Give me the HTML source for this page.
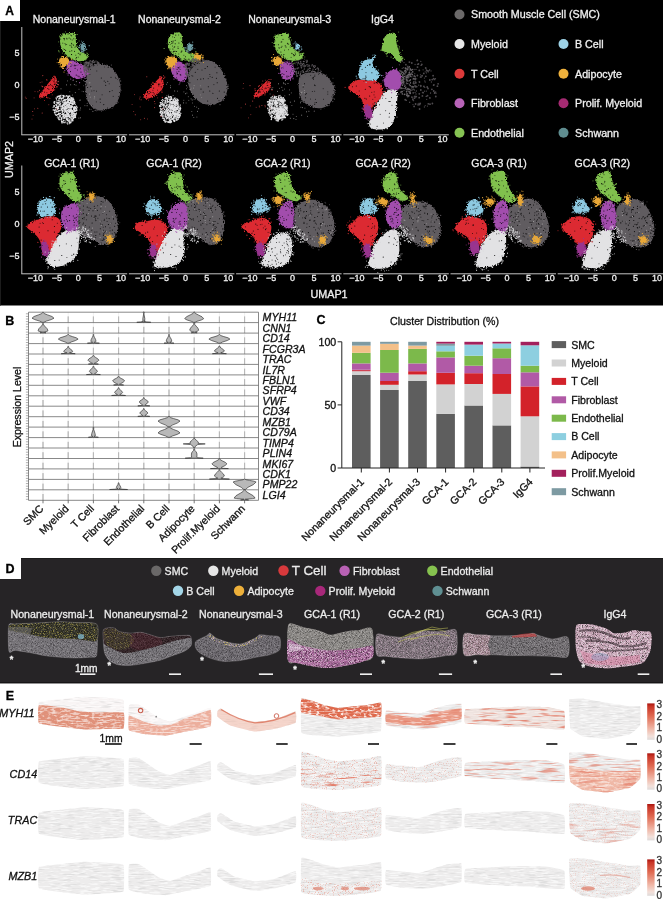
<!DOCTYPE html>
<html><head><meta charset="utf-8"><title>Figure</title>
<style>
html,body{margin:0;padding:0;background:#fff;}
body{width:663px;height:899px;overflow:hidden;}
svg{display:block;font-family:"Liberation Sans", Arial, sans-serif;filter:blur(0.3px);}
</style></head><body>
<svg width="663" height="899" viewBox="0 0 663 899">
<rect x="0" y="0" width="663" height="899" fill="#fff"/>
<defs><filter id="rough" x="-0.1" y="-0.1" width="1.2" height="1.2"><feTurbulence type="fractalNoise" baseFrequency="0.9" numOctaves="2" seed="3" result="t"/><feDisplacementMap in="SourceGraphic" in2="t" scale="3.2" xChannelSelector="R" yChannelSelector="G"/></filter></defs>
<rect x="0" y="0" width="663" height="305.5" fill="#000"/><rect x="0" y="21" width="1" height="284.5" fill="#1c1c1c"/>
<rect x="0" y="0" width="20" height="21" fill="#fff"/>
<text x="9.7" y="15" font-size="12" fill="#000" text-anchor="middle" font-weight="bold" stroke="#000" stroke-width="0.3">A</text>
<path d="M89.7,68.1C91.9,65.8 96.2,64.1 99.6,64C103.1,63.8 107.5,65.5 110.4,67.3C113.3,69.1 115.4,71.7 117.1,74.8C118.7,77.8 120,81.9 120.4,85.5C120.8,89.1 120.7,92.9 119.6,96.3C118.4,99.8 116.5,103.9 113.7,106.3C111,108.6 106.4,110.1 103,110.4C99.5,110.7 95.6,109.7 93,107.9C90.4,106.1 88.4,102.7 87.2,99.6C86,96.6 85.7,93.3 85.5,89.7C85.4,86.1 85.7,81.7 86.4,78.1C87.1,74.5 87.5,70.5 89.7,68.1Z" fill="#605b60" filter="url(#rough)"/>
<path d="M96.8 71h0M100.3 102.4h0M89.9 74.3h0M105.6 82.4h0M115.5 77.4h0M90.6 69.4h0M96.3 101.9h0M91.8 91h0M104.6 66.9h0M109.2 83.8h0M96.5 91.2h0M113.2 96.4h0M94 90.7h0M86.9 95h0M112.2 90.6h0M116 78.5h0M102.1 94.8h0" stroke="#000" stroke-width="0.75" stroke-linecap="round"/><path d="M108.2 67.3h0M104.2 81h0M87.6 87.5h0M86.8 84.1h0M107.4 108h0M107.8 81.3h0M101.3 77.9h0M103.8 104.6h0M111 77.3h0M100.1 99.1h0M90.8 86.7h0M109.8 91.6h0M105.7 85.2h0" stroke="#000" stroke-width="1.05" stroke-linecap="round"/>
<path d="M91.4 68.8h0M88.8 75.9h0M112.1 108.4h0M118.2 102.3h0M87.2 77.7h0M114.9 74.9h0M121.2 90.3h0M120.8 81.1h0M115.1 77h0M96.5 65h0M82.1 91.3h0M113.3 106.7h0M117.7 81.4h0M83.7 85.7h0M87.9 70.7h0M112.2 69.2h0M96.7 110.8h0M120.1 84.8h0" stroke="#605b60" stroke-width="0.80" stroke-linecap="round"/><path d="M111.3 68.2h0M86.7 98.7h0M87.2 103.3h0M84.9 81.4h0M104 66.2h0M120.2 80.9h0M100.1 64.6h0M117 102.9h0M97.8 110.1h0M118.3 97.7h0M90.8 104.9h0M119.1 79.1h0M119.7 78.7h0M83.5 91.6h0M87.2 81.8h0M108.7 107.5h0M95.2 110.4h0M111.4 65h0M106.9 65h0M120.1 89.5h0M93 107h0M112.8 102.8h0" stroke="#605b60" stroke-width="1.20" stroke-linecap="round"/>
<path d="M60.2 115.3h0M63 101.2h0M59.9 98.4h0M58.7 98.9h0M57.9 116.3h0M77.1 107.1h0M54.6 105.9h0M60.8 108.7h0M69.9 106.5h0M69.2 123.7h0M57.9 102.8h0M77.1 107.5h0M75.1 113.7h0M58.9 100.2h0M59.1 119.3h0M68.7 114.6h0M68.7 111.4h0M74.3 117h0M74.3 107.9h0M61.8 110.2h0M76.5 113h0M57 102.9h0M68.7 102.3h0M71.7 97.5h0M59.8 114h0M67.2 118.1h0M70.3 109.8h0M59.4 113.7h0M69.4 119.2h0M68.4 97.3h0M63.6 96.2h0M63.7 96.8h0M54.6 110.8h0M70.9 109.2h0M68.6 115.9h0M57.8 109.7h0M70 103.4h0M64.1 103.6h0M58.9 105.7h0M67.4 114.1h0M59.3 98.1h0M70.5 107.4h0M60.6 104.6h0M60.8 106.9h0M58.7 96.7h0M71.2 120.9h0M71.6 118.8h0M57.4 97.1h0M75 111.5h0M59.4 102.5h0M70.7 114.7h0M64.4 115.2h0M55.3 114.4h0M54.2 110h0M66 102.2h0M69.4 110.9h0M72 120.7h0M63.1 104.2h0M76.5 109.7h0M64 108.4h0M71.8 101.5h0M69.8 120.6h0M55.5 112.1h0M76.3 113.9h0M65.5 108.1h0M71.4 97.7h0M59.3 104.4h0M65.5 111.5h0M53.1 107.3h0M68.5 97.2h0M58 107.7h0M69.7 116.7h0M61.4 106.8h0M64.7 100.8h0M63.9 102.8h0M67.9 113.4h0M62.8 121.8h0M66.3 118h0M61.8 118.3h0M60 119.3h0M57.2 111.3h0M68.1 102.3h0M67.9 107.1h0M67.4 105.8h0M59.8 116.8h0M67.2 119.4h0M56.1 101.9h0M73.8 108.8h0M56.3 107.2h0M68.5 109.4h0M65.9 99.6h0M56.7 98.7h0M63.8 122h0M71.6 118h0M71.8 103.7h0M59.3 102.9h0M58.7 102.7h0M58.2 103.3h0M54 102.4h0M68.5 97.8h0M58.1 108.4h0M67.4 118.5h0M68.2 116.4h0M61.1 95.8h0M60.8 96h0M53.1 109.9h0M64.4 107.2h0M72.2 115h0M72.3 114.4h0M62.1 107.1h0M56.3 98.1h0M61.4 118.4h0M56.4 99.9h0M75.1 104.3h0M57.2 109.2h0M61.3 99.3h0M68.5 104.1h0M76.9 108.9h0M72.7 120.3h0M72.5 107h0M61.4 119.3h0M75.3 104.3h0M70.3 97.1h0M71.1 122.1h0M68.6 118.7h0M74.4 103.5h0M67.5 102.4h0M64.3 112.8h0M67.7 102h0M61.6 100.8h0M58.9 118.2h0M76.4 108.6h0M74.7 102.4h0M65.7 121h0M67.7 124.1h0M59.6 113.9h0M62.7 105.8h0M53.5 109.7h0M67.6 96.1h0M59.8 98.8h0M61.5 120.1h0M72.3 116.4h0M56 115.1h0M67.2 112.4h0M55 113.5h0M68.7 100.7h0M62.7 113.5h0M65 96.6h0M65.8 106.2h0M63.2 122.7h0M58.9 114.4h0M58.9 96.3h0M54.5 110.2h0M73.3 100.9h0M67.3 106.3h0M65.7 109.2h0" stroke="#e2e2e4" stroke-width="1.15" stroke-linecap="round"/><path d="M57.4 108.4h0M62.7 106.7h0M68.4 105.9h0M64 117.6h0M56.4 115.2h0M62.8 105.6h0M65.2 103.7h0M72.8 120.7h0M62.5 111.1h0M65.2 109.8h0M60.5 103.2h0M72.3 100.3h0M74.6 102.9h0M58.8 113.3h0M75.6 114h0M65.6 101h0M63.4 115.3h0M76.7 110.4h0M58.5 108.4h0M60 101.3h0M58.1 100.8h0M69.6 96.1h0M60.4 95.7h0M74.3 101.4h0M56.9 105h0M54.4 103.2h0M72.7 99.1h0M67 106.8h0M73.6 99.4h0M70.1 110.4h0M63 116.2h0M64.9 122.6h0M71.1 112.1h0M76.2 106.2h0M58.4 102.8h0M72.5 120.6h0M58.2 117.9h0M58.1 114.6h0M63.8 120.6h0M59.5 96.1h0M68.1 100.8h0M67.3 104.8h0M67.8 98.8h0M64.4 109.6h0M63.9 118.2h0M60.1 97.3h0M54.3 110.2h0M62 122.8h0M61.4 109.9h0M74.2 106.8h0M69.3 107.1h0M61.7 98.4h0M62.1 121.4h0M59.3 96.2h0M68.8 114.2h0M63.2 104.4h0M63 95.6h0M71.3 106.9h0M74.1 111.7h0M75.6 107.3h0M67.7 98.9h0M74 109.6h0M56.6 107.4h0M62.5 102h0M72.6 111.6h0M63.6 104.9h0M71.3 107.8h0M56.7 111.7h0M60.3 106h0M72.5 100.9h0M61.9 117.6h0M57.6 103h0M71.1 110h0M66.6 105.7h0M61.9 114.5h0M55.5 107.7h0M71.4 119.4h0M75.5 110.9h0M57.1 102.7h0M73.2 102.1h0M68.5 96.4h0M61.6 109.8h0M71.4 100.6h0M74.7 109.6h0M67.2 123h0M67.2 107.4h0M70 100.3h0M63.5 116.5h0M60.2 98.1h0M57.1 114.7h0M65.4 109h0M60.1 116.9h0M63.4 98h0M63.5 104.6h0M70.7 109.2h0M61.7 108.9h0M69.5 123h0M72.9 98h0M70.2 109h0M71.7 118.9h0M55.7 109.9h0M59.9 115.9h0M71.9 112.9h0M65.1 106.7h0M63 97.9h0M57.5 107.6h0M58.2 111.2h0M63.3 100.4h0M58.5 110.8h0M63.9 95.8h0M61.7 121.6h0M58.2 96.2h0M67.3 120.1h0M57.2 97h0M65.1 100.1h0M70.6 122.7h0M72.6 119.8h0M62.5 106.1h0M67.8 97.1h0M56.2 111.1h0M68.6 106.9h0M69 107.5h0M74.3 107.4h0M75.8 108h0M54.6 112.4h0M62.2 112.2h0M75.4 117.3h0M56.6 105.3h0M54 106.4h0M71.1 119h0M72.4 103.9h0M67.5 114.2h0M69.5 122h0M68.3 121h0M67.8 113.5h0M66.4 95.9h0M73.3 115.3h0M69 104.6h0M62.1 108.7h0M73.5 118.5h0M58.6 106.6h0M61.5 110.1h0M63.5 113.7h0M54 105.7h0M64.9 114.8h0M67.6 115.9h0M72.5 119.1h0M69.4 116.8h0M60.4 113.5h0M74.9 108.7h0M62.4 114.2h0M59.3 104.7h0M61.7 119h0M65.3 115.8h0M70.7 106.1h0M61.7 106h0M56 104.8h0M54.4 101.7h0M59.7 110.5h0M74.6 117.2h0M70.9 101.5h0M59.9 110.7h0M65.6 107.3h0M63.6 96.6h0M59.1 119.6h0M67.3 110.6h0M64.6 99.7h0M62.6 110.6h0M68.3 114.5h0M70.4 109.3h0M68.2 115.5h0M69.4 122.8h0M57.1 106.6h0M72 106.7h0" stroke="#e2e2e4" stroke-width="1.65" stroke-linecap="round"/>
<path d="M39.1,95.5C39.4,94.1 41.4,92 43.2,89.7C45,87.3 48.1,83.5 49.9,81.4C51.7,79.3 52.9,77.5 54,77.2C55.1,77 56.2,78.2 56.5,79.7C56.8,81.3 56.4,84.4 55.7,86.4C55,88.3 53.9,89.8 52.4,91.3C50.8,92.9 48.3,94.4 46.5,95.5C44.7,96.6 42.8,98 41.6,98C40.3,98 38.8,96.9 39.1,95.5Z" fill="#dc2c30" filter="url(#rough)"/>
<path d="M52.3 80.2h0M52.6 88.7h0M51.5 79.9h0M48.7 85.7h0M49.1 85.5h0M54.3 79h0M54.3 80.1h0M51.2 85.6h0M43.9 89h0M46.9 92.7h0M41.6 93h0" stroke="#000" stroke-width="0.75" stroke-linecap="round"/><path d="M50.6 84.3h0M55 83.1h0M45.3 87.5h0M54.3 84.4h0M53.4 87.1h0M47.8 88.5h0M50.8 91.5h0M44.5 92h0M54.1 81.1h0M48.9 89.2h0M52.6 86h0M52.5 88.6h0M54 81.8h0M55.2 84.8h0" stroke="#000" stroke-width="1.05" stroke-linecap="round"/>
<path d="M51.1 79.6h0M54.6 80h0M58.3 84.5h0M42.4 96.4h0M52.7 77.9h0M51.2 88.5h0M56.3 78.6h0M56.1 79.4h0M52.2 94.8h0M41.8 86.1h0M55.5 80h0M52 91.4h0M45.1 86.8h0M52.6 90.9h0M40.4 98.1h0M44.5 100.5h0M58.7 81.7h0M51.9 79.9h0M46.6 79.7h0M42.8 86.7h0M39.7 97.3h0M56.6 80.2h0M57.6 86.7h0M57.7 81.8h0" stroke="#dc2c30" stroke-width="0.80" stroke-linecap="round"/><path d="M42.3 95.8h0M52.7 90.4h0M51.7 80.5h0M54.1 76.2h0M56 79.3h0M46.6 97.4h0M39.7 97.1h0M52.5 79.5h0M52 80.6h0M49 91.7h0M45.2 91.5h0M47.9 97.8h0M55.1 81h0M45.3 86.9h0M54.7 89.8h0M55.1 76.5h0" stroke="#dc2c30" stroke-width="1.20" stroke-linecap="round"/>
<path d="M68.1,61.5C69.3,60.7 72.1,60.3 73.9,60.7C75.7,61 76.8,62.4 78.9,63.5C81,64.6 84.8,65.7 86.4,67.3C87.9,68.9 88.4,71.4 88,73.1C87.6,74.8 85.7,76.3 83.9,77.2C82.1,78.2 79.3,79 77.2,78.9C75.2,78.8 73.1,77.7 71.4,76.4C69.8,75.2 68.1,73.2 67.3,71.4C66.5,69.6 66.7,67.3 66.8,65.6C66.9,64 66.9,62.3 68.1,61.5Z" fill="#a24ead" filter="url(#rough)"/>
<path d="M76 65.4h0M71.9 65h0M80.4 68.7h0M77.6 70h0M74.4 61.4h0M75.5 65.7h0M77.9 64.9h0M82.3 74.5h0M70.5 63.2h0M77.8 76h0M80.4 77.9h0M79 76.3h0M74.4 77.7h0M74.4 65.1h0M83.3 76.5h0M79 77h0" stroke="#000" stroke-width="0.75" stroke-linecap="round"/><path d="M75.1 68.2h0M76.2 75.1h0M70.5 71.6h0M81 72.1h0M70.9 66.3h0M86.2 70.1h0M74.2 65.8h0M68.7 68.1h0M80.9 65.2h0" stroke="#000" stroke-width="1.05" stroke-linecap="round"/>
<path d="M67.5 67.5h0M72.3 61.8h0M64.5 65.8h0M81.7 79.2h0M74.2 77.3h0M70 70.2h0M67.5 60.5h0M87.6 74.1h0M76.5 61.7h0M68.7 67.3h0M73.5 80h0M67.1 73.7h0M87.4 74.1h0M89.8 73.6h0M67.4 62.2h0M69.7 69.5h0M89.1 68.5h0M68.8 73.4h0M67.7 64h0" stroke="#a24ead" stroke-width="0.80" stroke-linecap="round"/><path d="M80.6 64.9h0M83.1 66.7h0M64.3 66.1h0M68.1 75h0M78.8 78.2h0M66.6 69.2h0M77.7 64.5h0M68 62.1h0M63.6 63.5h0M67.1 65.4h0M78.9 64.9h0M64.8 70.5h0M88.2 73.5h0M66.9 69.1h0M84.2 77.1h0M79.6 82.7h0M70.7 79h0M81.6 64.3h0M69.5 68h0M83.3 66h0M62.9 68.1h0" stroke="#a24ead" stroke-width="1.20" stroke-linecap="round"/>
<path d="M60.7,36.6C61.4,35 62.6,34.2 64.8,33.6C67,33 72.1,32.4 73.9,32.9C75.7,33.4 75.2,34.6 75.6,36.6C76,38.6 75.7,42.5 76.4,44.9C77.1,47.2 78.2,49.2 79.7,50.7C81.3,52.2 84,53.2 85.5,54C87.1,54.8 88.7,54.8 88.9,55.7C89,56.5 87.5,58.1 86.4,59C85.3,59.9 84,60.9 82.2,61.1C80.4,61.4 77.7,61.2 75.6,60.7C73.5,60.1 71.4,58.9 69.8,57.8C68.1,56.7 66.9,55.3 65.6,54C64.4,52.7 63.2,51.7 62.3,49.9C61.4,48.1 60.4,45.4 60.2,43.2C59.9,41 59.9,38.2 60.7,36.6Z" fill="#80c04e" filter="url(#rough)"/>
<path d="M66.7 44.5h0M65.6 44.8h0M71.7 54.6h0M62.8 43.2h0M70.7 35.1h0M63.2 49h0M64.3 38.5h0M75 47.3h0M78.2 57.2h0M60.7 39.1h0M67 39.2h0M72.2 40h0M72 44.2h0M65 43.6h0M69.8 57.5h0M71.3 46.1h0M68.2 33.7h0M75.8 55.2h0M84.6 53.7h0M80.1 54.8h0" stroke="#000" stroke-width="0.75" stroke-linecap="round"/><path d="M73.5 34.1h0M74.5 51.2h0M80 54h0M69.1 37.9h0M78.3 53.3h0M76 58.8h0M71.6 35.7h0M76.4 57.5h0M73.6 45.1h0M64.3 39.7h0M68.1 33.9h0M65.7 50.5h0M71.5 54.5h0M64.7 49.5h0M71.5 43.2h0M69.8 51.3h0M70 45.2h0M63.9 38.5h0M76.1 46.1h0M70.7 39h0M71.8 50.7h0M73.8 38.7h0M71.8 47.3h0M66.8 38.3h0M86.4 55.7h0" stroke="#000" stroke-width="1.05" stroke-linecap="round"/>
<path d="M71.6 58.8h0M58.7 41.9h0M77.5 42.6h0M68.9 55h0M79.1 41h0M65.1 53.4h0M64.1 36.9h0M62.2 45.7h0M65.5 31.9h0M86.2 59.3h0M60.2 38.2h0M67.9 56.7h0M64.9 54.7h0M62.3 36.1h0M78.5 47.5h0M68.9 56.8h0M87.5 53.4h0M83.7 52h0M68.8 34h0M59.2 51.9h0M83.7 60.4h0M62.4 53.1h0M86.8 53.1h0" stroke="#80c04e" stroke-width="0.80" stroke-linecap="round"/><path d="M60.2 37.2h0M62.6 49.5h0M86 56.3h0M77.1 34.5h0M82.5 53.4h0M73.2 35.6h0M67 56.7h0M58.7 50.8h0M70.3 57.7h0M64.3 34.2h0M77.2 46h0M64 50.6h0M59.8 36.2h0M83.2 49.7h0M79.2 46.8h0M71.9 58.1h0M62.7 33.8h0" stroke="#80c04e" stroke-width="1.20" stroke-linecap="round"/>
<path d="M81.1,44.9C81.4,44.1 82.4,43.4 83,43.6C83.7,43.7 84.8,44.7 85,45.7C85.3,46.8 84.8,49 84.4,49.9C83.9,50.7 82.8,51 82.2,50.7C81.6,50.4 80.9,49.2 80.7,48.2C80.5,47.2 80.7,45.7 81.1,44.9Z" fill="#6f9ea6" filter="url(#rough)"/>
<path d="M79.7 45.4h0M80 50.9h0M82.2 48.9h0M83.3 41.6h0M82.9 46.5h0M82 50.6h0M78.6 47.7h0M81.5 41.2h0M84.2 43.6h0M82.3 52.1h0M82.3 47.6h0M84.5 48.8h0M83.1 48.1h0M80.8 46.3h0M84.9 50.1h0M82 44.2h0M83.6 45.3h0M84.5 50.1h0M82.4 42.5h0M85.1 48.6h0M83.7 50.3h0" stroke="#6f9ea6" stroke-width="0.80" stroke-linecap="round"/><path d="M81.5 48.6h0M83.7 51.9h0M86.4 49.2h0M81.6 51.8h0M79.6 47.7h0M82.4 44.6h0M81.8 51.2h0M84.3 43.9h0M84.2 43.5h0M79.5 45.5h0M81 49h0M86.7 49.3h0M82.3 42.6h0M89.2 45.7h0M83.7 46h0M83.8 50.6h0M85 50.1h0M80.4 44.2h0M85.2 45.1h0" stroke="#6f9ea6" stroke-width="1.20" stroke-linecap="round"/>
<path d="M59.8,59C60.6,58.1 62.1,56.9 63.5,56.8C64.9,56.8 67.2,57.6 68.1,58.5C69,59.4 69.4,61.1 68.9,62.3C68.5,63.5 66.7,64.5 65.6,65.6C64.6,66.7 63.5,69.1 62.8,68.9C62.1,68.8 62.1,65.9 61.5,64.8C60.8,63.7 59.3,63.3 59,62.3C58.7,61.3 59.1,59.9 59.8,59Z" fill="#e9a838" filter="url(#rough)"/>
<path d="M63.6 60.2h0M57.1 62.6h0M60 66.8h0M62.4 61.6h0M59.8 59.2h0M62.6 67.6h0M62.8 56.5h0M63.1 57.1h0M65.4 59.5h0M63.7 68.4h0M67.5 60.1h0M63.4 66.6h0M67.2 57.8h0M68.7 67.6h0M64.5 64h0M57.5 59.1h0M60.2 58.2h0M63.8 61.9h0M71.3 62.7h0" stroke="#e9a838" stroke-width="0.80" stroke-linecap="round"/><path d="M64 64.3h0M71.5 59.2h0M70.2 62.7h0M64 72h0M67.3 61.1h0M61.4 66.4h0M61.8 56.5h0M63.1 66h0M63.5 65.7h0M64.4 66.1h0M60.6 64.2h0M62.6 66.6h0M64.2 58.6h0M62.9 68.4h0M61.4 67h0M63.3 66h0M61.5 67.1h0M67.1 62.5h0M60.8 65.9h0M59.1 64h0M69 65.7h0" stroke="#e9a838" stroke-width="1.20" stroke-linecap="round"/>
<path d="M190.9,69.8C192.8,66.9 196.8,63.8 200,62.3C203.2,60.8 207.1,60.2 210,60.7C212.9,61.1 215.2,62.7 217.4,64.8C219.6,66.9 221.6,69.8 223.2,73.1C224.9,76.4 226.8,81.4 227.4,84.7C227.9,88 227.5,90.2 226.6,93C225.6,95.8 223.8,99.4 221.6,101.3C219.4,103.2 216.3,104.2 213.3,104.6C210.2,105 206.4,104.9 203.3,103.8C200.3,102.7 197.2,100.3 195,98C192.8,95.6 191.2,92.7 190,89.7C188.9,86.6 188.3,83 188.4,79.7C188.5,76.4 188.9,72.7 190.9,69.8Z" fill="#605b60" filter="url(#rough)"/>
<path d="M191.9 75.6h0M197.4 79.6h0M215.1 67.2h0M192.8 76.2h0M202 70.1h0M208.2 78.6h0M210.1 76.6h0M213.9 84.6h0M197.8 69.4h0M219 100.6h0M209.8 74.5h0" stroke="#000" stroke-width="0.75" stroke-linecap="round"/><path d="M224.2 92.1h0M219.3 91h0M189.9 82.8h0M207.4 66.6h0M205.1 68.5h0M217.2 82.7h0M207.7 101h0M216.9 72.7h0M195.3 72.3h0M209.8 91h0M216.4 78.2h0M200.8 79.1h0M203.4 78.7h0M212.2 77.2h0M201 89.1h0M217.5 98.2h0M208.3 86.7h0M212.9 93.3h0M203.2 92h0" stroke="#000" stroke-width="1.05" stroke-linecap="round"/>
<path d="M191.8 69.8h0M202.6 60h0M226.5 79.2h0M188.7 78h0M208.8 60.9h0M193.3 94.3h0M187.6 87.2h0M225.3 85.3h0M204.2 102.2h0M206.1 62.4h0M204.2 61.7h0M198.9 64.2h0M186.1 78.4h0M221 70.8h0M223.1 99.1h0M210.4 105.8h0M225.5 82.3h0M222.7 99.8h0M215.9 102.6h0M194 99.4h0" stroke="#605b60" stroke-width="0.80" stroke-linecap="round"/><path d="M226.6 95h0M214.1 104.2h0M211.5 62h0M227.3 87.9h0M210.8 104.2h0M224.6 75.3h0M189.8 73.3h0M223.1 78.6h0M228.3 88.3h0M212 102.2h0M221.2 97h0M220 104.6h0M196.9 63.2h0M223.6 100.2h0M207.6 61.5h0M189.3 81.5h0M228.2 86.2h0M223.3 98.7h0M218.8 68.1h0M186.8 77h0" stroke="#605b60" stroke-width="1.20" stroke-linecap="round"/>
<path d="M178.1 104.1h0M164.6 111.8h0M166.5 111.2h0M162.8 117.5h0M173.7 102.3h0M169.8 115.7h0M171.1 104h0M167.1 116.2h0M161.4 109.2h0M178.7 112.2h0M162.5 103.5h0M164.4 120.9h0M180.5 113.8h0M160.5 105.2h0M169.4 102.9h0M176 101.1h0M177 104.2h0M161.5 111h0M169.7 97.2h0M172.3 105.7h0M167.7 113.9h0M163 100.8h0M180.4 105.1h0M178.2 119.5h0M162 109.5h0M171.4 99.4h0M169.8 100.7h0M171.3 109.8h0M167.6 101.6h0M168.4 101.7h0M162.2 102.7h0M178.9 109.6h0M180.5 109.3h0M177.1 111.5h0M168.2 110.1h0M165.9 120h0M174.9 117.9h0M168.6 107.1h0M161.3 102.8h0M162.7 105.5h0M162.5 101.6h0M164.3 105.1h0M170.5 117h0M173.6 101.6h0M173.4 118.8h0M177 98.8h0M175.4 105.6h0M162.4 118.3h0M176 118.4h0M169.1 118.2h0M176.9 119.4h0M166.1 121.8h0M178.1 102.5h0M163.8 108.5h0M175.3 106.7h0M176.9 117.4h0M161.3 113.6h0M169.6 105.2h0M178.3 112.8h0M165.9 98.7h0M177.4 99.5h0M177.8 101.2h0M165.4 121.7h0M167.5 102.3h0M179.3 112.5h0M179.4 106.8h0M163 110.3h0M177.5 103h0M171.7 119.2h0M170.9 106.3h0M174.2 113.1h0M170.5 106h0M171.8 108.2h0M175.7 116.2h0M160.1 105h0M160.4 106.7h0M176.1 113.4h0M165.6 116.6h0M168.8 122.3h0M173.9 117.7h0M174.5 106.4h0M163 111.6h0M167.1 100h0M170.9 119.6h0M160.6 104.2h0M167.9 122h0M166.3 121.4h0M169.2 99.2h0M165.2 106.8h0M178.1 113.2h0M176.8 104.7h0M162.8 116.4h0M174.4 116.3h0M165.5 106h0M164.8 98.2h0M174.5 107.3h0M177.4 99.3h0M181 113.2h0M174.9 116.9h0M168.2 121.3h0M176 105.4h0M178.9 110.4h0M172.2 103.6h0M178.3 117.3h0M175.1 115h0M173.1 103.6h0M164.1 102.3h0M167.4 114.9h0M173.4 100h0M165.5 97.9h0M167 105.1h0M178.2 117.8h0M160.8 113h0M175.6 111.9h0M162.4 108.4h0M163.6 107h0M165.7 101.5h0M169.2 101.6h0M175.1 101.5h0M175.5 98h0M173.5 103.3h0M163.3 105.8h0M169.5 99h0M161.7 100.4h0M176.8 108.8h0M177.2 109h0M177.8 99.7h0M161.8 111.3h0M170.7 101.9h0M179.7 115.2h0M177 108.6h0M166.6 112.9h0M179.2 109.2h0M173.7 101.8h0M164.8 120.4h0M172.6 99.7h0M163.8 108.4h0M169.9 100.1h0M160.8 102.7h0M168.1 117.2h0M175.3 101.3h0M177.4 100.6h0M178.4 111.1h0M177.8 109.7h0M173.2 112.1h0M160.6 110.8h0M177.5 108.5h0M162.1 113.6h0M164 107.7h0M178.4 118.8h0M161.6 106.1h0M161.9 114.7h0M172.8 110.1h0M173 113.5h0M179.9 115.8h0M178.1 115.3h0M178.4 107.8h0M180.5 108.1h0M175.2 103h0M166.1 105.6h0M166.6 98.8h0M176.4 118.5h0M164.5 119.9h0M180 105h0M176.6 116.9h0M177.8 104.7h0M173.4 106.1h0M163 110.4h0M180.4 107.1h0M165.2 115.3h0M174.8 116.1h0M173.8 112h0M174.1 112.2h0M162.5 99.3h0M170.4 122.1h0M176.6 101h0M168.5 114.6h0M169.3 115.7h0M167 118.4h0M163.6 120.3h0M172.5 113.9h0M163.4 100.1h0" stroke="#e2e2e4" stroke-width="1.15" stroke-linecap="round"/><path d="M179.6 114.5h0M166.6 118.7h0M160.1 106.4h0M171.6 98.8h0M169 114.3h0M170.5 121h0M171.5 98.7h0M160.1 112.2h0M160.9 111.2h0M177 112.1h0M170.9 98.9h0M173.8 99.8h0M170.1 100.3h0M174.8 102.4h0M176.2 100.4h0M161.2 111.7h0M164.6 112.1h0M176.9 115.2h0M160.7 102.8h0M160.3 112.7h0M167 117.8h0M169.7 120.8h0M175.8 114.3h0M177.1 109.1h0M179.7 116.3h0M174.4 116.1h0M177.3 112h0M171.3 121.4h0M177 103h0M164.7 109.4h0M179.7 114.5h0M174.6 121.3h0M177.9 107.1h0M178.1 105.3h0M172.7 118.5h0M170.3 96.8h0M168.7 112.4h0M164.1 105.7h0M165.4 114.9h0M169.3 113.9h0M170.5 121.7h0M170.7 122.6h0M163.6 118.4h0M180.5 108.4h0M167.2 99h0M174.3 98.3h0M173.3 108.1h0M167.8 110.2h0M174.5 120.4h0M178.1 114.5h0M176.2 120h0M172.5 111.6h0M165.9 110.8h0M174.8 103.7h0M177.9 117.4h0M163 115.9h0M163.2 104.6h0M163.8 104.8h0M168 121.9h0M165.3 101.7h0M179.7 108.3h0M169.9 111.2h0M179.9 110.4h0M165.8 113.1h0M165.2 116.8h0M172 105.7h0M171.6 116.3h0M166.2 113.4h0M168.1 117.7h0M167.2 101.3h0M171 114.1h0M166.9 98.1h0M168.6 109.7h0M178.4 114.1h0M172.3 107h0M178.1 100.3h0M174.4 116.3h0M170.6 120.2h0M179.5 116h0M177.7 113.5h0M160.9 112.3h0M177.8 103.6h0M161.5 114.3h0M169.3 111.1h0M164.4 113h0M172.1 102.1h0M177.1 101.9h0M171.4 97.1h0M170.7 107.6h0M168.3 109.9h0M172.5 102.3h0M161 109h0M174.6 115.1h0M169.5 105.4h0M175.8 110h0M165.3 111.2h0M180 115.5h0M178.7 115.5h0M167.3 100.7h0M166.2 97.5h0M169.1 115.8h0M168 117.9h0M172.5 106.4h0M171.3 98.2h0M167.9 99.1h0M172.5 113.2h0M175.2 108h0M160.9 115.6h0M160.6 108.8h0M168.3 114.2h0M175.3 102.7h0M173.9 114.7h0M179.7 112.2h0M177.8 113.2h0M160.4 102.7h0M174.4 121h0M173.7 120.7h0M165.2 100.4h0M170.8 99.1h0M177 119.9h0M165.9 106.9h0M171.6 105.7h0M161.5 115.7h0M166.1 116.6h0M162.7 112.4h0M169.6 107.1h0M169.3 122.4h0M174 121.1h0M165.5 103h0M168.6 96.9h0M179.3 117.4h0M171.3 99.1h0M171.4 122h0M173.9 110.6h0M179.8 114.6h0M164.1 104h0M169.2 114.6h0M176.2 102.9h0M174.8 101.9h0M165.2 121.9h0M174.9 104.4h0M159.7 105.9h0M174.8 103.6h0M161.6 104.4h0M164.4 119h0M177.3 114.1h0M162.9 113.8h0M167.9 113.6h0" stroke="#e2e2e4" stroke-width="1.65" stroke-linecap="round"/>
<path d="M143.6,96.3C143.9,94.8 146.6,91.9 148.6,89.7C150.5,87.5 153.1,85.3 155.2,83C157.3,80.8 159.6,76.7 161,76.4C162.4,76.1 163.2,79.5 163.5,81.4C163.8,83.3 163.5,86.1 162.7,88C161.8,90 160.3,91.5 158.5,93C156.7,94.5 153.8,96.2 151.9,97.2C150,98.1 148.3,99 146.9,98.8C145.5,98.7 143.3,97.8 143.6,96.3Z" fill="#dc2c30" filter="url(#rough)"/>
<path d="M157.4 90.2h0M161.5 81h0M161.1 86.8h0M148.6 91.4h0M156.3 82.7h0M161.7 79.3h0M152.9 90.3h0M149.3 93.6h0M154.2 95.1h0M158.8 86h0M148.4 98.2h0M157.8 92.9h0" stroke="#000" stroke-width="0.75" stroke-linecap="round"/><path d="M149.8 91.3h0M148.1 93.7h0M146.6 97.3h0M153.7 88.1h0M150.8 92.5h0M154.1 93.8h0M151.3 87.2h0M153.1 92.4h0M158.9 84.7h0M161.6 87h0M159.8 84h0M146.5 95.6h0M158.4 84.1h0" stroke="#000" stroke-width="1.05" stroke-linecap="round"/>
<path d="M162.7 80.1h0M161.6 89.2h0M144.3 96.6h0M160.8 76.8h0M147.8 98.1h0M148.8 97.6h0M161.9 90.1h0M149.6 90.6h0M154.9 87.4h0M154.9 94.5h0M148.6 100.2h0M146.5 98.7h0M160.5 78.6h0M151.3 84.6h0M159.5 77h0M148.4 91.5h0M157.1 93.2h0M158.1 79.6h0M156.5 81.1h0M158 80.7h0M164.2 78.1h0M155.7 82.2h0M158.6 80.3h0M156.7 93.5h0M162.7 82h0M163.4 78.8h0M146.6 99h0" stroke="#dc2c30" stroke-width="0.80" stroke-linecap="round"/><path d="M160.1 76.9h0M145.4 95.8h0M162 92.2h0M162.3 97.4h0M162.8 86.4h0M156.7 95.2h0M152 86.7h0M164.8 77.1h0M148.4 90.4h0M152.9 82.3h0M161.1 87.8h0M153 83.1h0M157.2 86.1h0" stroke="#dc2c30" stroke-width="1.20" stroke-linecap="round"/>
<path d="M171.8,64C173,62.7 176.4,61.5 178.4,61.5C180.5,61.5 182.7,62.6 184.2,64C185.8,65.4 187.1,67.4 187.6,69.8C188,72.1 187.7,76.1 186.7,78.1C185.8,80 183.4,81.1 181.8,81.4C180.1,81.7 178.3,80.8 176.8,79.7C175.3,78.6 173.6,76.6 172.6,74.8C171.7,73 171.1,70.7 171,68.9C170.8,67.1 170.6,65.2 171.8,64Z" fill="#a24ead" filter="url(#rough)"/>
<path d="M176.9 74h0M186.2 69.5h0M180.1 69.5h0M185.9 77.4h0M171.4 67.9h0M176.8 72.1h0M186.4 74.2h0M177 79.7h0M179.9 67h0M176.5 77.8h0M173.6 75.2h0" stroke="#000" stroke-width="0.75" stroke-linecap="round"/><path d="M178.1 67.4h0M180.2 74.7h0M183.2 80.4h0M173.4 68.8h0M185.1 77.2h0M180.8 75h0M174 63.8h0M178.9 71.3h0M177 79.3h0M178.9 68.1h0M177.4 73.6h0M184 66.7h0M177.1 69.2h0M173.4 66h0" stroke="#000" stroke-width="1.05" stroke-linecap="round"/>
<path d="M185.1 65.5h0M179.9 80h0M171.9 71.4h0M170 68.8h0M172.6 63h0M179.1 84.6h0M187.6 73.5h0M180.2 79.6h0M182.1 79.7h0M184.3 80.8h0M172.9 61.5h0M180.5 81.7h0M174.9 61.6h0M169.9 64.9h0M188.5 78.1h0M179.8 58.5h0M186 78.8h0M186.5 65.4h0M173 70.6h0M187.4 72.5h0M175.1 62.2h0" stroke="#a24ead" stroke-width="0.80" stroke-linecap="round"/><path d="M174 79.1h0M173.5 69h0M187 63.2h0M172.3 60.4h0M175 77.6h0M169 66.4h0M189.4 68.1h0M186.9 72.9h0M173 68.3h0M182.9 64.1h0M178.9 64.3h0M184.9 78.8h0M182.9 81.6h0M185.5 78.4h0M174 70.1h0M187.3 63.5h0M184.5 81.2h0M184.7 74.1h0M179 62.4h0" stroke="#a24ead" stroke-width="1.20" stroke-linecap="round"/>
<path d="M168.5,38.3C169.2,36.2 170.8,35.1 172.6,34.1C174.4,33.1 177.7,32.2 179.3,32.4C180.8,32.7 181.2,34 181.8,35.8C182.3,37.6 182.2,41 182.6,43.2C183,45.4 183.4,47.5 184.2,49C185.1,50.6 186.2,51.5 187.6,52.4C188.9,53.2 191,53.6 192.5,54C194.1,54.4 195.4,54.4 196.7,54.8C197.9,55.3 199.7,55.7 200,56.5C200.3,57.3 199.5,59.1 198.3,59.8C197.2,60.5 195.2,60.5 193.4,60.7C191.6,60.8 189.5,60.9 187.6,60.7C185.6,60.4 183.7,59.8 181.8,59C179.8,58.2 177.7,56.8 175.9,55.7C174.1,54.6 172.3,53.9 171,52.4C169.7,50.8 168.6,48.9 168.1,46.5C167.7,44.2 167.7,40.3 168.5,38.3Z" fill="#80c04e" filter="url(#rough)"/>
<path d="M186.1 59.2h0M174.6 37.5h0M189.2 59.3h0M173.3 52.9h0M172.7 36.9h0M175.7 53.8h0M178.8 54h0M175.2 51.3h0M184.2 58.5h0M178.7 35h0M178 46.9h0M182 51.1h0M180.8 38h0M183.9 55.3h0M172.6 46.1h0M172.2 51.8h0M190.9 55h0M193.2 56.8h0M186.9 59.8h0M188.7 59.2h0M181.5 51.2h0M174.1 47.4h0" stroke="#000" stroke-width="0.75" stroke-linecap="round"/><path d="M185.5 56.8h0M174.7 46.8h0M178.1 48.5h0M168.4 44.2h0M181.1 52.1h0M172.9 42.7h0M172.9 49h0M170 44.4h0M175.8 35.1h0M173.1 41.1h0M173.5 51.3h0M170.9 51.8h0M176.6 51.4h0M175.2 43.7h0M173.1 34.4h0M174.3 51.3h0M171.7 41.5h0M169.9 48.9h0M191.3 56.8h0M171.8 43.2h0M169.5 42.4h0M178.9 43h0M175.2 40.3h0" stroke="#000" stroke-width="1.05" stroke-linecap="round"/>
<path d="M200.5 56.6h0M186.5 58.7h0M194.7 57.3h0M191.7 53.1h0M196 59.1h0M181.3 34.9h0M187.9 49.9h0M190.9 59.2h0M194.2 54.9h0M197.6 60.8h0M183.8 49.2h0M186.8 59.4h0M188.6 60.6h0M177.7 53.7h0M191.2 53.7h0" stroke="#80c04e" stroke-width="0.80" stroke-linecap="round"/><path d="M195.3 59.3h0M182.2 60.4h0M187.6 51.1h0M195.9 51.6h0M180.9 59.9h0M169.6 44.6h0M185.1 60.2h0M192.3 61.4h0M176.9 33.4h0M198.6 59.7h0M194.2 54h0M179 57.4h0M174.8 32.8h0M164.1 48.5h0M174.9 33.5h0M172.3 51.6h0M183.7 51h0M199.4 62.5h0M201.1 57.3h0M185.4 64.1h0M197.3 59.2h0M187.1 50h0M174.1 55.5h0M173.6 38.1h0M181.8 59.6h0" stroke="#80c04e" stroke-width="1.20" stroke-linecap="round"/>
<path d="M188.1,44.9C188.5,44.1 189.7,43.4 190.4,43.6C191,43.7 191.9,44.7 192,45.7C192.2,46.8 191.8,49 191.4,49.9C190.9,50.8 189.9,51.4 189.2,51.2C188.6,51 187.8,49.6 187.6,48.5C187.4,47.5 187.6,45.7 188.1,44.9Z" fill="#6f9ea6" filter="url(#rough)"/>
<path d="M187.9 47.9h0M191.2 49.8h0M192.1 47.1h0M191.8 46.3h0M189.4 46.7h0M194.9 48.6h0M190.6 50.5h0M188.4 47.6h0M188 52.5h0M186.5 48h0M188.1 48.7h0M188.9 44.8h0M192.8 48.4h0M192.5 47.7h0M186.7 51.6h0M192.9 45h0M186.6 50.5h0M188.8 46h0M191.2 47.3h0M187.2 49.1h0" stroke="#6f9ea6" stroke-width="0.80" stroke-linecap="round"/><path d="M184.9 49.9h0M188.3 49.2h0M192.2 48h0M185.7 47.9h0M187.1 51.4h0M192.1 47.8h0M192.7 47.4h0M190.1 48.5h0M190.3 48.2h0M192.7 42.1h0M184.8 47.6h0M188.3 45.7h0M192.1 49.2h0M187.3 46h0M192.1 44.3h0M189.1 44.4h0M189.7 43.1h0M191.2 48.8h0M189.9 46.4h0M188.9 45.8h0" stroke="#6f9ea6" stroke-width="1.20" stroke-linecap="round"/>
<path d="M166.8,58.2C167.7,57.2 170.1,56.7 171.8,56.8C173.5,57 176.1,57.8 176.8,59C177.5,60.2 176.8,62.6 175.9,64C175.1,65.4 173.1,66.9 171.8,67.3C170.5,67.7 169,67.3 168.1,66.5C167.3,65.6 166.7,63.7 166.5,62.3C166.3,60.9 165.9,59.1 166.8,58.2Z" fill="#e9a838" filter="url(#rough)"/>
<path d="M171.7 68.5h0M168.9 68.6h0M166 58.6h0M175.4 59.6h0M169.7 67.3h0M168.4 66h0M166.6 64.8h0M169.6 61.8h0M169.8 60.9h0M176.2 65.5h0M164.4 59.8h0M171.6 67.4h0M172.9 64.7h0M171.6 57.1h0M164.9 62.9h0M168 57.1h0M176.4 58.3h0M165.8 57.9h0M174.8 59.5h0M174.2 66.7h0M170.2 68.1h0" stroke="#e9a838" stroke-width="0.80" stroke-linecap="round"/><path d="M174.1 67.4h0M172.4 57.2h0M171.4 67.3h0M168.6 56.5h0M166 60.5h0M168.4 67h0M176 59.9h0M168.9 67.4h0M174.1 56.5h0M175.2 58.9h0M173.8 62.7h0M167.8 56.5h0M170.7 66.9h0M176.1 58.8h0M176 58.7h0M166.4 61.2h0M176.2 62.7h0M167.7 68.7h0M171.9 70h0" stroke="#e9a838" stroke-width="1.20" stroke-linecap="round"/>
<path d="M195,55.7C195.3,54.8 197.3,53.8 198.3,54C199.4,54.2 201.1,55.8 201.3,56.8C201.6,57.9 200.8,59.7 200,60.2C199.2,60.6 197.5,60.2 196.7,59.5C195.9,58.7 194.8,56.6 195,55.7Z" fill="#e9a838" filter="url(#rough)"/>
<path d="M195.2 57.2h0M200.4 55.5h0M199.2 56.2h0M201.2 55.3h0M196.4 60.7h0M196.9 55h0M197.1 57.9h0M198.3 59.7h0M195.3 61.3h0M196.5 60.3h0M199.6 56.9h0M202.9 56.7h0M200 55.4h0M195.8 54.6h0M196.8 53h0M200.7 59h0" stroke="#e9a838" stroke-width="0.80" stroke-linecap="round"/><path d="M199.9 62.6h0M198 56.4h0M199.9 60.7h0M200.5 55.6h0M197.9 60.2h0M195.7 53.2h0M194.7 54.5h0M203.4 62.5h0M203.1 57.4h0M197.4 57.4h0M203 58h0M197.7 55.2h0M199.1 58.4h0M196.9 59.6h0M201.3 54.3h0M198.2 53.8h0M194.4 57h0M194.4 61.7h0M202.6 57.7h0M194.4 58.1h0M195 55.6h0M192.8 53.6h0M203 55.3h0M202.3 59.1h0" stroke="#e9a838" stroke-width="1.20" stroke-linecap="round"/>
<path d="M299.5,77.2C300.9,74.5 304.1,73.8 307,73.1C309.9,72.3 313.9,72.5 317,72.8C320,73 322.9,73.3 325.3,74.8C327.6,76.2 329.5,78.9 331.1,81.4C332.6,83.9 334.5,86.6 334.7,89.7C334.9,92.7 333.5,96.9 332.2,99.6C330.9,102.4 329.2,104.5 326.9,105.9C324.6,107.4 321.5,108.3 318.6,108.3C315.7,108.2 312.3,107.2 309.5,105.8C306.7,104.4 303.8,102.7 302,100C300.3,97.3 299.5,93.5 299,89.7C298.6,85.9 298.2,80 299.5,77.2Z" fill="#605b60" filter="url(#rough)"/>
<path d="M315 102.7h0M312.3 91.5h0M323.4 99.3h0M310.7 75.3h0M312.6 105.8h0M318.4 74.2h0M315.4 99.4h0M314.7 91.3h0M313 77.9h0M323.2 88.7h0M327.8 94.2h0M305.6 94.6h0M312.3 78.2h0M310.6 99.1h0M331.9 96.8h0M327.8 91.9h0M315.2 74.6h0M332.7 95h0M315.2 85.6h0" stroke="#000" stroke-width="0.75" stroke-linecap="round"/><path d="M304.1 101.4h0M314.7 104.2h0M316.4 102.5h0M304.5 83.7h0M305.6 97.8h0M314.8 76.1h0M313.4 79.1h0M313.4 77.2h0M303.2 86.9h0M306.2 93.6h0M314.6 85.1h0" stroke="#000" stroke-width="1.05" stroke-linecap="round"/>
<path d="M299.9 96.7h0M299.8 75.7h0M333 78.3h0M299.9 84.8h0M321.2 108h0M312.1 74.8h0M326.7 102.8h0M325.8 105.8h0M301.3 83.9h0M329.3 78.6h0M334.8 87.1h0M330.8 84.6h0M333.3 85.5h0M303.9 75.1h0M318.6 69.2h0M331.7 90.9h0M333.2 98.6h0M303.1 72.7h0M320.9 109.5h0M304.1 76.7h0" stroke="#605b60" stroke-width="0.80" stroke-linecap="round"/><path d="M328 105.6h0M332.9 82.9h0M306.8 102.8h0M334.6 85.5h0M314.7 72.8h0M324.7 76h0M329 79.9h0M305.5 75.2h0M313.4 71.5h0M332.8 101.6h0M333.7 95.1h0M334.5 99.1h0M329.4 105h0M330.8 95.9h0M310.9 74.4h0M299.5 93.7h0M299.7 89.1h0M309 105.1h0M301.8 99.4h0M314.3 111.2h0" stroke="#605b60" stroke-width="1.20" stroke-linecap="round"/>
<path d="M282.9 112.1h0M275.1 111.9h0M276.4 97.7h0M275.1 108.8h0M276.3 111.5h0M272.8 100.2h0M278.4 107.7h0M270.4 105.2h0M273.7 110.5h0M277.5 115.7h0M277.7 100.6h0M270.4 100.4h0M279.2 112h0M275 97.5h0M269.4 109.4h0M284.6 107.4h0M271.6 104.3h0M279.7 100.3h0M277.7 119.7h0M281.4 102h0M279.4 109.1h0M271.7 117.7h0M272.4 96.2h0M273 108h0M275.9 99h0M286.1 108.4h0M278.4 99h0M269.2 101.4h0M272.1 96.7h0M283.4 111.8h0M270.3 113h0M277.2 107.6h0M268.1 109.8h0M271.7 104.1h0M286.7 114.3h0M276.7 98.5h0M283.3 104.1h0M279.7 99.3h0M268.3 104h0M272.4 108.8h0M274.2 98.4h0M279.4 99.4h0M286 112.8h0M272.3 112.7h0M276.9 116.7h0M271.2 116.3h0M282.4 115.7h0M282.8 106.9h0M276.7 101.1h0M280.4 117.2h0M288 114.2h0M278 117.2h0M273.5 113.5h0M273.8 117.4h0M275.1 96.7h0M285 112.1h0M274.4 100.8h0M278.2 110.9h0M272.9 112.8h0M283.3 100.3h0M278 110.9h0M283.3 110h0M281.4 110.2h0M280.8 117.8h0M278.9 116.2h0M285.6 111.1h0M282.5 103.8h0M269 105.3h0M274.5 102.4h0M280.7 117.8h0M273.6 110.3h0M267.8 105h0M279.7 99.7h0M275.2 97.7h0M281.2 117h0M284.9 117.8h0M273.6 100h0M276.9 106.9h0M271.1 103.3h0M272.4 105h0M284.2 109.1h0M283.4 109.7h0M270.5 103.9h0M269.3 100.1h0M273.1 98.7h0M269.4 103.6h0M279.9 107.1h0M276.5 96.5h0M276.7 111.5h0M272.3 101.3h0M282.8 114.9h0M285.6 117.6h0M272.2 103.6h0M276.6 98.7h0M280.6 98.8h0M280.1 112.5h0M277.5 116.8h0M272.2 112.3h0M281.2 106.9h0M287.3 110.4h0M278.6 109.4h0M277.7 117.3h0M276.5 106.1h0M278.9 119.1h0M274.5 105.8h0M282.9 115.1h0M279.6 111.7h0M285.7 105.8h0M274.1 111.9h0M278.1 96.2h0M282.8 119.5h0M279.7 119h0M274.3 113.9h0M285.5 117.6h0M277.1 120.8h0M271.8 106h0M286.8 115h0M274.7 96.1h0M279.1 109.1h0M274.5 109.2h0M272.7 98h0M284.1 117.3h0M276.9 101.6h0M271 113.9h0M274.5 116.6h0M277.4 115.6h0M272.6 111.4h0M285 104.3h0M276 117.3h0M281.9 116.7h0M276.7 110.7h0M281.8 113.9h0M274.1 97h0M272.9 101.7h0M269.5 107.1h0M287.3 111.9h0M269.3 110.5h0M284.3 107.6h0M270.6 105.3h0M276.8 109.3h0M279.3 108.2h0M284.4 117.4h0M269 112.9h0M276.1 120.6h0M284.8 101.6h0M277.9 109.4h0M272.1 116.9h0M277.2 120.4h0M286.2 107.5h0M275.9 110.4h0M278.4 100.3h0M269.9 114.9h0M274.6 103.9h0M271.5 118.7h0M283.2 117.2h0M268.4 112.6h0M285.2 113.9h0M277.2 110.2h0M283.7 117.7h0M276.7 115.7h0M278.5 117.5h0M272 113.1h0M280.3 113.2h0M270.8 109.1h0M272.2 100h0M285.7 104.4h0M281.5 108.4h0M268.1 104.2h0M275.5 101.4h0M278.9 108h0M280.6 106.3h0M272.3 104.4h0M281 104.2h0" stroke="#e2e2e4" stroke-width="1.15" stroke-linecap="round"/><path d="M273.3 108.7h0M274.6 108.6h0M287.1 108.3h0M277.9 119h0M272.5 102.1h0M282.1 101.6h0M272.5 101.8h0M271.4 109h0M270 113h0M277.8 117.6h0M275.2 97h0M281.5 101.4h0M268.2 104.3h0M269 104.5h0M277.7 108.7h0M280.8 108.8h0M274.4 97.5h0M271.7 115.4h0M278 120.5h0M282 107.3h0M283.7 104.2h0M273.6 111.6h0M273 104.3h0M284.8 116.9h0M271.2 100.1h0M281.6 109.1h0M269.9 109h0M286.9 106.1h0M273 107.4h0M280.9 112.8h0M275 118.6h0M276.6 113.4h0M278.1 120.9h0M277.9 110.5h0M283.8 100h0M284 105.9h0M278.7 100.2h0M271.1 97.9h0M277.5 117.9h0M281.3 118h0M271.7 106h0M278.4 119.8h0M279.6 106.3h0M280.7 97.2h0M278.3 99.3h0M272.8 103.1h0M280.3 106.8h0M277.9 100h0M276.8 98.5h0M284.2 104.9h0M274.7 116.5h0M276.3 101h0M279.7 115.8h0M287.4 115.2h0M270 113.4h0M278 114h0M282.9 108.8h0M267.6 101.9h0M276.8 103.8h0M271.6 117.7h0M278.7 99.3h0M286.9 113.1h0M276.8 114.2h0M271.8 111.1h0M279.9 106.9h0M286.1 114.1h0M270.9 116.5h0M270.1 112.1h0M269.5 103.1h0M284.2 112.9h0M271.3 108.1h0M277 117.3h0M283.7 105.7h0M284 115.6h0M279.1 113.7h0M273.1 111.2h0M272.2 115.5h0M279.6 112.3h0M286.5 109.7h0M278.3 99h0M271.1 103.3h0M281.2 109.4h0M270.1 103.8h0M280.3 107.2h0M283.3 97.9h0M280.7 117.8h0M279.4 111.2h0M274.7 112.2h0M287.1 107.2h0M273.7 113.7h0M278.6 113.1h0M274.9 109.7h0M285.9 111.7h0M282.1 112.4h0M286.9 109.3h0M270.1 101.9h0M281.9 120h0M283.6 110.3h0M279.2 115.6h0M274.3 112.2h0M282.4 109.7h0M279.1 95.7h0M275.8 110.1h0M267.8 108.2h0M286.9 107.6h0M269.1 105.8h0M278.8 117.2h0M278.2 113.8h0M281.6 100.9h0M272.3 101.7h0M276.2 119.1h0M284.2 105.5h0M270.8 107.2h0M275.1 111.2h0M280.2 103.9h0M275.5 114.8h0M274 101.1h0M272.7 104h0M278.7 97.4h0M278.7 113.4h0M281 97.4h0M279.2 113.8h0M275.4 110.3h0M277.1 110.8h0M287.8 114.6h0M279.6 116.6h0M278.9 117.5h0M273.6 100.4h0M278.9 98.8h0M272.1 101.4h0M269.6 106.7h0M281.8 98h0M268.8 101.7h0M275.3 99h0M285.8 108.3h0M269.2 110.9h0M275.2 110.8h0M276.8 116.5h0M285.7 108.4h0M284.2 99.2h0M274.3 97.3h0M269.7 100.1h0M271.7 112.2h0M271.3 119.5h0M285.2 114.7h0M274.9 117.1h0M280.6 107.1h0M279.9 99.5h0M277.3 102.9h0M284.2 107.8h0M275.6 118.1h0M278.6 111.7h0M278.4 113.3h0M280.9 111.8h0M285 100.6h0M271.6 107.1h0M286.3 109.1h0" stroke="#e2e2e4" stroke-width="1.65" stroke-linecap="round"/>
<path d="M253.1,95.5C253.4,94.2 256.1,91.8 258.1,89.7C260,87.6 262.8,84.4 264.7,83C266.6,81.7 268.7,80.8 269.7,81.4C270.6,81.9 270.9,84.7 270.5,86.4C270.1,88 268.7,89.8 267.2,91.3C265.7,92.9 263.2,94.5 261.4,95.5C259.6,96.5 257.8,97.2 256.4,97.2C255,97.2 252.8,96.7 253.1,95.5Z" fill="#dc2c30" filter="url(#rough)"/>
<path d="M264.9 88.7h0M263.3 91.2h0M253.5 95.3h0M258.3 91.1h0M258.4 91.6h0M261.6 89h0M269.6 87.6h0M257.8 96.5h0M266.6 88.3h0" stroke="#000" stroke-width="0.75" stroke-linecap="round"/><path d="M258.1 92.9h0M268.9 82.5h0M259.7 90.9h0M268.2 85.5h0M262.4 89.2h0M268.2 87.5h0M267.2 85.2h0M258.3 92.1h0M266.8 83.2h0M262.1 94.9h0M265.3 88h0M262.6 87h0M259.8 89.6h0M259.1 92.1h0M256.4 94.6h0M260.3 92h0" stroke="#000" stroke-width="1.05" stroke-linecap="round"/>
<path d="M258.9 95.8h0M268.6 88.3h0M270.9 87.4h0M263.6 86.1h0M269.8 89.2h0M270.7 85h0M268.6 83.5h0M259.1 96h0M261.2 87.6h0M266.2 86.7h0M255.7 90.6h0M261.9 95.2h0M262.3 88.8h0M267.3 80.7h0M270.7 82.4h0M270.5 82.8h0M255.1 90.7h0M264.1 84.5h0M258.3 97.5h0" stroke="#dc2c30" stroke-width="0.80" stroke-linecap="round"/><path d="M266.9 90.2h0M272 89.9h0M266.3 89.4h0M254.3 97.9h0M259.3 85.7h0M258.2 96.2h0M264.9 94.8h0M264.1 88h0M262 84.1h0M267.1 92.1h0M267.9 90h0M268.7 90.1h0M269.4 86.9h0M268 84.3h0M255.2 95.7h0M266.4 81.7h0M269 79.5h0M268.5 85.2h0M266 83.7h0M266.9 82h0M255 88.8h0" stroke="#dc2c30" stroke-width="1.20" stroke-linecap="round"/>
<path d="M295.7,44.9C295.9,44 297.2,43.6 297.9,43.7C298.5,43.9 299.5,44.9 299.7,45.7C299.9,46.5 299.5,48 299,48.5C298.5,49.1 297.3,49.8 296.7,49.2C296.2,48.6 295.5,45.8 295.7,44.9Z" fill="#8dc9e1" filter="url(#rough)"/>
<path d="M297 46h0M296.2 47.4h0M298.4 47.5h0M293.2 43.9h0M297 48.9h0M297.7 48.1h0M298 45.1h0M296.2 46.7h0M298.9 47.7h0M297.5 44.4h0M296.4 43.3h0M297.7 46.6h0M296 47.1h0M295.3 41.8h0M301.8 49.2h0M298.1 49h0M300.9 50.6h0M296.6 49.1h0M297.9 44.6h0M295.9 50.1h0M296.2 46.3h0M295.6 50h0M296.1 45.5h0M296.8 48.8h0" stroke="#8dc9e1" stroke-width="0.80" stroke-linecap="round"/><path d="M296.5 46.3h0M301.1 46.8h0M296.5 45h0M298.9 45.3h0M297.3 45h0M295 43h0M301.7 49h0M296 44.3h0M295.7 48.4h0M299.4 46h0M299.1 49.9h0M296.6 48.1h0M293.9 49h0M296.2 51.5h0M296.1 48.8h0M297.7 47.4h0" stroke="#8dc9e1" stroke-width="1.20" stroke-linecap="round"/>
<path d="M280.5,64C281.5,62.3 284.5,61.5 286.3,61.5C288.1,61.5 289.9,62.4 291.2,64C292.6,65.5 294.4,68.4 294.6,70.6C294.7,72.8 293.3,75.7 292.1,77.2C290.8,78.8 288.8,79.7 287.1,79.7C285.4,79.7 283.3,78.6 282.1,77.2C281,75.9 280.4,73.6 280.1,71.4C279.8,69.2 279.4,65.6 280.5,64Z" fill="#a24ead" filter="url(#rough)"/>
<path d="M292.8 69.4h0M286.9 77.1h0M291.5 66.8h0M281.5 68h0M282.2 73.6h0M289.7 64.9h0M286.6 71.5h0M291.3 71.1h0M286.1 63h0M287.5 77.8h0M280.4 71.1h0M283.9 62.9h0M290.4 64.3h0M290.6 73.1h0M293.3 71.7h0M281.2 74.2h0M280.9 65h0" stroke="#000" stroke-width="0.75" stroke-linecap="round"/><path d="M290.9 75.6h0M283.2 67.8h0M288.8 76.2h0M290.9 64.2h0M287 76.1h0M283.9 74.2h0M283.2 67.2h0M287.4 63.9h0" stroke="#000" stroke-width="1.05" stroke-linecap="round"/>
<path d="M281.8 62.4h0M286.1 62.6h0M290.6 80h0M291.5 62.8h0M287.9 77.9h0M295 68.5h0M291.6 75.6h0M293.5 65h0M292.4 75.9h0M282.2 78.1h0M280.5 62.6h0M292.2 63.1h0M280.7 65.3h0M293 78h0M284.3 75.6h0M289.7 61.8h0M290.2 65.8h0" stroke="#a24ead" stroke-width="0.80" stroke-linecap="round"/><path d="M290.5 80.1h0M293.2 66.9h0M287.6 78h0M293 78.8h0M291 63.2h0M283.6 67.3h0M284 75.9h0M278.9 73.4h0M290.4 79.7h0M286.6 78.8h0M285.3 63.3h0M285.9 79.1h0M292.2 61.5h0M281.8 66.3h0M282.4 63.7h0M287.4 59.8h0M292 72.7h0M290.5 63.5h0M287.2 62.1h0M286 64.1h0M285.4 78.8h0M290.6 78.3h0M292.5 76.6h0" stroke="#a24ead" stroke-width="1.20" stroke-linecap="round"/>
<path d="M274.7,37.4C275.3,35.6 276.7,34.8 278.8,34.1C280.9,33.4 285.3,32.6 287.1,33.3C288.9,34 288.9,36.3 289.6,38.3C290.3,40.2 290.3,43 291.2,44.9C292.2,46.8 293.9,48.5 295.4,49.9C296.9,51.2 299,52.4 300.4,53.2C301.8,54 303.5,53.9 303.7,54.8C303.8,55.8 302.7,58 301.2,59C299.7,60 296.9,60.5 294.6,60.7C292.2,60.8 289.3,60.5 287.1,59.8C284.9,59.1 282.9,57.7 281.3,56.5C279.6,55.3 278.2,54.3 277.1,52.4C276,50.4 275.1,47.4 274.7,44.9C274.2,42.4 274,39.2 274.7,37.4Z" fill="#80c04e" filter="url(#rough)"/>
<path d="M288.7 44.2h0M284.4 50.2h0M292 53.6h0M287.9 44h0M295.1 52.7h0M275.9 45h0M281.8 41.8h0M290.2 47h0M283.1 56h0M288.4 49.7h0M295.4 51.3h0M274.9 40.8h0M281.3 35.5h0M277.2 50.3h0M283.4 56.4h0M300.5 53.8h0M278.3 53.4h0M291.8 53.3h0M282 46.3h0M291.1 57.4h0" stroke="#000" stroke-width="0.75" stroke-linecap="round"/><path d="M280.9 55.3h0M293.9 55.7h0M279 47.7h0M283 39.2h0M283.9 54.4h0M287.4 43.2h0M286 47h0M285.1 57.9h0M278.7 34.8h0M281.2 42h0M295.5 53.9h0M293.4 54.4h0M281.3 54.8h0M281.9 35.3h0M299.3 53.1h0M277.2 37.5h0M274.7 41.1h0M294.7 55.2h0M279.3 48h0M285.2 45.7h0M278.4 44.7h0M289.1 39h0M299.6 55.1h0M280.9 51.9h0M281.2 47.3h0" stroke="#000" stroke-width="1.05" stroke-linecap="round"/>
<path d="M288.2 33.5h0M302.9 53.8h0M285.8 32.6h0M291.5 40h0M298.3 52h0M299.3 53h0M293.2 47.7h0M300.8 53.5h0M296.5 55.6h0M290.2 41.9h0M272.2 42.5h0M299.4 51.5h0M294.1 63.5h0M273.7 43.5h0M304.8 57h0M302.7 58.5h0M293.1 63.4h0M292.1 60.7h0M274.8 41.5h0" stroke="#80c04e" stroke-width="0.80" stroke-linecap="round"/><path d="M274.2 46.3h0M296.4 51.6h0M276.7 39.5h0M275.6 45.2h0M283.3 33.5h0M301.9 53.9h0M301 56.1h0M288.6 34.5h0M277.3 37.2h0M275.2 35h0M276.6 50h0M302 53.3h0M292.2 61.4h0M302.7 53.9h0M295.6 51.9h0M274.2 36.5h0M290.4 37.6h0M276.2 45.1h0M293.1 60.6h0M303.7 53.2h0M285.8 56.8h0" stroke="#80c04e" stroke-width="1.20" stroke-linecap="round"/>
<path d="M273.8,58.2C274.7,57.3 277.4,56.9 278.8,57.3C280.2,57.7 282,59.4 282.1,60.7C282.3,61.9 280.7,64 279.6,64.8C278.5,65.6 276.5,66 275.5,65.6C274.5,65.2 273.8,63.6 273.5,62.3C273.2,61.1 272.9,59 273.8,58.2Z" fill="#e9a838" filter="url(#rough)"/>
<path d="M275.8 57.3h0M273.8 58.7h0M276.7 58h0M278.4 62.9h0M280.8 59.6h0M274.4 63.4h0M280 58.8h0M281.5 56.7h0M281 63.5h0M275.8 61.6h0M277.9 64.4h0M279.8 63.9h0M273 64.7h0M274 60.5h0M277.7 68.4h0M272.2 57.3h0M283.5 62.2h0M282 59h0M276.9 64.7h0M282.7 64h0M279.2 57.2h0M272.9 59.4h0M272.2 60.4h0M271.5 61.6h0M278.5 65.1h0" stroke="#e9a838" stroke-width="0.80" stroke-linecap="round"/><path d="M280.5 66.2h0M274.2 61.6h0M273.5 54.5h0M277.1 56.8h0M274.2 61.5h0M278.1 57.3h0M282.7 62.6h0M271.7 60.4h0M274.8 60.8h0M281.2 58h0M274.5 57.4h0M277.9 56.5h0M271.5 57.6h0M279.7 59.1h0M280.7 60.1h0" stroke="#e9a838" stroke-width="1.20" stroke-linecap="round"/>
<path d="M369.2,122.9C369.5,120.4 371.1,116.2 372.5,112.9C373.9,109.6 375.8,106 377.5,103C379.2,99.9 380.5,96.9 382.5,94.7C384.4,92.5 386.9,90.5 389.1,89.7C391.3,88.9 394.4,88.6 395.8,89.7C397.1,90.8 397.4,92.5 397.4,96.3C397.4,100.2 396.6,108.5 395.8,112.9C394.9,117.3 394.1,120.2 392.4,122.9C390.8,125.5 388.4,127.6 385.8,128.7C383.2,129.8 379.2,129.6 376.7,129.5C374.2,129.4 372.1,129 370.9,127.8C369.6,126.7 368.9,125.4 369.2,122.9Z" fill="#e2e2e4" filter="url(#rough)"/>
<path d="M382.3 98.2h0M380.2 114.4h0M383.4 123.1h0M385.7 110.7h0M382.8 95.3h0M371.2 117.5h0M395.6 108.5h0M370.4 124.1h0M385.8 98.5h0M392 105.3h0M391.5 97.6h0" stroke="#000" stroke-width="0.75" stroke-linecap="round"/><path d="M378.5 101.4h0M379.5 104.8h0M375.7 108.1h0M389.2 116.9h0M377.1 126.2h0M390.1 101.4h0M396.7 102.3h0M389 101.4h0M389.4 113.3h0" stroke="#000" stroke-width="1.05" stroke-linecap="round"/>
<path d="M381.1 98.2h0M371.6 115.6h0M375 128.1h0M367.3 123.7h0M384.3 91.4h0M369.6 121.6h0M398.8 94.1h0M382.8 130.1h0M371 115.8h0M386.4 126.9h0M397 117.1h0M393.2 117.3h0M370.6 125.8h0M375.6 126.8h0M396.7 93h0M382.9 92.8h0M371.4 126.7h0M384.8 127.4h0M380.1 100h0" stroke="#e2e2e4" stroke-width="0.80" stroke-linecap="round"/><path d="M376.8 129.6h0M394.8 104.8h0M386.9 124.1h0M396.6 104.2h0M395.6 90.3h0M393.8 118h0M384.1 93.4h0M390.5 124.4h0M383.5 93.6h0M374.2 128.3h0M396.6 108.7h0M375.7 103.1h0M375.5 128h0M370.7 126.8h0M393.2 91.7h0M369.9 126.1h0M376.1 128.7h0M388.2 90.1h0M387.2 128.7h0M373.7 113.3h0M386 126.3h0" stroke="#e2e2e4" stroke-width="1.20" stroke-linecap="round"/>
<path d="M348.5,86.4C349,85.1 350.8,83.3 352.6,82.2C354.4,81.1 356.8,80 359.3,79.7C361.7,79.5 364.8,80.3 367.5,80.6C370.3,80.8 373.5,80.4 375.8,81.4C378.2,82.4 380.5,84.4 381.7,86.4C382.8,88.3 382.9,90.8 382.5,93C382.1,95.2 380.5,97.7 379.2,99.6C377.8,101.6 375.6,103 374.2,104.6C372.8,106.3 372,108.2 370.9,109.6C369.8,111 368.7,112.6 367.5,112.9C366.4,113.2 365.2,113.5 364.2,111.3C363.3,109 363.4,102.7 361.7,99.6C360.1,96.6 356.3,94.7 354.3,93C352.2,91.3 350.3,90.8 349.3,89.7C348.3,88.6 347.9,87.6 348.5,86.4Z" fill="#dc2c30" filter="url(#rough)"/>
<path d="M370.3 87.7h0M375 97.2h0M374 94.9h0M372.8 99.4h0M371.8 92.4h0M359.2 91h0M365.7 108.3h0M374.2 91.9h0" stroke="#000" stroke-width="0.75" stroke-linecap="round"/><path d="M370.6 87.1h0M370 107.7h0M364.9 98.3h0M373 103.9h0M369.7 96h0M374.5 102.8h0M366.3 99h0M365.4 109.4h0M365.3 89.2h0M380.8 88h0M369.2 86.6h0M363.7 81.5h0M371.3 108h0M356.3 86h0M376.2 82.7h0M352.4 86.8h0M374.2 83.1h0" stroke="#000" stroke-width="1.05" stroke-linecap="round"/>
<path d="M381.5 95h0M357 81.6h0M365.7 104.4h0M355.4 80.3h0M383.7 95.7h0M372.4 108h0M352.4 82.8h0M365.7 109.5h0M379.9 84.7h0M370.5 110.8h0M352.6 91.1h0M376 107h0M368.2 111.5h0M374.1 102.7h0M379.5 83.6h0M374.7 108.5h0M371 80h0M372.8 110h0M373 104.3h0M378.8 97.7h0M383.3 87.3h0" stroke="#dc2c30" stroke-width="0.80" stroke-linecap="round"/><path d="M350.6 85.5h0M367.6 81.5h0M363.7 109.7h0M357 83h0M364 79.9h0M350.4 86.1h0M363.5 83.2h0M380.2 98.7h0M385.5 91.3h0M350.4 91.6h0M362.2 101h0M345.1 87.3h0M381 83.8h0M353.9 82.9h0M363.7 81.6h0M365.4 111.5h0M363.4 109h0M359 97.2h0M365.5 114.6h0" stroke="#dc2c30" stroke-width="1.20" stroke-linecap="round"/>
<path d="M364.2,106.3C364.8,104.3 367.8,104.3 369.2,105.4C370.6,106.6 372.4,110.8 372.5,112.9C372.7,115 371.1,117.5 370,118.2C368.9,118.9 366.9,119.1 365.9,117.1C364.9,115.1 363.7,108.2 364.2,106.3Z" fill="#99358f" filter="url(#rough)"/>
<path d="M366.7 118.2h0M362.1 111.5h0M367.1 106.3h0M363.9 109.8h0M365.2 115h0M371.3 116h0M366 108.4h0M366.7 105.1h0M370.6 105.1h0M364.5 112.4h0M369.2 117.1h0M368.3 105.2h0M365.6 106.8h0M366.3 106.2h0M370 117.9h0M369 109.1h0M368.2 107.6h0M371.6 111.9h0M365.6 105.7h0M367.6 105.5h0M367.5 119.8h0M370.5 117.2h0M373 116.2h0M368.5 115.4h0M371 118.9h0" stroke="#99358f" stroke-width="0.80" stroke-linecap="round"/><path d="M364 105.7h0M371.5 114.9h0M371.3 115.4h0M370.2 119.6h0M372.6 113.1h0M362.2 108.2h0M365.5 107.4h0M366.6 118.7h0M363.4 108.9h0M367.4 112.2h0M372.4 117.3h0M371.5 113.6h0M370.4 108.3h0M365 116h0M365.1 118.5h0" stroke="#99358f" stroke-width="1.20" stroke-linecap="round"/>
<path d="M358.4,74.8C358.6,72.3 359.7,66.5 360.9,64C362.2,61.5 364.2,60.7 365.9,59.8C367.5,59 369.3,59.7 370.9,59C372.4,58.3 374.7,55 375,55.7C375.3,56.4 372.7,61.1 372.5,63.1C372.4,65.2 373.1,66.5 374.2,68.1C375.3,69.8 378.6,71.3 379.2,73.1C379.7,74.9 378.9,77.7 377.5,78.9C376.1,80.1 373.1,80.4 370.9,80.6C368.7,80.7 366,80 364.2,79.7C362.4,79.5 361,79.7 360.1,78.9C359.1,78.1 358.3,77.2 358.4,74.8Z" fill="#8dc9e1" filter="url(#rough)"/>
<path d="M369.9 65.4h0M366 72.6h0M366 79.4h0" stroke="#000" stroke-width="0.75" stroke-linecap="round"/><path d="M376.8 75h0M365.8 76h0M367.4 65.4h0M371.9 72.7h0M360.8 66.1h0M369.4 64.3h0M365.6 78.7h0M365.4 67.3h0M366 77.2h0M362.1 69.2h0M364 78.4h0M370.2 64.2h0" stroke="#000" stroke-width="1.05" stroke-linecap="round"/>
<path d="M363.8 79.1h0M376.7 72.6h0M372.8 55.2h0M365 60.5h0M373.6 57.6h0M374.2 54.8h0M368 80.5h0M360.9 62.6h0M367.2 59.8h0M369.2 58.8h0M361.1 63.2h0M373.5 60h0M376.1 80.2h0M360.8 78.4h0M360.3 75h0M370.4 61.8h0M375.5 57.3h0M371.1 62.8h0" stroke="#8dc9e1" stroke-width="0.80" stroke-linecap="round"/><path d="M376.1 66.6h0M366.1 82.3h0M376.4 70.3h0M378 76h0M361.8 61.3h0M376.6 75.3h0M374.4 69.3h0M375.6 55.3h0M361.8 68.2h0M371.9 60h0M356.2 76.2h0M378.3 70h0M371.5 59.4h0M366.4 79.2h0M381.3 75.6h0M356.9 78.1h0M367.5 57.9h0M359.8 76.2h0M366 62.8h0M374.3 78.6h0M373.4 68.3h0M373 57.8h0" stroke="#8dc9e1" stroke-width="1.20" stroke-linecap="round"/>
<path d="M385,77.2C385.8,75.3 387.3,72.7 389.1,71.4C390.9,70.2 393.8,69.2 395.8,69.8C397.7,70.3 399.9,72 400.7,74.8C401.6,77.5 401.6,83.9 400.7,86.4C399.9,88.9 398,89.4 395.8,89.7C393.5,90 389.4,89.1 387.5,88C385.5,86.9 384.6,84.8 384.1,83C383.7,81.3 384.1,79.2 385,77.2Z" fill="#a24ead" filter="url(#rough)"/>
<path d="M386.1 88.7h0M387.4 89.1h0M385.5 72.7h0M385.2 79.3h0M396.7 86.5h0M392.6 86.4h0M390.7 90.1h0M400.9 84.6h0M394.9 69.5h0M388.5 86h0M401.5 82.5h0M400.4 78.3h0M385 80.8h0M392.5 89.6h0M397.7 88.5h0M383 81.9h0M399.9 88.9h0M385.3 74.2h0" stroke="#a24ead" stroke-width="0.80" stroke-linecap="round"/><path d="M382.9 75.5h0M401.5 83.3h0M386.4 73.5h0M386.7 88.4h0M385.1 79.3h0M392.5 67.3h0M400.4 76.4h0M399.2 74.6h0M384.1 79.6h0M401.1 81.7h0M396.7 69.8h0M399.5 86.8h0M391.7 92.7h0M383.8 77.5h0M395.8 89.6h0M386.3 82.8h0M400 74.8h0M383 80.3h0M396.7 68.7h0M398.1 75.6h0M385.4 86.2h0M397.8 89.7h0" stroke="#a24ead" stroke-width="1.20" stroke-linecap="round"/>
<path d="M381.7,48.2C382.1,45.9 383.4,39.1 385,36.6C386.5,34 389,33.4 390.8,32.9C392.6,32.5 394.8,32.4 395.8,34.1C396.7,35.8 396.2,40.7 396.6,43.2C397,45.7 397.6,47 398.2,49C398.9,51.1 400,53.7 400.7,55.7C401.4,57.6 402.9,59.7 402.4,60.7C401.8,61.6 399.1,62.4 397.4,61.5C395.8,60.5 394.2,56.4 392.4,54.8C390.6,53.3 388.3,53 386.6,52.4C385,51.7 383.3,51.4 382.5,50.7C381.7,50 381.2,50.6 381.7,48.2Z" fill="#80c04e" filter="url(#rough)"/>
<path d="M397.1 58.8h0M384.5 50.9h0M390 30.7h0M387.3 53.1h0M386.3 54.3h0M403.1 58.1h0M400.8 61.9h0M384 48.6h0M384.7 52.1h0M404.4 59.4h0M402.4 60.4h0M386.7 53.8h0M402.4 50.4h0M393.9 41.4h0M401.9 56.5h0M401.1 58.9h0M388.3 34.6h0M387.2 34.8h0M384.2 44.3h0M399.2 56.1h0M397.9 45.5h0M384.5 40.4h0M398.7 32.1h0M398.9 52.2h0" stroke="#80c04e" stroke-width="0.80" stroke-linecap="round"/><path d="M387.1 53.3h0M396.3 57.3h0M391.1 57h0M394.2 39.6h0M382.3 50.6h0M398 57.8h0M402.1 57.7h0M381 50.2h0M387.2 52.6h0M387.4 36.1h0M399 48.9h0M387.1 56.1h0M399.3 46.9h0M397.7 40.8h0M398.6 56.2h0M393.3 58.4h0" stroke="#80c04e" stroke-width="1.20" stroke-linecap="round"/>
<path d="M93.1 61.6h0M92.1 61.4h0M98.4 64.2h0M88.1 71.2h0M85.4 66.9h0M94.6 64.4h0M86.8 65.8h0M92.3 62.8h0M92.8 66.1h0M96.2 64.1h0M88 71.6h0M85.2 74.3h0M84 62.9h0M88.9 70.2h0M87 64.6h0M85.8 66.7h0M86 64.1h0M87.3 72.4h0M95.9 61.9h0M86.4 66.9h0M86.6 74h0M84.2 71.7h0M88.3 62.9h0M88.2 62.8h0M84.2 63.1h0M98.1 63.9h0M83.7 67.5h0M88 69.3h0M85.1 68.5h0M88.3 64h0M87.1 67.7h0M89 67.6h0M97.4 62.3h0M87.7 71.3h0M85.6 69.5h0M84.6 65.5h0M94.4 64.4h0M90.7 63.8h0M88.5 71h0M89.8 68h0M99.1 64h0M92 66.4h0M84.1 66h0M87.7 65.7h0M92.2 67h0M84.7 65.4h0M86.5 73.4h0M84.5 69.3h0M93.5 60.7h0M93.2 62.6h0M93.6 62.5h0M87.8 62.9h0M87.1 75.6h0M88.4 63.6h0M94.9 61.3h0M99.3 64.2h0M84.5 64.1h0M83.9 70.7h0M90.1 62.9h0M85.9 64.1h0M96 60.8h0M94.2 62.1h0M85.7 70.3h0M89.1 62.5h0M90.2 64.3h0M87 67.6h0M86.9 70.7h0M97.1 62h0M87.1 67.8h0M93.3 66.4h0M91 65.8h0M85.8 68.3h0M92.6 63.8h0M88.2 67.3h0M98.8 63.3h0M84.5 71.9h0M89.2 64.7h0" stroke="#5e595e" stroke-width="0.90" stroke-linecap="round"/><path d="M94.6 62.2h0M91.4 65.1h0M88.1 65.6h0M85.5 62.7h0M87.2 66.1h0M87.2 71.4h0M92.2 61.1h0M91 66.5h0M98.4 63h0M92.4 61.4h0M83.7 69h0M98.7 62.3h0M94.6 66h0M93 65.9h0M88.6 63.9h0M86.8 67.2h0M86.1 63.9h0M88.9 62.7h0M85.1 73h0M85.1 64.9h0M87.9 69.2h0M91.7 63.8h0M97.3 61.9h0M91.5 67.2h0M87.6 63.2h0M97.7 63.5h0M95.5 65.8h0M91.9 61.9h0M88 65h0M84.5 65.1h0M91.8 67.1h0M85.7 62.2h0M86.5 61.9h0M89.9 61.7h0M87.8 63.1h0M86.9 70.9h0M86.7 72.1h0M84.9 69.9h0M91.4 64.6h0M84.5 71h0M90.3 67.6h0M92.5 61.3h0M90.8 64.3h0M83.7 67.1h0M88.8 65.8h0M88 69.1h0M88.1 65.2h0M88.9 66h0M90.2 60.7h0M85.3 65.2h0M90.5 65.4h0M92.5 64.8h0M87.4 69.3h0M86.9 62.1h0M92.5 62.1h0M91.6 66.9h0M85.1 68h0M95 66h0M84.7 66.2h0M94.9 64.8h0M84.8 67.2h0M90.8 63.9h0M87.3 66.1h0M88.1 62.2h0M86.6 63h0M89.3 63.7h0M87.9 63.2h0M88.1 68.5h0M86.4 68.3h0M87 71.6h0M91.2 67h0M94.7 64.5h0M86.7 68.2h0M88.2 65.9h0M86.7 62.8h0M98.2 64.3h0M85.6 74.9h0M86.3 72.1h0M85.1 62.8h0M93.3 60.4h0M83.4 65.5h0M84.5 69.9h0M99 64h0" stroke="#5e595e" stroke-width="1.30" stroke-linecap="round"/>
<path d="M72 110.9h0M66.7 107.6h0M63.9 115.8h0M68 104.2h0M73.2 112.6h0M71 109.1h0M72.3 112.5h0M64.7 112.2h0M66.6 107.9h0M71 114.2h0M69.6 110h0M74.3 115.1h0M74.3 109.6h0M70.3 118.1h0M68.4 107.7h0M66.3 106.1h0M71.1 99.5h0M73.2 104.1h0M64.5 118.1h0M66.6 112.2h0M67.1 103.9h0M74 110.4h0M73.5 113.2h0M69.8 99.1h0M72.4 106.4h0M72.4 117.9h0M64.2 102.7h0M65.7 107h0M66.5 99.4h0M74.7 108.7h0M71.4 105.7h0M68.3 113.9h0M71 97.8h0M69.1 108.9h0M72.6 118.1h0M65 106.5h0M69.5 112.6h0M62.8 107.7h0M64.4 108.6h0M66.9 104.6h0M68.6 101.8h0M72.1 116.8h0M69.5 111.6h0M69.3 105.2h0M67.8 106.3h0M63.5 108.7h0M72.3 113.8h0M70.1 103.3h0M71.7 103h0M64.9 111.7h0M67.9 120.3h0M71 103.5h0M71.5 106.3h0M70.4 99.9h0M72.9 113.7h0M73.3 107.6h0M64.8 108.8h0M72.2 110.3h0M65.2 102.1h0M67.4 108.9h0M65.6 114.6h0M71.5 106.3h0M73.2 103h0M72.4 103.9h0M71.2 113.7h0M65.7 103.9h0M70.2 116.8h0M72.2 110.9h0M69.5 110h0M70.6 117.1h0M65.5 99.3h0M70.4 101.4h0M74.6 109.8h0M70 111.6h0M73.9 111.8h0M69.7 120.3h0M64.9 118.1h0M64.3 108.6h0M71.4 107.8h0M72.7 110.6h0M72.4 104.8h0M63.6 114.5h0M70.9 111.2h0M65 104.3h0M73.7 115.1h0M73.5 109.3h0M64.9 117.1h0M73.7 117.2h0M72.1 103.8h0M71.7 110.6h0M73.9 113.7h0M67.4 101.1h0M67.7 119.8h0" stroke="#e2e2e4" stroke-width="1.12" stroke-linecap="round"/><path d="M74.3 115.4h0M74.4 113.7h0M70.5 111.2h0M73 116.5h0M66 111.6h0M66.6 111.8h0M69.7 110.8h0M69.9 121.8h0M62.4 108.4h0M66 117.3h0M70 105.5h0M65.1 115.9h0M69 102.9h0M69.3 104.4h0M65.3 109.3h0M74.8 114.8h0M71.6 106.4h0M69.2 100.1h0M75.2 116.4h0M69.9 109.9h0M65 111.6h0M65.3 115.2h0M66.7 119.4h0M68.3 100.2h0M72 102.8h0M67.7 98.8h0M71.8 103.3h0M66.6 102.8h0M70.3 103h0M73.8 108.4h0M74.5 107.4h0M69.7 107.7h0M74.3 110h0M71.8 99.8h0M72 111.1h0M67.6 102.6h0M73.8 108.5h0M69.6 117.2h0M68.2 113.8h0M68.1 120.3h0M72.8 103.6h0M65.7 116.5h0M70.4 100.5h0M65.9 108h0M64.2 109.9h0M69.8 98.8h0M73.8 117.4h0M66.6 113.1h0M71.4 116.7h0M69.3 116.8h0M67.1 116.4h0M71.5 110h0M68 101.9h0M65.7 104.3h0M65 115.8h0M64.7 109.8h0M66.6 103.3h0M64.4 105.6h0M65.6 102.3h0M62.9 107.7h0M64.7 100.7h0M65.1 110.1h0M67.7 116.8h0M70.3 102.6h0M69.5 115.7h0M64.7 108.1h0M72 115h0M67.1 105.9h0M66.3 114.8h0M69 112.3h0M71.7 106h0M67.3 101.6h0M66 110.3h0M65.8 116.1h0M67.3 106.7h0M63.3 107.7h0M72 113.8h0M67.6 110.7h0M68.3 110.8h0M68.8 111h0M63.7 104.9h0M71.6 115.2h0M67.6 113.5h0M72.3 100.8h0M75 110.3h0M65.2 104.2h0M66.4 116h0M64.5 103.7h0M64.6 117.3h0M74.7 110.6h0M65.6 110.4h0M73.6 104.1h0M69.6 111.9h0M68.6 114.6h0M69.1 105h0M64.5 106.1h0M66.2 111.3h0M66.3 118.8h0M68.4 99.7h0M75.5 115.3h0M70.2 109.7h0M64.9 109.2h0M66.5 108.6h0M64.2 102.8h0M65.6 106.3h0M71.4 98.5h0M62.9 111.2h0" stroke="#e2e2e4" stroke-width="1.58" stroke-linecap="round"/>
<path d="M61.1 94.3h0M84.9 105.6h0M89.5 109.2h0M76.6 113.1h0M69.8 91.7h0M76 85.2h0M91.1 109.4h0M65.4 117.5h0M64.9 115h0M79 89.3h0M79.8 100.3h0M69.8 109.1h0M65 97.8h0M67.6 80.9h0M58.3 81.3h0M91.2 88.1h0M91.5 105.6h0M71 105.3h0M94.2 98.8h0M61.5 107.8h0M56.8 112.7h0M94.6 96.7h0M83.6 80.6h0M89.2 82.9h0" stroke="#9a9898" stroke-width="0.73" stroke-linecap="round"/><path d="M70.7 84.8h0M75.3 92.6h0M90.3 97.2h0M57.2 117.3h0M66.4 96.2h0M55.5 98h0M61 88.8h0M80.6 117.8h0M64.1 106h0M94.7 97h0M72.5 118.3h0M67 106.9h0M78.9 118.1h0M57.3 84.2h0M66.4 84.9h0M89.9 82.8h0M76.3 81.6h0M74.3 84.6h0M72.3 95.1h0M92.9 111.4h0M73.5 104.1h0M71.5 119.1h0M61.5 110.8h0M80.2 100.1h0M60.1 120h0M89.6 94.1h0M56 80.6h0M73 80.3h0M88.1 100.7h0M87.1 105.7h0M66 109.8h0M64.1 111.9h0M80 110h0M80.5 108h0M65.7 101.1h0M59.5 100.5h0" stroke="#9a9898" stroke-width="0.98" stroke-linecap="round"/>
<path d="M56.8 87.6h0M48.8 104.7h0M32 119.1h0M25.3 97.2h0M34.1 97.9h0M33.1 115.4h0M42 82h0M40.2 82.6h0M35 91.6h0M34.4 108.8h0" stroke="#c04040" stroke-width="0.75" stroke-linecap="round"/><path d="M58.5 84.8h0M56 80.5h0M37.9 91.8h0M49.9 98.3h0M47 80h0M32.7 111.5h0M26.2 98.3h0M42.6 86.6h0M56.8 108.9h0M39.5 90.3h0M42.2 113h0M37.8 108.3h0M51.7 83.8h0M42.8 75.6h0M50 83.3h0" stroke="#c04040" stroke-width="1.05" stroke-linecap="round"/>
<path d="M186.5 75.6h0M188 73.9h0M191.7 60.3h0M196.4 59.3h0M195.4 66.1h0M187.2 70.2h0M193.5 67.5h0M186.4 71.7h0M193.7 64.9h0M197 60.9h0M191.8 68.1h0M186.4 66.8h0M198.5 60.1h0M194.4 63.5h0M189.5 74.9h0M200.2 61.3h0M194.3 61.4h0M194.4 66.1h0M191.8 66.8h0M208.4 60.5h0M202.7 62h0M191.8 62.4h0M185.9 70.7h0M208.7 60.9h0M198.7 62.7h0M187.1 73.8h0M203.2 60.5h0M197.5 59.9h0M186.5 74.6h0M185.6 70.7h0M186.8 64.3h0M189.7 69h0M190 70.5h0M195.7 60.4h0M193 60.4h0M196.8 62.6h0M189.1 74h0M193.3 66.4h0M191.7 61.9h0M204.3 61h0M190.9 68.2h0M186.8 76.2h0M194.2 59.3h0M196.8 62.8h0M192.4 62.4h0M189 65.5h0M190.1 68h0M197.8 62.1h0M204.4 60.2h0M193.1 58.7h0M195 63h0M187.2 74.1h0M191.8 61.1h0M194.2 59.8h0M194.4 62.3h0M187 75.6h0M196.4 61.9h0M197.2 61.2h0M198.3 59.6h0M189.1 65.1h0M186.5 67.2h0M188 75.3h0M195.3 65.1h0M203.5 60.1h0M196.4 62.1h0M195.7 64h0M193 58.5h0M187.7 65.1h0M196.3 63.8h0M202.1 59.7h0M193.6 67.2h0M194.3 61.5h0M189.6 71h0M195 60.3h0M189.7 70.6h0M188.7 68.6h0M188.8 68.5h0M194.2 62.6h0M186.3 74.3h0M186.7 68.1h0M187.8 70.7h0M198.2 61.6h0M192.6 59.2h0M187.1 75.2h0M189.7 64.3h0M194.1 62h0M195.9 59.6h0M185.8 66.6h0M188.6 77.1h0" stroke="#5e595e" stroke-width="0.90" stroke-linecap="round"/><path d="M190.1 71.8h0M188 68.3h0M189.6 61.6h0M188 74.8h0M193 59h0M188.9 63.5h0M198.8 61.4h0M193.4 65h0M207 60.4h0M194 65.5h0M185.5 73.7h0M190.3 61.3h0M196.6 60.6h0M193.5 62.7h0M188.8 64.9h0M191.7 59.9h0M186 64.8h0M196.4 64.7h0M196.2 60.5h0M186 74.3h0M193 59.4h0M185.9 74.4h0M186.4 69.5h0M197.4 61.8h0M190.1 68.9h0M186.2 72.5h0M195 65.9h0M186.3 68.3h0M187.4 64h0M185.3 66h0M187.6 68.4h0M189.2 69.1h0M188.6 78.2h0M200 60.7h0M195.5 58.9h0M199.2 62.1h0M186.4 67.4h0M190.9 66.6h0M193.1 65.1h0M189.2 74.2h0M195.1 63.3h0M200.3 62.2h0M187.9 75.2h0M203 60.1h0M192 65h0M189.8 72.9h0M189.3 63.3h0M193 59.5h0M203.1 59.9h0M205.8 60.8h0M189 72.6h0M195.7 64h0M194.3 60.9h0M186.1 64.8h0M185.9 64.8h0M196.7 60.1h0M189.2 75.5h0M192.3 64.2h0M185.2 67.4h0M189.5 72.7h0M205.2 61.2h0M187 64.1h0M193.6 65.7h0M194.4 66.6h0M188.7 65h0M194.3 59.6h0M188.3 68.2h0M189.9 69.9h0M202.5 59.9h0M192.5 66.1h0M193.2 63h0" stroke="#5e595e" stroke-width="1.30" stroke-linecap="round"/>
<path d="M175.8 114.4h0M175.1 104.4h0M169.9 108.8h0M167.8 110.8h0M171.1 115.8h0M171.5 111h0M173.7 116.5h0M172.6 109h0M171.9 101.3h0M176 109.7h0M168.5 106.8h0M174.3 103.8h0M172.2 107.4h0M176 113.1h0M176.1 110.8h0M174.6 110.5h0M178.2 111.7h0M167 114.2h0M169 119.3h0M173.5 108h0M177 115.3h0M176.3 108.9h0M173.9 106.8h0M171.4 102.1h0M166.9 102.3h0M177.6 107h0M175.6 105.6h0M171.6 111.5h0M167.7 113.3h0M171 103.3h0M174.1 109h0M172.8 104h0M169.9 116.1h0M175.4 101h0M173.2 118.9h0M170.3 107.1h0M169.4 118.4h0M174.3 113.6h0M174 114h0M175.6 103.6h0M169.2 115h0M174.8 103.2h0M173.7 110.8h0M170.7 104.1h0M174.6 101.5h0M173.9 117.6h0M168.9 101.4h0M174.9 107.3h0M168.2 109.7h0M173.4 117.1h0M168.1 104.2h0M172.9 100.8h0M176 106.1h0M176.7 114.4h0M174.9 112.8h0M168.5 101.6h0M174.5 110.9h0M173.3 101.7h0M168.5 113.2h0M167.7 111.8h0M173.3 112.9h0M176.7 114.7h0M175.8 111.2h0M171.5 117.8h0M172.5 105.6h0M176.4 104.9h0M166.1 112.1h0M169.8 103.8h0M177.3 104.1h0M178.6 107h0M170.8 109h0M179 112h0M178 114.3h0M173.3 113.9h0M171.3 116.7h0M178.7 108.1h0M170.1 107.3h0M176.3 104.3h0M167 104.7h0M174.1 117h0M171 117h0M175.4 115.7h0M172.5 113.1h0M170.7 117.5h0M176.9 118.7h0M170.1 118h0M173.4 102.5h0M171.4 107.6h0M172.6 115.4h0M177.8 113.1h0M173.1 118.3h0M173.6 116.7h0M173.7 109.8h0M172.5 106.1h0M173.3 100.5h0M173.4 108.5h0M166.2 110.2h0M173.3 111.5h0M175.4 113.8h0M170.8 108.5h0M173.1 114.2h0M168.5 101.8h0M177.7 117.7h0M169.9 106.5h0M173.9 105.4h0M179.3 111.1h0M173.6 116.9h0M166.7 103.8h0" stroke="#e2e2e4" stroke-width="1.12" stroke-linecap="round"/><path d="M179 110.7h0M175 102.2h0M167.1 108.4h0M176.6 103.9h0M170.2 111.7h0M177.8 116.9h0M174 118.1h0M166.8 108.1h0M171.8 105h0M175.4 109.4h0M178.3 112h0M168.9 107.7h0M173.6 101.3h0M175.3 100.9h0M177.5 109.2h0M175 113.4h0M178.1 106.5h0M169 116.8h0M175.3 101.6h0M173.2 108.2h0M173.7 113.5h0M174.4 107.6h0M168.3 106.4h0M169.8 115.2h0M167.6 114h0M175.5 99.9h0M172.9 119.5h0M174.2 114.4h0M167.4 108.3h0M172.3 109.3h0M176.7 104.7h0M174.7 109h0M171.9 118.9h0M171.7 114.7h0M170.5 107.4h0M170.5 115.5h0M170 119.5h0M174.4 109.7h0M170.4 109.1h0M170.2 102.5h0M169.8 118h0M171.8 107.5h0M174.6 104.8h0M170.8 101.7h0M169.3 106.7h0M169.8 105.4h0M177.3 107.6h0M172.2 106.1h0M169.5 104.8h0M175.3 109.9h0M176.7 109.2h0M167.8 114.8h0M166.7 109.6h0M173.1 112.3h0M170.6 114.7h0M176 113.6h0M172.3 106.8h0M171 106.7h0M170.6 113.4h0M167.2 110.5h0M171.1 110.9h0M168 115.4h0M171.2 108.6h0M171.8 105.8h0M167.7 112.8h0M167.2 111.9h0M169.6 108.2h0M177.5 115.4h0M176.8 114.7h0M167.3 115h0M166.7 105.5h0M175.2 107.2h0M173 105.2h0M171.6 107.3h0M172.1 108.9h0M171.5 108h0M178.9 110.8h0M177.5 116.9h0M172 102.2h0M168.9 116.2h0M176.8 108.5h0M170 110.7h0M176.9 114.6h0M171.5 103.2h0M173.2 101.6h0M174.8 117.2h0M173.5 111.1h0M175.8 116h0M173.5 109.4h0M170.9 111.6h0M172.7 103.2h0M176.3 107.9h0" stroke="#e2e2e4" stroke-width="1.58" stroke-linecap="round"/>
<path d="M177.4 91.2h0M191.3 92.6h0M168.6 110.9h0M200.3 85.8h0M183.8 100.3h0M188.8 100.4h0M183.9 91.9h0M169.6 109h0M190.9 90h0M193.8 117.5h0M201.7 97.6h0M171 98.1h0M170.5 85.7h0M188.3 96.7h0M191.1 88.2h0M169.2 98h0M174.9 117.5h0M166.9 95.5h0M186.1 103h0M186.9 93.1h0M192.6 103h0M188.8 84.9h0M195.1 99.3h0M194.5 106.4h0M177.8 111.7h0M170 103.6h0M176.2 105.3h0M166.4 84.3h0M196.7 107.2h0M174.8 100.1h0M200.3 94.9h0M169.8 117.4h0M167.5 82.6h0M186.6 88.8h0M196.9 117.1h0M191.8 111.5h0" stroke="#9a9898" stroke-width="0.73" stroke-linecap="round"/><path d="M170.5 87.7h0M192.2 100h0M185.4 93.7h0M162.8 118.6h0M176.6 104.5h0M171.9 110.2h0M193.4 88.1h0M174.7 91h0M168.4 95.2h0M198.7 108.7h0M171.1 118.9h0M190 89.5h0M176.8 115.6h0M179.8 83h0M176.8 98.7h0M163.4 110.8h0M186.4 85.7h0M197.4 111.4h0M169.3 107.2h0M192.6 115.2h0M191.1 98.9h0M183.5 102.9h0M194.1 85.6h0M173.1 95.5h0" stroke="#9a9898" stroke-width="0.98" stroke-linecap="round"/>
<path d="M139.5 98.9h0M144.3 97.4h0M132.1 104.5h0M143.6 97.1h0M147.4 119h0M140.7 119.7h0M146.7 98h0M151.6 84.2h0M134.6 94.6h0M133.7 111.5h0M140.2 106.9h0M155 103.7h0M157.7 97.9h0" stroke="#c04040" stroke-width="0.75" stroke-linecap="round"/><path d="M140.1 97h0M158.7 92.8h0M162.9 108.8h0M161.1 116.2h0M154.4 101.5h0M152.8 87.8h0M163.5 75.7h0M146.8 76.8h0M144.4 118.3h0M135.3 114.7h0M141.1 99.7h0M154.6 107.6h0" stroke="#c04040" stroke-width="1.05" stroke-linecap="round"/>
<path d="M304.4 68.1h0M301.2 63.8h0M295.8 63.9h0M298.4 73.5h0M308.3 69.2h0M305.4 65.6h0M297.9 63.6h0M304.7 66h0M300.9 66h0M311.4 72.2h0M309.1 66.5h0M301 59.7h0M304.7 69.1h0M319.6 74h0M299.9 78.4h0M302.3 77.9h0M311.5 74.1h0M318.2 71.1h0M304 69.3h0M319.2 73.1h0M302.4 64.9h0M305 73.4h0M299.7 74.9h0M315.1 66.2h0M309.5 70.5h0M309.7 75.9h0M318.2 70.7h0M308.3 76.6h0M304.7 59.2h0M300.7 75.3h0M298.8 60.4h0M308.9 72.9h0M307 60.2h0M300.8 73.4h0M320.1 70.3h0M297.5 65h0M304 75.1h0M301.3 77.9h0M298.5 72.9h0M297 75.9h0M309.7 70.8h0M314.3 67.6h0M301.5 68.1h0M301 71.6h0M296.8 62.4h0M305.7 71.5h0M303 66.8h0M295.1 69.6h0M311.8 73.4h0M318.3 72.6h0M299.7 63.8h0M308.1 66.7h0M315.3 66.4h0M311.3 66h0M306.6 75.9h0M295.5 69.1h0M307.7 66.1h0M300.5 75.7h0M320.2 72.4h0M308.4 69.2h0M297.2 68.4h0M295 62.3h0M309.8 67.3h0M294.6 68.8h0M297.5 76.3h0M298.2 63.4h0M316.3 68.8h0M313.6 73.2h0M306.4 62.1h0M306.7 71.1h0M298.5 62.2h0M297.8 75.6h0M306.5 64.9h0M296.8 72.7h0M306.1 60.4h0M297 62.1h0M306 72h0M307.3 69.2h0" stroke="#5e595e" stroke-width="0.90" stroke-linecap="round"/><path d="M312.9 73.7h0M303.8 72.3h0M300.5 78.5h0M307.3 61h0M318.2 69.1h0M300.9 72.1h0M302.4 64.5h0M322.1 73.8h0M297.2 68.1h0M293.6 71.2h0M314.9 71.4h0M300.9 78.1h0M300.9 61.8h0M306.5 62.2h0M304 65.5h0M315.7 74.4h0M300.6 74.5h0M298.6 72h0M310.4 68.6h0M307.4 73.4h0M303.4 61.3h0M304.1 64.1h0M303 72.1h0M315.5 72.6h0M309.9 70.5h0M308.2 74.9h0M317.8 72.6h0M315.5 69.4h0M309.4 68.6h0M308.8 65.2h0M312.7 71h0M296.3 71.5h0M300.9 65.7h0M301.3 67.5h0M312.5 64.8h0M313 69.2h0M309.3 65.3h0M317.9 72.2h0M304.2 61.6h0M298.2 73.4h0M318.5 69h0M300 64.1h0M307.2 64.6h0M308 71.3h0M313.8 71.5h0M296.5 74.2h0M302.1 64h0M298.6 67.9h0M301.7 65.8h0M317.7 68h0M305.6 66.1h0M302.8 75.5h0M305.7 73.7h0M302.3 70.7h0M321.1 71.5h0M295.6 71.9h0M303.3 78.1h0M316.3 73.1h0M303.5 71.1h0M314.9 65.7h0M307.7 70.3h0M300.5 61.6h0M302 79.1h0M307.1 61.9h0M302.6 75.9h0M304.1 66.5h0M296.1 71.8h0M312.1 65h0M300.8 63.1h0M311.7 71.4h0M313.4 66.8h0M300.4 73.7h0M297.1 68.8h0M303.4 63.3h0M296.8 76h0M313.5 66h0M298.4 62.5h0M293.7 69.7h0M306.6 71.3h0M314.6 67.3h0M296.3 73.1h0M305.9 76.4h0" stroke="#5e595e" stroke-width="1.30" stroke-linecap="round"/>
<path d="M279.4 114h0M283.5 101.7h0M283.6 110.1h0M276.6 102.1h0M281.6 109.1h0M279 100.2h0M283.4 104.9h0M276.1 112.2h0M282.4 106.5h0M282.8 100.4h0M275.4 100.4h0M283.4 104.7h0M278.6 112.5h0M284.2 111.7h0M281.1 102.6h0M275.7 110h0M285.5 107.4h0M282.8 101.5h0M280.2 105.8h0M278.8 111.7h0M279.2 109.8h0M278.9 101.6h0M275.5 110.9h0M274.7 109.7h0M275.6 114h0M283.5 110.9h0M278.6 116h0M282.4 117.4h0M283.6 106.9h0M281.4 106h0M282.5 110.7h0M280.4 112.9h0M282.3 111.4h0M284.6 104.9h0M282.6 115.9h0M280.4 111.5h0M277.7 111.1h0M280.1 105.9h0M284.4 116.9h0M283.3 113h0M276.9 115.7h0M280.4 106.9h0M283.4 112.3h0M280.4 100.4h0M277.8 99.5h0M281.4 113.8h0M283.7 103.5h0M282 108.9h0M284.2 114.5h0M281.1 102.2h0M278.6 99.1h0M285.7 110.1h0M279.9 117.2h0M282.9 111.2h0M283.1 114.7h0M278.2 111h0M280 111.2h0M278 113.8h0M278 115.5h0M280.8 117.7h0M275.3 104.2h0M278.5 116.4h0M279.7 98.7h0M283.4 116.1h0M283.4 110.6h0M282.2 105.3h0M280.5 115.6h0M279.6 114.3h0M281 107.2h0M279.9 104.4h0M277.7 116.4h0M285.4 112.6h0M281.7 101.2h0M280.7 109.4h0M277.8 116.8h0M282 115.5h0M281.2 117.4h0M281.9 109.1h0M281 112.4h0M276.3 106h0M283 114.2h0M275.1 107.4h0M276.1 100.3h0M282.2 112.9h0M283.3 101.1h0M275.8 101.3h0M276.6 105.3h0M276.7 104.9h0M284.6 106h0" stroke="#e2e2e4" stroke-width="1.12" stroke-linecap="round"/><path d="M284.7 109.5h0M285.1 111h0M282.7 99.5h0M281.1 114.2h0M277.2 114.9h0M282.8 103.3h0M277.7 103.4h0M279.3 116h0M284.5 110.7h0M280.5 109.9h0M278.6 113.8h0M280 110.4h0M280 118.1h0M277.6 112.8h0M276.1 101.8h0M277 106.2h0M275.6 105.1h0M277.5 113.1h0M277.8 112.5h0M275.9 108.4h0M280.6 118h0M279.8 108.8h0M280.2 103.7h0M276.9 102.3h0M279.7 111.7h0M275.9 103.1h0M281.5 101.5h0M279.1 118.3h0M282.5 111.7h0M274.8 109.3h0M282.7 117.2h0M282.2 100.1h0M276.2 104h0M281.2 112.7h0M278.2 115.5h0M280.4 101.3h0M280.7 99.9h0M285.7 107.6h0M280.1 114.2h0M283.8 104.7h0M281.2 111.5h0M280.6 109h0M280.1 108.7h0M281.2 110.7h0M276.8 102.6h0M277.8 105.8h0M277.1 118.1h0M282.8 118h0M282 98.7h0M276.8 111h0M275.7 100.8h0M274.3 108.5h0M279.6 117.5h0M282.5 101.1h0M275.7 101.8h0M280.9 110.3h0M276.8 106.8h0M278.3 116.1h0M280.5 107.7h0M276.2 101.9h0M285.9 108h0M285 106.5h0M281.3 99.9h0M279.2 116.9h0M282.1 101.7h0M275.5 103.9h0M279.4 104.3h0M276.6 113.4h0M283.6 102.2h0M277.6 115.7h0M276.5 116.6h0M284 104.6h0M279.3 118.2h0M281.7 104.2h0M274.7 103.1h0M279.9 112.4h0M278.8 117h0M277.3 108.5h0M278.6 118.6h0M279.5 109.3h0M283.4 109.1h0M277 103.1h0M278.8 119.1h0M283.4 101.9h0M281.3 111h0M280.9 111.1h0M284.1 110h0M279.1 102.2h0M276.7 115.9h0M278 110.3h0M278.3 109h0M282.8 102.5h0M279 117.1h0M275.3 102.1h0M281.9 114.6h0M282.2 117.7h0M274.3 109.6h0M284 110.5h0M274.3 107.4h0M276.9 115.3h0M277.3 113.8h0M281.7 109.1h0M283.3 116.7h0M279.9 109.4h0M283.7 113.8h0M282.7 114.1h0M276.5 106.4h0M278.9 115.5h0M282.2 110.7h0M275.9 101.3h0M276.5 116.8h0" stroke="#e2e2e4" stroke-width="1.58" stroke-linecap="round"/>
<path d="M302.8 101.3h0M303.1 85.5h0M270.3 82.7h0M270.1 94h0M300.9 107.3h0M269.9 114.7h0M304.9 108.2h0M291.3 92.9h0M284.8 95.9h0M299.6 97.7h0M291.9 105.5h0M283.7 104.3h0M272.8 87.6h0M273.8 117.6h0M299.9 91h0M284.4 89.1h0M272.4 109.5h0M296 119.5h0M293 114.3h0M274.7 105.4h0M278.3 105h0M271.5 101.4h0M307.6 116.4h0M289.5 89.9h0M279.5 88.4h0M296.3 116.5h0M279.2 113.1h0M281.3 115h0" stroke="#9a9898" stroke-width="0.73" stroke-linecap="round"/><path d="M285.4 84.2h0M280.5 95.4h0M304.5 92.7h0M281.8 87.3h0M301.1 101.3h0M290.3 118.3h0M306.4 111.8h0M301.7 115.2h0M285.6 80.5h0M301 93.1h0M308.9 111.3h0M283.6 82.9h0M282.8 90.3h0M272 89.5h0M279.3 107.1h0M302.4 107.6h0M293.8 118.6h0M302.1 92h0M288 83.5h0M301.6 92.6h0M289.3 94.7h0M271.9 89.1h0M281.6 96.9h0M304.3 90.6h0M272.4 101.9h0M294.5 101.1h0M278.4 83.8h0M299.9 95h0M284 83.7h0M300.5 102.8h0M277.4 91.4h0M290.3 102.2h0" stroke="#9a9898" stroke-width="0.98" stroke-linecap="round"/>
<path d="M270.1 108.2h0M243.1 88.4h0M265.3 80.3h0M259.7 107h0M248.6 117.9h0M256.2 107.4h0M259.5 93.6h0M243.4 83.5h0M250.8 114.6h0M250.3 105.9h0M241.1 107.8h0" stroke="#c04040" stroke-width="0.75" stroke-linecap="round"/><path d="M245.5 104.1h0M258.6 86.6h0M252.7 101.1h0M250 85.6h0M269.1 87h0M261.9 105.4h0M268.5 82.1h0M259.3 106h0M273.2 94.9h0M265.2 106.8h0M271 79.4h0M262.8 80.9h0M261.4 87.1h0M265 105.3h0" stroke="#c04040" stroke-width="1.05" stroke-linecap="round"/>
<path d="M412.7 98h0M416.7 78.8h0M427.4 106.1h0M406.6 83.2h0M406.2 83.8h0M401.4 81.4h0M426.5 72.9h0M420.3 76.9h0M435.8 92.2h0M413.6 100.7h0M401 78.8h0M420.8 86.5h0M400.7 91.8h0M434.4 93.4h0M424.6 91.2h0M426.7 99.3h0M414.1 69.5h0M401.8 72h0M413 104.6h0M414.4 90h0M425.2 105.6h0M417.5 60.2h0M409.6 102.4h0M412.3 86.6h0M407.4 66.7h0M400.2 62.2h0M419.6 82.4h0M415.5 97h0M430.5 93.2h0M404 90.6h0M420.9 65.3h0M407.3 96.7h0M417.4 64.4h0M406.4 100.4h0M411.7 70.3h0M414.3 96.4h0M408.5 96.6h0M407.9 66.2h0M406.4 78.1h0M426.6 96.3h0M426.2 69.1h0M415.2 81.2h0M422.4 92.3h0M414 76.2h0M409.6 71h0M422.2 75.9h0M421.3 65.4h0M415.7 86.9h0M405.8 100h0M424.4 107h0M406.3 81.8h0M430.6 92.8h0M404 62.6h0M418.2 103.3h0M415.4 76.5h0M429.2 70.5h0M426.1 96.4h0M423.1 69.8h0M429.7 69.6h0M416 69.4h0M415.2 77.9h0M420.4 74.8h0M404 84.5h0M420.6 85.8h0M435.7 92h0M415.1 92.4h0M424.8 87.4h0M400.3 71.7h0M431.4 82h0M409.7 102.2h0M404.9 79.1h0M428.3 71.9h0M418.7 85.2h0M424.8 80.9h0M403.7 72.5h0M426.4 91.1h0M425.2 82.1h0M424.4 78.1h0M415.8 83.4h0M420.8 61.4h0M436 93.4h0M399.4 64.8h0M415.1 64.5h0M431 70.9h0M417.3 75.8h0M435.5 78.7h0M425.2 71.8h0M416 94h0M416.4 91h0" stroke="#4e4a4e" stroke-width="1.27" stroke-linecap="round"/><path d="M414.1 106.4h0M431.9 89.3h0M417.3 60.4h0M421 77.1h0M419.6 109h0M416 86.7h0M417.4 75.4h0M411.5 73.1h0M409.4 62.1h0M412.9 99.7h0M420.2 103.5h0M415 86h0M419.3 70.4h0M417.5 67.1h0M415.8 82.4h0M402.2 60.9h0M406.7 80.2h0M401.8 81h0M411.9 97.1h0M419.6 104.5h0M401.2 71.4h0M399.9 70.6h0M422.1 75.6h0M434.8 92.7h0M418.1 104.8h0M416.7 86.6h0M411.8 63h0M432.4 103.5h0M410.9 90.2h0M407.1 69.4h0M408.7 96.1h0M425.7 68h0M405.9 64.7h0M433.7 91h0M420.8 90h0M428.3 103.8h0M435.8 96.5h0M413.2 92.8h0M419.2 97.7h0M426.7 70.5h0M419.4 81.8h0M415.6 104h0M419.7 103.9h0M433.7 78.6h0M410.9 74.3h0M421.8 64.4h0M438.1 83.8h0M423.9 86.4h0M432.2 79.6h0M400.9 87.8h0M420.8 85.7h0M423.8 73.4h0M429.9 97.9h0M407.8 89.5h0M430 104.2h0M427.2 87h0M414.5 98.2h0M418.4 64h0M403.3 80.1h0M405.2 99.7h0M433.9 84.8h0M428 70.9h0M407.4 68.1h0M433.7 85.2h0M433.1 75.7h0M406.7 89.4h0M405.7 72.6h0M422.4 95.9h0M428 88.5h0M425.8 76.3h0M402.9 75.9h0M419.3 93.8h0M429.8 80h0M401 92.3h0M423.1 92.7h0M437.4 86.2h0M416.3 96.6h0M434.7 92.8h0M427.5 95.7h0M415 96.3h0M434.5 79.4h0" stroke="#4e4a4e" stroke-width="1.83" stroke-linecap="round"/>
<path d="M410 91.4h0M400.4 87.9h0M410 68.8h0M405.6 76.1h0M403.7 79h0M406.9 91.1h0M405.1 85.3h0M402.6 74.5h0M407.9 83.6h0M411.5 86.7h0M412.3 86.3h0M412.3 86.7h0M403.4 67.7h0M403.3 88.2h0M411.9 88.1h0M412.5 74.2h0M409 67.6h0M410.4 93.3h0M406.7 68.7h0M410.3 83h0M410.2 68.4h0M413.5 86.5h0M412.6 74.8h0M401.6 73.1h0M411.9 76.8h0M409.3 84.8h0M409.4 92.9h0M405.2 67.9h0M408.6 89.6h0M402.2 93.1h0M404.2 94.5h0M413.1 83.1h0M400.7 80.3h0M404.6 86.4h0M407.4 93.7h0M402.3 91.3h0M405.9 77.8h0M410.2 83.3h0M410.6 82.2h0M408.3 68h0M402 81.9h0M402.4 75.8h0M414.8 73.7h0M407.8 76.9h0M412.7 89.8h0M408.1 78.1h0M407.4 80h0M402.1 82.7h0M413 87.3h0M407.7 83.6h0M410 74.7h0M406.6 95.5h0M401 73.7h0M415.2 78.5h0M402 84.6h0M405.9 72.1h0M413.7 89.1h0M406.2 71.4h0M407.8 96.7h0M402.2 68.2h0M407.7 75.3h0M408 77.1h0M413.8 87h0M409.6 84.9h0M409.8 75.3h0" stroke="#6a666a" stroke-width="1.15" stroke-linecap="round"/><path d="M408 88.6h0M404.7 71h0M402.5 72.2h0M410.7 76.3h0M409.5 74.4h0M409 91.6h0M403.4 77.9h0M415.1 79.4h0M402.6 79.8h0M403.7 78.7h0M409.3 72.6h0M403.8 82.8h0M407.8 69.7h0M410.7 74.4h0M410.4 79.7h0M407.1 77h0M400.4 74.2h0M400.5 74.4h0M402.6 77.6h0M403.7 81.5h0M401.7 80.5h0M412.3 69.5h0M405 71.2h0M407.9 81.1h0M406.5 79.7h0M408 75.3h0M401.9 88.4h0M405.6 70.3h0M410.3 93.4h0M403.6 73.8h0M402.8 82.8h0M404.3 76.5h0M410.4 69.4h0M408.4 74.6h0M402 82.2h0M404.7 94.4h0M414.4 76h0M401.9 91.5h0M410.4 85.7h0M405.1 88.6h0M414 83.7h0M407.2 77.6h0M409.7 80.7h0M413.8 78.6h0M408.9 76.9h0M406.6 77.6h0M404.8 74h0M409.6 89.4h0M410.2 92.8h0M406.6 91.8h0M406.9 94.1h0M406.8 76.1h0M409.3 74h0M405.8 87.2h0M413.8 82h0M409.3 66.7h0M413.2 79h0M412.7 71.9h0M408.7 95.6h0M405.5 68.3h0M407.1 95.4h0M409.9 80.5h0M402.4 94h0M402.4 85.3h0M411.1 70.2h0" stroke="#6a666a" stroke-width="1.65" stroke-linecap="round"/>
<path d="M94.2 195.9h0M95.7 197.8h0M93.6 194.6h0M91 201h0M92.6 198.6h0M93.6 194.2h0M93.6 193.5h0M93.1 197.5h0M91.2 202.6h0M95.6 196.8h0" stroke="#e9a838" stroke-width="0.75" stroke-linecap="round"/><path d="M89.6 194.3h0M91.2 201.4h0M93.7 200.9h0M93.2 198.8h0" stroke="#e9a838" stroke-width="1.05" stroke-linecap="round"/>
<path d="M112.7 238.1h0M113.9 237.6h0" stroke="#e9a838" stroke-width="0.75" stroke-linecap="round"/><path d="M109.6 243.6h0M114.6 241.5h0M113.6 238.6h0M108.5 233.5h0M108.2 238.6h0M112.4 241h0M111.6 241.5h0M106.4 240.3h0M106.3 240.5h0M109.6 240h0M108.4 244.1h0M111.7 235.2h0" stroke="#e9a838" stroke-width="1.05" stroke-linecap="round"/>
<path d="M76.4,204C77.4,201.5 80.3,201.1 83,199.8C85.8,198.6 89.7,196.9 93,196.5C96.3,196.1 100.1,196.2 103,197.3C105.9,198.4 108.4,200.5 110.4,203.1C112.5,205.8 114.2,209.2 115.4,213.1C116.6,217 117.9,222.5 117.9,226.4C117.9,230.2 116.8,233.6 115.4,236.3C114,239.1 111.9,241.6 109.6,243C107.2,244.3 104.1,245.2 101.3,244.6C98.5,244.1 95.8,241 93,239.6C90.2,238.3 87.2,238 84.7,236.3C82.2,234.7 79.3,233.3 78.1,229.7C76.8,226.1 77.5,219 77.2,214.8C77,210.5 75.4,206.5 76.4,204Z" fill="#605b60" filter="url(#rough)"/>
<path d="M80 209h0M106.6 214.7h0M110 227.9h0M103.2 227.2h0M89.3 227.1h0M103.5 238.3h0M107.1 221.5h0M102.9 213.1h0M93.8 236.1h0M100.8 208.8h0M111 223.2h0M86.6 214.4h0M99.3 215h0M104.3 239.3h0M103.6 235.3h0M115.5 223.3h0M97.9 218.3h0M110.1 230.8h0M82.9 224.3h0M100.6 224h0M91.8 230.3h0M81.8 214.3h0M79.9 222.5h0M103.6 233.7h0M114.7 236.5h0M95.7 237.6h0M79.8 208.2h0M106.6 239.1h0M113.6 218.7h0M109.7 211.3h0M103.5 230.3h0M117.3 225.5h0M77.7 221.3h0M96.1 198.1h0M85.4 225.5h0M96.9 232h0M97.7 205.7h0M95.4 219.1h0M106.8 218.2h0M92.2 202.4h0M83.8 232.7h0M104.6 232.7h0M96.2 216.2h0M107 242.6h0M105.5 231.2h0M95.2 218.1h0M86.3 219.8h0M104.3 219.3h0M112.2 233.8h0M89 207.9h0M84 219h0M79.4 214.4h0M90.7 208.6h0" stroke="#000" stroke-width="0.75" stroke-linecap="round"/><path d="M103 202h0M86.8 215.3h0M95.5 215.9h0M115.9 216.7h0M82.9 201.2h0M109.1 218.6h0M100.9 220.9h0M79.2 220.7h0M90.5 202.3h0M79.2 223.2h0M82.5 218.6h0M83.3 213.6h0M105.1 236.7h0M112.3 230.1h0M101 203.9h0M83.5 205.9h0M108.4 224.5h0M94.9 216.1h0M79.1 216.8h0M105.8 200.8h0M104.2 220.2h0M99.8 234h0M95.9 220.6h0M101.1 239.9h0M113.6 218.9h0M94.3 206.2h0M101.2 201.4h0M102.7 240.2h0M95.8 235.5h0M85.3 232.7h0M114.6 232.8h0M95 208.6h0M83.4 222.9h0M89 210.4h0M85.2 232.8h0M105.5 226.8h0M114.7 226.3h0M93 210.7h0M103.3 235.1h0M91.6 216h0M94.1 217.6h0M101.1 242.9h0M105.8 236.2h0M92.1 222.9h0M79.9 203.1h0M84.1 217.3h0M100.3 228.7h0M94.2 197.8h0M102.1 224.7h0M103.6 239.8h0M107.5 236.7h0M88.8 236.5h0M97.4 210.2h0M115.8 233.2h0M87.2 207.1h0M83.2 210h0M94.9 231.9h0" stroke="#000" stroke-width="1.05" stroke-linecap="round"/>
<path d="M102.2 197.8h0M100.9 244.2h0M81.1 198.6h0M117.4 227.2h0M96.2 195.6h0M115.3 228.7h0M80.5 234.3h0M113.2 226.1h0M113 235.9h0M88.1 239.2h0M80.8 220.8h0M84.8 234h0M91.7 238h0M85.5 201.5h0M112.7 236.9h0M117.3 218.9h0M119.8 222.7h0M116.1 219.8h0M108 246.6h0M85.1 239.4h0M114.7 230.2h0M79.5 213.9h0M87.4 234.6h0M111.7 204.4h0M90 239.4h0M78 217.9h0M100.3 243h0M92 239h0" stroke="#605b60" stroke-width="0.80" stroke-linecap="round"/><path d="M95.3 246.4h0M117.1 215.1h0M86.3 199.9h0M85.1 237.3h0M117.7 228.6h0M78.2 217.1h0M114.5 213.6h0M116.1 236.1h0M81.5 196.7h0M100.4 198h0M83 236.2h0M111.6 238.8h0M112.4 238h0M101.3 239.5h0M77.4 222.3h0M107.1 241.4h0M106.8 202h0M113 210.1h0M90.5 238.4h0M116.8 216.3h0M76.8 206.7h0M111 240h0M98.7 197.1h0M89.2 239.4h0M91.4 199.3h0M77.1 202.8h0M104.2 196.5h0" stroke="#605b60" stroke-width="1.20" stroke-linecap="round"/>
<path d="M49,253.7C50,251.3 50.8,247.5 52.4,244.6C53.9,241.7 56.1,238.5 58.2,236.3C60.2,234.1 62,232.5 64.8,231.3C67.6,230.2 72.3,229.4 74.8,229.7C77.2,230 79,231.1 79.7,233C80.4,234.9 79.2,238.4 78.9,241.3C78.6,244.2 79,247.4 78.1,250.4C77.1,253.5 75.3,257.2 73.1,259.6C70.9,261.9 67.7,263.3 64.8,264.5C61.9,265.8 58.3,267 55.7,267C53,267 50.6,265.8 49,264.5C47.5,263.3 46.5,261.3 46.5,259.6C46.5,257.8 48.1,256.2 49,253.7Z" fill="#e2e2e4" filter="url(#rough)"/>
<path d="M48.3 258h0M66.9 257.5h0M73.7 254.7h0M59.2 260.2h0M76.9 238.2h0M71.6 245.7h0M66.3 243.9h0" stroke="#000" stroke-width="0.75" stroke-linecap="round"/><path d="M61.8 255.5h0M73.8 254.1h0M54.8 260.4h0M59.6 245.8h0M71.9 255.2h0" stroke="#000" stroke-width="1.05" stroke-linecap="round"/>
<path d="M49.6 262.8h0M65.2 228.6h0M78.8 238.2h0M73.2 261.5h0M74.5 233.4h0M62.7 265h0M75.7 251h0M47.9 268.7h0M66.4 264.7h0M58 238.4h0M49.2 247.3h0M76.4 242.3h0M53.8 268h0M67.8 231.5h0M47.5 260h0M80.5 231.8h0M78.9 239.4h0M78.1 228.2h0M77.9 231.2h0M58.9 234.7h0" stroke="#e2e2e4" stroke-width="0.80" stroke-linecap="round"/><path d="M50.7 250.5h0M51.1 250.7h0M73.2 230.1h0M54.8 266.3h0M66 230.4h0M77.5 235.3h0M61.1 264.4h0M77 228.4h0M49.1 263.5h0M74.5 257.7h0M79.3 231.2h0M75.7 255.8h0M81.1 233.7h0M81.5 238.3h0M52 247.4h0M47.1 263.4h0M75.2 229.5h0M50.3 253.8h0M50.5 245.9h0M71.5 259.7h0M73.9 255.7h0M80.4 242h0M47.7 261h0M78.4 230.7h0M55.5 237.3h0M46.8 258.6h0M57 234h0M47.6 259.3h0M70.7 231.7h0M78 237.6h0M60.3 265h0M81.5 231.8h0M79.3 249.2h0M75.1 234h0M46.6 258.8h0" stroke="#e2e2e4" stroke-width="1.20" stroke-linecap="round"/>
<path d="M27.5,225.5C28.2,224.4 30.1,222.4 31.6,221.4C33.1,220.4 34.4,220.4 36.6,219.7C38.8,219 42.1,217.8 44.9,217.2C47.7,216.7 50.8,216.1 53.2,216.4C55.5,216.7 57.6,217.2 59,218.9C60.4,220.6 61.5,224 61.5,226.4C61.5,228.7 60,230.8 59,233C58,235.2 56.8,237.4 55.7,239.6C54.6,241.9 53.5,244.3 52.4,246.3C51.2,248.2 50.3,250.1 49,251.3C47.8,252.4 46,253.7 44.9,252.9C43.8,252.1 43.5,248.8 42.4,246.3C41.3,243.8 40,240.5 38.3,238C36.5,235.5 33.4,233 31.6,231.3C29.8,229.7 28.2,229 27.5,228C26.8,227.1 26.8,226.6 27.5,225.5Z" fill="#dc2c30" filter="url(#rough)"/>
<path d="M56.8 236.5h0M57.3 223.3h0M40.1 223.4h0M43.6 223.5h0M42.5 222.8h0M39.5 232.6h0M34.4 233h0M47.9 247.8h0" stroke="#000" stroke-width="0.75" stroke-linecap="round"/><path d="M54.4 226.5h0M47.9 247.8h0M58.1 233.2h0M54.4 232.1h0M41.1 240.1h0M32.6 222.6h0M43.7 240.9h0M52.2 219.8h0M39.1 226.9h0M48 230.7h0M33.6 220.8h0M38 219.5h0" stroke="#000" stroke-width="1.05" stroke-linecap="round"/>
<path d="M54.9 239.4h0M58.4 235.1h0M51.2 246.2h0M46.2 216.5h0M60.1 228.5h0M27.9 224h0M60 219.9h0M53.6 216.8h0M27.3 226.9h0M34.7 219.7h0M51 251.2h0M54 219.7h0M43.2 251.6h0M40.8 241.7h0M52.8 245.4h0M56.1 242h0M56.6 235.1h0M59.2 223.9h0M43.3 250.3h0M47 251.2h0" stroke="#dc2c30" stroke-width="0.80" stroke-linecap="round"/><path d="M54.2 217.2h0M30.7 227.1h0M62.7 219.5h0M48.5 250.7h0M50.3 216.6h0M45.3 214.2h0M58.5 219.8h0M56.5 239.8h0M29.2 224.3h0M52.6 240.8h0M49.8 215.9h0M41.5 248.8h0M29.8 228.4h0M31.7 232.3h0M57.1 221.1h0M44.4 251.4h0M60.5 225.8h0M45.2 217.3h0M37.9 242.3h0M53.9 217.7h0M48.9 245.3h0M55.4 239.4h0M42.5 253.8h0M55.6 240h0M54.9 218.3h0M32.5 229.5h0M33.3 232.2h0M49.5 218.3h0M51.6 246h0M31.6 232.5h0M55.4 234.4h0M26.3 226.3h0M51.3 246.3h0M52.7 242.8h0M51.9 247.2h0" stroke="#dc2c30" stroke-width="1.20" stroke-linecap="round"/>
<path d="M41.6,243C42.3,241.3 45.3,241.3 46.5,243C47.8,244.6 49.3,250.7 49,252.9C48.8,255.1 46,256.2 44.9,256.2C43.8,256.2 43,255.1 42.4,252.9C41.8,250.7 40.9,244.6 41.6,243Z" fill="#99358f" filter="url(#rough)"/>
<path d="M45.4 255.2h0M48.1 245.6h0M47.4 254.5h0M46.8 256.7h0M46.7 242h0M46 255.5h0M43.7 259.2h0M48.2 252.1h0M41 242.2h0M43.6 242.2h0M46.9 255.1h0M45.7 246h0M43.1 251.7h0M49.5 250.7h0M42.6 254.9h0M46.7 253.6h0M46.2 253.4h0M43.6 241.8h0M45.6 243.6h0M41.9 242.8h0M41.3 252.9h0M40.7 246.6h0M44.5 247.7h0M50.1 251.3h0M43.7 252.5h0M47.4 256.1h0M48.5 252.1h0M42.8 242.3h0" stroke="#99358f" stroke-width="0.80" stroke-linecap="round"/><path d="M47.1 255.1h0M45.2 241h0M44.9 244.3h0M44.1 252.3h0M45.5 255.5h0M45.4 244h0M42.3 248.6h0M41.4 247h0M39.7 247h0M44.8 248.3h0M43.7 253.5h0M45.2 255.2h0M48.9 251.8h0M45.9 245.2h0M45.9 242.6h0M41.5 257.1h0M43.5 247.3h0M45.3 244.5h0M46.4 243.6h0M44.5 254h0M43.7 240.1h0M43.4 243.5h0M48 249.1h0M43.9 240.1h0M46.8 247.4h0M48.2 249.9h0M50.2 250.8h0" stroke="#99358f" stroke-width="1.20" stroke-linecap="round"/>
<path d="M38.5,203.7C39.2,202.4 40.7,200.9 42.1,200.1C43.6,199.2 45.6,198.7 47.2,198.6C48.8,198.5 50.4,198.2 51.6,199.3C52.8,200.4 53.8,203.2 54.5,205.2C55.3,207.1 56.3,209.3 56,211C55.6,212.7 53.8,214.5 52.3,215.4C50.9,216.2 49,215.9 47.2,216.1C45.4,216.4 42.8,217.5 41.4,216.9C39.9,216.2 39.1,213.9 38.5,212.5C37.9,211 37.7,209.5 37.7,208.1C37.7,206.6 37.7,205 38.5,203.7Z" fill="#8dc9e1" filter="url(#rough)"/>
<path d="M50.7 202.9h0M45 201.5h0M52.8 207.3h0M42.9 204.2h0M44.6 211.2h0M51.5 211.6h0M43 211.3h0" stroke="#000" stroke-width="0.75" stroke-linecap="round"/><path d="M46.5 199.9h0M48 214.6h0M46.9 214.6h0M47.5 206.9h0M45.7 203.8h0M40.5 210.9h0M41.2 207h0M52.1 207.1h0" stroke="#000" stroke-width="1.05" stroke-linecap="round"/>
<path d="M54.5 203.6h0M41.8 211.3h0M38.2 213.9h0M38.9 213.8h0M54.2 208.6h0M39.4 204.9h0M39.7 217.4h0M50.9 199.4h0M54.1 210h0M55.5 204.7h0M50.7 196.6h0M37.8 212.2h0M54.8 204.6h0M52.2 202.9h0M53.3 213.7h0M48.1 199.7h0M40.9 199.3h0M54.7 210.1h0M53.1 200.1h0M52 209.8h0M43.5 200.6h0M45.1 199.9h0M41.3 218.8h0M42.8 215.6h0M37.8 203.2h0M50.9 216.4h0M47.3 217.3h0M37.1 209.4h0M55 210.3h0" stroke="#8dc9e1" stroke-width="0.80" stroke-linecap="round"/><path d="M41.5 200.9h0M41.9 203h0M52.9 201.9h0M48.3 215h0M54.3 197.7h0M38 209.2h0M37.7 213.1h0M39.3 201.3h0M50.1 217.1h0M52.9 203h0M39 202.1h0M52.8 203.8h0M42.5 215.7h0M43.5 197.4h0M36.9 215.1h0M46.2 214.1h0M54.3 215.3h0M49.5 196.5h0M59.5 213.1h0M46.2 198.2h0M39.5 213.1h0M37.5 212.4h0M53.5 203.8h0M55.2 213.4h0M38.9 211.3h0M39.9 201h0" stroke="#8dc9e1" stroke-width="1.20" stroke-linecap="round"/>
<path d="M62.3,209.8C63.5,207.8 65.8,205.8 68.1,204.8C70.5,203.8 74.6,203.1 76.4,204C78.2,204.8 78.6,207.1 78.9,209.8C79.2,212.4 78.3,216.4 78.1,219.7C77.8,223 78.3,227.8 77.2,229.7C76.1,231.6 73.4,231.3 71.4,231.3C69.5,231.3 67.1,231.1 65.6,229.7C64.1,228.3 63.1,225.3 62.3,223C61.6,220.8 61.1,218.6 61.1,216.4C61.1,214.2 61.1,211.7 62.3,209.8Z" fill="#a24ead" filter="url(#rough)"/>
<path d="M78.2 210.4h0M76.9 205.3h0M65.4 223.9h0M77.8 216.2h0M75 218.5h0M66.2 216.7h0M76.8 217.3h0M74.2 217.9h0M76.4 225.8h0M76.7 214.4h0M62.3 214.2h0M71.5 208.2h0M76 217.6h0M76.7 206.8h0M66.4 219.6h0" stroke="#000" stroke-width="0.75" stroke-linecap="round"/><path d="M77.9 221.7h0M64.2 220.8h0M74.1 224.9h0M68.1 207.5h0M74.3 222.3h0M69.7 220.6h0M74.3 230.4h0M69.3 215.5h0M77.2 226.7h0M73.3 216h0M67.5 221.1h0M73.6 220.3h0M77.1 229.1h0M66.3 229.8h0M76.2 220h0" stroke="#000" stroke-width="1.05" stroke-linecap="round"/>
<path d="M61.7 218.5h0M66.3 226.8h0M66.6 205.3h0M62.4 227.3h0M79.9 215.5h0M75.2 230.6h0M81.1 214.1h0M60.9 219.7h0M66.4 225.7h0M71.7 231.4h0M80 209.3h0M81.6 212.3h0M69.7 232.6h0M73.6 206.3h0M73.6 204.3h0M62.6 213.1h0M65.2 206.1h0M70.5 230.5h0M68.6 230.8h0M63.1 219.6h0M62.8 222.4h0M76.9 226.3h0M76.9 205.6h0M64.8 205.9h0M63.4 210.1h0M66.9 226.9h0M72.7 204.8h0" stroke="#a24ead" stroke-width="0.80" stroke-linecap="round"/><path d="M67.5 232.4h0M68.4 231.1h0M73.3 205.9h0M74.8 205.3h0M75.9 207h0M77.6 226.4h0M64.8 226.4h0M77.5 217.5h0M62 215.8h0M61.9 215.9h0M75.9 204.6h0M78.3 210.6h0M77.4 229.1h0M78.7 208h0M76.5 208.5h0M66 224.9h0M60.3 220h0M66.5 233.9h0M61.7 222.3h0M69.7 229.7h0M59.7 209.1h0M70.1 228.1h0M76.9 203.5h0M76 204.9h0M61.6 224.5h0M63.7 222.1h0M67.2 232.7h0M79.9 205.4h0" stroke="#a24ead" stroke-width="1.20" stroke-linecap="round"/>
<path d="M60.7,175.8C61.7,174.2 63.6,173.1 65.6,172.4C67.7,171.8 71.6,171.3 73.1,171.9C74.6,172.6 74.2,174.4 74.8,176.6C75.3,178.7 75.7,182.3 76.4,184.9C77.1,187.5 77.9,190.6 78.9,192.4C79.9,194.2 82.1,194.4 82.2,195.7C82.4,196.9 81,198.9 79.7,199.8C78.5,200.8 76.6,201.9 74.8,201.5C73,201.1 70.6,198.9 68.9,197.3C67.3,195.8 66.2,193.9 64.8,192.4C63.4,190.8 61.5,190 60.7,188.2C59.8,186.4 59.5,183.6 59.5,181.6C59.5,179.5 59.6,177.3 60.7,175.8Z" fill="#80c04e" filter="url(#rough)"/>
<path d="M73.5 190.9h0M68.1 189.5h0M68 173.8h0M69 172.6h0M75 178.8h0M71 196.8h0M65.1 181.3h0M70.6 179h0M62 187.4h0M77.8 198.2h0M70.7 181.8h0M73.4 173.4h0" stroke="#000" stroke-width="0.75" stroke-linecap="round"/><path d="M62.4 185.7h0M68.4 193.8h0M71.2 173.5h0M69.5 193.6h0M64.1 184.1h0M69.1 189.2h0M61.5 176.1h0M72.3 179.4h0M76.9 187.7h0M65.6 183.4h0M74.5 180h0M69.9 190.2h0M63.8 180.6h0" stroke="#000" stroke-width="1.05" stroke-linecap="round"/>
<path d="M75.2 191.1h0M73.7 199.3h0M69.2 196.5h0M60.2 174h0M61.2 185.6h0M59 176.2h0M74.9 186.8h0M73.7 179.1h0M69.8 199.1h0M58.2 188.5h0M77.7 186.5h0M79.4 200.7h0M59.3 190h0M78.9 199.3h0M60.7 185.1h0M73.7 178.1h0M71.6 175.1h0M59.5 184h0M70.9 198.6h0M71.1 198.8h0M71.8 196.4h0M76.3 182.2h0M73.7 176.3h0M62.7 189.7h0" stroke="#80c04e" stroke-width="0.80" stroke-linecap="round"/><path d="M66.1 172.9h0M81.7 194.8h0M66.8 171.5h0M63.7 178.1h0M70.5 197.4h0M79.1 186.2h0M84.5 197h0M79.5 199.9h0M78.9 201.7h0M75.6 184.9h0M76.3 182.1h0M60.1 186.2h0M79.8 200.9h0M80.4 198.9h0M79.7 189.7h0M73.3 171.2h0M82.2 200.4h0M79.8 192.3h0M77.9 198.3h0M65.4 192.8h0M76.4 179.5h0M84 194.7h0M78.2 199.6h0M65 193.7h0M76.6 181.4h0M59.9 183.4h0M70.6 172.4h0M68.7 192.3h0M83.8 195.5h0M62.7 173.3h0M71.5 172.6h0" stroke="#80c04e" stroke-width="1.20" stroke-linecap="round"/>
<path d="M90.2,194.3C90.7,193.5 92,193.2 92.6,193.7C93.1,194.3 93.9,196.7 93.7,197.8C93.5,198.9 92.1,199.9 91.4,200.1C90.7,200.3 89.8,199.9 89.7,199C89.5,198 89.8,195.2 90.2,194.3Z" fill="#e9a838" filter="url(#rough)"/>
<path d="M87.3 194.8h0M89.3 200.1h0M87.1 191.7h0M93.2 193.3h0M92.2 202h0M90.9 193.9h0M93.9 193.8h0M92.6 192.6h0M90.9 197.4h0M90.7 194.4h0M91.2 199.2h0M88.7 197.7h0M89.2 198.9h0M94.5 197.5h0M90.4 198.9h0M90.7 197.3h0M90 197.6h0M90.1 192.4h0M91.7 199.6h0M94.6 195.2h0M92.9 202.1h0M92.8 198h0M92.7 191.8h0M92.8 195.7h0M87.3 197.4h0" stroke="#e9a838" stroke-width="0.80" stroke-linecap="round"/><path d="M89.9 199.8h0M93 201.2h0M93.7 195.6h0M89.2 194.4h0M91.9 197.2h0M89.9 195.5h0M90.2 194.2h0M93.4 194.2h0M93.3 196.4h0M92.9 197.4h0M91.9 199.9h0M90.3 198.1h0M90.7 195.6h0M89.2 196.6h0M91.5 197.2h0M92.6 195.8h0M86.3 198h0M89.9 193.5h0M91.7 200.6h0M89.6 195.4h0M93.2 201h0M93.5 197.9h0M92.4 198.6h0M95.1 198.1h0M90.5 196.8h0M93.2 193.9h0M90.7 195.5h0M91.9 195.9h0M94.8 193.6h0M92.3 196.4h0" stroke="#e9a838" stroke-width="1.20" stroke-linecap="round"/>
<path d="M107.2,235.9C107.9,235.4 110.5,235.7 111.2,236.5C112,237.3 112.2,239.7 111.8,240.6C111.4,241.4 109.7,241.9 108.9,241.7C108.1,241.5 107.5,240.4 107.2,239.4C106.9,238.4 106.5,236.4 107.2,235.9Z" fill="#e9a838" filter="url(#rough)"/>
<path d="M112.2 236.1h0M107.1 242.2h0M108.5 239.9h0M110.4 235.9h0M106.4 239.4h0M108.4 237.4h0M104.9 235.7h0M110.9 239.1h0M106.1 236.5h0M108.3 238.2h0M109.6 236.2h0M107.1 243.3h0M109.1 238.4h0M109.9 243.9h0M108.7 238.9h0M105.5 240.2h0M110.5 236.9h0M110.5 242.1h0M109.3 232.9h0M109.1 235.1h0M110.9 236.7h0M111.1 235.1h0M106.6 241.7h0M107.8 234.7h0M109 238.3h0M109.3 241.6h0M108.3 238.3h0M113.2 240.2h0" stroke="#e9a838" stroke-width="0.80" stroke-linecap="round"/><path d="M110.4 240.3h0M112.2 240.5h0M110.2 236.7h0M110.2 241.7h0M111.8 240.8h0M109.4 235.4h0M109.5 242.7h0M113.2 238.4h0M112.3 238.6h0M111.3 241.1h0M107.2 241.5h0M110.8 235.3h0M112.2 242.4h0M112.3 239.2h0M108.6 243h0M107.5 240.4h0M110.7 242.7h0M108.2 237.9h0M106.8 239.5h0M111.1 242.6h0M105.7 235.1h0M110.5 241h0M110.4 238.8h0M112.1 239.3h0M106.9 236.1h0M109.2 237.1h0M109.9 241.8h0" stroke="#e9a838" stroke-width="1.20" stroke-linecap="round"/>
<path d="M78.2 213.5h0M112.3 216.9h0M87.1 203.5h0M110.7 223.4h0M102.8 231.2h0M94.1 218.2h0M114.2 236h0M89 230.4h0M88.4 213.5h0M109.1 237.8h0M82.1 202h0M105.3 206.8h0M106.6 200.9h0M80.5 211.4h0" stroke="#a8a6a7" stroke-width="0.75" stroke-linecap="round"/><path d="M106.6 231.8h0M103 212.5h0M104.5 211.3h0M100.4 244.1h0M100.1 237.5h0M95.3 209.2h0M101.1 206.4h0M100.2 221.1h0M92.4 228.1h0M101.3 225.2h0M87.5 232.2h0" stroke="#a8a6a7" stroke-width="1.05" stroke-linecap="round"/>
<path d="M82.6 228.8h0M84.9 241.6h0M79.3 234.9h0M88.2 237h0M83.6 227.6h0M83.6 229.9h0M82.8 234.4h0M84.3 231.4h0M90.7 242.9h0M77.1 228.1h0M87.3 230.6h0M81.5 232.3h0M76.8 233h0M80.6 235.4h0M89.2 242h0M76.8 231.4h0M80.5 235.4h0M84 237.5h0M89.6 237.2h0M85.4 238.4h0M76.6 231.5h0M82.4 231.7h0M87.7 236.6h0M88.5 235.6h0M85.4 241.5h0M82.8 227.8h0M84 228.5h0M91 237.5h0M89.4 237.3h0M82.2 234.4h0M86.3 241.9h0M94.1 239.2h0M84.9 235.4h0M79.5 227.3h0M80.6 233.5h0M86.1 233.4h0M89.9 235.7h0M78 232.8h0M79.9 231h0M76.7 227.2h0M84.2 236.6h0M84.1 239.9h0" stroke="#d8d8da" stroke-width="0.90" stroke-linecap="round"/><path d="M88.7 233.9h0M87.5 234.4h0M81.9 229.8h0M85.6 229.8h0M94 238.7h0M76.1 232.4h0M76.5 228.3h0M83.2 237.4h0M86.4 240.5h0M90.1 242.6h0M91.7 237.2h0M85.8 237.7h0M76.4 232.2h0M89.4 237h0M87.8 234.4h0M78.9 233h0M88.2 230.2h0M88.5 234.4h0M81.4 236.3h0M83.8 230.3h0M91.1 233.3h0M86.6 232h0M83 226.8h0M85.6 228.7h0M76.9 230.2h0M91.9 239.6h0M90.8 237.8h0M88.2 236h0" stroke="#d8d8da" stroke-width="1.30" stroke-linecap="round"/>
<path d="M75.7 232.7h0M78.5 227.9h0M61.5 234h0M61 261.6h0M54.8 269.5h0M78.5 234.8h0M77.1 234.3h0M73.4 261.1h0M76.1 242.4h0M66.8 265.2h0M64.3 260.3h0M55.3 243.8h0M57.3 242.1h0M63.5 235.6h0M79.3 243.3h0M78.9 233.1h0M47 260.9h0M45.6 261.5h0M73.5 231.6h0M48.6 253h0M51.8 246h0M80.7 233.1h0M53.3 244.1h0M71.7 254.3h0M73 228.8h0M71.2 261.1h0M71.6 230.4h0M51.6 253.9h0M55.9 264.6h0" stroke="#d8d8da" stroke-width="0.77" stroke-linecap="round"/><path d="M53.9 241.2h0M46.6 260.3h0M79.5 232.4h0M57.3 238.6h0M71.2 258.6h0M49.8 260.8h0M52.2 241.1h0M47.6 258.9h0M54.5 246.4h0M70.8 232.6h0M66.7 227.7h0M51.8 243.9h0M77.8 260.3h0M48.3 267.3h0M64.9 264h0M53.3 245h0M73.6 256.3h0M66.6 234.6h0M65.1 232.7h0M75.9 246.3h0M62.2 265.2h0M50.2 257.7h0M72.7 230.3h0M80.2 240.4h0M64.3 265.7h0M45.2 252h0M48.1 266.5h0M48.9 262.7h0M63.2 265.3h0M66 260.6h0M45.8 259.5h0" stroke="#d8d8da" stroke-width="1.12" stroke-linecap="round"/>
<path d="M202.2 196.2h0M200.6 197.1h0M199.2 195.4h0M199.6 191.7h0M200.8 193.1h0M197.5 194h0" stroke="#e9a838" stroke-width="0.75" stroke-linecap="round"/><path d="M201 200.8h0M200.2 195.9h0M196.5 200.1h0M196.8 193.3h0M198.9 197h0M199.9 196.4h0M197.2 198.8h0M200 198.4h0" stroke="#e9a838" stroke-width="1.05" stroke-linecap="round"/>
<path d="M212.5 235.3h0M216.8 240.1h0M214.3 242.6h0M218.2 238.3h0M213.1 239.5h0M220.5 236.4h0" stroke="#e9a838" stroke-width="0.75" stroke-linecap="round"/><path d="M214.9 240.9h0M214.2 237.1h0M213 235.4h0M219 240.9h0M214.1 241.6h0M216.2 244h0M214.9 238h0M217.8 239.2h0" stroke="#e9a838" stroke-width="1.05" stroke-linecap="round"/>
<path d="M185.9,203.1C187.3,200.8 190.5,200 193.4,199C196.3,198 200,197.3 203.3,197.3C206.6,197.3 210.5,197.5 213.3,199C216,200.5 218.3,203.6 219.9,206.5C221.6,209.4 222.5,212.8 223.2,216.4C223.9,220 224.3,224.4 224.1,228C223.8,231.6 223.1,235.2 221.6,238C220.1,240.7 217.4,243.8 214.9,244.6C212.4,245.4 209.4,244.3 206.6,243C203.9,241.6 201.1,238 198.3,236.3C195.6,234.7 192.1,234.7 190,233C188,231.3 186.7,229.7 185.9,226.4C185.1,223 185.1,217 185.1,213.1C185.1,209.2 184.5,205.5 185.9,203.1Z" fill="#605b60" filter="url(#rough)"/>
<path d="M214.1 200.9h0M208.5 208.7h0M186.2 204.8h0M222.9 229.6h0M193.4 220.1h0M221.7 226.1h0M216.5 227.3h0M209.5 220.3h0M213.3 225.2h0M205.9 206.2h0M188.2 206.5h0M187.9 223.7h0M220.8 232.2h0M212.4 212.2h0M208.3 200.7h0M202.4 234.2h0M197.5 216.7h0M189.2 228.9h0M216 233.9h0M219.2 238.9h0M207.4 234.4h0M203.4 212.4h0M191.5 205.9h0M205.1 201.5h0M222.8 228.6h0M210.2 218.5h0M206.9 224.7h0M192.1 227.1h0M210.6 238.9h0M208.9 198.4h0M206.1 215.8h0M223.1 228.9h0M195.1 235h0M193.4 218.8h0M211.4 208.4h0M194.5 207.5h0M192.2 219.1h0M191.3 219.7h0M203.8 228.8h0M210.1 204h0M188.4 217.6h0M207.2 201.4h0M203.8 205.4h0M201 225.3h0M200.9 224.2h0M196.1 210.5h0M205.6 237.7h0M189.6 214.6h0M212.6 206.3h0M213.2 221.5h0M209.7 242.4h0M198.8 221.4h0M213.1 225.4h0M215.7 230.4h0M205 208.5h0M191.6 202.2h0M199.3 209.5h0M198.8 209.3h0M203.2 216h0M185.5 217.2h0M215.2 207.4h0M213 205.3h0" stroke="#000" stroke-width="0.75" stroke-linecap="round"/><path d="M205.3 198.7h0M212.9 230.7h0M203.2 199.9h0M200 211.3h0M194.5 204.3h0M219.5 218.7h0M217.3 238.6h0M205.5 239.9h0M195.7 206h0M211 207h0M203.4 218.1h0M215.7 209.7h0M210 223.3h0M189.6 210.6h0M186.5 214.9h0M215 221.5h0M204.5 213.6h0M205.1 215.4h0M211.9 240.7h0M206.2 232.4h0M196.9 204h0M190.1 218.6h0M210.4 208.4h0M210.9 238.7h0M217.9 223.3h0M187.1 227.3h0M215.1 226.7h0M185.8 210.7h0M211.2 210.2h0M213.9 230h0M197.4 229.3h0M217.5 205.2h0M200.8 214.4h0M185.6 209.1h0M210.7 232.6h0M205.6 203h0M195 207.5h0M194.6 232h0M215.1 228.6h0M191.7 233h0M213.9 224.5h0M194 209.8h0M200.5 220.5h0M203.1 198h0M214.4 236.7h0M202.8 223.2h0M194.6 227.8h0M221.7 235.1h0" stroke="#000" stroke-width="1.05" stroke-linecap="round"/>
<path d="M197.9 236.6h0M184.3 225.9h0M183.7 216.7h0M193.3 194h0M191.4 201.4h0M192.3 196.5h0M216.5 204.2h0M188.3 209.2h0M185.2 202.9h0M199.6 235.3h0M203.5 238.9h0M218.7 203.3h0M186.4 222h0M216.3 204.3h0M221.6 219.2h0M202.7 241.6h0M206.7 197.2h0M188.5 228.9h0M216.7 242.4h0M198.9 235.3h0M184.5 207.4h0" stroke="#605b60" stroke-width="0.80" stroke-linecap="round"/><path d="M221.2 216.3h0M210.1 244.7h0M186.1 203.4h0M223.8 211.9h0M183.7 202.1h0M224.8 215.9h0M202 240.3h0M218.4 239.7h0M223.2 214.1h0M188.2 205.3h0M209.3 242.1h0M210.2 199.3h0M191.6 232.7h0M211.2 242.7h0M222 219.1h0M220.5 209.2h0M211.5 240.8h0M188.7 229.6h0M186.7 232.9h0M224 230.3h0M190.6 234.6h0M189.3 236.1h0M220.6 212h0M215.5 200.8h0M220.6 206.2h0M214.9 198.6h0M185.3 225.6h0M216.2 200h0M186.8 210h0M222.2 226.8h0M188.5 235.6h0M188.9 232.3h0M208.9 244.5h0M190.5 231.6h0" stroke="#605b60" stroke-width="1.20" stroke-linecap="round"/>
<path d="M154.4,262.9C154.9,260.4 156.2,255.1 157.7,251.3C159.2,247.4 161.2,243.2 163.5,239.6C165.9,236 169,231.8 171.8,229.7C174.6,227.6 178.2,226.9 180.1,227.2C182,227.5 182.9,228.7 183.4,231.3C184,234 183.3,239.4 183.4,243C183.6,246.6 184.8,249.9 184.2,252.9C183.7,256 182.2,259 180.1,261.2C178,263.4 175.1,265.1 171.8,266.2C168.5,267.3 163.1,267.8 160.2,267.8C157.3,267.8 155.3,267 154.4,266.2C153.4,265.4 153.8,265.4 154.4,262.9Z" fill="#e2e2e4" filter="url(#rough)"/>
<path d="M174.9 244.9h0M180.8 247.4h0M179.1 246.2h0M165.7 245h0" stroke="#000" stroke-width="0.75" stroke-linecap="round"/><path d="M171.9 247.2h0M176 256.4h0M179.4 239h0M157.4 266.8h0M163.4 252.8h0M170.7 254.4h0M162.7 247.9h0M155.1 263.8h0" stroke="#000" stroke-width="1.05" stroke-linecap="round"/>
<path d="M177.3 263.6h0M158.4 267.4h0M176.2 225.8h0M175.8 267.2h0M180.4 261.5h0M167.2 235h0M177.6 262.4h0M179 227.4h0M184.2 247.2h0M174.5 260.6h0M159.2 254.5h0M181.1 228.6h0M158.5 253.3h0M159.1 266.6h0M161.5 267.9h0M182.9 236.3h0M156.9 252.5h0M181.4 253.3h0M180.7 246.4h0M174.6 228.1h0M154.5 258.5h0M152.9 261.9h0M175 225h0M172.4 265.2h0M181 228.2h0M160.1 248.5h0M162.2 246h0M154.2 266.6h0" stroke="#e2e2e4" stroke-width="0.80" stroke-linecap="round"/><path d="M178.2 232.4h0M166.5 267h0M182.6 242.8h0M156 264.1h0M179.7 229.1h0M175.3 229.7h0M184.1 243.8h0M182.4 242.5h0M180.6 242.6h0M176.9 228.7h0M163.7 241.7h0M184 227.2h0M181.6 250.4h0M156.2 262.6h0M172.8 267.6h0M182.4 259.6h0M179.8 261.3h0M154.8 264.4h0M184 252.6h0M179.2 259.3h0M163.1 239.8h0M153.7 262.4h0M157.4 267.6h0M183.1 244.3h0M184.2 246.5h0M175.4 263.7h0M181.6 225.1h0" stroke="#e2e2e4" stroke-width="1.20" stroke-linecap="round"/>
<path d="M135.3,225.5C135.8,224.4 137,222.9 138.6,222.2C140.3,221.5 142.5,221.8 145.3,221.4C148,221 152.3,219.7 155.2,219.7C158.1,219.7 160.7,220.3 162.7,221.4C164.6,222.5 166.1,224.4 166.8,226.4C167.5,228.3 167.5,230.5 166.8,233C166.1,235.5 164.1,238.5 162.7,241.3C161.3,244.1 159.8,247.7 158.5,249.6C157.3,251.5 156.2,252.9 155.2,252.9C154.2,252.9 153.5,251.3 152.7,249.6C151.9,247.9 151.5,245.2 150.2,243C149,240.7 147.2,238.3 145.3,236.3C143.3,234.4 140.3,232.6 138.6,231.3C137,230.1 135.8,229.8 135.3,228.9C134.7,227.9 134.7,226.6 135.3,225.5Z" fill="#dc2c30" filter="url(#rough)"/>
<path d="M145.7 222.8h0M147.3 221.9h0M156 249.6h0M153 246.9h0M143.7 234.6h0M154.5 227.1h0M165.5 234.9h0M153.8 229h0M164.7 226.8h0M163.7 235.5h0M162.2 222.3h0M150.2 237.2h0" stroke="#000" stroke-width="0.75" stroke-linecap="round"/><path d="M145.5 233h0M142.1 225.4h0M162.1 222.1h0M149.6 238.2h0M147.7 232.1h0M152.6 241.6h0M157.2 235.7h0M145.9 222.5h0" stroke="#000" stroke-width="1.05" stroke-linecap="round"/>
<path d="M150.9 221.5h0M165.9 243.3h0M143.8 232.7h0M136.2 222.9h0M155.6 252.3h0M162.2 239.7h0M154.8 248.7h0M136 229.5h0M164.9 232.8h0M160.4 221.1h0M141.2 233.8h0M137.5 230.1h0M158.3 255.2h0M139.1 235.2h0M152 240.8h0M135.9 223.4h0M137.5 227.4h0M153.9 249.7h0M142.6 220.9h0M157.9 252.8h0M145 221.1h0M155.9 252.8h0M164.4 224.1h0M148.3 222.1h0M168.5 225.9h0M136.4 226.2h0M150.4 248.7h0M168.7 227.7h0" stroke="#dc2c30" stroke-width="0.80" stroke-linecap="round"/><path d="M159 224.1h0M142.9 230.8h0M137 229.7h0M148.5 221.8h0M148.4 234.7h0M140.2 234.9h0M152.3 248.8h0M147.2 221.8h0M133.6 228.4h0M161.3 219.7h0M152.9 250.6h0M161.3 224h0M151 221h0M158.9 218.4h0M167 233.2h0M160.6 249.9h0M145.3 220.4h0M152.2 246.5h0M164.7 226.8h0M162.8 242.7h0M149.6 239.7h0M135.8 223.6h0M158 249.6h0M154 220.9h0M154.2 220.2h0M150.3 250.2h0M166.4 226.9h0" stroke="#dc2c30" stroke-width="1.20" stroke-linecap="round"/>
<path d="M150.2,246.3C151.1,245 154.2,244.2 155.2,245.4C156.3,246.7 156.9,251.9 156.5,253.7C156.1,255.6 153.8,256.7 152.7,256.6C151.7,256.4 150.6,254.6 150.2,252.9C149.8,251.2 149.4,247.5 150.2,246.3Z" fill="#99358f" filter="url(#rough)"/>
<path d="M147.9 252.8h0M155.5 244.9h0M149.8 250.7h0M154.3 249h0M153.3 258.1h0M153.4 255.5h0M154.1 243.4h0M156 257.4h0M152.1 250.5h0M149.6 244h0M150.2 249h0M157.2 244h0M149.7 249.4h0M151.1 253h0M151 246.8h0M154.5 257.6h0M154.7 248.1h0M157.9 247.5h0M150 255.1h0M150 257.9h0M157.4 250.9h0M155.9 250.7h0M151 253.1h0M149.7 247.4h0M150.8 249.2h0M155.4 255.3h0M154.3 249.1h0M151.4 244h0M151.7 256.7h0" stroke="#99358f" stroke-width="0.80" stroke-linecap="round"/><path d="M153.6 246.2h0M156.7 244.1h0M151.3 252.2h0M151.6 252.6h0M156 259h0M151.4 254.5h0M151.9 258h0M152.6 255.6h0M147.4 249.8h0M154.2 245h0M150.5 249.2h0M149.9 255.3h0M148.4 249.5h0M153.7 247.4h0M151.6 248.8h0M150.2 254.4h0M151.3 252h0M147.9 253.5h0M153.5 253.8h0M149 255.7h0M158.2 254.6h0M156.6 256h0M157.4 248.5h0M153.7 245.6h0M156 248h0M151.5 255.3h0" stroke="#99358f" stroke-width="1.20" stroke-linecap="round"/>
<path d="M145.5,208C145.5,206.3 146.6,203.6 147.7,202.2C148.8,200.7 150.5,199.5 152.1,199.3C153.7,199 155.9,199.7 157.2,200.7C158.5,201.7 159.4,203.6 160.1,205.1C160.9,206.6 161.8,208 161.6,209.5C161.3,210.9 160.3,213 158.7,213.9C157.1,214.7 153.9,214.8 152.1,214.6C150.3,214.3 148.8,213.5 147.7,212.4C146.6,211.3 145.5,209.7 145.5,208Z" fill="#8dc9e1" filter="url(#rough)"/>
<path d="M155.6 213.2h0M155.2 204.6h0M157.4 205.6h0M153.1 202.8h0M156 205.8h0" stroke="#000" stroke-width="0.75" stroke-linecap="round"/><path d="M146.6 207h0M147 207.5h0M154.2 213.6h0M159 211.2h0M159.4 207.4h0M151.4 205.1h0M153 209.4h0M149.8 208.2h0M154.9 203.3h0M157.9 203.3h0" stroke="#000" stroke-width="1.05" stroke-linecap="round"/>
<path d="M158.4 205h0M151.2 213h0M156.3 203.1h0M153.2 214h0M155.9 200.4h0M159.5 214.1h0M157.7 201.8h0M144.7 204h0M144.1 203.4h0M148.8 214.3h0M161.7 208.5h0M146.1 213.5h0M150.4 196.3h0M159.7 214h0M145.4 209.2h0M161.2 208.8h0M148.5 215.3h0M163.3 213.4h0M150.7 198.1h0M163.2 209.4h0M147.7 207.1h0M157.7 211h0M149.8 213.1h0M150.4 215.5h0M158.8 202h0M152.1 213.6h0M161.5 207.6h0M151.8 212.5h0M158.3 203.5h0M149.2 203.8h0M154.3 214.2h0" stroke="#8dc9e1" stroke-width="0.80" stroke-linecap="round"/><path d="M151.8 216.3h0M158.8 212.2h0M149.6 200.9h0M156.9 202.7h0M150.9 214.1h0M158.1 199.5h0M160.2 206.7h0M143.3 206.5h0M147.9 202.3h0M148.5 207.2h0M151.4 218.2h0M160.2 204.2h0M150.3 203h0M159.4 217.2h0M151.5 203.1h0M146.1 205.7h0M147.6 214.3h0M148.6 211.6h0M154.1 197.1h0M154.2 201.9h0M152.3 213.2h0M156 202h0M152.1 215.3h0M147.5 211.5h0" stroke="#8dc9e1" stroke-width="1.20" stroke-linecap="round"/>
<path d="M168.5,213.1C169.3,210.6 171.2,208.3 173.5,206.5C175.7,204.7 179.7,202.4 181.8,202.3C183.8,202.2 184.9,203.3 185.9,205.6C186.9,208 187.6,212.7 187.6,216.4C187.6,220.1 187.4,225.8 185.9,228C184.4,230.2 180.8,229.7 178.4,229.7C176.1,229.7 173.5,229.4 171.8,228C170.1,226.6 169,223.9 168.5,221.4C167.9,218.9 167.7,215.6 168.5,213.1Z" fill="#a24ead" filter="url(#rough)"/>
<path d="M179.7 214.6h0M172.2 212.4h0M179.1 224.1h0M179.1 222.2h0M186.3 221.7h0M176.1 218.3h0M180.5 215.9h0M175.3 218.9h0M181.7 228.8h0M173.5 226.2h0M171.4 212.4h0M172.6 209.1h0M174 220.2h0M171.6 225.9h0M184.5 224h0M176.5 212.6h0M181.8 212.9h0" stroke="#000" stroke-width="0.75" stroke-linecap="round"/><path d="M174.3 222.2h0M173.3 218.6h0M175.2 209.5h0M184.5 221.3h0M184.3 218.5h0M180 221.3h0M183.6 226h0M169.4 222.2h0M181.6 227.3h0M180.3 224h0M173.2 221.2h0M182 228.7h0M177.5 209.3h0" stroke="#000" stroke-width="1.05" stroke-linecap="round"/>
<path d="M170.9 225.2h0M185.2 226.3h0M169.2 222.4h0M186.2 213.8h0M180.2 227.1h0M186.3 231.4h0M171.2 207.4h0M170.2 220.2h0M168.7 226.8h0M186.7 222.6h0M172.5 222.7h0M172.5 204.1h0M171.1 228.2h0M173.6 208.8h0M187.1 223.4h0M177.9 205.7h0M187 211.8h0M179.9 230.4h0M177.2 228.6h0M179 200.6h0M184.9 200.6h0M171.3 227h0M167.8 219.3h0M167.3 217.6h0M184.2 202.9h0M188 219.4h0M178.5 200h0M175.7 231.6h0M174.3 206.9h0M170.3 229.2h0M179.5 202.4h0" stroke="#a24ead" stroke-width="0.80" stroke-linecap="round"/><path d="M183 205h0M166.7 210.6h0M185.6 227.8h0M171.3 205.9h0M172 227h0M168.8 222.7h0M175.4 202.6h0M186.8 227.8h0M186.5 224.4h0M176.8 205.4h0M167.7 211.9h0M181.5 200.3h0M185.9 206.5h0M169.9 226.2h0M180.5 202.2h0M171 216.3h0M183.3 230.8h0M182.3 230.4h0M184.6 210.2h0M171.6 208.2h0M186.9 226.7h0M186 212.9h0M176.7 232.2h0M184.6 207.5h0" stroke="#a24ead" stroke-width="1.20" stroke-linecap="round"/>
<path d="M168.5,178.3C169.2,176.6 169.9,174.2 171.8,173.3C173.7,172.3 178.3,171.9 180.1,172.4C181.9,173 182,174.5 182.6,176.6C183.1,178.7 183,182.4 183.4,184.9C183.8,187.4 184,189.7 185.1,191.5C186.2,193.3 188.8,194.6 190,195.7C191.3,196.8 192.8,197.3 192.5,198.2C192.3,199 189.9,200.2 188.4,200.7C186.9,201.1 185.1,201.3 183.4,200.7C181.8,200 180.1,197.7 178.4,196.5C176.8,195.3 175,194.3 173.5,193.2C171.9,192.1 170.3,191.5 169.3,189.9C168.3,188.2 167.8,185.2 167.7,183.2C167.5,181.3 167.8,179.9 168.5,178.3Z" fill="#80c04e" filter="url(#rough)"/>
<path d="M190 196.3h0M183.7 187h0M176.5 184h0M190.3 198.5h0M174.9 187.3h0M171.5 187.7h0M174.9 190.9h0M177.8 186h0M187.9 194.8h0M175 177.3h0M181 176.3h0M175.2 174.6h0M178.7 178.3h0M177.4 188.6h0" stroke="#000" stroke-width="0.75" stroke-linecap="round"/><path d="M188.8 195.9h0M170.6 185.5h0M176.5 187h0M180.2 186.7h0M172.1 190.8h0M180.8 189h0M182.7 177.9h0M179 186.7h0M168.8 180.6h0M172.1 188.6h0M182.9 194.3h0" stroke="#000" stroke-width="1.05" stroke-linecap="round"/>
<path d="M187.2 196.7h0M175.8 194.7h0M166.9 182.9h0M172.6 192.4h0M185.4 185.2h0M171.2 191h0M169.9 177.1h0M167.7 181.2h0M181 184.4h0M167.7 174.5h0M179.4 195.4h0M180.2 196.5h0M167.4 181.5h0M169.2 180.3h0M168.5 176.6h0M175.4 173.3h0M188.4 190.3h0M182.2 198.2h0M188.7 194.4h0M192 197.2h0M185.2 201.4h0M184.2 175h0M174.8 194.5h0M175.4 193.6h0M187.3 200.6h0M183.3 198.2h0M181.3 199.5h0" stroke="#80c04e" stroke-width="0.80" stroke-linecap="round"/><path d="M169.1 186.4h0M174 171.7h0M167.1 182h0M172.2 170.4h0M170 175.5h0M171.5 178.4h0M170.4 182.9h0M184.9 191.2h0M191.9 194.9h0M165.1 183.4h0M169.6 185.8h0M187.2 186.9h0M168.7 179.6h0M188.6 202.5h0M189.3 201.6h0M181 200h0M189.3 195.7h0M190.8 200h0M180.6 195.6h0M166.2 182.1h0M178.9 197.2h0M172 193.1h0M166.8 184.4h0M190.5 196.5h0M189.1 191.6h0M185.3 201.6h0M185.8 202.8h0M174.8 173.8h0" stroke="#80c04e" stroke-width="1.20" stroke-linecap="round"/>
<path d="M198,194.2C198.4,193.5 199.2,193.1 199.8,193.6C200.3,194.2 201.6,196.7 201.5,197.7C201.4,198.7 199.9,199.4 199.2,199.5C198.5,199.6 197.6,199.2 197.4,198.3C197.2,197.4 197.6,195 198,194.2Z" fill="#e9a838" filter="url(#rough)"/>
<path d="M201.4 198h0M199.7 198.9h0M197.3 194.7h0M200.9 199.3h0M197.8 199.2h0M199.5 198.8h0M197.9 196.9h0M197.8 199.1h0M198.9 198.2h0M197.7 199.1h0M198.7 198.1h0M198.4 196.9h0M197.2 199.9h0M202.1 199.3h0M196.5 194.1h0M196.6 195.8h0M198 202h0M198.5 198.3h0M198.2 196.9h0M202 196.3h0" stroke="#e9a838" stroke-width="0.80" stroke-linecap="round"/><path d="M200 192.7h0M199.6 198.6h0M201.6 201.1h0M200 197.2h0M198 194.4h0M199.6 194h0M198.4 194.3h0M198.5 198h0M199.3 199.7h0M197.1 194.9h0M201.9 195.3h0M201.1 190.8h0M201.7 197.5h0M197.9 194.9h0M201.2 191.4h0M198.1 196.9h0M201.8 194.4h0M199.6 194.6h0M200.4 197.7h0M200.4 197.3h0M198.1 195.2h0M201.5 197.5h0M201 192.3h0M195.7 195.8h0M200.1 198.2h0M198.7 203h0M200.5 195.8h0M200.1 196.6h0M198.3 194.2h0M197.6 193h0M198.3 196.1h0M198.4 195.5h0M198 196.5h0M196.8 201.1h0M195.3 199h0" stroke="#e9a838" stroke-width="1.20" stroke-linecap="round"/>
<path d="M214.4,235.9C215,235.1 218.3,236.3 219,237.1C219.8,237.8 219.6,239.8 219,240.6C218.5,241.3 216.3,242.5 215.6,241.7C214.8,240.9 213.8,236.7 214.4,235.9Z" fill="#e9a838" filter="url(#rough)"/>
<path d="M215.9 241.2h0M219.1 237.9h0M214.9 239.9h0M215.3 243.1h0M214.7 233h0M215.7 235h0M220.2 239.1h0M217 239.7h0M216.6 234.2h0M219 234h0M217.2 240.3h0M219.6 239.1h0M214.4 239.7h0M214.9 237.4h0M213.3 235.2h0M222.3 239.2h0M219.4 237.2h0M217.5 236.4h0M219.2 240.2h0M214 238.9h0M221.3 244.3h0M217.4 235.4h0M219 240.2h0M215.7 239.3h0M216.2 240.1h0M220.5 237.9h0M219.4 240.7h0M216.1 237.9h0M214.1 237.7h0M217 239.8h0M215.2 239h0M216.7 238.8h0M216.7 235.9h0" stroke="#e9a838" stroke-width="0.80" stroke-linecap="round"/><path d="M216.8 238.1h0M219 235.9h0M218 235.6h0M213.3 241.3h0M217.2 240.1h0M219 238.5h0M219.7 239h0M211.6 238.8h0M219 240.7h0M215.8 235.3h0M212.6 234.8h0M217.4 232.2h0M216.3 235.2h0M213.9 236.2h0M217 242.5h0M212.7 238.7h0M220.2 240.2h0M215 237.5h0M219.1 240.6h0M213.2 240.5h0M217.4 235h0M221.6 240.6h0" stroke="#e9a838" stroke-width="1.20" stroke-linecap="round"/>
<path d="M210.7 231.1h0M210.4 211h0M208 236.8h0M205.2 241.2h0M205.3 222.4h0M206 238.6h0M212.7 222.3h0" stroke="#a8a6a7" stroke-width="0.75" stroke-linecap="round"/><path d="M213.2 232h0M205.7 234.7h0M204 214.1h0M213.8 241.3h0M188.5 219.2h0M212.7 216.8h0M197.5 232.9h0M204.9 209h0M207.2 202.2h0M199.8 234h0M194.3 209.2h0M205.8 216.8h0M212.4 228.9h0M200.6 211.8h0M209.6 204.9h0M205.1 220.5h0M193.1 202.1h0M192.9 200.3h0" stroke="#a8a6a7" stroke-width="1.05" stroke-linecap="round"/>
<path d="M185.2 235.3h0M185.1 227.4h0M193.9 230.7h0M195.6 232.2h0M191.7 239.6h0M198.4 241.9h0M191.6 229.3h0M191.3 240.5h0M187.7 233h0M186.5 225.7h0M194.3 241.3h0M196.2 234.4h0M186.9 226.1h0M195 234.3h0M191.2 238.8h0M185.5 233.8h0M184.4 229h0M195.9 235.5h0M193.6 229.1h0M199.5 238h0M183.7 225.1h0M190.1 230.8h0M185.3 226.8h0M191.6 231.1h0M183.4 229.6h0M194.2 238.1h0M194.6 236.2h0M192.1 239.8h0M191.8 233.5h0M190.4 240.6h0M191.4 229.9h0M200.3 237.5h0" stroke="#d8d8da" stroke-width="0.90" stroke-linecap="round"/><path d="M186.2 228.3h0M193.9 233.8h0M196.9 236.5h0M195.7 230.7h0M190.4 230.3h0M184.2 233.7h0M187.7 234.1h0M194.3 240.1h0M194 231.9h0M197.9 241.3h0M193.4 228.9h0M183.9 231.9h0M198.3 238.7h0M193.9 230.7h0M188.8 233.9h0M186.9 235h0M192.5 241.2h0M187.2 236.5h0M186.1 227.2h0M185.7 233.6h0M193.9 235.9h0M190.9 229.3h0M189.3 233.1h0M194 233.1h0M196.5 242.9h0M192.9 234.5h0M195 240.1h0M183.8 232.4h0M185.3 227.2h0M194 235.5h0M197.4 241.5h0M193.1 234.3h0M192.1 232.9h0M186.9 234.1h0M192 234.1h0M192.6 238.3h0M195.9 232.8h0M198.4 237h0" stroke="#d8d8da" stroke-width="1.30" stroke-linecap="round"/>
<path d="M167.8 267.4h0M162.3 242.3h0M176.1 262.7h0M162.8 250.3h0M155 268.3h0M152.9 267h0M184.7 227.9h0M185.4 257.1h0M163.3 264.3h0M156.9 244.1h0M183.1 228.8h0M182.4 247.6h0M168.2 237.6h0M183.7 235.2h0M189.8 237.9h0M180.5 255.6h0M172.6 229.4h0M158.4 268.2h0M176.5 269.1h0M156.8 258.9h0" stroke="#d8d8da" stroke-width="0.77" stroke-linecap="round"/><path d="M181.1 227.5h0M158 263.9h0M157.3 255h0M162.3 235.9h0M178.6 225.8h0M182 248.4h0M180.6 234.2h0M187 249h0M158.9 250h0M178.2 260.2h0M188.1 247h0M187.7 244.4h0M183.2 238h0M162 263.9h0M158.4 252.4h0M184.7 234.8h0M164.5 232.1h0M179.5 229.6h0M166 237.8h0M173.9 267.2h0M182.7 237.1h0M185.2 256.8h0M181.3 227.9h0M181.7 256.2h0M179.8 260.4h0M154.5 270.6h0M161.9 253.6h0M181.5 251.7h0M183 255.6h0M182.1 229.5h0M183.3 260.6h0M167.4 263.6h0M176.4 262.2h0M156 265.5h0M184.6 239.5h0M171.5 233h0M171.4 229.4h0M182.5 254.4h0M153.3 256.8h0M159.1 257.5h0" stroke="#d8d8da" stroke-width="1.12" stroke-linecap="round"/>
<path d="M274.4 200.4h0M277.2 205h0M278.3 197.2h0M279.8 203.6h0M274 206.8h0M271.3 199h0M284 201h0" stroke="#e9a838" stroke-width="0.75" stroke-linecap="round"/><path d="M274.2 197.4h0M276.9 194.7h0M280.4 193.7h0M273.2 198h0M280.9 207.3h0M283.4 196h0M281.2 198.3h0" stroke="#e9a838" stroke-width="1.05" stroke-linecap="round"/>
<path d="M304.1 197.5h0M308.7 195.5h0M306.9 194.4h0M304 194.6h0M306.5 200.1h0M303.5 195.8h0" stroke="#e9a838" stroke-width="0.75" stroke-linecap="round"/><path d="M304.4 193.8h0M308.9 197.9h0M308.9 193.2h0M305.2 197.4h0M307.6 198.7h0M305 195.4h0M306 195.1h0M306.9 202.3h0" stroke="#e9a838" stroke-width="1.05" stroke-linecap="round"/>
<path d="M324.8 243.6h0M324.3 245.4h0M325.7 240.3h0M324.6 235.8h0" stroke="#e9a838" stroke-width="0.75" stroke-linecap="round"/><path d="M318.7 241.5h0M319.7 246.6h0M325.2 244.2h0M320.8 241.1h0M323.7 243.6h0M322.9 239.6h0M318.9 237.3h0M325.9 242.6h0M321.1 239.1h0M319.7 246.3h0" stroke="#e9a838" stroke-width="1.05" stroke-linecap="round"/>
<path d="M295.4,208.1C296.9,204.5 300.6,202.9 303.7,201.5C306.7,200.1 310.3,199.4 313.6,199.8C317,200.2 320.8,202 323.6,204C326.4,205.9 328.4,208.3 330.2,211.4C332,214.6 333.8,219.2 334.4,223C334.9,226.9 334.5,231.3 333.6,234.7C332.6,238 330.8,240.9 328.6,243C326.4,245 323,246.6 320.3,247.1C317.5,247.7 314.7,247.5 312,246.3C309.2,245 306.2,241.9 303.7,239.6C301.2,237.4 298.6,235.8 297,233C295.5,230.2 294.8,227.2 294.6,223C294.3,218.9 293.9,211.7 295.4,208.1Z" fill="#605b60" filter="url(#rough)"/>
<path d="M301.5 234h0M298.7 227.9h0M331.5 225.3h0M311.8 214.7h0M305.6 217.1h0M323 212.3h0M321 237.2h0M302.7 217.9h0M328.6 211.1h0M318.2 212.7h0M313.1 206.7h0M295.2 213.2h0M313.6 203.5h0M303.7 212h0M325.1 205.7h0M298.3 215.7h0M308.9 215h0M319.1 212.3h0M327.6 226h0M325.4 226h0M309.3 226.5h0M310.3 238.7h0M306.8 227.4h0M315.4 229.9h0M307 223.9h0M317.5 216.5h0M310.8 210.7h0M328.7 214.8h0M321 238.3h0M322.3 208h0M323.5 204.9h0M321.9 244.9h0M315 204.9h0M299.6 213.7h0M316.5 224.1h0M306.5 203.6h0M300.1 230.7h0M318.2 228.1h0M309.4 220.4h0M322.5 214.5h0M310.1 207.8h0M304.1 211.6h0M307.2 201.6h0M324.4 235.2h0M322.7 218.2h0M320.3 224.4h0M320.4 227h0M310.1 235.4h0" stroke="#000" stroke-width="0.75" stroke-linecap="round"/><path d="M329.1 213.4h0M310.7 213h0M319.5 245.3h0M297.9 228.9h0M297.6 226h0M317.8 236h0M310.2 206.1h0M330.3 230.3h0M321.1 223.4h0M304 222.2h0M323.2 222.1h0M308.4 232.6h0M328.4 230.6h0M318.1 234.7h0M321.6 239.7h0M304.8 217.8h0M304 223.4h0M314 227.3h0M305.1 205.6h0M317.7 233.3h0M320.6 223.7h0M306 241.4h0M318.8 207h0M300.4 208.8h0M310.1 220.1h0M320 229.1h0M331.3 234.3h0M305.5 204.9h0M301.7 232.7h0M317.3 232.9h0M298.3 211.2h0M322.6 215.4h0M300.8 210.8h0M327.2 239.3h0M321.9 233h0M323.4 233.1h0M304.6 240.2h0M324.1 239.4h0M305.6 218.4h0M308.1 239.6h0M329.1 217.3h0M315.3 222.9h0M318 203.7h0M302.5 231.5h0M328.2 232.3h0M297.3 231.3h0M314.8 220.7h0M329.4 233.5h0M314.8 217.4h0M306.3 215.7h0M313.9 221h0M328.6 230.4h0M323.5 239.1h0M322.2 208.2h0M317.5 205h0M324.4 240.8h0M306.5 211.5h0M332.1 236.2h0M298.7 209.8h0M329.8 225.4h0M319.6 246.6h0M331.2 235.5h0" stroke="#000" stroke-width="1.05" stroke-linecap="round"/>
<path d="M327.4 239.9h0M330.2 211.2h0M329.7 237.5h0M308.9 245.3h0M300.5 239.1h0M316.3 246.3h0M334.6 228.5h0M315.5 200.2h0M329.5 204.7h0M297.4 225.3h0M298.4 231.3h0M308.9 199.9h0M294.4 226.7h0M329.6 242.3h0M304.9 238.7h0M333.6 228.4h0M297.9 206.7h0M325.7 203.1h0M296 220.3h0M320 247.1h0M333.1 235.5h0M319.7 247.4h0M305 242.2h0M296.8 229.3h0M296.1 221.2h0M297.6 230.5h0M331 241h0M317.5 200.5h0M299.5 234.3h0M320 246.6h0M294.9 210.8h0M325 202.4h0M306.2 201.1h0M303.3 237.3h0" stroke="#605b60" stroke-width="0.80" stroke-linecap="round"/><path d="M313.1 248h0M311.4 246.8h0M331.9 230.6h0M331 229h0M329.8 209.3h0M295.5 207.7h0M334.7 231.6h0M333.4 229.8h0M300.7 202.3h0M331.8 217.2h0M297.7 205.3h0M335.4 226.6h0M311 203.2h0M331.3 212.9h0M335.8 230.7h0M330.1 241h0M318.9 249.8h0M313.1 248.1h0M296.3 227.7h0M303 203.5h0M296.1 226.9h0" stroke="#605b60" stroke-width="1.20" stroke-linecap="round"/>
<path d="M261.4,262.9C261.7,261.1 263.6,257.6 264.7,254.6C265.8,251.5 266.5,247.7 268,244.6C269.5,241.6 271.5,238.3 273.8,236.3C276.2,234.4 279.6,233.3 282.1,233C284.6,232.7 287.1,233 288.8,234.7C290.4,236.3 291.7,239.6 292.1,243C292.5,246.3 292.1,251.3 291.2,254.6C290.4,257.9 289.2,260.8 287.1,262.9C285,264.9 281.8,266.3 278.8,267C275.8,267.7 271.5,267.3 268.8,267C266.2,266.7 264.3,266.1 263,265.4C261.8,264.7 261.1,264.7 261.4,262.9Z" fill="#e2e2e4" filter="url(#rough)"/>
<path d="M275.4 255.8h0M285.4 254.9h0M272.4 266.6h0M288.7 239.7h0M288.2 245.9h0M288.5 248.9h0M282.9 233.8h0M275.2 247.7h0M286.9 243.2h0M291.1 248.3h0M282.3 245.5h0M274.8 255.6h0M276.4 242.5h0M287.5 239.2h0M277 254.1h0M284.4 247.8h0M280.6 249.7h0M286.5 241.4h0M263.2 264.8h0M271.6 249.2h0M286.7 252.7h0M272.6 266.5h0M277.7 259.5h0M278.5 262.4h0M275.2 236.5h0M284.1 243h0M275.8 261.6h0M280.8 252.8h0M280.6 235.1h0M270.3 265.7h0M273.4 238.3h0M265.4 260.6h0M290.5 250.1h0M281.6 262.8h0M272.1 260.1h0M279.2 242.2h0M272.3 252h0M275.3 260.5h0M289.9 241.7h0M266.8 249.3h0" stroke="#000" stroke-width="0.75" stroke-linecap="round"/><path d="M270.6 241.9h0M276.4 263.9h0M289.1 235.6h0M270.5 255.2h0M263.4 265.5h0M287 262.8h0M272 248.6h0M268.1 265.9h0M268.8 251.5h0M286.8 239h0M268.8 261.6h0M280.5 263.3h0M274 266.7h0M289.4 239.1h0M288.3 252.9h0M279.3 266.6h0M276.8 238.6h0M268.2 265h0M287.3 250.4h0M268.8 246.5h0M272 264.3h0M278.6 266.9h0M263.4 264.2h0M266.2 250.5h0M287.3 244.6h0M267.3 264.5h0M280.4 251.8h0M283.5 255.8h0M288.4 251.2h0M276.7 257.9h0" stroke="#000" stroke-width="1.05" stroke-linecap="round"/>
<path d="M293.6 254.9h0M279.7 235.2h0M288.4 239.9h0M276.9 232.9h0M277.2 268.4h0M264.1 254.8h0M265.7 267.4h0M276 237.7h0M290.3 260.3h0M264.8 243.2h0M270 267.4h0M289.8 239.6h0M290.1 251.6h0M293.9 252.8h0M281.5 232.5h0M275 240.4h0M286.9 261.5h0M272.7 237.1h0M263.9 253.9h0M283.4 262.7h0M273.3 244.2h0M268.1 265.1h0M274.7 237h0M283.1 265.1h0M290.2 240.7h0M272.8 268.5h0M269.3 248.6h0" stroke="#e2e2e4" stroke-width="0.80" stroke-linecap="round"/><path d="M286.1 261.1h0M291.9 240h0M279.6 234.6h0M288.3 237.8h0M293.1 242h0M287.6 232.2h0M289.6 255h0M262.8 264.9h0M263.1 265.7h0M288.4 262.9h0M289.2 242.5h0M272.9 238.1h0M267.4 265.8h0M272.8 237.4h0M267 244.2h0M269.3 242.1h0M265.4 245.6h0M286.8 260.4h0M260.1 263.4h0M289 233.9h0M265.2 257.5h0M273.9 234.5h0M283.8 233.2h0M277.7 237.8h0M292.5 254.2h0M288.3 260.5h0M266.2 264.6h0M286.7 233.4h0" stroke="#e2e2e4" stroke-width="1.20" stroke-linecap="round"/>
<path d="M242.3,225.5C243.1,224.7 245.3,224 247.3,223C249.2,222.1 251.4,220.6 253.9,219.7C256.4,218.9 259.7,217.9 262.2,218.1C264.7,218.2 267.3,219.2 268.8,220.6C270.4,221.9 271.1,224.3 271.3,226.4C271.6,228.4 271.1,230.8 270.5,233C269.9,235.2 269,237.7 268,239.6C267,241.6 265.9,243.5 264.7,244.6C263.5,245.7 261.9,246.6 260.5,246.3C259.2,246 257.6,244.6 256.4,243C255.2,241.3 254.6,238.3 253.1,236.3C251.6,234.4 249.1,232.7 247.3,231.3C245.5,230 243.1,229 242.3,228C241.5,227.1 241.5,226.4 242.3,225.5Z" fill="#dc2c30" filter="url(#rough)"/>
<path d="M262.7 219.7h0M255.7 241.4h0M260.3 220.1h0M268.1 232.4h0M260.3 224.6h0M266.1 228.6h0M263.3 227.9h0M262.6 219.8h0M252.2 233.2h0M245.5 226.9h0M262 224.3h0M257.1 225.4h0M265 226.2h0M259.7 241.9h0" stroke="#000" stroke-width="0.75" stroke-linecap="round"/><path d="M255.8 224.1h0M254.6 234.4h0M268.7 223.2h0M253.3 231h0M258 229.3h0M265.6 229.6h0" stroke="#000" stroke-width="1.05" stroke-linecap="round"/>
<path d="M254.2 242h0M268.5 243.8h0M241.6 226.4h0M268 247.1h0M255 218.5h0M263.5 245.7h0M251.4 222h0M244.1 225.9h0M247.9 224.8h0M257 245.3h0M243 227.9h0M249.7 219.6h0M246.4 223.2h0M255 241.1h0M243.6 227.4h0M246 224.5h0M264.3 245.9h0M261.6 243.1h0M259.5 217.3h0M241.6 228.1h0M248.2 219.8h0M257.6 243.4h0M269.1 225.2h0M263.3 243.6h0M261.6 217.8h0M251.7 234.2h0M241.7 224.5h0M268.8 218.8h0" stroke="#dc2c30" stroke-width="0.80" stroke-linecap="round"/><path d="M271.2 233.9h0M269.9 234.5h0M271.2 222.1h0M264.3 247.9h0M261.3 216.7h0M263.3 216h0M269.8 218.7h0M270.3 223.6h0M265.2 221.2h0M249.6 238.6h0M251.2 236.5h0M265 247h0M244.5 231.4h0M261.4 246.5h0M268.5 236.4h0M245.8 223.7h0M249.4 222.3h0M264.1 218.7h0M261.1 245.8h0M246.9 235.2h0M253.3 218.3h0M265.5 240.8h0M265.7 242.5h0M244.8 223.4h0M246.3 229.5h0M243 225.6h0M253.2 236.9h0" stroke="#dc2c30" stroke-width="1.20" stroke-linecap="round"/>
<path d="M256.4,244.6C257.2,243 260.8,241.6 262.2,243C263.6,244.3 265,250.7 264.7,252.9C264.4,255.1 261.8,256.2 260.5,256.2C259.3,256.2 257.9,254.9 257.2,252.9C256.5,251 255.6,246.3 256.4,244.6Z" fill="#99358f" filter="url(#rough)"/>
<path d="M255.3 251.5h0M260 244.4h0M264.6 247h0M260.2 256.6h0M258.8 251.7h0M254.7 247.1h0M262.7 248h0M264.1 249.3h0M259.1 252.9h0M257.4 250.8h0M262.8 252.5h0M257 249.6h0M261 245.4h0M258.8 252.6h0M263.3 243.9h0M264.2 242.2h0M256.8 242.2h0M260.9 257.4h0M260.8 241.5h0M255.8 246.9h0M258.7 252.5h0M262.3 246.2h0M265.7 248.1h0M258.8 255.9h0M263.1 247.1h0M253.8 249.8h0M263.8 251.7h0M259.1 254.5h0M263.2 254.2h0M259.4 253.6h0" stroke="#99358f" stroke-width="0.80" stroke-linecap="round"/><path d="M257.5 253.8h0M255.5 246.6h0M259.8 244.2h0M258.3 248.6h0M263.9 249.8h0M257.8 248h0M257.9 253.4h0M264.7 250.5h0M263.1 255.8h0M256.5 249.8h0M263 243.5h0M262.8 240.2h0M264.5 245.6h0M255.6 249.4h0M261.2 257.2h0M256.9 246.9h0M262.5 255.1h0M264.1 251.2h0M259.1 242h0M258.7 258.2h0M257.9 255.4h0M258 243.7h0M262.1 251.4h0M257 250.5h0M264 254.1h0" stroke="#99358f" stroke-width="1.20" stroke-linecap="round"/>
<path d="M252.5,208C252.7,206.4 253.6,203.6 254.7,202.1C255.8,200.7 257.5,199.8 259.1,199.2C260.6,198.6 263,197.6 264.2,198.5C265.4,199.3 265.5,202.6 266.4,204.3C267.2,206 269.3,207.6 269.3,208.7C269.3,209.8 267.7,210.3 266.4,210.9C265,211.5 263,212 261.2,212.3C259.5,212.7 257.5,213.2 256.1,213.1C254.8,213 253.8,212.5 253.2,211.6C252.6,210.8 252.2,209.5 252.5,208Z" fill="#8dc9e1" filter="url(#rough)"/>
<path d="M262.6 208.6h0M267.4 207.5h0M263 199.6h0M255.2 206.2h0M254.3 205.1h0" stroke="#000" stroke-width="0.75" stroke-linecap="round"/><path d="M259.3 209.1h0M262.7 205.3h0M263 207.9h0M266 209.9h0M261.8 201.8h0M260.3 199.8h0M265.3 206.8h0M254.6 202.8h0M257.8 209.8h0M257.2 208.8h0" stroke="#000" stroke-width="1.05" stroke-linecap="round"/>
<path d="M264.7 202.7h0M256.3 201.1h0M267.6 209.2h0M252.7 205.3h0M261.5 195.4h0M264.4 200h0M258.2 215h0M259.9 212.8h0M259.7 209.4h0M266.9 208.7h0M263.8 199.6h0M253.4 200.3h0M268.2 211.6h0M254.2 201.2h0M252.5 208h0M264.2 202.8h0M269.4 208.7h0M269.9 209.2h0M253.6 202.2h0M266.6 212.3h0M256.5 199.1h0M259.8 201.9h0M270.2 206h0M262.1 213.3h0M268 206h0M267.8 209.5h0" stroke="#8dc9e1" stroke-width="0.80" stroke-linecap="round"/><path d="M256.5 208.3h0M267.6 206.4h0M262.7 211.8h0M251.6 203.1h0M258.3 211.1h0M254.8 211.5h0M260.6 201.3h0M266.3 199.7h0M256.5 200.4h0M266.6 203.4h0M255.1 209.8h0M262 212.4h0M250.5 207.3h0M260.4 214.2h0M252.3 208.3h0M251.8 211.4h0M251.7 214.3h0M257.1 199.8h0M256.8 213.9h0M253.1 212.1h0M267.5 211.8h0M253.1 212.4h0M264.7 202.6h0M254 204.6h0M269.3 210h0M267.1 209.2h0M261.1 199h0M270.7 207.6h0M269.6 204.7h0" stroke="#8dc9e1" stroke-width="1.20" stroke-linecap="round"/>
<path d="M278.8,211.4C279.5,209.2 281.3,206.6 282.9,204.8C284.6,203 287.1,200.8 288.8,200.7C290.4,200.5 292.1,201.6 292.9,204C293.7,206.3 293.7,211 293.7,214.8C293.7,218.5 294,224.2 292.9,226.4C291.8,228.6 289,228.3 287.1,228C285.2,227.8 282.7,226.4 281.3,224.7C279.9,223 279.2,220.3 278.8,218.1C278.4,215.9 278.1,213.6 278.8,211.4Z" fill="#a24ead" filter="url(#rough)"/>
<path d="M292.4 224.9h0M288.5 206.7h0M283.9 218.7h0M291.6 210.5h0M288.2 215.1h0M291.2 211h0M292 210.3h0M289.4 207.9h0M288.4 202.6h0M286.1 210.3h0M282.5 216.6h0M289.9 205.9h0M292.5 208.8h0M289.8 204.2h0M286.4 204.6h0" stroke="#000" stroke-width="0.75" stroke-linecap="round"/><path d="M279.7 215.2h0M285.6 206.4h0M291.4 207.6h0M292 208.3h0M286.6 226.5h0M291.6 213.3h0M283.2 205.6h0M290.7 203.8h0M287.4 205.7h0M286.6 219.8h0M282.6 223h0M279.6 219.5h0M292.6 207.7h0M280.4 217.7h0M284 220.4h0" stroke="#000" stroke-width="1.05" stroke-linecap="round"/>
<path d="M292.5 210.1h0M286.4 202.9h0M290.9 202.8h0M279.6 215.6h0M288.5 227.8h0M291.5 227.8h0M290.4 223.3h0M292.6 224.6h0M289.1 199.1h0M291.8 227.6h0M279 206.8h0M286.8 226.2h0M292.5 212.2h0M283.1 208.2h0M295 222h0M277.9 209.8h0M290.4 220.2h0M282.4 210.5h0M277.8 209h0M292 215.9h0M278.4 220h0M279.7 224.8h0M292.3 225.9h0M292.2 209h0M282.3 207.8h0M294.4 227.3h0M286.1 228.6h0M282.5 203.2h0M294.4 223.7h0M287.1 199.4h0M279.5 224.5h0M280 223.5h0M293.2 228.6h0M291.6 201.1h0M289.8 214.8h0" stroke="#a24ead" stroke-width="0.80" stroke-linecap="round"/><path d="M291.7 204.2h0M287.9 199.5h0M288.5 197.6h0M277.1 219.4h0M293.7 199.9h0M280.1 210.8h0M280.9 215.8h0M293.8 214.9h0M280.7 212.5h0M291.4 227.1h0M280.5 221.9h0M290 202.8h0M279.4 224.1h0M294.2 213.7h0M287.3 227.1h0M278.6 218.7h0M279.7 219h0M284.9 203.7h0M281.2 218.2h0M291.8 203.1h0" stroke="#a24ead" stroke-width="1.20" stroke-linecap="round"/>
<path d="M275.5,178.3C276.3,176.5 277.7,175.2 279.6,174.1C281.6,173.1 285.4,171.7 287.1,171.9C288.8,172.2 288.8,173.6 289.6,175.8C290.4,177.9 290.8,182.3 291.7,184.9C292.7,187.5 293.9,189.8 295.1,191.5C296.2,193.2 297.7,194.1 298.7,195.2C299.7,196.2 301.3,196.9 301.2,197.8C301.1,198.7 299.3,200.2 297.9,200.7C296.5,201.1 294.6,201 292.9,200.7C291.2,200.3 289.7,199.5 287.9,198.5C286.1,197.5 283.9,196.1 282.1,194.8C280.4,193.6 278.7,192.9 277.5,191.2C276.3,189.5 275.3,187 275,184.9C274.7,182.7 274.7,180 275.5,178.3Z" fill="#80c04e" filter="url(#rough)"/>
<path d="M284.9 179.9h0M287.6 176.2h0M286.6 174.9h0M291.5 184h0M286.5 176.5h0M285.2 192.6h0M284.6 176.1h0M286.6 192.6h0M284.9 186.2h0M275.7 184.7h0M289.9 184.2h0M280.1 179.9h0M292.3 185.9h0M296.2 198.7h0M292.3 192.2h0" stroke="#000" stroke-width="0.75" stroke-linecap="round"/><path d="M280.7 180h0M282.3 188.9h0M291 191h0M289 181.3h0M293.7 191.7h0M279.7 178.9h0M280.8 182.5h0M282.2 188.2h0M288.6 178.5h0M295.4 197.3h0" stroke="#000" stroke-width="1.05" stroke-linecap="round"/>
<path d="M287.1 198.4h0M280 179.5h0M301.6 197.3h0M275.9 178.2h0M292.4 201.5h0M274.1 186.2h0M274 190.9h0M276 174.1h0M289.2 175.9h0M277.6 190.9h0M282.4 195.2h0M289.6 198.1h0M300.8 199.4h0M281.7 194.5h0M283 194.5h0M296.1 201.8h0M289.8 200.7h0M283.6 197.2h0M299.6 196.7h0M287.9 176.4h0M299.3 191.7h0M288.4 181.7h0M281.6 193.6h0M277.5 175.3h0M295.7 191.7h0M274 177.6h0M286.8 175.7h0M280 175.1h0M297.4 200.8h0M290.4 199.7h0M282.5 174.3h0" stroke="#80c04e" stroke-width="0.80" stroke-linecap="round"/><path d="M299.6 196.9h0M283.2 194.2h0M297.8 200.1h0M301.9 195.8h0M275.3 177.2h0M283 173.4h0M295.8 199.2h0M277.7 177h0M277.7 182.1h0M289.8 194.5h0M276.7 191.3h0M275.1 185.4h0M286.3 197.1h0M285 197h0M276.1 177h0M287.5 200.7h0M276.9 185.9h0M290.7 175.4h0M289.7 199.1h0M282.6 192.5h0M278.5 192.6h0M273.6 181.1h0M279.4 192.9h0M278.7 192.6h0" stroke="#80c04e" stroke-width="1.20" stroke-linecap="round"/>
<path d="M274.7,198.8C274.8,197.6 276.5,196.7 277.6,196.5C278.6,196.3 280.3,196.8 281,197.6C281.8,198.4 282.5,200 282.2,201.1C281.9,202.2 280.3,203.6 279.3,204C278.3,204.4 277.2,204.3 276.4,203.4C275.6,202.6 274.5,199.9 274.7,198.8Z" fill="#e9a838" filter="url(#rough)"/>
<path d="M275.4 198.1h0M282.1 201.4h0M278.1 203.5h0M279.7 198.9h0M278.4 196.4h0M282.6 196.4h0M282.9 199.6h0M273.8 202.5h0M272.4 198.3h0M272.7 199.9h0M279.9 197.8h0M277.9 201.3h0M277.7 202.3h0M282.8 199.1h0M275.2 198.1h0M281.4 197.8h0M280.3 202.9h0M277.3 202.4h0M273.9 201.5h0M274.2 201h0M276 203.6h0M280.4 199.8h0M275.8 200.7h0M279.7 199.1h0M279.8 198.8h0M276 202.7h0M281.6 200.4h0M278.5 198h0" stroke="#e9a838" stroke-width="0.80" stroke-linecap="round"/><path d="M281.5 199.7h0M280.5 198.7h0M273.6 198.8h0M277.2 196h0M278.8 200.8h0M277.3 206.3h0M280.3 199.9h0M282 200.5h0M279.1 205.4h0M276.4 198.5h0M284.4 199.3h0M277.6 196.6h0M280.7 203.9h0M277.9 198.8h0M281.9 200.4h0M283.1 199h0M274.6 201.2h0M277.3 198.4h0M272.8 200.7h0M281.9 204.7h0M278.7 197.6h0M273.3 197.4h0M273.9 199.4h0M278.7 196.4h0M281.3 196.8h0M275.5 200.4h0M276 202.8h0" stroke="#e9a838" stroke-width="1.20" stroke-linecap="round"/>
<path d="M304.7,196C304.8,195 306.9,193.4 307.6,193.7C308.3,194 308.8,196.7 308.7,197.8C308.7,198.9 307.7,200.4 307,200.1C306.3,199.8 304.6,197.1 304.7,196Z" fill="#e9a838" filter="url(#rough)"/>
<path d="M309.4 195.5h0M301.6 198.7h0M306.2 196.3h0M309 196.7h0M307.2 199.2h0M308.8 195.8h0M306.9 196.9h0M307.3 198.4h0M307 195.3h0M308.9 197.2h0M304.6 197.1h0M310.5 193.9h0M308 198.6h0M306 192.7h0M304.5 196.3h0M309.4 193.8h0M309 201.8h0M305.5 197h0M306.3 198.5h0M304.9 195.5h0M308.8 196.4h0M304.4 196h0M304.7 197.1h0M309.2 196.9h0M306.4 202.2h0M307.1 198.5h0M309.4 198.6h0M309.7 201.9h0" stroke="#e9a838" stroke-width="0.80" stroke-linecap="round"/><path d="M306.9 196.6h0M309.7 195.7h0M307 194.4h0M307.7 199.5h0M307.1 199.8h0M304 194.2h0M308.4 195.7h0M307.2 199.9h0M306.7 199.9h0M307 196.8h0M308.7 197.4h0M309.9 198.6h0M309.2 200h0M307.5 196h0M308 202.1h0M305.1 193.2h0M307.9 197.7h0M308.6 196.7h0M305.2 199.3h0M306.6 200h0M310.3 192.9h0M306.9 196.7h0M308.3 197.6h0M311.5 191.3h0M308.2 192.6h0M308.5 194h0M305.8 198.5h0" stroke="#e9a838" stroke-width="1.20" stroke-linecap="round"/>
<path d="M319.9,237.4C320.4,236.5 323.5,236.7 324.5,237.4C325.5,238.2 326.3,241.1 325.7,242.1C325.1,243.1 322,244 321,243.3C320.1,242.5 319.3,238.4 319.9,237.4Z" fill="#e9a838" filter="url(#rough)"/>
<path d="M324.3 243.8h0M324.6 242.6h0M324.3 234.5h0M321.1 238.4h0M320.3 245.3h0M320.3 238.8h0M322.6 236.3h0M325.5 239h0M326.3 236.8h0M325.4 244.1h0M322.5 243.2h0M322.3 236.8h0M322.3 243.1h0M324.5 236.4h0M327.4 237.6h0M319.5 246h0M320.2 243.5h0M325.1 236.3h0M322.8 241.1h0M324.8 239.4h0M321.4 237.6h0M323.3 241.2h0M318.6 242.7h0M322.5 238.7h0M317 236.5h0M320.6 236.2h0M323.9 238.7h0M325 242.5h0M322.2 241.6h0M324.4 244.5h0" stroke="#e9a838" stroke-width="0.80" stroke-linecap="round"/><path d="M325.8 243.8h0M319.5 239h0M320.4 241.2h0M321.8 239.1h0M325.1 244.3h0M321.2 239.2h0M321.1 235.7h0M323.3 237.5h0M324.7 242.1h0M324.9 238.8h0M325.8 236.7h0M321.1 239.5h0M321.2 241.1h0M319.9 244.1h0M321.5 242.8h0M325.5 236.1h0M319.1 241.9h0M321.7 242.4h0M325.3 242.3h0M320.2 239.1h0M320.9 241.4h0M321.8 240.9h0M324.8 238.7h0M321 239.3h0M320.1 242.9h0" stroke="#e9a838" stroke-width="1.20" stroke-linecap="round"/>
<path d="M331.7 233h0M324.2 224h0M312.7 238.4h0M326.5 208.9h0M325.2 242.8h0M330.5 233.2h0M313.9 236.5h0M317.5 209.4h0" stroke="#a8a6a7" stroke-width="0.75" stroke-linecap="round"/><path d="M299.5 216h0M332.7 230.2h0M302.7 238.4h0M321.7 225.2h0M295.7 220.5h0M322.4 223.4h0M320.8 229.2h0M326.6 209.2h0M304.9 234.9h0M325.1 209.7h0M310 215.8h0M312.3 239.3h0M298.2 206.2h0M319.8 206.3h0M314.6 241.8h0M323.6 237.7h0M298 230.3h0" stroke="#a8a6a7" stroke-width="1.05" stroke-linecap="round"/>
<path d="M294.4 229.7h0M296.7 230.8h0M290.4 232.1h0M294.5 227.6h0M295.3 233.5h0M295.6 227.4h0M290 231.1h0M304.1 233.2h0M302.4 241.8h0M307.1 236.2h0M297.5 231.6h0M295.9 237.3h0M295.7 232.8h0M299 236.1h0M299.3 232.3h0M307.4 238.5h0M292.3 236.1h0M297.3 226.9h0M300 229.8h0M293.7 233.4h0M293.9 226.7h0M300.7 241.6h0M303.3 239.2h0M295.2 236.2h0M296 226.3h0M297.6 238.3h0M295 229.5h0M295 237.2h0M291 234.7h0M303.7 237.1h0M301.3 239.6h0M298.6 229.8h0M306.4 238.9h0M291.2 229.4h0M293.9 231.2h0M298.6 239.1h0M296.9 238.7h0M293.1 231.2h0M302.9 241.7h0M301.2 242.2h0M298.1 240.5h0" stroke="#d8d8da" stroke-width="0.90" stroke-linecap="round"/><path d="M304 235.3h0M304.5 240h0M299.4 234.8h0M300 235.5h0M304.7 234.3h0M307.4 239.6h0M300.9 239.4h0M294.5 235.8h0M302 238.3h0M300.3 242.2h0M303.3 237.9h0M295.3 231.3h0M302.7 233.6h0M306.1 240.2h0M300.8 232.9h0M292 228h0M293.4 230.1h0M295.2 226.8h0M293.5 227.5h0M298.5 234.5h0M298.8 231.4h0M303.2 241.8h0M299.8 230h0M297.2 232.1h0M298.3 230.3h0M297.6 233.5h0M302.8 236.4h0M293.8 227.7h0M300.8 233h0" stroke="#d8d8da" stroke-width="1.30" stroke-linecap="round"/>
<path d="M285.4 261.3h0M270.7 268.7h0M270.7 234.5h0M274.3 266.5h0M267.2 264.8h0M287.3 259.9h0M270 234.8h0M278.4 264.1h0M289.6 254.4h0M295.4 241.2h0M286.2 231.9h0M284.2 234.7h0M277.4 237h0M287.8 235.6h0M283.7 232.8h0M277.6 232.7h0M268.8 267.2h0M262.1 267.5h0M258.6 261.8h0M263.8 250.5h0M271.3 241.1h0M263.5 263.2h0M278.8 263h0M263.7 248.3h0M289.9 246.2h0M273.1 242h0M279.6 264.4h0M263.6 262.3h0M290.7 251.1h0M263.4 259.2h0" stroke="#d8d8da" stroke-width="0.77" stroke-linecap="round"/><path d="M264.6 257.8h0M271.4 265.1h0M283 232.2h0M262.7 257.9h0M291.2 237.7h0M281.1 236.6h0M279.9 232.4h0M268.3 237.9h0M291.1 244.4h0M276.2 232.5h0M289.6 233.7h0M265.3 264.4h0M261.5 267.8h0M260.6 257.6h0M293.5 245.5h0M286.9 256.5h0M261.3 262.9h0M292.8 254.6h0M278.4 230h0M291 261.4h0M286.3 262.3h0M285.2 236.7h0M261.2 261.2h0M267.6 245h0M273.7 233.7h0M282.8 262h0M281.1 233.9h0M276.2 266.9h0M272.3 267.4h0M282.8 265.7h0" stroke="#d8d8da" stroke-width="1.12" stroke-linecap="round"/>
<path d="M386.4 204.4h0M388.6 206.3h0M382.9 197.7h0M376.1 200.1h0M386.4 200.2h0M385.8 201.1h0M390.5 200.3h0M389.3 201.1h0" stroke="#e9a838" stroke-width="0.75" stroke-linecap="round"/><path d="M375.6 202.9h0M381.7 198h0M378 201h0M384.6 199.9h0M386.2 202.2h0M383 201.5h0" stroke="#e9a838" stroke-width="1.05" stroke-linecap="round"/>
<path d="M412.8 199h0M414.6 199.8h0M410.3 192.9h0M412.1 198.8h0M414.5 192.6h0M411.4 203.5h0M413.5 191.8h0M411.9 204.1h0M410.3 195.3h0M411.1 195.2h0" stroke="#e9a838" stroke-width="0.75" stroke-linecap="round"/><path d="M414.8 203.5h0M414.9 200.9h0M411.7 204.4h0M410.4 192.7h0" stroke="#e9a838" stroke-width="1.05" stroke-linecap="round"/>
<path d="M428.6 243.8h0M425.8 242.8h0M429.1 240.1h0M428.8 244.8h0M428 239.1h0M424.2 239.5h0M431 236h0M430.2 236.9h0M424.7 239.2h0M428.4 236h0" stroke="#e9a838" stroke-width="0.75" stroke-linecap="round"/><path d="M432.6 243.7h0M432.2 240.7h0M423.3 240.2h0M424.4 242.6h0" stroke="#e9a838" stroke-width="1.05" stroke-linecap="round"/>
<path d="M401.6,209.8C403.2,206.7 407.5,204.5 410.7,203.1C413.9,201.8 417.3,201.2 420.6,201.5C424,201.8 427.8,202.9 430.6,204.8C433.4,206.7 435.6,209.8 437.2,213.1C438.9,216.4 440.1,220.8 440.6,224.7C441,228.6 440.8,233 439.7,236.3C438.6,239.6 436.3,242.8 433.9,244.6C431.6,246.4 428.4,247.1 425.6,247.1C422.9,247.1 420.1,246.1 417.3,244.6C414.6,243.1 411.4,240.2 409,238C406.7,235.8 404.6,234.1 403.2,231.3C401.8,228.6 401,225 400.7,221.4C400.5,217.8 399.9,212.8 401.6,209.8Z" fill="#605b60" filter="url(#rough)"/>
<path d="M427.5 213.7h0M429.3 231.2h0M418.3 208.5h0M439.9 228.8h0M418 230.1h0M415.7 236.2h0M411.8 211.8h0M427.7 227.2h0M425.6 204.9h0M437 238.3h0M411 204.2h0M425 236h0M431.1 222.1h0M420.9 217.2h0M425.9 208.8h0M433.7 242.8h0M409.9 230.2h0M412.7 212.2h0M422.1 220.5h0M417.2 207.1h0M430.1 226.8h0M402.9 224.3h0M408.6 213.7h0M421.5 240.6h0M429.2 231.2h0M414.4 213.3h0M412.2 206.3h0M433.3 214.5h0M431.8 217.9h0M421.9 236.6h0M434.7 232.6h0M429.9 245.3h0M427.9 219.5h0M430.4 243.1h0M428.2 232.8h0M418.3 215.2h0M423.7 237.7h0M434 226.5h0M405.6 229.3h0M413.6 222.6h0M420.6 239.8h0M431.7 221.3h0M407.1 213.6h0M439 227.7h0M408.8 231.8h0M432.8 209.4h0M406.6 226.8h0M429.8 234.3h0M436.8 214.4h0M423.8 220.8h0M410.2 216.9h0M433.2 231.1h0M427.3 231.1h0M426 246.2h0" stroke="#000" stroke-width="0.75" stroke-linecap="round"/><path d="M431.8 226.3h0M425.6 229.4h0M435.6 229.5h0M426.3 206.1h0M430 237.5h0M428.7 227h0M415.6 235.7h0M437.4 239.2h0M408.4 206.2h0M428.1 226.4h0M413 219.3h0M418.2 230.7h0M406.5 230.9h0M438.6 218.2h0M426.7 226.8h0M427.5 213.9h0M417.5 202.3h0M409.6 204.4h0M420.5 243.1h0M411.5 218.1h0M408.8 228h0M424.1 206.4h0M424.7 224.4h0M425.6 234.2h0M409.8 215.6h0M407 211.9h0M425.4 236.2h0M409.7 234.8h0M408.6 231.8h0M422.6 244h0M401.7 215.8h0M436.3 219.7h0M416.1 227.3h0M416.7 206.3h0M425.5 241.7h0M423.1 205.9h0M426.8 242.5h0M420 214.3h0M425.3 206.7h0M430 242.9h0M432.2 216h0M424.8 213.1h0M420 242h0M434.7 222.1h0M416.9 210.7h0M429.7 244.7h0M420.7 210.4h0M403.5 211.2h0M412.4 224.8h0M424.1 207.7h0M416.2 207.2h0M421.5 236.8h0M409.4 218.1h0M416.8 219h0M419 211.6h0M402.2 226.6h0" stroke="#000" stroke-width="1.05" stroke-linecap="round"/>
<path d="M403.4 231.4h0M439.5 238.3h0M406.9 234h0M422.5 201.8h0M406.8 232.8h0M428.2 244.8h0M400 209.7h0M411.6 238.2h0M420.3 244.8h0M414.6 241.2h0M412.3 241.9h0M431.6 247.5h0M422.6 203.9h0M421.9 247.3h0M404.4 234.2h0M404.9 234.4h0M437.1 231.1h0M405.2 208.6h0M407 236.2h0M435.2 240.1h0M401.8 221.4h0M432.5 244.6h0M406.4 233h0M427.2 202.1h0M405.2 208.2h0M401.5 225.5h0M419.5 245.3h0M431.3 210.1h0M424.4 203.9h0M425 203.1h0" stroke="#605b60" stroke-width="0.80" stroke-linecap="round"/><path d="M400 226.5h0M427.5 244.9h0M419.6 244.7h0M437.6 240.1h0M417 202.4h0M408.2 236.9h0M424.3 245.8h0M435.9 240.3h0M431 206.5h0M431.9 244.5h0M431.1 205.4h0M413 200.4h0M435.4 242.8h0M403.3 220h0M426.7 243.8h0M422.3 245h0M417.9 246.2h0M440.7 215.4h0M423.6 201.7h0M401.9 208.2h0M403.6 233.3h0M397.9 217h0M406 207.4h0M438 220.1h0M412.2 204.8h0" stroke="#605b60" stroke-width="1.20" stroke-linecap="round"/>
<path d="M368.4,262.9C368.7,260.7 370.5,256.2 371.7,252.9C372.9,249.6 374,245.9 375.8,243C377.6,240.1 380,237.7 382.5,235.5C385,233.3 388.3,230.4 390.8,229.7C393.3,229 396,229.4 397.4,231.3C398.8,233.3 398.8,237.7 399.1,241.3C399.3,244.9 399.6,249.5 399.1,252.9C398.5,256.4 397.7,259.6 395.8,262C393.8,264.5 390.8,266.7 387.5,267.8C384.1,269 378.7,269 375.8,268.7C372.9,268.4 371.3,267.2 370,266.2C368.8,265.2 368.1,265.1 368.4,262.9Z" fill="#e2e2e4" filter="url(#rough)"/>
<path d="M395.6 239.6h0M393.7 244.3h0M373.8 258.2h0M378.6 240h0" stroke="#000" stroke-width="0.75" stroke-linecap="round"/><path d="M397.2 241.9h0M383.2 257.1h0M391.1 261.9h0M396.6 245.5h0M388.9 242.8h0M394.3 238.1h0M399.1 241.9h0M389.2 236.6h0" stroke="#000" stroke-width="1.05" stroke-linecap="round"/>
<path d="M396.3 230.9h0M392.1 230.7h0M386.9 267.8h0M372 257.9h0M366.4 261.1h0M381.2 265.9h0M398 233.4h0M375.1 243.1h0M380.2 239.3h0M373.9 244.8h0M394.7 265.1h0M396.5 252.3h0M398.4 232.9h0M384.4 271h0M391.3 231.7h0M367.5 265.7h0M378.8 241.5h0M395.4 259.4h0M392.4 264.6h0M367.6 267.5h0M373.8 247.6h0M374.5 242.6h0M371.5 258.8h0M392.7 261.3h0M380.1 267.4h0M396.8 227.6h0M398.7 256.2h0" stroke="#e2e2e4" stroke-width="0.80" stroke-linecap="round"/><path d="M397.7 260h0M380 241h0M392.5 264.3h0M372.6 249.2h0M393.4 259.7h0M383.2 236.3h0M381.3 270h0M371.1 258.7h0M378 241.3h0M398.4 242.8h0M400.8 244.3h0M395.7 260.3h0M377 241.7h0M398.6 233.7h0M387.4 266.8h0M372.3 242.9h0M365.4 267h0M379.2 267.8h0M395.9 263.3h0M369.1 264.8h0M394.4 230.6h0M400.8 238.9h0M390.7 232.8h0M400.4 242.9h0M397.1 253.3h0M375 267.6h0M398.5 232.7h0M379.3 266.9h0" stroke="#e2e2e4" stroke-width="1.20" stroke-linecap="round"/>
<path d="M348.5,225.5C349,223.9 351.6,222.9 353.4,221.4C355.2,219.9 356.9,217.4 359.3,216.4C361.6,215.4 364.8,215.3 367.5,215.6C370.3,215.9 374,216.3 375.8,218.1C377.6,219.9 378.2,223.6 378.3,226.4C378.5,229.1 377.4,232.2 376.7,234.7C376,237.2 375.2,239.4 374.2,241.3C373.2,243.2 372,244.3 370.9,246.3C369.8,248.2 368.5,252.4 367.5,252.9C366.6,253.5 365.9,251.3 365.1,249.6C364.2,247.9 364.1,245.2 362.6,243C361,240.7 358,238.3 355.9,236.3C353.9,234.4 351.4,233.1 350.1,231.3C348.9,229.5 347.9,227.2 348.5,225.5Z" fill="#dc2c30" filter="url(#rough)"/>
<path d="M370.9 236.4h0M376.4 233.5h0M371.8 242.9h0M355.3 221.2h0M374.5 228.1h0M371.7 228.4h0M372.8 227.1h0M372.4 223.6h0" stroke="#000" stroke-width="0.75" stroke-linecap="round"/><path d="M354.8 226h0M353.7 233.2h0M367.7 250.4h0M351.6 228.2h0M363.5 239.2h0M374.7 225.9h0M359.9 240.2h0M372.4 235.5h0M372.7 239.7h0M364.7 235.1h0M368.1 226.2h0M370.4 218.9h0" stroke="#000" stroke-width="1.05" stroke-linecap="round"/>
<path d="M381.4 233.7h0M374.5 241.8h0M350.2 230.8h0M369.4 245h0M353.8 235.2h0M350.7 217h0M369 250.2h0M377.6 233.6h0M347.9 222.7h0M367.9 216.7h0M377.4 228.4h0M362.3 244.7h0M375.3 221.9h0M359 219.8h0M349.6 221h0M376.4 220.7h0M359.8 242.5h0M358.4 237.2h0M361.3 241h0M379.9 228.8h0M357.1 218.2h0M375.9 230.7h0M352.9 224.1h0M367.4 214.9h0M357.5 237.7h0M377.9 227.7h0M359.8 242.8h0M351.4 232.4h0" stroke="#dc2c30" stroke-width="0.80" stroke-linecap="round"/><path d="M372.9 244.8h0M361.7 248.8h0M368.3 252.6h0M365.1 249.7h0M377.2 242h0M369.5 246.1h0M366.2 247h0M348.5 230.7h0M366.3 249.6h0M364.5 242.6h0M363.2 244.5h0M376.6 225.4h0M354.8 238.6h0M365.7 241.3h0M364.6 215.7h0M348.2 233.6h0M357.6 216.8h0M377.4 240.2h0M361.8 248.5h0M353.1 220.4h0M346.7 225h0M359.8 237.8h0M359.8 239.6h0M371.6 219.6h0M356.2 222.5h0M360.2 241.4h0M373.6 215.3h0" stroke="#dc2c30" stroke-width="1.20" stroke-linecap="round"/>
<path d="M363.4,246.3C364.2,244.9 368,243.4 369.2,244.6C370.5,245.9 371.3,251.7 370.9,253.7C370.5,255.8 367.8,257.2 366.7,257.1C365.6,256.9 364.8,254.7 364.2,252.9C363.7,251.1 362.6,247.7 363.4,246.3Z" fill="#99358f" filter="url(#rough)"/>
<path d="M368.1 256.1h0M364.8 244.4h0M372.3 250.9h0M365.9 256.7h0M370.5 256.6h0M364.6 247.6h0M363.3 246.9h0M369.1 243.6h0M364.2 249.1h0M362.2 256h0M367.7 247.1h0M369.9 247.3h0M366 254.2h0M368.4 250.7h0M366.4 249.5h0M369.3 245.5h0M367.7 257.2h0M365.3 247.2h0M371 255.6h0M362.9 252.1h0M366.9 252.9h0M371.4 251.1h0M369.5 247.6h0M365.6 257.8h0M365.4 249.9h0M368.2 257.6h0M364.3 254.1h0M361.5 245.3h0M365.6 243.4h0M371.6 250.8h0M363.5 255.3h0M361.4 249.2h0M371.3 245.9h0M368.3 246.5h0M360.7 250.7h0" stroke="#99358f" stroke-width="0.80" stroke-linecap="round"/><path d="M373.2 254.6h0M369.1 244.7h0M363.9 255.1h0M362.1 247.1h0M368.9 256.2h0M365.6 256.3h0M365.4 249.7h0M369.4 255.9h0M362.9 251.8h0M365 248.1h0M369.5 248.8h0M369.3 255.4h0M368 244.4h0M368.8 252.5h0M371.2 254h0M371.8 256.5h0M365.1 254.4h0M369.2 255h0M369.3 250.3h0M366.4 257.8h0" stroke="#99358f" stroke-width="1.20" stroke-linecap="round"/>
<path d="M359.7,209.4C359.4,207.5 360.8,203.8 361.9,202.1C362.9,200.4 364.6,199.8 366.2,199.2C367.8,198.6 370.1,197.7 371.3,198.5C372.6,199.2 372.6,202 373.5,203.6C374.5,205.2 376.8,206.5 377.2,208C377.5,209.4 376.9,211.4 375.7,212.3C374.5,213.3 371.9,213.5 369.9,213.8C367.8,214 365,214.5 363.3,213.8C361.6,213.1 359.9,211.4 359.7,209.4Z" fill="#8dc9e1" filter="url(#rough)"/>
<path d="M364.3 210.1h0M370.8 211.3h0M372.1 210.3h0M362.3 206.7h0M373.2 207.5h0M363.5 205.8h0M372.8 211.1h0" stroke="#000" stroke-width="0.75" stroke-linecap="round"/><path d="M362.1 209.1h0M373.7 210.8h0M363.6 207.4h0M369.5 200.6h0M371.3 209h0M364.6 201.7h0M371.6 206.4h0M368.4 205.7h0" stroke="#000" stroke-width="1.05" stroke-linecap="round"/>
<path d="M364.2 198.4h0M368.3 217.5h0M365.7 213.3h0M362.5 199.2h0M376.4 202.6h0M360.5 209h0M373.2 200.8h0M372.5 202.2h0M363 209.5h0M373 203.9h0M359.7 206.2h0M361.3 213h0M375.9 203.2h0M372.1 204.5h0M370 198h0M371.7 210.2h0M368.8 199.4h0M361.2 204.7h0M365.6 198.4h0M368.3 200.3h0M365.1 202.5h0M374.5 206.4h0M373.2 199.6h0M373.9 213.1h0M375.8 205h0M371.1 206.1h0M370.8 213.1h0M372 213.1h0" stroke="#8dc9e1" stroke-width="0.80" stroke-linecap="round"/><path d="M372.4 199.1h0M372 201.3h0M376.6 204.7h0M360.8 211.3h0M369.7 217.3h0M363.8 213.3h0M374.4 213.7h0M370.5 201.4h0M372.1 205.8h0M374.5 198.9h0M370.8 203.9h0M375.9 211.7h0M377.3 210.6h0M377.7 204.7h0M372.6 205h0M362.3 202.8h0M374.8 205.8h0M364.2 201.1h0M377 210.3h0M375.6 206.9h0M361.7 210.6h0M370.3 202h0M364.8 214.3h0M367.5 215.6h0M361.2 204.5h0M367.7 198.7h0M378.4 208.6h0" stroke="#8dc9e1" stroke-width="1.20" stroke-linecap="round"/>
<path d="M387.5,208.1C388.3,206 389.1,203.6 390.8,202.3C392.4,201.1 395.8,200 397.4,200.7C399.1,201.3 400,203.6 400.7,206.5C401.4,209.4 401.8,214.8 401.6,218.1C401.3,221.4 400.6,224.7 399.1,226.4C397.6,228 394.4,228.6 392.4,228C390.5,227.5 388.6,225.3 387.5,223C386.4,220.8 385.8,217.2 385.8,214.8C385.8,212.3 386.6,210.2 387.5,208.1Z" fill="#a24ead" filter="url(#rough)"/>
<path d="M392.9 219.8h0M393.1 223.2h0M390 216.7h0M391.9 218.3h0M398.5 215.2h0M401.4 216.5h0M391.1 221.9h0M398.6 209.7h0M392.3 218.8h0M391.1 216.2h0M388.5 207.6h0" stroke="#000" stroke-width="0.75" stroke-linecap="round"/><path d="M397 210.1h0M397.1 215.4h0M390.4 219h0M393.9 214.3h0M392.1 221.1h0M400.9 213.3h0M396 212.2h0M397.7 219.8h0M397.2 204.4h0M396.5 208.6h0M394.7 207.2h0M389.8 216.5h0M394 214.1h0M394.7 212.4h0M396.7 226.1h0M395.2 202.3h0M398.3 214.4h0M397.5 222.4h0M396.2 217.5h0" stroke="#000" stroke-width="1.05" stroke-linecap="round"/>
<path d="M392.2 200h0M396.5 204.3h0M390.7 225.3h0M402.7 207.4h0M399.7 199.8h0M393.9 201.3h0M389.8 206.6h0M397.7 224.4h0M389.8 208.1h0M400.3 204.7h0M398.7 223.1h0M397.6 227h0M400.3 221.1h0M394 221.3h0M401.2 205.5h0M401.4 212.2h0M385.9 211.2h0M395.7 203.6h0M397.6 226.7h0M386.9 217.2h0M400.9 215.5h0M397.9 227h0M389 205.4h0M385.2 210.7h0M402.1 217.1h0M398.6 204.6h0M387.8 209.3h0M391.1 224.2h0M388.9 201.8h0" stroke="#a24ead" stroke-width="0.80" stroke-linecap="round"/><path d="M404.3 205.4h0M386.7 206.8h0M389.1 208.6h0M396.2 203.6h0M399.5 203.8h0M397.9 226h0M397.2 202.2h0M393.1 229.8h0M399.7 218.5h0M401.7 217.7h0M386.2 216.6h0M395.8 228.3h0M388 215h0M389.3 207.5h0M396.9 204.1h0M397.6 219.1h0M399.9 205.9h0M396.9 199.6h0M388.2 223h0M393.1 204.6h0M390.8 199.6h0M397.4 201.2h0M400.9 225.5h0M392.7 227.9h0M398.2 204.2h0M396.1 227.6h0" stroke="#a24ead" stroke-width="1.20" stroke-linecap="round"/>
<path d="M382.8,183.2C383,180.6 384.2,176.8 385.8,174.9C387.4,173.1 390.6,171.8 392.4,171.9C394.2,172.1 395.6,173.6 396.6,175.8C397.6,177.9 397.4,182.3 398.2,184.9C399.1,187.5 400.3,189.8 401.6,191.5C402.8,193.2 404.6,194 405.7,195.2C406.8,196.3 408.3,197.6 408.2,198.5C408.1,199.4 406.3,200.4 404.9,200.7C403.5,200.9 401.6,200.8 399.9,200.2C398.2,199.5 396.7,198 394.9,196.8C393.1,195.7 390.9,194.2 389.1,193.2C387.4,192.2 385.5,192.4 384.5,190.7C383.4,189 382.6,185.9 382.8,183.2Z" fill="#80c04e" filter="url(#rough)"/>
<path d="M386.5 179.2h0M396.3 194.4h0M392.6 190.1h0M389.4 188.6h0M385.9 177.7h0M385 179.9h0M394.9 184.8h0M388.9 192.9h0M398.9 198.6h0M396.4 193h0M383.8 187.7h0M394.7 194.1h0M389.1 177.4h0" stroke="#000" stroke-width="0.75" stroke-linecap="round"/><path d="M397 188.4h0M387.3 189.9h0M398.6 188h0M393.5 193.8h0M394.4 184.1h0M395.1 196.3h0M398.7 193.5h0M391.2 174.8h0M387.4 177.5h0M389.9 179.6h0M394.7 188.8h0M397 181.2h0" stroke="#000" stroke-width="1.05" stroke-linecap="round"/>
<path d="M400.1 200.8h0M402.5 201.4h0M390 172.5h0M402.6 192.7h0M392.9 173.9h0M387.5 192.2h0M397.8 200.2h0M396.7 173.6h0M393.7 173.8h0M403.1 197.3h0M392.8 173.2h0M401.9 191.5h0M390 170.1h0M389.8 191.9h0M398.3 184h0M402.2 199h0M397.1 174.3h0M389.4 175h0M402.4 194.1h0M389.6 173.6h0M400.8 185.1h0M386 183.1h0M391.6 171.7h0M381.6 182.3h0M383.4 185.8h0M382.3 185.5h0M384.7 184.3h0M398.6 177.7h0M398.2 185.6h0M387.2 177.3h0M400.4 199.7h0M396.4 179.9h0M395.7 173.7h0M385.2 190.1h0M386.6 179.3h0M391.9 197.4h0" stroke="#80c04e" stroke-width="0.80" stroke-linecap="round"/><path d="M409.1 200.4h0M388 189.4h0M403.1 191.2h0M396 182h0M392.2 194.5h0M407.3 196h0M387.6 192.9h0M409.8 196.4h0M392.9 196.9h0M399.8 204.5h0M382.1 179.8h0M404.1 191.7h0M397.7 185.8h0M394.2 196.2h0M396.7 189.2h0M383.3 183.1h0M405.9 195.4h0M393.3 173.9h0M390.7 195.8h0" stroke="#80c04e" stroke-width="1.20" stroke-linecap="round"/>
<path d="M378,201.1C378.4,200.3 381.1,198.8 382.6,198.8C384.2,198.8 386.6,200.2 387.3,201.1C388,202 387.4,203.4 386.7,204C386,204.6 384.3,204.7 383.2,204.6C382.2,204.5 381.2,204 380.3,203.4C379.5,202.8 377.6,201.9 378,201.1Z" fill="#e9a838" filter="url(#rough)"/>
<path d="M379 203.9h0M380.6 201.5h0M381.9 197.9h0M378.9 198h0M378.2 202h0M379.9 197.7h0M384.9 203.2h0M381.5 202.5h0M388.1 203.6h0M386.4 201.4h0M384.7 205.6h0M378.9 199.5h0M380.1 201.6h0M385.1 200.8h0M380.9 200.8h0M379.1 201.5h0M383.7 204.7h0M380.3 200.5h0M387.5 200.5h0M385.3 205h0M383.3 198.7h0M386.1 204.2h0M381.9 202.4h0M378.2 199.2h0M382.8 199.8h0M387 201.2h0M379.6 198.7h0M376.9 200h0M385.1 203.9h0M380.9 205.2h0" stroke="#e9a838" stroke-width="0.80" stroke-linecap="round"/><path d="M386.7 204.7h0M384.8 198.8h0M383.9 207.2h0M388 206.6h0M387.1 201.1h0M387.9 202.1h0M386.6 202.9h0M385.3 205.4h0M381.4 198.5h0M378.3 196.2h0M384.7 199.5h0M382.8 198.1h0M382.9 205.5h0M382.4 201h0M376.7 202h0M382.5 205.6h0M382.5 200.9h0M379.4 202.8h0M377.9 204.1h0M377.1 202.2h0M385 203.9h0M384.1 204.5h0M385.4 206.3h0M375.5 202.5h0M382.5 200.3h0" stroke="#e9a838" stroke-width="1.20" stroke-linecap="round"/>
<path d="M411.4,196.1C411.6,194.9 413.2,194.6 413.7,195.6C414.2,196.5 414.5,200.7 414.3,202C414.1,203.2 413,204.1 412.5,203.1C412,202.2 411.2,197.4 411.4,196.1Z" fill="#e9a838" filter="url(#rough)"/>
<path d="M416 196.7h0M414.2 196.6h0M409.2 197.2h0M412.2 201.2h0M411.7 194.9h0M413.7 198.5h0M412.7 200.4h0M412.3 198.5h0M410.9 196.8h0M413 195.7h0M410 197.9h0M413.5 196.9h0M412.1 200.6h0M412 202.4h0M412.3 197.3h0M413.7 202.2h0M410.4 202.7h0M411.7 197.4h0M417.2 202.9h0M414.1 202.3h0M411.9 196.5h0M411.1 195h0M414.1 196.5h0M410.5 194.8h0M412.2 199.1h0M414.3 197.7h0M413.8 199.8h0M412.4 204.6h0" stroke="#e9a838" stroke-width="0.80" stroke-linecap="round"/><path d="M412.6 200.6h0M411.8 201.7h0M412.3 193.4h0M412.5 197.5h0M412.9 203.5h0M413.6 207h0M414.9 206.6h0M410.2 203.3h0M412.2 198.3h0M411 201.1h0M414.1 202h0M415.3 195.5h0M412.5 201.1h0M414.8 201.9h0M411.6 199.3h0M410.9 201.2h0M416 201.9h0M412.8 198.3h0M411.9 197.5h0M412.2 194.7h0M416.4 203.1h0M411.2 201.4h0M412 199.7h0M414 200.9h0M413.5 196.3h0M410.5 197.9h0M413.3 204.8h0" stroke="#e9a838" stroke-width="1.20" stroke-linecap="round"/>
<path d="M425.4,238.7C426,238 429.6,237.6 430.6,238.1C431.7,238.7 432.4,241.4 431.8,242.2C431.2,243 428.2,243.4 427.1,242.8C426.1,242.2 424.8,239.5 425.4,238.7Z" fill="#e9a838" filter="url(#rough)"/>
<path d="M430.3 243.8h0M428.7 243.5h0M427.5 242.1h0M423.8 240.3h0M427.3 243.4h0M428.7 239.5h0M428.9 242.8h0M425.1 242.4h0M425.5 238.3h0M430.4 241.9h0M426.9 240.5h0M432.4 239.9h0M432.2 240.4h0M423.4 238.5h0M431.1 244.3h0M430.9 242.6h0M430 240.8h0M430.7 239.2h0M426.3 245.2h0M432 244.9h0M424.6 237.6h0M432.7 239.2h0" stroke="#e9a838" stroke-width="0.80" stroke-linecap="round"/><path d="M424.9 238.8h0M426.5 237.9h0M431.9 238.1h0M430.6 240.7h0M428.9 239.7h0M430.2 241.9h0M426.7 239.7h0M426.5 236.7h0M427.9 240.9h0M427.9 237.8h0M424.3 240.2h0M425.8 234.1h0M425.3 240.8h0M426.5 238.4h0M425.9 238.5h0M427.5 238.8h0M434.2 241.1h0M425.9 236.6h0M427.1 241.9h0M427.3 240.9h0M424.6 238.4h0M431.7 242.4h0M423.7 236.2h0M432.4 241.8h0M426.3 245.7h0M431.5 241.3h0M434.2 240.1h0M427.9 237h0M429.9 239.8h0M425.8 238.8h0M429 242.7h0M432.1 236.7h0M429.4 241.4h0" stroke="#e9a838" stroke-width="1.20" stroke-linecap="round"/>
<path d="M439.3 223.5h0M423 235.9h0M425.3 237.7h0M431.1 214.2h0M426.7 223.8h0M412 235.5h0M431.9 221.7h0M422.1 234.3h0M421.8 242.4h0" stroke="#a8a6a7" stroke-width="0.75" stroke-linecap="round"/><path d="M412.8 203.1h0M411.8 207.2h0M412.6 229h0M407.7 213.1h0M417.5 206.9h0M418 220.3h0M417.9 221.7h0M413 217.9h0M404.9 220.3h0M418.3 204h0M420 241.6h0M414.1 240.8h0M427.9 238.8h0M418.4 217.2h0M404 220h0M414.1 203.7h0" stroke="#a8a6a7" stroke-width="1.05" stroke-linecap="round"/>
<path d="M411.1 239.7h0M399.8 231.5h0M401 234.8h0M407.4 229.6h0M400.4 225.6h0M407.9 241.2h0M406.7 234.5h0M404.3 237.8h0M410.5 234.1h0M407 234.3h0M398 232.3h0M412.9 238h0M405.6 240.7h0M406.4 228.5h0M400 235.7h0M408.2 230.8h0M407 235.3h0M401.1 226.9h0M399.9 235h0M411.4 240.5h0M402 226.4h0M405.2 230.5h0M406.1 234.2h0M406.1 236.4h0M403.2 237.2h0M400.1 228.3h0M398.7 227.9h0M406.9 235.6h0M408.3 240.8h0M413.1 235.2h0M399.7 227h0M410.4 239.8h0M398 229.5h0M407.5 233.5h0M402.7 230.8h0M410 238h0" stroke="#d8d8da" stroke-width="0.90" stroke-linecap="round"/><path d="M403.3 230.3h0M403.3 227.2h0M401.6 233.8h0M399.2 235.9h0M402.4 236.6h0M406.1 236.3h0M400.3 225.5h0M404.5 229.7h0M404.3 235.5h0M399 233.2h0M404.1 234.3h0M406.3 235.8h0M406.9 239.2h0M409.4 241.4h0M404.4 231.3h0M403.6 233.3h0M407.8 238.6h0M401.5 232.5h0M404.4 240.7h0M407 238.8h0M408.6 242h0M402.9 235.5h0M404.2 232h0M405.9 231.5h0M400 233.9h0M399.3 235.3h0M405.4 233h0M413.6 238.8h0M402.7 236.1h0M413 237.7h0M401.4 227.9h0M410.6 242.7h0M409.8 234.4h0M400.1 226.5h0" stroke="#d8d8da" stroke-width="1.30" stroke-linecap="round"/>
<path d="M399.7 234.2h0M394.7 229.6h0M398.5 235.3h0M371.5 262.6h0M379.1 240.4h0M366.5 265.4h0M397.6 255.8h0M400.8 255h0M389.5 233.5h0M398.5 246.1h0M391.6 268.1h0M392.9 232.4h0M399.3 242h0M374.7 264.7h0M373.4 243.6h0M402 253.8h0M401.4 229.3h0M397.7 233.3h0M393.7 235.4h0M370.1 257.9h0M386.5 270.3h0M390 264h0M368.3 264.9h0M375.3 265h0M397.7 258.4h0M398.6 237.9h0M396.8 234.6h0M388.8 270.4h0M374.2 268.5h0M394.4 230h0M395.1 257h0" stroke="#d8d8da" stroke-width="0.77" stroke-linecap="round"/><path d="M382.7 232.8h0M394.5 254.9h0M399.9 256.9h0M396.1 264.2h0M386.1 230h0M370.8 266.3h0M396.6 233.4h0M393.9 233.2h0M377.8 272.8h0M392.3 234h0M377.6 234.1h0M380.1 242.2h0M387.4 231.9h0M398.9 250h0M385.7 266.5h0M373.6 248.5h0M401 259.8h0M394.4 230.7h0M398.9 238.1h0M398.2 242.5h0M388 263.9h0M401.2 235h0M374.6 250.9h0M370.1 246.7h0M374.3 269.3h0M393.5 230.2h0M394.4 230.6h0M389.3 231.1h0M394.9 228.3h0" stroke="#d8d8da" stroke-width="1.12" stroke-linecap="round"/>
<path d="M485.8 200.4h0M486.4 200.7h0M492.6 202.1h0M491.4 196.2h0M486.3 196.7h0M493.2 202.2h0M487.9 197.9h0M485.2 205.1h0" stroke="#e9a838" stroke-width="0.75" stroke-linecap="round"/><path d="M495.7 206.4h0M483.2 203.6h0M493.1 202.8h0M484.3 200.7h0M493.3 202.8h0M492.3 196.9h0" stroke="#e9a838" stroke-width="1.05" stroke-linecap="round"/>
<path d="M520 193h0M518 201.9h0M522.9 195.6h0M523.7 202.2h0M519 201.6h0M521.5 191.1h0" stroke="#e9a838" stroke-width="0.75" stroke-linecap="round"/><path d="M521.2 206.5h0M518.9 200.9h0M517.8 198.1h0M520.4 202.4h0M522.9 191.3h0M518.2 202.5h0M522.1 199.3h0M518.7 203.7h0" stroke="#e9a838" stroke-width="1.05" stroke-linecap="round"/>
<path d="M531.5 237h0M530.3 235.4h0M533.7 235.3h0M538.4 241.8h0M534.8 242.7h0M533.8 234.6h0M538.7 239.8h0" stroke="#e9a838" stroke-width="0.75" stroke-linecap="round"/><path d="M540.1 234.9h0M532.7 233.7h0M535.1 244.9h0M541.8 238.9h0M539.2 240.2h0M541.6 238.3h0M541 237.9h0" stroke="#e9a838" stroke-width="1.05" stroke-linecap="round"/>
<path d="M508.6,209.8C509.9,206.7 513.1,204.9 516,203.1C518.9,201.3 522.7,199.4 526,199C529.3,198.6 533,198.9 535.9,200.7C538.8,202.4 541.3,206 543.4,209.8C545.5,213.5 547.6,218.9 548.4,223C549.2,227.2 549.2,231.3 548.4,234.7C547.6,238 545.8,240.9 543.4,243C541.1,245 537.2,246.6 534.3,247.1C531.4,247.7 528.7,247.5 526,246.3C523.2,245 520.3,241.9 517.7,239.6C515.1,237.4 511.9,236 510.2,233C508.6,230 508,225.3 507.7,221.4C507.5,217.5 507.2,212.8 508.6,209.8Z" fill="#605b60" filter="url(#rough)"/>
<path d="M517 219.3h0M524.7 205.8h0M521.2 208.2h0M519.8 204.3h0M534.8 238.3h0M509.9 226.1h0M545.6 232.2h0M531.8 245.5h0M511.7 215.5h0M530.8 241.7h0M532.9 228.4h0M534.5 219.2h0M541 227.5h0M544.7 228.3h0M520.3 209.4h0M524.4 219.8h0M520.4 214.1h0M515.2 236.4h0M532.5 228.2h0M542.3 209.6h0M541.8 226h0M534.5 215.3h0M534.6 202.2h0M534.7 233.4h0M536.6 211.7h0M532.8 222.2h0M545.9 229.1h0M512.3 221.6h0M536.9 204h0M524.7 236.9h0M514.3 222.7h0M527.9 239h0M535.6 241.7h0M512.9 226.6h0M510.3 216.1h0M521.5 215.1h0M528.3 205.8h0M519.1 206.2h0M510.9 212.7h0M513.5 217.6h0M517.6 204.2h0M534.9 212.8h0M539.4 233.2h0M540.4 238.5h0M541.4 213.6h0M526.8 234h0M520.1 210.2h0M523.3 233.3h0M542.3 237.1h0M541.5 215h0M536.7 224.1h0M533.9 229.9h0M524.1 217.3h0M523.5 216h0M512.5 229.2h0M531.2 222.4h0M531.6 207.6h0M515.2 213.1h0M518.3 216.7h0M538.5 213.8h0M536.7 228.1h0" stroke="#000" stroke-width="0.75" stroke-linecap="round"/><path d="M548.2 233.6h0M526.4 229.5h0M539 217.4h0M539 224.3h0M510.1 216.9h0M517.6 225.3h0M541.5 215.3h0M521.2 213.2h0M512.2 232.5h0M540.1 210.1h0M529.7 204.7h0M515.9 236h0M533.6 205h0M534.4 234.6h0M538 211.2h0M511.5 232h0M543.4 230.5h0M528.6 209.4h0M530.3 219.5h0M516.1 214.7h0M535.8 228h0M516.8 230.3h0M541 219.1h0M523.1 236h0M514.7 236.8h0M519.1 221.3h0M511.5 211.8h0M541.2 235.2h0M529.4 213.1h0M515.3 220.1h0M541.6 237.7h0M544.8 240.3h0M526.5 244.4h0M515.1 234.9h0M537.6 219.8h0M538.6 223.6h0M530.4 204.6h0M540 208.6h0M536.4 221.1h0M531.6 224.8h0M539.1 218.1h0M542.1 209h0M518.1 212.4h0M530 222.2h0M527.2 202.2h0M515.2 216.8h0M544 219.6h0M525.9 233.8h0M536.9 214.9h0" stroke="#000" stroke-width="1.05" stroke-linecap="round"/>
<path d="M518.5 200.7h0M549 217.5h0M546.5 237h0M541.7 241.6h0M506.9 212h0M511.1 207.9h0M523.5 247.1h0M509.1 228.8h0M543.8 241.4h0M531.7 245.9h0M524.9 197.1h0M526 246.1h0M517.7 240.8h0M547.3 232.9h0M508 215.3h0M507.6 212.6h0M510.8 209.5h0M537.2 202.4h0M538.6 201.6h0M515.1 237.1h0M507.9 224.8h0M544.8 237.4h0M543.3 244.7h0M538.2 206.6h0M544.8 240.2h0" stroke="#605b60" stroke-width="0.80" stroke-linecap="round"/><path d="M546.4 239h0M541.7 245.7h0M531.1 199.5h0M549.1 236.3h0M506.9 228.5h0M509.7 207.9h0M541.3 208.3h0M510.1 235.4h0M507.8 229.3h0M524.9 244.7h0M521 202.9h0M549.2 226.1h0M518.2 239.4h0M544.1 241.2h0M546.3 219.1h0M507.5 208.4h0M509.7 214h0M544.9 213.4h0M517.9 236.2h0M523.2 242h0M522.4 246.2h0M513.4 205.2h0M536.9 247.4h0M507.6 224.8h0M529 248.4h0M520.2 244.6h0M535.8 200.9h0M534.3 246.1h0M506.8 218.8h0M511.1 232.7h0" stroke="#605b60" stroke-width="1.20" stroke-linecap="round"/>
<path d="M476.2,262.9C476.5,260.7 477.5,256.5 478.7,252.9C479.9,249.3 481.6,244.6 483.7,241.3C485.7,238 488.5,234.9 491.1,233C493.8,231.1 497.1,229.7 499.4,229.7C501.8,229.7 504.1,230.8 505.2,233C506.3,235.2 506.2,239.4 506.1,243C505.9,246.6 505.2,251.5 504.4,254.6C503.6,257.6 503,259.3 501.1,261.2C499.2,263.1 495.8,265.2 492.8,266.2C489.8,267.2 485.5,267 482.8,267C480.2,267 478.1,266.9 477,266.2C475.9,265.5 475.9,265.1 476.2,262.9Z" fill="#e2e2e4" filter="url(#rough)"/>
<path d="M490.1 239.2h0M499.2 241h0M486.8 257.9h0M478.2 265.7h0M496.4 233.9h0M502.1 256h0" stroke="#000" stroke-width="0.75" stroke-linecap="round"/><path d="M505.2 244.3h0M494.7 255.4h0M483.8 244h0M502.3 249.6h0M499.1 233.6h0M501.7 240.6h0" stroke="#000" stroke-width="1.05" stroke-linecap="round"/>
<path d="M505.6 240.1h0M477.9 250.8h0M480 251h0M486.2 268.7h0M505.2 228.9h0M484.1 262.1h0M505.6 245.4h0M482 241.8h0M502.1 262.5h0M478.5 258.1h0M497.9 263.9h0M478.4 249.1h0M475.3 263.6h0M510.5 234.7h0M502.5 251.7h0M479 265.1h0M478.9 264.8h0M500.2 256.3h0M500.7 253.8h0M476.4 262.4h0M481.7 269.2h0M505.2 249.5h0M503.4 236.8h0M481.5 242.7h0M486.4 268h0M497.8 259.9h0M506.2 247.4h0M503.4 229.4h0M493 233.1h0M508.1 244.6h0" stroke="#e2e2e4" stroke-width="0.80" stroke-linecap="round"/><path d="M501.5 232.2h0M476.9 254.6h0M494.7 230.5h0M491.6 265.6h0M492.6 267.4h0M502.9 237.7h0M491.4 265.7h0M479.3 267.3h0M475.7 261.7h0M501.7 263.6h0M493.7 265.6h0M498.9 230.9h0M484.6 266.9h0M485.3 241.7h0M503.6 248.8h0M488.5 266.2h0M507.5 253.2h0M491.4 266.6h0M499.7 233.7h0M506.7 256.7h0M504.1 232.1h0M474.9 264.5h0M480 266.3h0M476.7 265.2h0M482 243.9h0" stroke="#e2e2e4" stroke-width="1.20" stroke-linecap="round"/>
<path d="M455.5,226.4C456.2,225 457.8,222.9 459.6,221.4C461.4,219.9 463.8,217.9 466.3,217.2C468.7,216.6 471.8,216.8 474.5,217.2C477.3,217.7 480.8,218.2 482.8,219.7C484.9,221.3 486.4,223.9 487,226.4C487.5,228.9 486.7,232.2 486.2,234.7C485.6,237.2 484.8,239.6 483.7,241.3C482.6,243 481,243.8 479.5,244.6C478,245.4 475.9,246.6 474.5,246.3C473.2,246 472.6,244.6 471.2,243C469.8,241.3 468.2,238 466.3,236.3C464.3,234.7 461.4,234.1 459.6,233C457.8,231.9 456.2,230.8 455.5,229.7C454.8,228.6 454.8,227.8 455.5,226.4Z" fill="#dc2c30" filter="url(#rough)"/>
<path d="M476.7 233.1h0M475.4 238.1h0M478.5 243.8h0M465.7 224.5h0M473.4 225h0M466.1 220.5h0M472.6 233.5h0M483.6 229.5h0M479.5 238.9h0M481.7 228.5h0M468.3 223.4h0M467.9 219.9h0" stroke="#000" stroke-width="0.75" stroke-linecap="round"/><path d="M479.4 240.4h0M474.9 245h0M482.8 223.4h0M473 225.1h0M483 238.4h0M463.4 219.5h0M466.2 223.1h0M473 225.3h0" stroke="#000" stroke-width="1.05" stroke-linecap="round"/>
<path d="M480.6 240.8h0M465.4 235.4h0M480.7 243.4h0M477.7 218.2h0M469.1 243.5h0M478.5 216.2h0M462.3 236.6h0M477.7 245.5h0M465.5 233.7h0M460.2 233.5h0M488.3 224.5h0M458 233.3h0M477 244.9h0M481.4 218.2h0M483.6 220.1h0M485.8 234.3h0M461.5 235h0M455.4 223.5h0M453.3 230.8h0M463.8 232h0M468.3 239.2h0M461.1 218.8h0M482.9 220.5h0M463.6 236.9h0M485.7 224.2h0M479.9 243.7h0M476.6 219.4h0M458.3 234.5h0M456.9 229.5h0" stroke="#dc2c30" stroke-width="0.80" stroke-linecap="round"/><path d="M473.5 244.6h0M462.2 216.9h0M465.2 237.7h0M479.5 244.1h0M461.7 232.3h0M463.2 233.5h0M462.4 218.7h0M485.7 223.7h0M467.6 236.4h0M485.5 230.5h0M465.6 214.3h0M475 245h0M487.1 235.7h0M469.3 218.1h0M485.3 220.2h0M479.8 216.4h0M468.1 216.3h0M478.2 246.1h0M477.1 246.8h0M480.4 244.9h0M458.2 232.5h0M452.9 229.8h0M463.5 223.3h0M473.5 242.8h0M470.5 242.1h0M473.3 243.5h0" stroke="#dc2c30" stroke-width="1.20" stroke-linecap="round"/>
<path d="M470.4,243C471.4,241 475.5,240.2 477,241.3C478.6,242.4 479.8,247.4 479.5,249.6C479.2,251.8 476.8,254 475.4,254.6C474,255.1 472.1,254.9 471.2,252.9C470.4,251 469.4,244.9 470.4,243Z" fill="#99358f" filter="url(#rough)"/>
<path d="M480.6 247.6h0M472.1 243.8h0M466.2 245h0M473.6 246.1h0M468.7 244.1h0M476.5 249.6h0M469.9 254h0M470.9 242.3h0M471.5 246.4h0M474.4 252.2h0M478.8 251.3h0M472.4 238.3h0M475.3 241.6h0M475.2 239.6h0M469.4 250.2h0M477.4 241.5h0M472.4 252.1h0M477 252.8h0M474 243.9h0M471.5 244.9h0M473.3 248.6h0M475.2 241.7h0M479.7 252.5h0M472.6 254.1h0M468.4 243h0" stroke="#99358f" stroke-width="0.80" stroke-linecap="round"/><path d="M470.9 246.7h0M480.6 247.2h0M478 245.4h0M481.2 249h0M477.1 241h0M477.8 243.6h0M473.1 243.3h0M470.3 253.6h0M476.3 243.3h0M472.8 251.3h0M471.5 243.4h0M472 245.5h0M476.6 252.2h0M469.9 249.3h0M471.8 247.4h0M473.5 255.4h0M470.2 238h0M476.2 256.7h0M476.8 247.5h0M471.4 255.3h0M473.1 253h0M477.8 249.9h0M477.4 252.6h0M478.7 238h0M476.1 252.7h0M468.8 249.3h0M472.4 253.2h0M472.9 251.8h0M475.2 242.8h0M476.6 245.3h0" stroke="#99358f" stroke-width="1.20" stroke-linecap="round"/>
<path d="M466.5,211C466.3,209.2 467.1,205.6 468,203.7C468.8,201.9 470.2,200.8 471.6,200.1C473.1,199.3 475.3,198.6 476.7,199.3C478.2,200.1 479.3,202.8 480.4,204.5C481.5,206.2 483.3,208 483.3,209.6C483.3,211.1 481.8,213 480.4,213.9C478.9,214.9 476.4,215.3 474.5,215.4C472.7,215.5 470.8,215.4 469.4,214.7C468.1,213.9 466.8,212.9 466.5,211Z" fill="#8dc9e1" filter="url(#rough)"/>
<path d="M473.7 200.9h0M470.4 209.7h0M475.6 211h0M473 209.3h0M468.7 212.1h0M476.8 201.9h0M472.8 214.7h0M478 206.8h0" stroke="#000" stroke-width="0.75" stroke-linecap="round"/><path d="M475 208.7h0M476.8 208.3h0M473.1 205.1h0M474.2 204.8h0M473.1 199.9h0M471 214.2h0M467.1 210.4h0" stroke="#000" stroke-width="1.05" stroke-linecap="round"/>
<path d="M470.2 202.1h0M470 202.5h0M482.3 212.4h0M470.5 217.4h0M474.9 200.3h0M473.3 199.9h0M473.2 200.5h0M468.9 208.2h0M479.3 198.8h0M474.5 217.1h0M473.3 215.2h0M478.5 214.3h0M476.7 200.5h0M480.4 215h0M480.5 201.4h0M474.7 199.5h0M477.8 206.1h0M465.2 209.2h0M469.8 213.8h0M483.1 210.5h0M479.3 213.9h0M469.3 204.7h0M478.8 204.1h0M482.2 209.9h0" stroke="#8dc9e1" stroke-width="0.80" stroke-linecap="round"/><path d="M466.5 216.6h0M482.6 211.7h0M477.5 213h0M482.8 209.4h0M484.3 208.4h0M476 217.8h0M467 202.4h0M468.2 206.9h0M467.5 214.3h0M480.6 201.8h0M469.7 214h0M467.8 214.4h0M469.5 210.4h0M482.5 214h0M466.6 209.8h0M466.2 215.5h0M469.1 201h0M468.9 201.4h0M476.9 200.3h0M477.7 214.7h0M479.6 216.4h0M464.8 210.5h0M468 208.4h0M480.5 201.9h0M470.8 201.6h0M479.1 203.7h0M470.7 204.9h0M478.9 202.7h0M478.8 197.4h0M479.5 201.8h0M480.9 207.2h0" stroke="#8dc9e1" stroke-width="1.20" stroke-linecap="round"/>
<path d="M494.5,209.8C495.1,207.3 496.1,204.7 497.8,203.1C499.4,201.6 502.8,200.1 504.4,200.7C506.1,201.2 507,203.6 507.7,206.5C508.4,209.4 508.7,214.2 508.6,218.1C508.4,221.9 508.1,227.5 506.9,229.7C505.7,231.9 503,231.9 501.1,231.3C499.2,230.8 496.5,228.6 495.3,226.4C494,224.2 493.8,220.8 493.6,218.1C493.5,215.3 493.8,212.3 494.5,209.8Z" fill="#a24ead" filter="url(#rough)"/>
<path d="M499.9 207.4h0M503 230.1h0M500.6 216.4h0M507 221.1h0M500.2 222.5h0M502.7 204.4h0M499.1 228.1h0M500.9 214.8h0M495.1 219.3h0M502.9 222.5h0M504.9 220.9h0" stroke="#000" stroke-width="0.75" stroke-linecap="round"/><path d="M501.6 223.5h0M503.9 213.2h0M497.3 215.5h0M505 220h0M494.6 220.3h0M499.2 208.8h0M503.4 205.4h0M507.5 215.7h0M501.7 228.5h0M498.2 211.7h0M502.8 205.2h0M505 227.2h0M505.5 207.3h0M506.7 219.2h0M494.8 223.5h0M501.8 207.1h0M506.5 213.9h0M494.9 215.5h0M500.6 229.9h0" stroke="#000" stroke-width="1.05" stroke-linecap="round"/>
<path d="M493 218.8h0M504.6 229.2h0M507.7 212.4h0M498.3 203.6h0M507.9 232.9h0M499.8 230.2h0M505.1 222h0M507.9 210.9h0M507.4 221.1h0M506.1 223.8h0M506.4 233.3h0M505.5 202.3h0M502.1 203.9h0M509.7 205.2h0M502.8 200.6h0M508.2 221.7h0M502 205.1h0M495.2 211.2h0M496.3 226.7h0M501 202.3h0M495.5 225.9h0M509.5 203.7h0M510.3 217.8h0M510.2 222.6h0M498.8 205.5h0M494.2 226h0M508 230.6h0M496.1 207.4h0M507.1 202.4h0M504.7 205.1h0M496.4 205h0M505 231.2h0M493.1 211.9h0M495.5 228h0M500 230.8h0M507.5 217.1h0" stroke="#a24ead" stroke-width="0.80" stroke-linecap="round"/><path d="M501.2 198.6h0M493.8 215.3h0M503.7 233.5h0M493 210.9h0M495.4 229.2h0M499.3 209h0M507.8 219.4h0M506.5 220.8h0M494.4 220.3h0M502.6 200.5h0M496.8 204h0M500.7 201.2h0M493.3 212.4h0M509 209.1h0M497.4 201.7h0M491.8 219h0M501.7 232.3h0M509 210.9h0M496.4 227.8h0" stroke="#a24ead" stroke-width="1.20" stroke-linecap="round"/>
<path d="M490.8,174.1C492,172.5 495.5,171.7 497.8,171.3C500,170.9 503,170.2 504.4,171.6C505.9,173.1 505.5,177 506.4,179.9C507.3,182.8 508.5,186.5 509.7,189C510.9,191.5 512.5,192.9 513.5,194.8C514.6,196.8 516.3,199.4 516,200.7C515.8,201.9 513.4,202.2 511.9,202.3C510.4,202.4 508.7,202.3 506.9,201.5C505.1,200.7 502.9,198.7 501.1,197.3C499.3,195.9 497.6,194.8 496.1,193.2C494.7,191.5 493.4,189.5 492.5,187.4C491.6,185.3 491.1,183 490.8,180.7C490.5,178.5 489.6,175.7 490.8,174.1Z" fill="#80c04e" filter="url(#rough)"/>
<path d="M495.3 188.4h0M503.6 185.9h0M494.9 175.6h0M507.4 201h0M503.9 197.6h0M499.7 185.3h0M513.2 200.5h0M506.3 188.2h0M502 180.7h0M496.4 181.1h0M499.1 188.9h0M512.7 197.8h0M504.6 195.9h0M497 190.9h0" stroke="#000" stroke-width="0.75" stroke-linecap="round"/><path d="M498.8 189.5h0M498.6 184.2h0M498.6 190.6h0M507.1 191.8h0M498.8 181.5h0M512.2 193h0M509.6 196.2h0M512.2 199.5h0M492.7 178.7h0M495.9 180.6h0M513.4 200.3h0" stroke="#000" stroke-width="1.05" stroke-linecap="round"/>
<path d="M492 169.8h0M514.5 195.7h0M496.5 193.7h0M492.3 182.8h0M509.9 185.2h0M498 193.2h0M504.3 175.5h0M504.3 185.2h0M501.1 171.3h0M499.1 174.8h0M511.4 202.2h0M493.5 172.5h0M492.5 176.5h0M503.2 195.6h0M496.5 190.9h0M493.2 189.8h0M506.4 178.8h0M494.5 172.8h0M516.7 199.8h0M512.1 194.3h0M493.1 188.6h0M490.7 182h0M496.6 171.5h0M507.9 175.8h0M516.9 191.7h0M494.2 174.7h0M506.6 183.3h0M504.7 176.7h0M504.2 198.7h0M494.9 191.8h0" stroke="#80c04e" stroke-width="0.80" stroke-linecap="round"/><path d="M503.6 175.1h0M498.7 194.3h0M492 176.6h0M503.2 173.7h0M499.2 195.7h0M507.4 201.3h0M491.8 180.9h0M503.6 172.5h0M508.6 199.7h0M511.8 201.1h0M491.4 186.1h0M501.1 200.5h0M493.2 191.2h0M492.5 175.1h0M489 179h0M489.4 176.1h0M501.9 198.6h0M517.7 200.4h0M516.1 198.6h0M516.4 198.1h0M496.8 190.3h0M511.6 202.1h0M491.4 173.8h0M504.5 176.8h0M506.8 177.4h0" stroke="#80c04e" stroke-width="1.20" stroke-linecap="round"/>
<path d="M486.1,200.4C486.6,199.7 488.3,198.7 489.6,198.7C490.8,198.7 493,199.5 493.6,200.4C494.2,201.3 493.7,203.2 493,203.9C492.4,204.6 490.6,204.7 489.6,204.5C488.5,204.3 487.2,203.4 486.7,202.7C486.1,202 485.6,201.1 486.1,200.4Z" fill="#e9a838" filter="url(#rough)"/>
<path d="M485.3 200h0M492.5 201.2h0M486.6 200.5h0M489.4 206.3h0M485.1 204.6h0M494.4 200.7h0M494.2 203h0M486.8 197h0M483.4 199.7h0M492.4 203.2h0M489.8 200.8h0M488.5 199.7h0M489.6 202.9h0M490.3 199.6h0M491.2 198.6h0M495 201.3h0M492.3 197.9h0M487.8 204.4h0M490.1 199.2h0" stroke="#e9a838" stroke-width="0.80" stroke-linecap="round"/><path d="M488 202.5h0M491.3 205.6h0M486.8 207.6h0M486.9 203.7h0M486.9 203.9h0M493.2 203.2h0M488.4 200.4h0M486.6 201.3h0M482.6 197.7h0M488.5 200.8h0M487.6 205.2h0M484.9 204h0M490.3 200.8h0M493.1 203.2h0M494 198.6h0M487.6 202.7h0M488.9 203.8h0M492 200.1h0M487.6 201.7h0M492.3 203.7h0M494.8 199.8h0M484.4 202.7h0M490.2 206.5h0M485.6 202.1h0M488.4 198.1h0M488.2 200.2h0M497 204.2h0M488.4 202.9h0M495 201.5h0M490.2 202.9h0M492.8 204h0M488.3 205.2h0M486 203.9h0M491.1 204.4h0M489.5 205.8h0M488.3 201.3h0" stroke="#e9a838" stroke-width="1.20" stroke-linecap="round"/>
<path d="M518.4,197.1C518.9,195.7 520.7,194.6 521.3,195.3C522,196 522.7,199.6 522.5,201.1C522.3,202.7 520.9,204.2 520.2,204.6C519.5,205 518.7,204.7 518.4,203.5C518.1,202.2 517.9,198.4 518.4,197.1Z" fill="#e9a838" filter="url(#rough)"/>
<path d="M521.6 196.9h0M520.2 203.1h0M519.2 198.5h0M523.2 202.4h0M521.6 203.3h0M519.1 205.8h0M522.3 198.1h0M519.4 200.9h0M518.8 202.6h0M521.7 201h0M518.7 202.9h0M521.7 197.5h0M522 196.1h0M519.6 199.2h0M520.7 204.6h0M521.8 200.9h0M522.1 194.8h0M520.2 196.1h0M519.8 202.2h0M520.6 195.5h0M519.3 199.6h0M523.2 194.3h0M516 205.6h0M521.4 202.3h0M521.7 199h0" stroke="#e9a838" stroke-width="0.80" stroke-linecap="round"/><path d="M519.9 196.5h0M519.2 206.8h0M522.9 200.9h0M518.9 201.8h0M520.1 204.1h0M517.2 195.9h0M522.6 198.3h0M520.2 199.4h0M519 196.6h0M518.7 197.9h0M520 203.1h0M520.6 201.5h0M523.2 197.8h0M521.2 202.1h0M518.2 202.5h0M522.7 201.7h0M520.4 202.9h0M522.6 201.9h0M513.9 197.6h0M519 199.7h0M518.6 204h0M519.4 204.2h0M518.5 203.3h0M520.5 205.3h0M519.8 194.7h0M522.6 202.5h0M520 199.5h0M521.6 202.7h0M521.9 205.4h0M521.2 204.2h0" stroke="#e9a838" stroke-width="1.20" stroke-linecap="round"/>
<path d="M533.2,236.7C533.8,235.7 537.4,235.9 538.4,236.7C539.5,237.6 540.2,240.9 539.6,242C539,243 536,244 535,243.1C533.9,242.3 532.6,237.8 533.2,236.7Z" fill="#e9a838" filter="url(#rough)"/>
<path d="M538.9 240h0M538.7 239.1h0M538.3 240.6h0M535.6 241.1h0M536.6 238.8h0M538.6 242.2h0M536.8 236.5h0M538.7 238.8h0M534.8 236.3h0M542.1 237.2h0M535.7 243.1h0M537.6 236.9h0M533.4 243.3h0M539 238.3h0M535.2 239.4h0M534.1 237.2h0M539.9 237.9h0M537.7 241h0M537 233.4h0M536.5 236.8h0M537.3 237.5h0M534.2 241.4h0M534.8 236.9h0M539.9 238.4h0M539.6 239.5h0M540.4 241.8h0M533.2 237.8h0" stroke="#e9a838" stroke-width="0.80" stroke-linecap="round"/><path d="M533.8 234.2h0M532.7 239.3h0M530.7 241h0M534.3 238.9h0M533 243.1h0M541.5 236.7h0M537.4 241.1h0M537.9 241.1h0M534.8 243.6h0M540.9 239.9h0M530.1 235.8h0M535.1 236.8h0M534 241.5h0M534.7 235.8h0M534.5 241.5h0M537.5 237.4h0M536.5 238.4h0M540.2 237.2h0M534.9 239h0M540.7 237.2h0M532.3 242.1h0M538.4 244.8h0M534.7 235.3h0M531.1 241.7h0M535.2 237.2h0M538.3 244h0M538.5 239.8h0M533.4 239.4h0" stroke="#e9a838" stroke-width="1.20" stroke-linecap="round"/>
<path d="M517.1 215.6h0M525 200.2h0M528.2 199.5h0M510.2 222.1h0M536 239.5h0M520 224.4h0M516.3 217.6h0M520.2 207h0M543.9 220.8h0M535.6 238.2h0M519.8 202.1h0M528.9 227.4h0M513.8 230.8h0M536.8 209.3h0" stroke="#a8a6a7" stroke-width="0.75" stroke-linecap="round"/><path d="M539.4 210.6h0M529 233.7h0M540.4 233.8h0M538.6 228.6h0M519.5 231.9h0M542.3 224h0M533.6 221.6h0M525.6 205.5h0M517.1 220.6h0M518.8 210.9h0M541.1 233.4h0" stroke="#a8a6a7" stroke-width="1.05" stroke-linecap="round"/>
<path d="M512.5 232.2h0M510.9 229.9h0M505.2 233.6h0M521 240.3h0M508.6 234.4h0M507 230.1h0M519.9 240.3h0M512.6 232.6h0M511.9 230.7h0M506.2 228.7h0M505.5 233.8h0M509.4 226.7h0M507.2 231.5h0M513.4 229h0M509.1 237h0M512.7 231.1h0M512.2 239.4h0M515.1 242.8h0M514.8 237.3h0M513.2 229.9h0M511.2 238.2h0M513.9 234.9h0M515.8 238.5h0M509.7 229.3h0M517 234.4h0M515.5 234.8h0M513.3 230.7h0M518.4 236.6h0M509.8 228.2h0M513.8 236h0M508.3 235.8h0M519.2 233.3h0M513.4 231.3h0M517 232.3h0M507 231.5h0" stroke="#d8d8da" stroke-width="0.90" stroke-linecap="round"/><path d="M508.2 225.9h0M511.5 237.7h0M505.8 234.5h0M511 236.9h0M509.4 235.4h0M511.1 238.2h0M514 235.8h0M505.9 231.2h0M512.8 228.5h0M509.2 234.7h0M513.3 230h0M508.8 233.3h0M512.7 241.1h0M509.8 231.8h0M504.7 233.3h0M515.6 232h0M519.9 241.4h0M517.8 242.1h0M514 232.3h0M508.9 232.6h0M509.8 230.4h0M517.3 231.8h0M517.1 233.1h0M514.1 233.7h0M511.4 227h0M511.5 235.3h0M511.6 239.5h0M516.3 238.6h0M520.9 240.9h0M518 237.5h0M516.8 236.4h0M507.3 228.3h0M519.4 236.5h0M509.9 227.3h0M518.3 241.6h0" stroke="#d8d8da" stroke-width="1.30" stroke-linecap="round"/>
<path d="M498.4 264.6h0M504.7 232h0M490.8 260.7h0M505.1 247.7h0M483.2 251.1h0M504.8 241.7h0M480.8 268.2h0M482.1 264h0M474.7 255.1h0M484.1 269.5h0M507.5 247.2h0M503.2 260.8h0M482.7 269.3h0M503.1 234.3h0M483.5 236.3h0M492.1 267.1h0M505 242.3h0M489 238.6h0M476.5 256.1h0M499.2 256.7h0M503.9 255.2h0M488 236.9h0M502.5 255.1h0M487.4 234h0M474.4 261.8h0M504.8 248.3h0M481 258.2h0M488.2 270.6h0M505.7 242.6h0M476.3 269h0M485.5 236.1h0M480.5 263.3h0M492.6 267.1h0" stroke="#d8d8da" stroke-width="0.77" stroke-linecap="round"/><path d="M503.8 229.7h0M484.6 243.8h0M503.3 231.2h0M482.6 240.8h0M493 234.9h0M503.5 231.6h0M498.9 232.3h0M501.8 261h0M476.6 270.5h0M497.4 261.7h0M504.7 234.9h0M506.1 229.4h0M480.1 260.8h0M477.3 266.9h0M482.4 269.9h0M484 249.1h0M502.8 260.9h0M482.8 240.6h0M492.8 232.2h0M497.5 234h0M497.7 261.5h0M491.9 231.4h0M486.9 267.6h0M476.7 263h0M478.2 265.5h0M496.7 231.8h0M480.7 265h0" stroke="#d8d8da" stroke-width="1.12" stroke-linecap="round"/>
<path d="M595.4 197.7h0M600.4 206.7h0M602.1 204.8h0M602.4 206.8h0M600.9 201.8h0M595.4 198h0M601.7 205.5h0" stroke="#e9a838" stroke-width="0.75" stroke-linecap="round"/><path d="M595.3 196.6h0M595.2 196.4h0M600.2 198.4h0M595.4 206.2h0M599.4 199.3h0M599.3 201.6h0M593 201.1h0" stroke="#e9a838" stroke-width="1.05" stroke-linecap="round"/>
<path d="M624.9 202.3h0M629.1 197.7h0M624.1 205.2h0M629.9 201.5h0M625 205.8h0M627.2 192.9h0M629.5 201.1h0" stroke="#e9a838" stroke-width="0.75" stroke-linecap="round"/><path d="M628.1 197.4h0M628 205.9h0M624.7 196.3h0M625 197h0M627.7 203.6h0M628.8 195.1h0M626.4 197.5h0" stroke="#e9a838" stroke-width="1.05" stroke-linecap="round"/>
<path d="M644.7 238.5h0M645 243.2h0M644.5 233.8h0M645.4 245.4h0M640.4 244.7h0M638.6 237.6h0M641.6 244.1h0" stroke="#e9a838" stroke-width="0.75" stroke-linecap="round"/><path d="M643.4 234.6h0M645.6 240.3h0M639.7 242.8h0M647.5 236.9h0M639 241.1h0M643.1 243.5h0M647.8 241.1h0" stroke="#e9a838" stroke-width="1.05" stroke-linecap="round"/>
<path d="M616.9,208.1C618.3,204.8 621.4,203 624.3,201.5C627.2,200 631.1,198.7 634.3,199C637.5,199.3 640.8,200.8 643.4,203.1C646.1,205.5 648.3,209.2 650.1,213.1C651.9,217 653.7,222.5 654.2,226.4C654.8,230.2 654.2,233.4 653.4,236.3C652.6,239.2 651.3,242 649.2,243.8C647.2,245.6 644,246.7 640.9,247.1C637.9,247.5 634,247.5 631,246.3C627.9,245 624.9,241.9 622.7,239.6C620.5,237.4 618.8,236 617.7,233C616.6,230 616.2,225.5 616,221.4C615.9,217.2 615.5,211.4 616.9,208.1Z" fill="#605b60" filter="url(#rough)"/>
<path d="M629.7 223.1h0M651.8 226h0M633.5 209.7h0M634.8 199.2h0M639.7 246.3h0M638.2 234.8h0M643.6 216.7h0M624.5 210h0M641.7 228.7h0M626 204.8h0M625.1 208.1h0M637.6 224.2h0M634.9 240.8h0M639.6 201.8h0M618.1 216.4h0M644.3 225.5h0M632 209.7h0M630.9 240.2h0M640.7 237.2h0M632.5 241h0M648.1 238.4h0M640.1 207.1h0M638.3 245.4h0M629 209h0M630 234.3h0M625.4 221.9h0M640.8 202.4h0M629.4 229.5h0M642.7 217.1h0M638.1 245.1h0M651 233.4h0M620.8 222.9h0M630.1 217.3h0M622.5 211.4h0M620.8 222.9h0M618.5 220.7h0M622.3 221.2h0M634.3 244.6h0M637.2 212.5h0M650.5 232.9h0M635.6 213h0M648.3 231.5h0M629.6 200.8h0M638.8 243.1h0M634 235.8h0M627 214.8h0M638 222.7h0M650.8 236.8h0" stroke="#000" stroke-width="0.75" stroke-linecap="round"/><path d="M634.4 231.6h0M633.7 216.5h0M639.3 227.1h0M637.5 206.3h0M629.1 236.4h0M647.7 215.9h0M626 223.7h0M624.6 238.8h0M633.1 215.7h0M625 211.9h0M635.4 246.4h0M637.3 208.6h0M649.1 214h0M646.9 236.2h0M647.1 216.7h0M631.8 202.1h0M641.9 218.7h0M631.4 211.9h0M650.1 225.2h0M616.2 219.1h0M636.5 224.8h0M633.5 207.3h0M626.3 214.6h0M627.1 212.9h0M637.7 227.9h0M639.2 218.3h0M629.4 220.4h0M635 224.3h0M639.6 241.2h0M621 233.5h0M638 240.1h0M645.7 220.7h0M623.8 213.5h0M647.2 222.9h0M645.3 232h0M640.4 239.4h0M639 233h0M638.6 239.6h0M628.3 225.1h0M637.3 227.5h0M632.5 209.4h0M633.2 240.8h0M650.9 216.5h0M626.6 228.7h0M618.1 219.4h0M652.4 220.9h0M633.8 220.5h0M646.6 222.4h0M631.6 209.9h0M631.2 217.1h0M644.1 239.1h0M645.1 217.6h0M650 214.6h0M644.7 218.6h0M644.5 204.9h0M651.3 230.2h0M628.4 229.9h0M643.3 225.9h0M633.4 226.3h0M645 245.2h0M652.9 231.1h0M648.4 214.7h0" stroke="#000" stroke-width="1.05" stroke-linecap="round"/>
<path d="M615.8 224.3h0M622.8 205.9h0M642.5 201.7h0M618.9 234.1h0M618.4 234.4h0M652.5 222.4h0M647 201.9h0M655.3 224.9h0M651.5 240.7h0M620.4 238.3h0M630.1 198.5h0M639.7 202.4h0M643.3 201h0M647.3 244h0M651.1 222.6h0M622.4 240.1h0M620.4 234.4h0M645.8 204.9h0M639.8 201.4h0M651.9 229.6h0M618.8 233.6h0M616.9 231.1h0M617.7 226.8h0" stroke="#605b60" stroke-width="0.80" stroke-linecap="round"/><path d="M648.8 209.8h0M619.3 206h0M647.7 211.6h0M626.7 245.3h0M634.4 199.5h0M632.8 201.9h0M640.9 247.3h0M617.2 221.7h0M645.6 246h0M616.5 236.2h0M618 232.2h0M628.6 200.9h0M620.6 239.3h0M622.9 241.3h0M650.7 243h0M615.3 216.7h0M643.2 206.5h0M639 249.8h0M631.1 243.4h0M624.5 238.8h0M624.5 239h0M617 206.2h0M617.9 234.3h0M650.5 243.3h0M620.1 203.7h0M629.5 199.9h0M624.1 203h0M621.2 239.7h0M634.7 245.4h0M636.4 249.5h0M619.1 229.2h0M617.8 232.9h0" stroke="#605b60" stroke-width="1.20" stroke-linecap="round"/>
<path d="M582.9,262.9C583.1,260.7 584.1,256.5 585.4,252.9C586.6,249.3 588.3,244.6 590.3,241.3C592.4,238 595.2,234.9 597.8,233C600.4,231.1 603.9,229.7 606.1,229.7C608.3,229.7 610.1,230.8 611.1,233C612,235.2 612,239.4 611.9,243C611.8,246.6 611.2,251.3 610.2,254.6C609.3,257.9 608.2,260.7 606.1,262.9C604,265.1 600.8,267 597.8,267.8C594.8,268.7 590.2,268.1 587.8,267.8C585.5,267.6 584.5,267 583.7,266.2C582.9,265.4 582.6,265.1 582.9,262.9Z" fill="#e2e2e4" filter="url(#rough)"/>
<path d="M592.7 241.5h0M599 263.8h0M611 239h0M591.9 258.2h0M597.3 247.4h0" stroke="#000" stroke-width="0.75" stroke-linecap="round"/><path d="M600.7 234h0M610.9 235.6h0M599.4 242.4h0M599.8 233.6h0M594.6 245.8h0M610.2 247.5h0M607.7 249.7h0" stroke="#000" stroke-width="1.05" stroke-linecap="round"/>
<path d="M613 235.5h0M595.5 268.8h0M581.8 256h0M598 265.6h0M614.2 246.7h0M594.4 269.7h0M584.6 257.6h0M594.7 266.9h0M585.7 268.1h0M584.7 265.6h0M599.1 231.7h0M592.5 235.9h0M600.5 233.4h0M606.9 262.5h0M590.3 266.1h0M581.9 266.3h0M582.8 259.8h0M584.1 260.9h0M594.9 270.8h0M590 244.3h0M582.2 264.2h0M582.2 258.8h0" stroke="#e2e2e4" stroke-width="0.80" stroke-linecap="round"/><path d="M589.6 239.3h0M591.1 246h0M584.8 265.6h0M589.8 238.6h0M592.5 238.1h0M596.7 270.4h0M600 230.5h0M609.5 252h0M602.7 265.9h0M587.3 252.2h0M585.6 253.2h0M597.3 235h0M603.2 227.7h0M589.1 237.9h0M597.1 232.3h0M587.1 267.9h0M587.4 269.3h0M586.7 243.1h0M600.1 232.1h0M610.6 231.1h0M606.4 260.6h0M601.2 265.4h0M610.6 232.1h0M589.2 269.6h0M610.2 256.4h0M607.4 232.3h0M608 260.5h0M584.3 261.9h0M585 257.1h0M606.2 263.9h0M591.9 247h0M612 245.6h0M591.1 241.5h0" stroke="#e2e2e4" stroke-width="1.20" stroke-linecap="round"/>
<path d="M562.1,225.5C562.8,224.2 564.5,222.8 566.3,221.4C568.1,220 570.4,218.1 572.9,217.2C575.4,216.4 578.4,216.1 581.2,216.4C584,216.7 587.4,217.2 589.5,218.9C591.6,220.6 593.1,223.7 593.7,226.4C594.2,229 593.5,232.2 592.8,234.7C592.1,237.2 590.7,239.6 589.5,241.3C588.3,243 586.9,243.8 585.4,244.6C583.8,245.4 581.9,246.6 580.4,246.3C578.9,246 577.5,244.3 576.2,243C575,241.6 574.6,239.6 572.9,238C571.3,236.3 568.1,234.4 566.3,233C564.5,231.6 562.8,230.9 562.1,229.7C561.4,228.4 561.4,226.9 562.1,225.5Z" fill="#dc2c30" filter="url(#rough)"/>
<path d="M586.1 229.7h0M574.8 219.4h0M576.9 242.6h0M585.7 229.7h0M588 219.2h0M574.8 231.1h0M592.5 231.6h0M587.6 241.2h0M592 225.2h0M587.4 221.5h0" stroke="#000" stroke-width="0.75" stroke-linecap="round"/><path d="M564.8 224.7h0M562.9 229.6h0M589.6 233.5h0M586.2 223.1h0M570.2 222.4h0M591.6 231.4h0M580.5 228.6h0M581.9 226.7h0M583.6 217.7h0M578.6 220.2h0" stroke="#000" stroke-width="1.05" stroke-linecap="round"/>
<path d="M588.7 239.5h0M574.1 238.8h0M569.5 218.1h0M564.2 224.9h0M577 246h0M582.1 245.5h0M580.5 213.5h0M562.5 230.4h0M570 233.1h0M574.7 240.2h0M583.6 244.9h0M592.6 237.8h0M573.5 217.6h0M586.5 243.2h0M586 240.8h0M579.5 244.4h0M566.3 223.1h0M562.5 225.2h0M569.9 237.5h0M591.6 231.2h0M583.3 243.8h0M567.3 220.3h0M586.1 243.3h0M588.9 240.7h0M583.8 246.8h0M590.9 225.8h0M558 230.7h0" stroke="#dc2c30" stroke-width="0.80" stroke-linecap="round"/><path d="M578.8 242.2h0M592.2 242h0M571.7 219.3h0M595.7 224.1h0M564.8 228.9h0M591.6 235.7h0M563.7 231.6h0M575.9 242.3h0M592.9 223.6h0M575.5 218.3h0M581.6 244.6h0M587.2 244.8h0M590.4 234.6h0M579.6 243.1h0M592 241.5h0M589.4 242.2h0M580.1 216.2h0M588.7 219.9h0M595 234.1h0M593.9 221.4h0M564 230.7h0M561.6 224.2h0M594.5 230.3h0M569.3 233.5h0M570.8 239.5h0M590.3 235.1h0M575.7 241.2h0M561.7 224.9h0" stroke="#dc2c30" stroke-width="1.20" stroke-linecap="round"/>
<path d="M577.1,244.6C578,243 582.2,241.9 583.7,243C585.2,244.1 586.6,249.2 586.2,251.3C585.8,253.3 582.6,255.1 581.2,255.4C579.8,255.7 578.6,254.7 577.9,252.9C577.2,251.1 576.1,246.3 577.1,244.6Z" fill="#99358f" filter="url(#rough)"/>
<path d="M580 251.2h0M585.9 253.8h0M583.1 254h0M579.3 252.5h0M577.7 252.3h0M587.8 249.5h0M578.9 249.6h0M581.5 253.3h0M583.8 244.6h0M579.2 255.9h0M579 256.1h0M577.5 246.9h0M579.2 244.8h0M585.5 249.6h0M584.9 253.6h0M583.4 256.2h0M586 250.8h0M580.7 244.5h0M582.5 254.4h0M581.5 244.6h0M585.4 249.5h0M577.7 253.3h0M577.4 249.1h0M576.1 245.2h0M585.2 247.5h0M581.7 250.5h0M577.9 256.1h0M585.8 253.6h0M577 249.2h0M584.6 247.6h0M585.6 251.3h0M577.1 251.4h0M574.7 246.8h0M582.5 255h0" stroke="#99358f" stroke-width="0.80" stroke-linecap="round"/><path d="M583.7 252h0M576.9 255.7h0M578.6 247.7h0M580.4 255.4h0M585.9 249h0M578.8 244.2h0M580.1 256.2h0M577.5 246.7h0M577.9 246.5h0M577.1 252.8h0M583.9 241.9h0M585.3 245.7h0M583.6 238.6h0M577.7 249.3h0M585 250.8h0M579.7 253.9h0M577.4 257h0M581.7 257h0M586.2 247.2h0M586.5 249.9h0M576.8 249.1h0" stroke="#99358f" stroke-width="1.20" stroke-linecap="round"/>
<path d="M573.1,209.5C573.1,208 573.7,205.2 574.6,203.6C575.4,202 576.8,200.6 578.2,200C579.7,199.4 581.9,199.1 583.3,200C584.8,200.8 585.9,203.5 587,205.1C588.1,206.7 590,208.4 589.9,209.5C589.8,210.6 588,211.2 586.3,211.6C584.6,212.1 581.6,212.3 579.7,212.4C577.7,212.5 575.7,212.9 574.6,212.4C573.5,211.9 573.1,210.9 573.1,209.5Z" fill="#8dc9e1" filter="url(#rough)"/>
<path d="M579 211.9h0M578.3 205.6h0M577.4 204.7h0M581.2 203.4h0M579.6 202.5h0M575.5 203.9h0M584.5 205.9h0" stroke="#000" stroke-width="0.75" stroke-linecap="round"/><path d="M580.5 204.9h0M579.6 204.8h0M581.2 203.4h0M582.9 208.4h0M574.6 209.2h0M582.4 211.3h0M578.1 205.8h0M578.4 203.2h0" stroke="#000" stroke-width="1.05" stroke-linecap="round"/>
<path d="M572.4 203.6h0M584.2 212.5h0M587.8 209h0M577.5 197.1h0M582.1 200.3h0M591 208.1h0M579.6 213.6h0M572.8 208.5h0M588.9 207.6h0M581.2 201.7h0M582.4 198.9h0M581.7 212.6h0M578.4 211.4h0M585.3 212.1h0M574.3 207.8h0M577.6 200.2h0M584.3 214.5h0M578 212.9h0M576.4 213.2h0M573.7 211.9h0M587.8 210.3h0M576.5 200.1h0M584.5 200.4h0M574.7 213.2h0M580.7 209.5h0" stroke="#8dc9e1" stroke-width="0.80" stroke-linecap="round"/><path d="M586.2 212.7h0M572.1 212.6h0M585.8 206.9h0M574.5 210.7h0M579.8 211.1h0M587.4 211.6h0M572.4 206.2h0M583.9 210.1h0M579.4 211.7h0M574.1 209.4h0M573.1 207.7h0M576.4 204.2h0M574.7 210.4h0M584.7 209.7h0M584.7 212.4h0M576.3 212.4h0M586.6 203.8h0M578 200.2h0M583.7 213.3h0M574.4 209.2h0M582.8 214h0M587.3 209.5h0M588.6 211.7h0M579.2 198.7h0M583 211.6h0M580.2 213.6h0M577.1 200.2h0M575.7 211.6h0M575.3 211.3h0M591.7 207.6h0" stroke="#8dc9e1" stroke-width="1.20" stroke-linecap="round"/>
<path d="M601.1,209.8C601.7,207.3 602.9,204.7 604.4,203.1C606,201.6 608.6,200.1 610.2,200.7C611.9,201.2 613.4,203.6 614.4,206.5C615.4,209.4 616,214.5 616,218.1C616,221.7 615.8,226.1 614.4,228C613,230 609.7,230 607.8,229.7C605.8,229.4 603.9,228.3 602.8,226.4C601.7,224.4 601.4,220.8 601.1,218.1C600.8,215.3 600.6,212.3 601.1,209.8Z" fill="#a24ead" filter="url(#rough)"/>
<path d="M613.1 207.5h0M604 224.2h0M609.5 205h0M611.6 205.1h0M611.6 206.9h0M602.9 225.2h0M612.1 211.5h0M604.1 217.9h0M611.6 222h0M614 212.2h0M606.9 221h0M603.4 214.7h0M610.3 208.1h0M613.3 224.7h0M607.1 228.3h0M606.3 223.5h0" stroke="#000" stroke-width="0.75" stroke-linecap="round"/><path d="M606 215.2h0M605.7 216.2h0M603.9 211h0M607.3 210h0M609.4 217.9h0M609.4 209.4h0M605.3 218h0M603.8 222.3h0M615.6 218.7h0M611.5 221.9h0M603 216.5h0M606.4 203.8h0M607.9 220.8h0M605.2 218.6h0" stroke="#000" stroke-width="1.05" stroke-linecap="round"/>
<path d="M601.7 209.6h0M615.8 219.5h0M614.1 200.6h0M602.1 215.4h0M606.2 230.7h0M607.1 229.1h0M602.8 213.8h0M609.6 198.3h0M609.9 202.7h0M603 222.7h0M615 215h0M602.3 212.7h0M608.4 201.1h0M611 201h0M600.1 209.6h0M604.7 201.5h0M609.2 229.2h0M601.5 221.1h0M613 205h0M604 227.1h0M613.9 223.7h0M604.1 204.1h0M603.5 225.9h0M604.9 227.9h0M600.2 212.7h0M600.3 207.1h0M603.2 224.1h0M606.9 203.1h0M616.6 215.6h0" stroke="#a24ead" stroke-width="0.80" stroke-linecap="round"/><path d="M601.9 213.7h0M612.3 202.2h0M614.5 212.3h0M607.7 227.5h0M613.6 206.5h0M609.1 203.1h0M604.5 222.6h0M614.5 203.8h0M609.3 230.1h0M614.8 205.1h0M611.9 228.9h0M614.1 205.3h0M602.9 209h0M615.2 225h0M613.4 217.8h0M610.8 199.7h0M615.9 226.3h0M611 227.5h0M607.1 228.2h0M601.2 219.3h0M609.4 202.2h0M600.3 215.1h0M615 212.2h0M600.1 215.8h0M602.5 204.8h0M606.1 202.9h0" stroke="#a24ead" stroke-width="1.20" stroke-linecap="round"/>
<path d="M596.5,176.6C597.5,174.8 600.6,172.8 602.8,171.9C605,171.1 608.2,170.3 609.7,171.6C611.3,172.9 611,177 611.9,179.9C612.8,182.8 614,186.5 615.2,189C616.4,191.5 618,193 619,194.8C620.1,196.6 621.6,198.7 621.4,199.8C621.1,200.9 619.1,201.3 617.7,201.5C616.3,201.7 614.5,201.8 612.7,201.1C610.9,200.5 608.7,198.7 606.9,197.3C605.1,196 603.4,194.7 601.9,193.2C600.5,191.7 599,190 598.1,188.2C597.2,186.4 596.7,184.3 596.5,182.4C596.2,180.5 595.4,178.3 596.5,176.6Z" fill="#80c04e" filter="url(#rough)"/>
<path d="M600.6 174.3h0M608.8 195.1h0M604 174.7h0M615.6 200.1h0M610.2 177.7h0M604.7 182.7h0M606.9 189.5h0M599.8 176.5h0M615.2 189.8h0M605.1 186h0M606.8 190.1h0M601.6 183.8h0M601.5 183.6h0M610.8 188.1h0M612.8 195.2h0" stroke="#000" stroke-width="0.75" stroke-linecap="round"/><path d="M602.9 184.1h0M610.5 197.1h0M604.8 181.3h0M604.1 194.5h0M602 177.3h0M605.3 191.8h0M604.6 191.6h0M601.3 190.4h0M603 173.1h0M608.3 188.6h0" stroke="#000" stroke-width="1.05" stroke-linecap="round"/>
<path d="M596.5 177.6h0M601.5 188.6h0M619.3 200.6h0M616 184.2h0M597.4 182.2h0M597.8 183.4h0M619.5 201.5h0M602.5 198.6h0M613.1 182.8h0M611 180.2h0M608.5 197.9h0M612.7 199.6h0M620 197.5h0M597.2 181.6h0M614.3 199.1h0M602.6 188h0M614.4 189.7h0M603.5 192.1h0M597.4 180.2h0M602.4 188.6h0M593 180.9h0M602.8 173.9h0M611.6 180.2h0M611.1 202.4h0M613.9 186.4h0M610 176.4h0M597.8 181.1h0" stroke="#80c04e" stroke-width="0.80" stroke-linecap="round"/><path d="M616 197.8h0M609.8 198h0M615.3 187.7h0M595.5 179.1h0M597.6 183.9h0M598.2 185.8h0M618.8 201h0M617 202.3h0M595.7 180.6h0M617.8 203.3h0M600.3 191.7h0M596.6 188.6h0M615.7 184.6h0M600.8 193.2h0M611.2 184.5h0M608.1 170.1h0M596.8 179.3h0M621.1 197.9h0M596.8 179.3h0M608.4 201.2h0M616.3 183.7h0M618.9 199.3h0M604.4 195.5h0M615.6 187.6h0M601.3 174.6h0M598 185.7h0M597.8 189.2h0M614.4 192.7h0" stroke="#80c04e" stroke-width="1.20" stroke-linecap="round"/>
<path d="M594.9,199.2C595.5,198.4 597.4,197.8 598.4,198C599.5,198.2 600.9,199.4 601.3,200.3C601.7,201.3 601.4,203 600.7,203.8C600.1,204.6 598.2,205.2 597.3,205C596.3,204.8 595.3,203.6 594.9,202.6C594.5,201.7 594.4,199.9 594.9,199.2Z" fill="#e9a838" filter="url(#rough)"/>
<path d="M596.3 200.1h0M597 198.6h0M598.2 202.2h0M595.1 201.3h0M600.2 198h0M591.4 198.9h0M593.9 201.2h0M594 198.4h0M596 203.6h0M602.4 200h0M599 197.7h0M598.1 197.4h0M593 202.8h0M598.1 202.3h0M594.2 202.1h0M599 204.7h0M595.4 200.5h0M601.1 197.8h0M594.7 204.4h0M598.7 201.5h0M600.3 206h0M596.5 198.9h0M600.6 198.7h0M593.8 198.8h0M598.8 205.2h0M600.1 201.9h0M595.9 200.8h0M595.5 200.6h0M597 200h0" stroke="#e9a838" stroke-width="0.80" stroke-linecap="round"/><path d="M596.2 196.4h0M593.1 201.5h0M594.5 202.5h0M597.8 198.3h0M597.8 200.3h0M596.4 197.6h0M593.1 200h0M595.2 197.7h0M595.3 197.5h0M600 204h0M598.3 194.8h0M593.9 198.4h0M593.5 200.1h0M599.1 201.1h0M596.2 201.4h0M600.6 201.7h0M596.7 206.5h0M597.4 204.3h0M596 205.5h0M599.2 202h0M597.2 203h0M599.3 200.5h0M596.7 205.7h0M593.8 201.6h0M595.3 206.1h0M599.4 200.2h0" stroke="#e9a838" stroke-width="1.20" stroke-linecap="round"/>
<path d="M625.7,197.7C626.2,196.5 627.5,195.4 628,196C628.6,196.6 629.4,199.8 629.2,201.2C629,202.7 627.6,204.3 626.9,204.7C626.2,205.1 625.3,204.7 625.1,203.6C624.9,202.4 625.2,199 625.7,197.7Z" fill="#e9a838" filter="url(#rough)"/>
<path d="M628 198.6h0M630.8 203.9h0M627.3 202.5h0M628.4 192.9h0M629 199.1h0M626.6 201h0M623.4 203.8h0M627.5 199h0M628.5 201.7h0M623.7 199.6h0M628.6 200.7h0M628.2 198.7h0M630 201.9h0M627.2 205.1h0M630.3 196.9h0M630.2 196.9h0M627.4 197.1h0M626.7 198.8h0M628.9 203.2h0M627.3 196.7h0M627.3 197.7h0M624.5 197.6h0M628.5 203.4h0M627.6 194.8h0M622.9 202h0M628.3 199h0M626.5 194.3h0M627 201.2h0M627.5 204.6h0M627.3 198.3h0M626.2 204.4h0M628.9 203.5h0M626.6 197h0M628.2 198h0" stroke="#e9a838" stroke-width="0.80" stroke-linecap="round"/><path d="M628.8 201.5h0M627.8 203.5h0M627.2 203.4h0M625.7 196.8h0M625.7 202.6h0M630.7 200.4h0M628.9 199.2h0M630.7 202.5h0M626.7 196.9h0M629.3 195.4h0M628.2 201.4h0M629.8 195.9h0M630.1 205.7h0M629.6 205.2h0M627.2 202.5h0M626.8 196.2h0M628.4 200.1h0M627.2 197.1h0M629.9 197.2h0M628.4 201h0M626.9 203.3h0" stroke="#e9a838" stroke-width="1.20" stroke-linecap="round"/>
<path d="M640.5,237.4C641.1,236.3 644.2,236 645.2,236.8C646.1,237.6 646.9,241 646.3,242C645.7,243.1 642.7,244 641.7,243.2C640.7,242.4 639.9,238.4 640.5,237.4Z" fill="#e9a838" filter="url(#rough)"/>
<path d="M640 238.6h0M639.9 239.3h0M638.9 238.3h0M642.8 239.4h0M643.4 244h0M644.9 240h0M642.9 241.2h0M645.9 239.5h0M643.4 244.2h0M642.9 243.4h0M645.2 237.9h0M646.8 241.8h0M648.1 239.9h0M645.3 238.9h0M646.1 242.7h0M641.1 241.3h0M641.6 241.3h0M640.4 238.4h0M646.1 245.4h0M644.9 235.9h0M646.3 235.9h0M641.7 244.4h0M640.8 242.2h0M644.7 242.3h0M646.2 242.9h0" stroke="#e9a838" stroke-width="0.80" stroke-linecap="round"/><path d="M642.4 233.6h0M640.9 244.2h0M645.5 238.1h0M647.2 241.9h0M639.9 236.9h0M642 243.2h0M647.3 238.6h0M648.7 240.3h0M638.5 236.6h0M644.1 239.3h0M645.3 239h0M642.2 242h0M640.3 241.4h0M639.4 237.7h0M644 241h0M641.6 238.6h0M647.1 240.6h0M645.4 240.8h0M641.3 240.4h0M645 240h0M642.3 239.9h0M641.3 241.7h0M640.4 237.8h0M645.1 239.2h0M642 244h0M648.2 235.8h0M643.3 238.2h0M644.1 244.7h0M644.8 241.5h0M646.9 241.1h0" stroke="#e9a838" stroke-width="1.20" stroke-linecap="round"/>
<path d="M626 221.8h0M629 236.4h0M639.3 231.5h0M652.1 225.5h0M638.9 212.3h0M645.8 225.4h0M622.1 212.6h0M630.9 239h0M632.4 246.4h0" stroke="#a8a6a7" stroke-width="0.75" stroke-linecap="round"/><path d="M642.7 244h0M632.8 242.9h0M639.4 245.7h0M642.2 203.4h0M616.4 219.1h0M625.6 233.6h0M636.7 244.3h0M650.3 219.3h0M627.8 243.5h0M622.4 215.5h0M632.6 216.5h0M646.6 230.2h0M618.9 233.2h0M635.7 240.8h0M645 244.6h0M650.5 228.3h0" stroke="#a8a6a7" stroke-width="1.05" stroke-linecap="round"/>
<path d="M622.1 231.2h0M609.9 230.1h0M617.1 228h0M621.8 238.7h0M621.4 239.8h0M623.5 236.4h0M618.7 232.8h0M614.5 234.8h0M617.2 229.5h0M614.1 238.7h0M623.5 239.6h0M621.6 230.9h0M618.1 237.4h0M613 228.6h0M623.7 241.9h0M616.4 240.5h0M613.4 234.8h0M623.3 242.1h0M621.7 241.3h0M625.6 240.1h0M618.8 237.4h0M615.1 238.8h0M625.5 242.4h0M611.7 233.3h0M616.7 233.6h0M613.6 238.2h0M613.3 232.2h0M611.6 235.8h0M619.1 230.7h0M620.2 242.6h0M611.3 226.2h0M610.6 227h0M622.7 239.2h0M626 240.9h0" stroke="#d8d8da" stroke-width="0.90" stroke-linecap="round"/><path d="M611.6 230.2h0M610.8 232.8h0M617.5 237h0M610.4 231.2h0M621.8 233h0M613 226.1h0M623.5 240.3h0M625.6 240.4h0M613.7 233.4h0M617.4 231.5h0M614.5 236.3h0M612.4 227.5h0M611.6 232.8h0M618.4 236h0M616.6 233h0M617 230.1h0M610.4 233.3h0M624.8 237.5h0M617.8 237.3h0M614.4 229.3h0M610 230.6h0M624.1 241.7h0M618.2 228.8h0M616 228.1h0M621.7 241.4h0M611.9 233.2h0M609 230.4h0M612.8 235.7h0M618.9 230.5h0M620.4 236.1h0M616.5 226.9h0M615.5 228.5h0M620 239.7h0M612.8 235h0M619.4 237.3h0M614.2 233.6h0" stroke="#d8d8da" stroke-width="1.30" stroke-linecap="round"/>
<path d="M604.5 266.7h0M587.4 251.9h0M604.8 233.7h0M601.8 267.9h0M585.1 263h0M615.8 242.3h0M608.2 236.6h0M599.5 231h0M610.7 255.8h0M586.3 250.7h0M614.2 246.5h0M582.9 259.1h0M612.8 254.5h0M604.2 230.7h0M583.8 253.7h0M602.7 228.5h0M608.3 259.3h0M583.9 267.9h0M610 256.9h0M612.1 235.8h0M611.6 239.4h0M610.3 258.9h0M600.2 231.9h0M614.4 253.8h0M584.5 262.3h0M598.8 229.8h0" stroke="#d8d8da" stroke-width="0.77" stroke-linecap="round"/><path d="M593.3 241.4h0M602 226.5h0M589.6 267.4h0M602.3 236h0M582.5 266.9h0M592.4 240.5h0M585.5 260.1h0M590.2 266.5h0M603.1 269.4h0M583.5 259.1h0M613.7 237.5h0M608.4 250.8h0M582.8 266h0M584.2 251.3h0M600.2 268.2h0M585.7 258h0M610.9 231h0M612.4 247.9h0M582 267.6h0M582.6 260.4h0M608.8 255.4h0M593.8 239.8h0M611.3 236h0M588 266.8h0M584.9 268.9h0M584 268.7h0M604.1 231.3h0M610.1 227.9h0M608.4 251.3h0M610.2 237.9h0M595.8 265.6h0M582.5 266.5h0M609.1 259.8h0M608.8 261.5h0" stroke="#d8d8da" stroke-width="1.12" stroke-linecap="round"/>
<line x1="21.8" y1="27" x2="21.8" y2="134.8" stroke="#c4c4c4" stroke-width="1"/>
<line x1="21.3" y1="134.8" x2="127.2" y2="134.8" stroke="#c4c4c4" stroke-width="1"/>
<text x="35.4" y="142.1" font-size="9" fill="#f0f0f0" text-anchor="middle" stroke="#f0f0f0" stroke-width="0.3">−10</text>
<text x="56.8" y="142.1" font-size="9" fill="#f0f0f0" text-anchor="middle" stroke="#f0f0f0" stroke-width="0.3">−5</text>
<text x="78.2" y="142.1" font-size="9" fill="#f0f0f0" text-anchor="middle" stroke="#f0f0f0" stroke-width="0.3">0</text>
<text x="99.6" y="142.1" font-size="9" fill="#f0f0f0" text-anchor="middle" stroke="#f0f0f0" stroke-width="0.3">5</text>
<text x="121" y="142.1" font-size="9" fill="#f0f0f0" text-anchor="middle" stroke="#f0f0f0" stroke-width="0.3">10</text>
<text x="74.2" y="22.8" font-size="10.5" fill="#f0f0f0" text-anchor="middle" stroke="#f0f0f0" stroke-width="0.3">Nonaneurysmal-1</text>
<line x1="128.9" y1="134.8" x2="234.4" y2="134.8" stroke="#c4c4c4" stroke-width="1"/>
<text x="142.6" y="142.1" font-size="9" fill="#f0f0f0" text-anchor="middle" stroke="#f0f0f0" stroke-width="0.3">−10</text>
<text x="164" y="142.1" font-size="9" fill="#f0f0f0" text-anchor="middle" stroke="#f0f0f0" stroke-width="0.3">−5</text>
<text x="185.4" y="142.1" font-size="9" fill="#f0f0f0" text-anchor="middle" stroke="#f0f0f0" stroke-width="0.3">0</text>
<text x="206.8" y="142.1" font-size="9" fill="#f0f0f0" text-anchor="middle" stroke="#f0f0f0" stroke-width="0.3">5</text>
<text x="228.2" y="142.1" font-size="9" fill="#f0f0f0" text-anchor="middle" stroke="#f0f0f0" stroke-width="0.3">10</text>
<text x="179.5" y="22.8" font-size="10.5" fill="#f0f0f0" text-anchor="middle" stroke="#f0f0f0" stroke-width="0.3">Nonaneurysmal-2</text>
<line x1="236.1" y1="134.8" x2="341.6" y2="134.8" stroke="#c4c4c4" stroke-width="1"/>
<text x="249.8" y="142.1" font-size="9" fill="#f0f0f0" text-anchor="middle" stroke="#f0f0f0" stroke-width="0.3">−10</text>
<text x="271.2" y="142.1" font-size="9" fill="#f0f0f0" text-anchor="middle" stroke="#f0f0f0" stroke-width="0.3">−5</text>
<text x="292.6" y="142.1" font-size="9" fill="#f0f0f0" text-anchor="middle" stroke="#f0f0f0" stroke-width="0.3">0</text>
<text x="314" y="142.1" font-size="9" fill="#f0f0f0" text-anchor="middle" stroke="#f0f0f0" stroke-width="0.3">5</text>
<text x="335.4" y="142.1" font-size="9" fill="#f0f0f0" text-anchor="middle" stroke="#f0f0f0" stroke-width="0.3">10</text>
<text x="289.7" y="22.8" font-size="10.5" fill="#f0f0f0" text-anchor="middle" stroke="#f0f0f0" stroke-width="0.3">Nonaneurysmal-3</text>
<line x1="343.3" y1="134.8" x2="448.8" y2="134.8" stroke="#c4c4c4" stroke-width="1"/>
<text x="357" y="142.1" font-size="9" fill="#f0f0f0" text-anchor="middle" stroke="#f0f0f0" stroke-width="0.3">−10</text>
<text x="378.4" y="142.1" font-size="9" fill="#f0f0f0" text-anchor="middle" stroke="#f0f0f0" stroke-width="0.3">−5</text>
<text x="399.8" y="142.1" font-size="9" fill="#f0f0f0" text-anchor="middle" stroke="#f0f0f0" stroke-width="0.3">0</text>
<text x="421.2" y="142.1" font-size="9" fill="#f0f0f0" text-anchor="middle" stroke="#f0f0f0" stroke-width="0.3">5</text>
<text x="442.6" y="142.1" font-size="9" fill="#f0f0f0" text-anchor="middle" stroke="#f0f0f0" stroke-width="0.3">10</text>
<text x="382.4" y="22.8" font-size="10.5" fill="#f0f0f0" text-anchor="middle" stroke="#f0f0f0" stroke-width="0.3">IgG4</text>
<text x="19.5" y="56.2" font-size="9" fill="#f0f0f0" text-anchor="end" stroke="#f0f0f0" stroke-width="0.3">5</text>
<text x="19.5" y="88.2" font-size="9" fill="#f0f0f0" text-anchor="end" stroke="#f0f0f0" stroke-width="0.3">0</text>
<text x="19.5" y="120.2" font-size="9" fill="#f0f0f0" text-anchor="end" stroke="#f0f0f0" stroke-width="0.3">−5</text>
<line x1="21.8" y1="165.5" x2="21.8" y2="273.8" stroke="#c4c4c4" stroke-width="1"/>
<line x1="21.3" y1="273.8" x2="127.2" y2="273.8" stroke="#c4c4c4" stroke-width="1"/>
<text x="35.4" y="281.1" font-size="9" fill="#f0f0f0" text-anchor="middle" stroke="#f0f0f0" stroke-width="0.3">−10</text>
<text x="56.8" y="281.1" font-size="9" fill="#f0f0f0" text-anchor="middle" stroke="#f0f0f0" stroke-width="0.3">−5</text>
<text x="78.2" y="281.1" font-size="9" fill="#f0f0f0" text-anchor="middle" stroke="#f0f0f0" stroke-width="0.3">0</text>
<text x="99.6" y="281.1" font-size="9" fill="#f0f0f0" text-anchor="middle" stroke="#f0f0f0" stroke-width="0.3">5</text>
<text x="121" y="281.1" font-size="9" fill="#f0f0f0" text-anchor="middle" stroke="#f0f0f0" stroke-width="0.3">10</text>
<text x="71.9" y="166.9" font-size="10.5" fill="#f0f0f0" text-anchor="middle" stroke="#f0f0f0" stroke-width="0.3">GCA-1 (R1)</text>
<line x1="128.9" y1="273.8" x2="234.4" y2="273.8" stroke="#c4c4c4" stroke-width="1"/>
<text x="142.6" y="281.1" font-size="9" fill="#f0f0f0" text-anchor="middle" stroke="#f0f0f0" stroke-width="0.3">−10</text>
<text x="164" y="281.1" font-size="9" fill="#f0f0f0" text-anchor="middle" stroke="#f0f0f0" stroke-width="0.3">−5</text>
<text x="185.4" y="281.1" font-size="9" fill="#f0f0f0" text-anchor="middle" stroke="#f0f0f0" stroke-width="0.3">0</text>
<text x="206.8" y="281.1" font-size="9" fill="#f0f0f0" text-anchor="middle" stroke="#f0f0f0" stroke-width="0.3">5</text>
<text x="228.2" y="281.1" font-size="9" fill="#f0f0f0" text-anchor="middle" stroke="#f0f0f0" stroke-width="0.3">10</text>
<text x="174" y="166.9" font-size="10.5" fill="#f0f0f0" text-anchor="middle" stroke="#f0f0f0" stroke-width="0.3">GCA-1 (R2)</text>
<line x1="236.1" y1="273.8" x2="341.6" y2="273.8" stroke="#c4c4c4" stroke-width="1"/>
<text x="249.8" y="281.1" font-size="9" fill="#f0f0f0" text-anchor="middle" stroke="#f0f0f0" stroke-width="0.3">−10</text>
<text x="271.2" y="281.1" font-size="9" fill="#f0f0f0" text-anchor="middle" stroke="#f0f0f0" stroke-width="0.3">−5</text>
<text x="292.6" y="281.1" font-size="9" fill="#f0f0f0" text-anchor="middle" stroke="#f0f0f0" stroke-width="0.3">0</text>
<text x="314" y="281.1" font-size="9" fill="#f0f0f0" text-anchor="middle" stroke="#f0f0f0" stroke-width="0.3">5</text>
<text x="335.4" y="281.1" font-size="9" fill="#f0f0f0" text-anchor="middle" stroke="#f0f0f0" stroke-width="0.3">10</text>
<text x="282.8" y="166.9" font-size="10.5" fill="#f0f0f0" text-anchor="middle" stroke="#f0f0f0" stroke-width="0.3">GCA-2 (R1)</text>
<line x1="343.3" y1="273.8" x2="448.8" y2="273.8" stroke="#c4c4c4" stroke-width="1"/>
<text x="357" y="281.1" font-size="9" fill="#f0f0f0" text-anchor="middle" stroke="#f0f0f0" stroke-width="0.3">−10</text>
<text x="378.4" y="281.1" font-size="9" fill="#f0f0f0" text-anchor="middle" stroke="#f0f0f0" stroke-width="0.3">−5</text>
<text x="399.8" y="281.1" font-size="9" fill="#f0f0f0" text-anchor="middle" stroke="#f0f0f0" stroke-width="0.3">0</text>
<text x="421.2" y="281.1" font-size="9" fill="#f0f0f0" text-anchor="middle" stroke="#f0f0f0" stroke-width="0.3">5</text>
<text x="442.6" y="281.1" font-size="9" fill="#f0f0f0" text-anchor="middle" stroke="#f0f0f0" stroke-width="0.3">10</text>
<text x="383.1" y="166.9" font-size="10.5" fill="#f0f0f0" text-anchor="middle" stroke="#f0f0f0" stroke-width="0.3">GCA-2 (R2)</text>
<line x1="450.5" y1="273.8" x2="556" y2="273.8" stroke="#c4c4c4" stroke-width="1"/>
<text x="464.2" y="281.1" font-size="9" fill="#f0f0f0" text-anchor="middle" stroke="#f0f0f0" stroke-width="0.3">−10</text>
<text x="485.6" y="281.1" font-size="9" fill="#f0f0f0" text-anchor="middle" stroke="#f0f0f0" stroke-width="0.3">−5</text>
<text x="507" y="281.1" font-size="9" fill="#f0f0f0" text-anchor="middle" stroke="#f0f0f0" stroke-width="0.3">0</text>
<text x="528.4" y="281.1" font-size="9" fill="#f0f0f0" text-anchor="middle" stroke="#f0f0f0" stroke-width="0.3">5</text>
<text x="549.8" y="281.1" font-size="9" fill="#f0f0f0" text-anchor="middle" stroke="#f0f0f0" stroke-width="0.3">10</text>
<text x="499" y="166.9" font-size="10.5" fill="#f0f0f0" text-anchor="middle" stroke="#f0f0f0" stroke-width="0.3">GCA-3 (R1)</text>
<line x1="557.7" y1="273.8" x2="663.2" y2="273.8" stroke="#c4c4c4" stroke-width="1"/>
<text x="571.4" y="281.1" font-size="9" fill="#f0f0f0" text-anchor="middle" stroke="#f0f0f0" stroke-width="0.3">−10</text>
<text x="592.8" y="281.1" font-size="9" fill="#f0f0f0" text-anchor="middle" stroke="#f0f0f0" stroke-width="0.3">−5</text>
<text x="614.2" y="281.1" font-size="9" fill="#f0f0f0" text-anchor="middle" stroke="#f0f0f0" stroke-width="0.3">0</text>
<text x="635.6" y="281.1" font-size="9" fill="#f0f0f0" text-anchor="middle" stroke="#f0f0f0" stroke-width="0.3">5</text>
<text x="657" y="281.1" font-size="9" fill="#f0f0f0" text-anchor="middle" stroke="#f0f0f0" stroke-width="0.3">10</text>
<text x="602.3" y="166.9" font-size="10.5" fill="#f0f0f0" text-anchor="middle" stroke="#f0f0f0" stroke-width="0.3">GCA-3 (R2)</text>
<text x="19.5" y="195.2" font-size="9" fill="#f0f0f0" text-anchor="end" stroke="#f0f0f0" stroke-width="0.3">5</text>
<text x="19.5" y="227.2" font-size="9" fill="#f0f0f0" text-anchor="end" stroke="#f0f0f0" stroke-width="0.3">0</text>
<text x="19.5" y="259.2" font-size="9" fill="#f0f0f0" text-anchor="end" stroke="#f0f0f0" stroke-width="0.3">−5</text>
<text x="13.3" y="159.5" font-size="10.8" fill="#f0f0f0" text-anchor="middle" transform="rotate(-90 13.3 159.5)" stroke="#f0f0f0" stroke-width="0.3">UMAP2</text>
<text x="329" y="298.3" font-size="10.8" fill="#f0f0f0" text-anchor="middle" stroke="#f0f0f0" stroke-width="0.3">UMAP1</text>
<circle cx="459.5" cy="14.5" r="5" fill="#6b6969"/>
<text x="471" y="18.4" font-size="10.7" fill="#f0f0f0" stroke="#f0f0f0" stroke-width="0.3">Smooth Muscle Cell (SMC)</text>
<circle cx="459.5" cy="44" r="5" fill="#e6e6e6"/>
<text x="471" y="47.9" font-size="10.7" fill="#f0f0f0" stroke="#f0f0f0" stroke-width="0.3">Myeloid</text>
<circle cx="563.5" cy="44" r="5" fill="#9dd2e6"/>
<text x="575" y="47.9" font-size="10.7" fill="#f0f0f0" stroke="#f0f0f0" stroke-width="0.3">B Cell</text>
<circle cx="459.5" cy="73.8" r="5" fill="#dc3a3a"/>
<text x="471" y="77.7" font-size="10.7" fill="#f0f0f0" stroke="#f0f0f0" stroke-width="0.3">T Cell</text>
<circle cx="563.5" cy="73.8" r="5" fill="#efb13c"/>
<text x="575" y="77.7" font-size="10.7" fill="#f0f0f0" stroke="#f0f0f0" stroke-width="0.3">Adipocyte</text>
<circle cx="459.5" cy="103.3" r="5" fill="#b763b7"/>
<text x="471" y="107.2" font-size="10.7" fill="#f0f0f0" stroke="#f0f0f0" stroke-width="0.3">Fibroblast</text>
<circle cx="563.5" cy="103.3" r="5" fill="#a52a72"/>
<text x="575" y="107.2" font-size="10.7" fill="#f0f0f0" stroke="#f0f0f0" stroke-width="0.3">Prolif. Myeloid</text>
<circle cx="459.5" cy="132.8" r="5" fill="#86c353"/>
<text x="471" y="136.7" font-size="10.7" fill="#f0f0f0" stroke="#f0f0f0" stroke-width="0.3">Endothelial</text>
<circle cx="563.5" cy="132.8" r="5" fill="#5f8d90"/>
<text x="575" y="136.7" font-size="10.7" fill="#f0f0f0" stroke="#f0f0f0" stroke-width="0.3">Schwann</text>
<text x="9.7" y="325" font-size="12.5" fill="#000" text-anchor="middle" font-weight="bold" stroke="#000" stroke-width="0.3">B</text>
<path d="M43,322.6V316.4M68.2,322.6V316.4M93.4,322.6V316.4M118.6,322.6V316.4M143.8,322.6V316.4M169,322.6V316.4M194.2,322.6V316.4M219.4,322.6V316.4M244.6,322.6V316.4M43,333.1V326.8M68.2,333.1V326.8M93.4,333.1V326.8M118.6,333.1V326.8M143.8,333.1V326.8M169,333.1V326.8M194.2,333.1V326.8M219.4,333.1V326.8M244.6,333.1V326.8M43,343.6V337.3M68.2,343.6V337.3M93.4,343.6V337.3M118.6,343.6V337.3M143.8,343.6V337.3M169,343.6V337.3M194.2,343.6V337.3M219.4,343.6V337.3M244.6,343.6V337.3M43,354V347.7M68.2,354V347.7M93.4,354V347.7M118.6,354V347.7M143.8,354V347.7M169,354V347.7M194.2,354V347.7M219.4,354V347.7M244.6,354V347.7M43,364.4V358.2M68.2,364.4V358.2M93.4,364.4V358.2M118.6,364.4V358.2M143.8,364.4V358.2M169,364.4V358.2M194.2,364.4V358.2M219.4,364.4V358.2M244.6,364.4V358.2M43,374.9V368.6M68.2,374.9V368.6M93.4,374.9V368.6M118.6,374.9V368.6M143.8,374.9V368.6M169,374.9V368.6M194.2,374.9V368.6M219.4,374.9V368.6M244.6,374.9V368.6M43,385.3V379.1M68.2,385.3V379.1M93.4,385.3V379.1M118.6,385.3V379.1M143.8,385.3V379.1M169,385.3V379.1M194.2,385.3V379.1M219.4,385.3V379.1M244.6,385.3V379.1M43,395.8V389.5M68.2,395.8V389.5M93.4,395.8V389.5M118.6,395.8V389.5M143.8,395.8V389.5M169,395.8V389.5M194.2,395.8V389.5M219.4,395.8V389.5M244.6,395.8V389.5M43,406.2V400M68.2,406.2V400M93.4,406.2V400M118.6,406.2V400M143.8,406.2V400M169,406.2V400M194.2,406.2V400M219.4,406.2V400M244.6,406.2V400M43,416.7V410.4M68.2,416.7V410.4M93.4,416.7V410.4M118.6,416.7V410.4M143.8,416.7V410.4M169,416.7V410.4M194.2,416.7V410.4M219.4,416.7V410.4M244.6,416.7V410.4M43,427.1V420.9M68.2,427.1V420.9M93.4,427.1V420.9M118.6,427.1V420.9M143.8,427.1V420.9M169,427.1V420.9M194.2,427.1V420.9M219.4,427.1V420.9M244.6,427.1V420.9M43,437.6V431.3M68.2,437.6V431.3M93.4,437.6V431.3M118.6,437.6V431.3M143.8,437.6V431.3M169,437.6V431.3M194.2,437.6V431.3M219.4,437.6V431.3M244.6,437.6V431.3M43,448V441.8M68.2,448V441.8M93.4,448V441.8M118.6,448V441.8M143.8,448V441.8M169,448V441.8M194.2,448V441.8M219.4,448V441.8M244.6,448V441.8M43,458.5V452.2M68.2,458.5V452.2M93.4,458.5V452.2M118.6,458.5V452.2M143.8,458.5V452.2M169,458.5V452.2M194.2,458.5V452.2M219.4,458.5V452.2M244.6,458.5V452.2M43,468.9V462.7M68.2,468.9V462.7M93.4,468.9V462.7M118.6,468.9V462.7M143.8,468.9V462.7M169,468.9V462.7M194.2,468.9V462.7M219.4,468.9V462.7M244.6,468.9V462.7M43,479.4V473.1M68.2,479.4V473.1M93.4,479.4V473.1M118.6,479.4V473.1M143.8,479.4V473.1M169,479.4V473.1M194.2,479.4V473.1M219.4,479.4V473.1M244.6,479.4V473.1M43,489.8V483.6M68.2,489.8V483.6M93.4,489.8V483.6M118.6,489.8V483.6M143.8,489.8V483.6M169,489.8V483.6M194.2,489.8V483.6M219.4,489.8V483.6M244.6,489.8V483.6M43,500.3V494M68.2,500.3V494M93.4,500.3V494M118.6,500.3V494M143.8,500.3V494M169,500.3V494M194.2,500.3V494M219.4,500.3V494M244.6,500.3V494" stroke="#5a5a5a" stroke-width="0.7" fill="none"/>
<path d="M43,312.2V500.3M68.2,312.2V500.3M93.4,312.2V500.3M118.6,312.2V500.3M143.8,312.2V500.3M169,312.2V500.3M194.2,312.2V500.3M219.4,312.2V500.3M244.6,312.2V500.3" stroke="#e2e2e2" stroke-width="0.5" fill="none"/>
<path d="M28.5,312.2H258.5M28.5,322.6H258.5M28.5,333.1H258.5M28.5,343.6H258.5M28.5,354H258.5M28.5,364.4H258.5M28.5,374.9H258.5M28.5,385.3H258.5M28.5,395.8H258.5M28.5,406.2H258.5M28.5,416.7H258.5M28.5,427.1H258.5M28.5,437.6H258.5M28.5,448H258.5M28.5,458.5H258.5M28.5,468.9H258.5M28.5,479.4H258.5M28.5,489.8H258.5M28.5,500.3H258.5" stroke="#6a6a6a" stroke-width="0.8" fill="none"/>
<path d="M28.5,312.2V500.3M258.5,312.2V500.3" stroke="#6a6a6a" stroke-width="0.8" fill="none"/>
<path d="M25.9,313.8H28.5M25.9,316.4H28.5M25.9,319H28.5M25.9,321.6H28.5M25.9,324.2H28.5M25.9,326.8H28.5M25.9,329.4H28.5M25.9,332.1H28.5M25.9,334.7H28.5M25.9,337.3H28.5M25.9,339.9H28.5M25.9,342.5H28.5M25.9,345.1H28.5M25.9,347.7H28.5M25.9,350.3H28.5M25.9,353H28.5M25.9,355.6H28.5M25.9,358.2H28.5M25.9,360.8H28.5M25.9,363.4H28.5M25.9,366H28.5M25.9,368.6H28.5M25.9,371.2H28.5M25.9,373.9H28.5M25.9,376.5H28.5M25.9,379.1H28.5M25.9,381.7H28.5M25.9,384.3H28.5M25.9,386.9H28.5M25.9,389.5H28.5M25.9,392.1H28.5M25.9,394.8H28.5M25.9,397.4H28.5M25.9,400H28.5M25.9,402.6H28.5M25.9,405.2H28.5M25.9,407.8H28.5M25.9,410.4H28.5M25.9,413H28.5M25.9,415.7H28.5M25.9,418.3H28.5M25.9,420.9H28.5M25.9,423.5H28.5M25.9,426.1H28.5M25.9,428.7H28.5M25.9,431.3H28.5M25.9,433.9H28.5M25.9,436.6H28.5M25.9,439.2H28.5M25.9,441.8H28.5M25.9,444.4H28.5M25.9,447H28.5M25.9,449.6H28.5M25.9,452.2H28.5M25.9,454.8H28.5M25.9,457.5H28.5M25.9,460.1H28.5M25.9,462.7H28.5M25.9,465.3H28.5M25.9,467.9H28.5M25.9,470.5H28.5M25.9,473.1H28.5M25.9,475.7H28.5M25.9,478.4H28.5M25.9,481H28.5M25.9,483.6H28.5M25.9,486.2H28.5M25.9,488.8H28.5M25.9,491.4H28.5M25.9,494H28.5M25.9,496.6H28.5M25.9,499.3H28.5" stroke="#777" stroke-width="0.6" fill="none"/>
<path d="M43,500.3V503.3M68.2,500.3V503.3M93.4,500.3V503.3M118.6,500.3V503.3M143.8,500.3V503.3M169,500.3V503.3M194.2,500.3V503.3M219.4,500.3V503.3M244.6,500.3V503.3" stroke="#555" stroke-width="0.8" fill="none"/>
<path d="M43.8,322.3 L46.3,321.1 L51.2,319.6 L54,318.2 L52,316.5 L47.6,314.9 L44.3,313.6 L43.5,312.7 L43.3,312.2 L42.7,312.2 L42.5,312.7 L41.7,313.6 L38.4,314.9 L34,316.5 L32,318.2 L34.8,319.6 L39.7,321.1 L42.2,322.3Z" fill="#b8b8b8" stroke="#3a3a3a" stroke-width="0.7" stroke-linejoin="round"/>
<path d="M150.8,322.3 L146.7,322 L145.1,321.5 L144.2,321.3 L145,321.3 L144.7,321 L144.8,318.6 L144.3,316 L143.9,313.8 L144.3,312.4 L144.1,311.9 L143.5,311.9 L143.3,312.4 L143.7,313.8 L143.3,316 L142.8,318.6 L142.9,321 L142.6,321.3 L143.4,321.3 L142.5,321.5 L140.9,322 L136.8,322.3Z" fill="#b8b8b8" stroke="#3a3a3a" stroke-width="0.7" stroke-linejoin="round"/>
<path d="M195,322.3 L197,321.3 L201.3,320 L203.7,318.7 L202,316.8 L198.2,314.9 L195.3,313.4 L194.7,312.4 L194.5,311.9 L193.9,311.9 L193.7,312.4 L193.1,313.4 L190.2,314.9 L186.4,316.8 L184.7,318.7 L187.1,320 L191.3,321.3 L193.4,322.3Z" fill="#b8b8b8" stroke="#3a3a3a" stroke-width="0.7" stroke-linejoin="round"/>
<path d="M46,332.8 L44.3,332.4 L43.5,332 L44.5,331.8 L46.8,331.4 L48,330.7 L47.1,328.7 L45.1,326.6 L43.6,324.9 L43.5,323.9 L43.3,323.4 L42.7,323.4 L42.5,323.9 L42.4,324.9 L40.9,326.6 L38.9,328.7 L38,330.7 L39.2,331.4 L41.5,331.8 L42.5,332 L41.7,332.4 L40,332.8Z" fill="#b8b8b8" stroke="#3a3a3a" stroke-width="0.7" stroke-linejoin="round"/>
<path d="M197.2,332.8 L195.5,332.4 L194.7,332 L195.5,331.8 L197.6,331.1 L198.7,330.2 L197.9,328.1 L196.1,326.1 L194.7,324.4 L194.7,323.4 L194.5,322.9 L193.9,322.9 L193.7,323.4 L193.7,324.4 L192.3,326.1 L190.5,328.1 L189.7,330.2 L190.8,331.1 L192.8,331.8 L193.7,332 L192.9,332.4 L191.2,332.8Z" fill="#b8b8b8" stroke="#3a3a3a" stroke-width="0.7" stroke-linejoin="round"/>
<path d="M69,343.2 L71.2,342 L75.6,340.5 L78.1,339.1 L76.3,337.8 L72.4,336.6 L69.4,335.5 L68.7,334.9 L68.5,334.4 L67.9,334.4 L67.7,334.9 L67,335.5 L64,336.6 L60.1,337.8 L58.3,339.1 L60.8,340.5 L65.2,342 L67.4,343.2Z" fill="#b8b8b8" stroke="#3a3a3a" stroke-width="0.7" stroke-linejoin="round"/>
<path d="M99.4,343.2 L95.9,342.9 L94.5,342.4 L94.2,342.2 L95.4,341.9 L96,341.2 L95.5,339.3 L94.5,337.4 L93.7,335.8 L93.9,334.9 L93.7,334.4 L93.1,334.4 L92.9,334.9 L93.1,335.8 L92.3,337.4 L91.3,339.3 L90.8,341.2 L91.5,341.9 L92.6,342.2 L92.3,342.4 L90.9,342.9 L87.4,343.2Z" fill="#b8b8b8" stroke="#3a3a3a" stroke-width="0.7" stroke-linejoin="round"/>
<path d="M174,343.2 L171.1,342.9 L169.9,342.4 L169.8,342.2 L171.1,341.9 L171.8,341.2 L171.3,339.3 L170.2,337.4 L169.3,335.8 L169.5,334.9 L169.3,334.4 L168.7,334.4 L168.5,334.9 L168.7,335.8 L167.8,337.4 L166.7,339.3 L166.2,341.2 L166.9,341.9 L168.2,342.2 L168.1,342.4 L166.9,342.9 L164,343.2Z" fill="#b8b8b8" stroke="#3a3a3a" stroke-width="0.7" stroke-linejoin="round"/>
<path d="M220.2,343.2 L222.6,342 L227.3,340.5 L229.9,339.1 L228,337.8 L223.8,336.6 L220.7,335.5 L219.9,334.9 L219.7,334.4 L219.1,334.4 L218.9,334.9 L218.1,335.5 L215,336.6 L210.8,337.8 L208.9,339.1 L211.5,340.5 L216.2,342 L218.6,343.2Z" fill="#b8b8b8" stroke="#3a3a3a" stroke-width="0.7" stroke-linejoin="round"/>
<path d="M75.2,353.7 L71.1,353.3 L69.5,352.9 L69.5,352.7 L71.6,352.3 L72.7,351.6 L71.9,350.2 L70.1,348.8 L68.7,347.6 L68.7,346.9 L68.5,346.4 L67.9,346.4 L67.7,346.9 L67.7,347.6 L66.3,348.8 L64.5,350.2 L63.7,351.6 L64.8,352.3 L66.9,352.7 L66.9,352.9 L65.3,353.3 L61.2,353.7Z" fill="#b8b8b8" stroke="#3a3a3a" stroke-width="0.7" stroke-linejoin="round"/>
<path d="M226.4,353.7 L222.3,353.3 L220.7,352.9 L220.9,352.7 L223.2,352 L224.4,351.1 L223.5,349.7 L221.5,348.3 L220,347.1 L219.9,346.4 L219.7,345.9 L219.1,345.9 L218.9,346.4 L218.8,347.1 L217.3,348.3 L215.3,349.7 L214.4,351.1 L215.7,352 L217.9,352.7 L218.1,352.9 L216.5,353.3 L212.4,353.7Z" fill="#b8b8b8" stroke="#3a3a3a" stroke-width="0.7" stroke-linejoin="round"/>
<path d="M98.4,364.1 L95.5,363.8 L94.3,363.3 L95.1,363 L97.5,361.6 L98.9,360.2 L97.9,358.9 L95.7,357.5 L94.1,356.4 L93.9,355.8 L93.7,355.3 L93.1,355.3 L92.9,355.8 L92.7,356.4 L91.1,357.5 L88.9,358.9 L87.9,360.2 L89.3,361.6 L91.8,363 L92.5,363.3 L91.3,363.8 L88.4,364.1Z" fill="#b8b8b8" stroke="#3a3a3a" stroke-width="0.7" stroke-linejoin="round"/>
<path d="M100.4,374.6 L96.3,374.2 L94.7,373.8 L94.6,373.6 L96.4,372.6 L97.4,371.5 L96.7,370.1 L95.1,368.6 L93.9,367.5 L93.9,366.8 L93.7,366.2 L93.1,366.2 L92.9,366.8 L92.9,367.5 L91.7,368.6 L90.1,370.1 L89.4,371.5 L90.4,372.6 L92.2,373.6 L92.1,373.8 L90.5,374.2 L86.4,374.6Z" fill="#b8b8b8" stroke="#3a3a3a" stroke-width="0.7" stroke-linejoin="round"/>
<path d="M123.6,385 L120.7,384.7 L119.5,384.2 L120.4,383.8 L123.1,382.3 L124.6,380.9 L123.5,379.6 L121.1,378.4 L119.3,377.3 L119.1,376.7 L118.9,376.2 L118.3,376.2 L118.1,376.7 L117.9,377.3 L116.1,378.4 L113.7,379.6 L112.6,380.9 L114.1,382.3 L116.8,383.8 L117.7,384.2 L116.5,384.7 L113.6,385Z" fill="#b8b8b8" stroke="#3a3a3a" stroke-width="0.7" stroke-linejoin="round"/>
<path d="M125.6,395.5 L121.5,395.1 L119.9,394.7 L119.8,394.5 L121.6,393.6 L122.6,392.6 L121.9,391.3 L120.3,389.9 L119.1,388.8 L119.1,388.2 L118.9,387.7 L118.3,387.7 L118.1,388.2 L118.1,388.8 L116.9,389.9 L115.3,391.3 L114.6,392.6 L115.6,393.6 L117.4,394.5 L117.3,394.7 L115.7,395.1 L111.6,395.5Z" fill="#b8b8b8" stroke="#3a3a3a" stroke-width="0.7" stroke-linejoin="round"/>
<path d="M149.8,405.9 L146.3,405.6 L144.9,405.1 L145.2,404.8 L147.2,403.4 L148.3,402 L147.5,400.8 L145.7,399.7 L144.3,398.7 L144.3,398.1 L144.1,397.6 L143.5,397.6 L143.3,398.1 L143.3,398.7 L141.9,399.7 L140.1,400.8 L139.3,402 L140.4,403.4 L142.5,404.8 L142.7,405.1 L141.3,405.6 L137.8,405.9Z" fill="#b8b8b8" stroke="#3a3a3a" stroke-width="0.7" stroke-linejoin="round"/>
<path d="M149.8,416.4 L146.3,416 L144.9,415.6 L145,415.4 L146.8,414.2 L147.8,413.1 L147.1,411.9 L145.5,410.7 L144.3,409.7 L144.3,409.1 L144.1,408.6 L143.5,408.6 L143.3,409.1 L143.3,409.7 L142.1,410.7 L140.5,411.9 L139.8,413.1 L140.8,414.2 L142.6,415.4 L142.7,415.6 L141.3,416 L137.8,416.4Z" fill="#b8b8b8" stroke="#3a3a3a" stroke-width="0.7" stroke-linejoin="round"/>
<path d="M169.8,426.8 L172.3,425.1 L177.2,423.1 L180,421.1 L178,419.8 L173.6,418.6 L170.3,417.5 L169.5,416.9 L169.3,416.4 L168.7,416.4 L168.5,416.9 L167.7,417.5 L164.4,418.6 L160,419.8 L158,421.1 L160.8,423.1 L165.7,425.1 L168.2,426.8Z" fill="#b8b8b8" stroke="#3a3a3a" stroke-width="0.7" stroke-linejoin="round"/>
<path d="M169.8,437.3 L172.3,436 L177.2,434.4 L180,432.9 L178,431.2 L173.6,429.5 L170.3,428 L169.5,427.2 L169.3,426.8 L168.7,426.8 L168.5,427.2 L167.7,428 L164.4,429.5 L160,431.2 L158,432.9 L160.8,434.4 L165.7,436 L168.2,437.3Z" fill="#b8b8b8" stroke="#3a3a3a" stroke-width="0.7" stroke-linejoin="round"/>
<path d="M98.4,437.3 L95.5,436.9 L94.3,436.5 L94,436.3 L94.9,435.9 L95.4,435.7 L95,433.4 L94.2,431 L93.6,429.1 L93.9,427.9 L93.7,427.4 L93.1,427.4 L92.9,427.9 L93.2,429.1 L92.6,431 L91.8,433.4 L91.4,435.7 L91.9,435.9 L92.8,436.3 L92.5,436.5 L91.3,436.9 L88.4,437.3Z" fill="#b8b8b8" stroke="#3a3a3a" stroke-width="0.7" stroke-linejoin="round"/>
<path d="M195,447.7 L195.4,446.2 L197.7,444.6 L205.2,443.9 L198,443.4 L198.4,442 L196.2,440.2 L194.7,438.6 L194.5,437.8 L193.9,437.8 L193.7,438.6 L192.2,440.2 L190,442 L190.4,443.4 L183.2,443.9 L190.7,444.6 L193,446.2 L193.4,447.7Z" fill="#b8b8b8" stroke="#3a3a3a" stroke-width="0.7" stroke-linejoin="round"/>
<path d="M203.2,458.2 L197.7,457.8 L196.8,457.2 L197,455.1 L196.8,453 L196,451.7 L195,450.7 L194.5,448.8 L193.9,448.8 L193.4,450.7 L192.4,451.7 L191.6,453 L191.4,455.1 L191.6,457.2 L190.7,457.8 L185.2,458.2Z" fill="#b8b8b8" stroke="#3a3a3a" stroke-width="0.7" stroke-linejoin="round"/>
<path d="M228.4,468.6 L223.2,468.3 L221,467.8 L221.7,467.2 L225,465.6 L226.9,463.9 L225.6,462.5 L222.6,461 L220.3,459.8 L219.9,459 L219.7,458.5 L219.1,458.5 L218.9,459 L218.5,459.8 L216.2,461 L213.2,462.5 L211.9,463.9 L213.8,465.6 L217.2,467.2 L217.8,467.8 L215.6,468.3 L210.4,468.6Z" fill="#b8b8b8" stroke="#3a3a3a" stroke-width="0.7" stroke-linejoin="round"/>
<path d="M229.4,479.1 L223.6,478.7 L221.2,478.3 L220.9,478.1 L223.2,477.1 L224.4,476 L223.5,474.1 L221.5,472.2 L220,470.6 L219.9,469.7 L219.7,469.2 L219.1,469.2 L218.9,469.7 L218.8,470.6 L217.3,472.2 L215.3,474.1 L214.4,476 L215.7,477.1 L217.9,478.1 L217.6,478.3 L215.2,478.7 L209.4,479.1Z" fill="#b8b8b8" stroke="#3a3a3a" stroke-width="0.7" stroke-linejoin="round"/>
<path d="M245.4,489.5 L248,487.3 L253.2,484.7 L256.1,482 L254,481.2 L249.4,480.4 L246,479.7 L245.1,479.3 L244.9,479.1 L244.3,479.1 L244.1,479.3 L243.2,479.7 L239.8,480.4 L235.2,481.2 L233.1,482 L236,484.7 L241.2,487.3 L243.8,489.5Z" fill="#b8b8b8" stroke="#3a3a3a" stroke-width="0.7" stroke-linejoin="round"/>
<path d="M127.6,489.5 L122.4,489.2 L120.2,488.7 L119.3,488.5 L120.2,488.2 L120.8,487.5 L120.4,486.2 L119.5,485 L118.9,483.9 L119.1,483.3 L118.9,482.8 L118.3,482.8 L118.1,483.3 L118.3,483.9 L117.7,485 L116.8,486.2 L116.4,487.5 L116.9,488.2 L117.9,488.5 L117,488.7 L114.8,489.2 L109.6,489.5Z" fill="#b8b8b8" stroke="#3a3a3a" stroke-width="0.7" stroke-linejoin="round"/>
<path d="M248.6,500 L246.3,499.6 L245.3,499.2 L247.8,499 L252.5,498.6 L255.1,498.1 L253.2,495.7 L249,493.3 L245.9,491.3 L245.1,490.1 L244.9,489.5 L244.3,489.5 L244.1,490.1 L243.3,491.3 L240.2,493.3 L236,495.7 L234.1,498.1 L236.7,498.6 L241.4,499 L243.9,499.2 L242.9,499.6 L240.6,500Z" fill="#b8b8b8" stroke="#3a3a3a" stroke-width="0.7" stroke-linejoin="round"/>
<text x="262.6" y="321.2" font-size="10.6" fill="#111" font-style="italic" stroke="#111" stroke-width="0.3">MYH11</text>
<text x="262.6" y="331.7" font-size="10.6" fill="#111" font-style="italic" stroke="#111" stroke-width="0.3">CNN1</text>
<text x="262.6" y="342.1" font-size="10.6" fill="#111" font-style="italic" stroke="#111" stroke-width="0.3">CD14</text>
<text x="262.6" y="352.6" font-size="10.6" fill="#111" font-style="italic" stroke="#111" stroke-width="0.3">FCGR3A</text>
<text x="262.6" y="363" font-size="10.6" fill="#111" font-style="italic" stroke="#111" stroke-width="0.3">TRAC</text>
<text x="262.6" y="373.5" font-size="10.6" fill="#111" font-style="italic" stroke="#111" stroke-width="0.3">IL7R</text>
<text x="262.6" y="383.9" font-size="10.6" fill="#111" font-style="italic" stroke="#111" stroke-width="0.3">FBLN1</text>
<text x="262.6" y="394.4" font-size="10.6" fill="#111" font-style="italic" stroke="#111" stroke-width="0.3">SFRP4</text>
<text x="262.6" y="404.8" font-size="10.6" fill="#111" font-style="italic" stroke="#111" stroke-width="0.3">VWF</text>
<text x="262.6" y="415.3" font-size="10.6" fill="#111" font-style="italic" stroke="#111" stroke-width="0.3">CD34</text>
<text x="262.6" y="425.7" font-size="10.6" fill="#111" font-style="italic" stroke="#111" stroke-width="0.3">MZB1</text>
<text x="262.6" y="436.2" font-size="10.6" fill="#111" font-style="italic" stroke="#111" stroke-width="0.3">CD79A</text>
<text x="262.6" y="446.6" font-size="10.6" fill="#111" font-style="italic" stroke="#111" stroke-width="0.3">TIMP4</text>
<text x="262.6" y="457.1" font-size="10.6" fill="#111" font-style="italic" stroke="#111" stroke-width="0.3">PLIN4</text>
<text x="262.6" y="467.5" font-size="10.6" fill="#111" font-style="italic" stroke="#111" stroke-width="0.3">MKI67</text>
<text x="262.6" y="478" font-size="10.6" fill="#111" font-style="italic" stroke="#111" stroke-width="0.3">CDK1</text>
<text x="262.6" y="488.4" font-size="10.6" fill="#111" font-style="italic" stroke="#111" stroke-width="0.3">PMP22</text>
<text x="262.6" y="498.9" font-size="10.6" fill="#111" font-style="italic" stroke="#111" stroke-width="0.3">LGI4</text>
<text x="44.2" y="509.3" font-size="10.6" fill="#111" text-anchor="end" transform="rotate(-45 44.2 509.3)" stroke="#111" stroke-width="0.3">SMC</text>
<text x="69.4" y="509.3" font-size="10.6" fill="#111" text-anchor="end" transform="rotate(-45 69.4 509.3)" stroke="#111" stroke-width="0.3">Myeloid</text>
<text x="94.6" y="509.3" font-size="10.6" fill="#111" text-anchor="end" transform="rotate(-45 94.6 509.3)" stroke="#111" stroke-width="0.3">T Cell</text>
<text x="119.8" y="509.3" font-size="10.6" fill="#111" text-anchor="end" transform="rotate(-45 119.8 509.3)" stroke="#111" stroke-width="0.3">Fibroblast</text>
<text x="145" y="509.3" font-size="10.6" fill="#111" text-anchor="end" transform="rotate(-45 145 509.3)" stroke="#111" stroke-width="0.3">Endothelial</text>
<text x="170.2" y="509.3" font-size="10.6" fill="#111" text-anchor="end" transform="rotate(-45 170.2 509.3)" stroke="#111" stroke-width="0.3">B Cell</text>
<text x="195.4" y="509.3" font-size="10.6" fill="#111" text-anchor="end" transform="rotate(-45 195.4 509.3)" stroke="#111" stroke-width="0.3">Adipocyte</text>
<text x="220.6" y="509.3" font-size="10.6" fill="#111" text-anchor="end" transform="rotate(-45 220.6 509.3)" stroke="#111" stroke-width="0.3">Prolif.Myeloid</text>
<text x="245.8" y="509.3" font-size="10.6" fill="#111" text-anchor="end" transform="rotate(-45 245.8 509.3)" stroke="#111" stroke-width="0.3">Schwann</text>
<text x="20.5" y="407" font-size="10.6" fill="#111" text-anchor="middle" transform="rotate(-90 20.5 407)" stroke="#111" stroke-width="0.3">Expression Level</text>
<text x="321" y="324" font-size="12.5" fill="#000" text-anchor="middle" font-weight="bold" stroke="#000" stroke-width="0.3">C</text>
<text x="444.5" y="325.4" font-size="10.6" fill="#111" text-anchor="middle" stroke="#111" stroke-width="0.3">Cluster Distribution (%)</text>
<rect x="352" y="375" width="18.6" height="93" fill="#5e5e5e"/>
<rect x="352" y="371.2" width="18.6" height="3.8" fill="#d2d2d2"/>
<rect x="352" y="370.2" width="18.6" height="1" fill="#d3222a"/>
<rect x="352" y="369.7" width="18.6" height="0.5" fill="#a3205c"/>
<rect x="352" y="363.4" width="18.6" height="6.3" fill="#b15aa6"/>
<rect x="352" y="352.8" width="18.6" height="10.6" fill="#7cb94b"/>
<rect x="352" y="345.6" width="18.6" height="7.2" fill="#f3c089"/>
<rect x="352" y="341.8" width="18.6" height="3.8" fill="#7d9aa2"/>
<rect x="380.1" y="390" width="18.6" height="78" fill="#5e5e5e"/>
<rect x="380.1" y="384.8" width="18.6" height="5.2" fill="#d2d2d2"/>
<rect x="380.1" y="381" width="18.6" height="3.8" fill="#d3222a"/>
<rect x="380.1" y="372.7" width="18.6" height="8.3" fill="#b15aa6"/>
<rect x="380.1" y="350" width="18.6" height="22.7" fill="#7cb94b"/>
<rect x="380.1" y="343.8" width="18.6" height="6.2" fill="#f3c089"/>
<rect x="380.1" y="341.8" width="18.6" height="2" fill="#7d9aa2"/>
<rect x="408.2" y="381" width="18.6" height="87" fill="#5e5e5e"/>
<rect x="408.2" y="374.5" width="18.6" height="6.5" fill="#d2d2d2"/>
<rect x="408.2" y="371.2" width="18.6" height="3.3" fill="#d3222a"/>
<rect x="408.2" y="363.4" width="18.6" height="7.8" fill="#b15aa6"/>
<rect x="408.2" y="348.9" width="18.6" height="14.5" fill="#7cb94b"/>
<rect x="408.2" y="345.6" width="18.6" height="3.3" fill="#f3c089"/>
<rect x="408.2" y="341.8" width="18.6" height="3.8" fill="#7d9aa2"/>
<rect x="436.3" y="413.8" width="18.6" height="54.2" fill="#5e5e5e"/>
<rect x="436.3" y="384.4" width="18.6" height="29.4" fill="#d2d2d2"/>
<rect x="436.3" y="372.8" width="18.6" height="11.6" fill="#d3222a"/>
<rect x="436.3" y="357.4" width="18.6" height="15.4" fill="#b15aa6"/>
<rect x="436.3" y="351.3" width="18.6" height="6.1" fill="#7cb94b"/>
<rect x="436.3" y="345.8" width="18.6" height="5.5" fill="#8dcfe0"/>
<rect x="436.3" y="343.6" width="18.6" height="2.2" fill="#7d9aa2"/>
<rect x="436.3" y="341.8" width="18.6" height="1.8" fill="#a3205c"/>
<rect x="464.4" y="405.5" width="18.6" height="62.5" fill="#5e5e5e"/>
<rect x="464.4" y="384" width="18.6" height="21.5" fill="#d2d2d2"/>
<rect x="464.4" y="373.2" width="18.6" height="10.8" fill="#d3222a"/>
<rect x="464.4" y="365.7" width="18.6" height="7.5" fill="#b15aa6"/>
<rect x="464.4" y="355.7" width="18.6" height="10" fill="#7cb94b"/>
<rect x="464.4" y="344.6" width="18.6" height="11.1" fill="#8dcfe0"/>
<rect x="464.4" y="341.8" width="18.6" height="2.8" fill="#a3205c"/>
<rect x="492.5" y="425.4" width="18.6" height="42.6" fill="#5e5e5e"/>
<rect x="492.5" y="393.9" width="18.6" height="31.5" fill="#d2d2d2"/>
<rect x="492.5" y="374" width="18.6" height="19.9" fill="#d3222a"/>
<rect x="492.5" y="358.2" width="18.6" height="15.8" fill="#b15aa6"/>
<rect x="492.5" y="348.3" width="18.6" height="9.9" fill="#7cb94b"/>
<rect x="492.5" y="343.5" width="18.6" height="4.8" fill="#8dcfe0"/>
<rect x="492.5" y="341.8" width="18.6" height="1.7" fill="#a3205c"/>
<rect x="520.6" y="466.5" width="18.6" height="1.5" fill="#5e5e5e"/>
<rect x="520.6" y="416.3" width="18.6" height="50.2" fill="#d2d2d2"/>
<rect x="520.6" y="386.4" width="18.6" height="29.9" fill="#d3222a"/>
<rect x="520.6" y="372.3" width="18.6" height="14.1" fill="#b15aa6"/>
<rect x="520.6" y="365.7" width="18.6" height="6.6" fill="#7cb94b"/>
<rect x="520.6" y="345.3" width="18.6" height="20.4" fill="#8dcfe0"/>
<rect x="520.6" y="341.8" width="18.6" height="3.5" fill="#a3205c"/>
<path d="M341.8,341.8V468.0H545" stroke="#222" stroke-width="1" fill="none"/>
<path d="M337.6,341.8H341.8" stroke="#222" stroke-width="1"/>
<text x="336.2" y="345.6" font-size="10.6" fill="#111" text-anchor="end" stroke="#111" stroke-width="0.3">100</text>
<path d="M337.6,404.9H341.8" stroke="#222" stroke-width="1"/>
<text x="336.2" y="408.7" font-size="10.6" fill="#111" text-anchor="end" stroke="#111" stroke-width="0.3">50</text>
<path d="M337.6,468H341.8" stroke="#222" stroke-width="1"/>
<text x="336.2" y="471.8" font-size="10.6" fill="#111" text-anchor="end" stroke="#111" stroke-width="0.3">0</text>
<path d="M361.3,468.0V472.5" stroke="#222" stroke-width="1"/>
<text x="364.8" y="482.5" font-size="10.6" fill="#111" text-anchor="end" transform="rotate(-45 364.8 482.5)" stroke="#111" stroke-width="0.3">Nonaneurysmal-1</text>
<path d="M389.4,468.0V472.5" stroke="#222" stroke-width="1"/>
<text x="392.9" y="482.5" font-size="10.6" fill="#111" text-anchor="end" transform="rotate(-45 392.9 482.5)" stroke="#111" stroke-width="0.3">Nonaneurysmal-2</text>
<path d="M417.5,468.0V472.5" stroke="#222" stroke-width="1"/>
<text x="421" y="482.5" font-size="10.6" fill="#111" text-anchor="end" transform="rotate(-45 421 482.5)" stroke="#111" stroke-width="0.3">Nonaneurysmal-3</text>
<path d="M445.6,468.0V472.5" stroke="#222" stroke-width="1"/>
<text x="449.1" y="482.5" font-size="10.6" fill="#111" text-anchor="end" transform="rotate(-45 449.1 482.5)" stroke="#111" stroke-width="0.3">GCA-1</text>
<path d="M473.7,468.0V472.5" stroke="#222" stroke-width="1"/>
<text x="477.2" y="482.5" font-size="10.6" fill="#111" text-anchor="end" transform="rotate(-45 477.2 482.5)" stroke="#111" stroke-width="0.3">GCA-2</text>
<path d="M501.8,468.0V472.5" stroke="#222" stroke-width="1"/>
<text x="505.3" y="482.5" font-size="10.6" fill="#111" text-anchor="end" transform="rotate(-45 505.3 482.5)" stroke="#111" stroke-width="0.3">GCA-3</text>
<path d="M529.9,468.0V472.5" stroke="#222" stroke-width="1"/>
<text x="533.4" y="482.5" font-size="10.6" fill="#111" text-anchor="end" transform="rotate(-45 533.4 482.5)" stroke="#111" stroke-width="0.3">IgG4</text>
<rect x="551.7" y="341.1" width="14.4" height="7" fill="#5e5e5e"/>
<text x="571.2" y="348.5" font-size="10.6" fill="#111" stroke="#111" stroke-width="0.3">SMC</text>
<rect x="551.7" y="359.5" width="14.4" height="7" fill="#d2d2d2"/>
<text x="571.2" y="366.9" font-size="10.6" fill="#111" stroke="#111" stroke-width="0.3">Myeloid</text>
<rect x="551.7" y="377.9" width="14.4" height="7" fill="#d3222a"/>
<text x="571.2" y="385.3" font-size="10.6" fill="#111" stroke="#111" stroke-width="0.3">T Cell</text>
<rect x="551.7" y="396.3" width="14.4" height="7" fill="#b15aa6"/>
<text x="571.2" y="403.7" font-size="10.6" fill="#111" stroke="#111" stroke-width="0.3">Fibroblast</text>
<rect x="551.7" y="414.7" width="14.4" height="7" fill="#7cb94b"/>
<text x="571.2" y="422.1" font-size="10.6" fill="#111" stroke="#111" stroke-width="0.3">Endothelial</text>
<rect x="551.7" y="433.1" width="14.4" height="7" fill="#8dcfe0"/>
<text x="571.2" y="440.4" font-size="10.6" fill="#111" stroke="#111" stroke-width="0.3">B Cell</text>
<rect x="551.7" y="451.4" width="14.4" height="7" fill="#f3c089"/>
<text x="571.2" y="458.8" font-size="10.6" fill="#111" stroke="#111" stroke-width="0.3">Adipocyte</text>
<rect x="551.7" y="469.8" width="14.4" height="7" fill="#a3205c"/>
<text x="571.2" y="477.2" font-size="10.6" fill="#111" stroke="#111" stroke-width="0.3">Prolif.Myeloid</text>
<rect x="551.7" y="488.2" width="14.4" height="7" fill="#7d9aa2"/>
<text x="571.2" y="495.6" font-size="10.6" fill="#111" stroke="#111" stroke-width="0.3">Schwann</text>
<defs><filter id="spW" x="0" y="0" width="1" height="1" filterUnits="objectBoundingBox" color-interpolation-filters="sRGB"><feTurbulence type="fractalNoise" baseFrequency="1.3" numOctaves="2" seed="4"/><feColorMatrix type="matrix" values="0 0 0 0 1.000  0 0 0 0 1.000  0 0 0 0 1.000  0 0 0 6 -3.1"/><feGaussianBlur stdDeviation="0.45"/><feComposite in2="SourceGraphic" operator="in"/></filter><filter id="spK" x="0" y="0" width="1" height="1" filterUnits="objectBoundingBox" color-interpolation-filters="sRGB"><feTurbulence type="fractalNoise" baseFrequency="1.2" numOctaves="2" seed="11"/><feColorMatrix type="matrix" values="0 0 0 0 0.000  0 0 0 0 0.000  0 0 0 0 0.000  0 0 0 6 -3.0"/><feGaussianBlur stdDeviation="0.45"/><feComposite in2="SourceGraphic" operator="in"/></filter><filter id="spY" x="0" y="0" width="1" height="1" filterUnits="objectBoundingBox" color-interpolation-filters="sRGB"><feTurbulence type="fractalNoise" baseFrequency="1.1" numOctaves="2" seed="5"/><feColorMatrix type="matrix" values="0 0 0 0 0.784  0 0 0 0 0.725  0 0 0 0 0.314  0 0 0 7 -3.9"/><feGaussianBlur stdDeviation="0.45"/><feComposite in2="SourceGraphic" operator="in"/></filter><filter id="spG" x="0" y="0" width="1" height="1" filterUnits="objectBoundingBox" color-interpolation-filters="sRGB"><feTurbulence type="fractalNoise" baseFrequency="1.0" numOctaves="2" seed="8"/><feColorMatrix type="matrix" values="0 0 0 0 0.588  0 0 0 0 0.745  0 0 0 0 0.353  0 0 0 7 -3.4"/><feGaussianBlur stdDeviation="0.45"/><feComposite in2="SourceGraphic" operator="in"/></filter><filter id="spR" x="0" y="0" width="1" height="1" filterUnits="objectBoundingBox" color-interpolation-filters="sRGB"><feTurbulence type="fractalNoise" baseFrequency="1.0" numOctaves="2" seed="9"/><feColorMatrix type="matrix" values="0 0 0 0 0.686  0 0 0 0 0.216  0 0 0 0 0.333  0 0 0 6 -2.8"/><feGaussianBlur stdDeviation="0.45"/><feComposite in2="SourceGraphic" operator="in"/></filter><filter id="spP" x="0" y="0" width="1" height="1" filterUnits="objectBoundingBox" color-interpolation-filters="sRGB"><feTurbulence type="fractalNoise" baseFrequency="1.2" numOctaves="2" seed="13"/><feColorMatrix type="matrix" values="0 0 0 0 0.922  0 0 0 0 0.784  0 0 0 0 0.882  0 0 0 6 -3.1"/><feGaussianBlur stdDeviation="0.45"/><feComposite in2="SourceGraphic" operator="in"/></filter><filter id="spE" x="0" y="0" width="1" height="1" filterUnits="objectBoundingBox" color-interpolation-filters="sRGB"><feTurbulence type="fractalNoise" baseFrequency="1.0" numOctaves="2" seed="21"/><feColorMatrix type="matrix" values="0 0 0 0 1.000  0 0 0 0 1.000  0 0 0 0 1.000  0 0 0 6 -2.9"/><feGaussianBlur stdDeviation="0.35"/><feComposite in2="SourceGraphic" operator="in"/></filter><filter id="spS" x="0" y="0" width="1" height="1" filterUnits="objectBoundingBox" color-interpolation-filters="sRGB"><feTurbulence type="fractalNoise" baseFrequency="0.1 0.8" numOctaves="2" seed="31"/><feColorMatrix type="matrix" values="0 0 0 0 1.000  0 0 0 0 1.000  0 0 0 0 1.000  0 0 0 6 -3.0"/><feGaussianBlur stdDeviation="0.35"/><feComposite in2="SourceGraphic" operator="in"/></filter><filter id="spRR" x="0" y="0" width="1" height="1" filterUnits="objectBoundingBox" color-interpolation-filters="sRGB"><feTurbulence type="fractalNoise" baseFrequency="0.9" numOctaves="2" seed="41"/><feColorMatrix type="matrix" values="0 0 0 0 0.894  0 0 0 0 0.471  0 0 0 0 0.392  0 0 0 7 -4.0"/><feGaussianBlur stdDeviation="0.45"/><feComposite in2="SourceGraphic" operator="in"/></filter><filter id="spRS" x="0" y="0" width="1" height="1" filterUnits="objectBoundingBox" color-interpolation-filters="sRGB"><feTurbulence type="fractalNoise" baseFrequency="0.05 0.45" numOctaves="2" seed="71"/><feColorMatrix type="matrix" values="0 0 0 0 0.886  0 0 0 0 0.431  0 0 0 0 0.345  0 0 0 5 -2.7"/><feGaussianBlur stdDeviation="0.4"/><feComposite in2="SourceGraphic" operator="in"/></filter><filter id="spB" x="0" y="0" width="1" height="1" filterUnits="objectBoundingBox" color-interpolation-filters="sRGB"><feTurbulence type="fractalNoise" baseFrequency="0.25 0.4" numOctaves="2" seed="51"/><feColorMatrix type="matrix" values="0 0 0 0 1.000  0 0 0 0 0.973  0 0 0 0 0.961  0 0 0 5 -2.6"/><feGaussianBlur stdDeviation="0.6"/><feComposite in2="SourceGraphic" operator="in"/></filter><filter id="spG2" x="0" y="0" width="1" height="1" filterUnits="objectBoundingBox" color-interpolation-filters="sRGB"><feTurbulence type="fractalNoise" baseFrequency="0.08 0.7" numOctaves="2" seed="61"/><feColorMatrix type="matrix" values="0 0 0 0 0.784  0 0 0 0 0.784  0 0 0 0 0.784  0 0 0 6 -3.3"/><feGaussianBlur stdDeviation="0.3"/><feComposite in2="SourceGraphic" operator="in"/></filter></defs>
<rect x="0" y="558" width="663" height="125.5" fill="#262426"/><rect x="0" y="682" width="663" height="1" fill="#161516"/><rect x="0" y="558" width="663" height="0.8" fill="#1a191a"/>
<rect x="0" y="558" width="21" height="21" fill="#fff"/>
<text x="10" y="573" font-size="12.5" fill="#000" text-anchor="middle" font-weight="bold" stroke="#000" stroke-width="0.3">D</text>
<circle cx="156.3" cy="570.7" r="5.2" fill="#6a6868"/>
<text x="164.6" y="574.5" font-size="10.6" fill="#ececec" stroke="#ececec" stroke-width="0.3">SMC</text>
<circle cx="213.3" cy="570.7" r="5.2" fill="#e6e6e6"/>
<text x="221.6" y="574.5" font-size="10.6" fill="#ececec" stroke="#ececec" stroke-width="0.3">Myeloid</text>
<circle cx="283.5" cy="570.5" r="5.2" fill="#d8393c"/>
<text x="291.8" y="575.3" font-size="13.4" fill="#ececec" stroke="#ececec" stroke-width="0.3">T Cell</text>
<circle cx="344.6" cy="570.7" r="5.2" fill="#b861b4"/>
<text x="352.9" y="574.5" font-size="10.6" fill="#ececec" stroke="#ececec" stroke-width="0.3">Fibroblast</text>
<circle cx="432.3" cy="570.7" r="5.2" fill="#86c24f"/>
<text x="440.6" y="574.5" font-size="10.6" fill="#ececec" stroke="#ececec" stroke-width="0.3">Endothelial</text>
<circle cx="178" cy="590.7" r="5.2" fill="#a4d6e8"/>
<text x="186.3" y="594.5" font-size="10.6" fill="#ececec" stroke="#ececec" stroke-width="0.3">B Cell</text>
<circle cx="239.1" cy="590.7" r="5.2" fill="#eeb03a"/>
<text x="247.4" y="594.5" font-size="10.6" fill="#ececec" stroke="#ececec" stroke-width="0.3">Adipocyte</text>
<circle cx="320.3" cy="590.9" r="5.2" fill="#a8287a"/>
<text x="328.6" y="594.7" font-size="10.6" fill="#ececec" stroke="#ececec" stroke-width="0.3">Prolif. Myeloid</text>
<circle cx="437.5" cy="590.9" r="5.2" fill="#5f8f92"/>
<text x="445.8" y="594.7" font-size="10.6" fill="#ececec" stroke="#ececec" stroke-width="0.3">Schwann</text>
<text x="52.4" y="618.4" font-size="10.6" fill="#ececec" text-anchor="middle" stroke="#ececec" stroke-width="0.3">Nonaneurysmal-1</text>
<text x="145.8" y="618.4" font-size="10.6" fill="#ececec" text-anchor="middle" stroke="#ececec" stroke-width="0.3">Nonaneurysmal-2</text>
<text x="240.8" y="618.4" font-size="10.6" fill="#ececec" text-anchor="middle" stroke="#ececec" stroke-width="0.3">Nonaneurysmal-3</text>
<text x="332" y="618.4" font-size="10.6" fill="#ececec" text-anchor="middle" stroke="#ececec" stroke-width="0.3">GCA-1 (R1)</text>
<text x="416.3" y="618.4" font-size="10.6" fill="#ececec" text-anchor="middle" stroke="#ececec" stroke-width="0.3">GCA-2 (R1)</text>
<text x="513.9" y="618.4" font-size="10.6" fill="#ececec" text-anchor="middle" stroke="#ececec" stroke-width="0.3">GCA-3 (R1)</text>
<text x="615" y="618.4" font-size="10.6" fill="#ececec" text-anchor="middle" stroke="#ececec" stroke-width="0.3">IgG4</text>
<path d="M8.7,625.6C9.5,622 12.2,624.3 15,624C17.8,623.7 26,623.5 30,623.3C34,623.1 41,622.7 45,622.5C49,622.3 55.9,621.8 60,621.8C64.1,621.8 70.5,622.2 75.4,622.5C80.3,622.8 93.6,621.7 96.5,624C99.4,626.3 97.5,635.8 97.5,640C97.5,644.2 97.4,653.4 96.5,655.7C95.6,658 93.3,656.9 90.5,657.2C87.7,657.5 79.4,658 75.4,658C71.4,658 64.3,657.5 60.3,657.2C56.3,656.9 49.2,656.3 45.2,655.7C41.2,655.1 34.2,653.4 30.2,652.7C26.2,652 17.8,650.6 15,650.4C12.2,650.2 9.8,654.5 9,651.2C8.2,647.9 7.9,629.2 8.7,625.6Z" fill="#767378"/><path d="M8.7,625.6C9.5,622 12.2,624.3 15,624C17.8,623.7 26,623.5 30,623.3C34,623.1 41,622.7 45,622.5C49,622.3 55.9,621.8 60,621.8C64.1,621.8 70.5,622.2 75.4,622.5C80.3,622.8 93.6,621.7 96.5,624C99.4,626.3 97.5,635.8 97.5,640C97.5,644.2 97.4,653.4 96.5,655.7C95.6,658 93.3,656.9 90.5,657.2C87.7,657.5 79.4,658 75.4,658C71.4,658 64.3,657.5 60.3,657.2C56.3,656.9 49.2,656.3 45.2,655.7C41.2,655.1 34.2,653.4 30.2,652.7C26.2,652 17.8,650.6 15,650.4C12.2,650.2 9.8,654.5 9,651.2C8.2,647.9 7.9,629.2 8.7,625.6Z" fill="#000" opacity="0.3" filter="url(#spK)"/><path d="M8.7,625.6C9.5,622 12.2,624.3 15,624C17.8,623.7 26,623.5 30,623.3C34,623.1 41,622.7 45,622.5C49,622.3 55.9,621.8 60,621.8C64.1,621.8 70.5,622.2 75.4,622.5C80.3,622.8 93.6,621.7 96.5,624C99.4,626.3 97.5,635.8 97.5,640C97.5,644.2 97.4,653.4 96.5,655.7C95.6,658 93.3,656.9 90.5,657.2C87.7,657.5 79.4,658 75.4,658C71.4,658 64.3,657.5 60.3,657.2C56.3,656.9 49.2,656.3 45.2,655.7C41.2,655.1 34.2,653.4 30.2,652.7C26.2,652 17.8,650.6 15,650.4C12.2,650.2 9.8,654.5 9,651.2C8.2,647.9 7.9,629.2 8.7,625.6Z" fill="#fff" opacity="0.18" filter="url(#spW)"/>
<path d="M8.7,625.6C9.5,624.8 12.2,624.3 15,624C17.8,623.7 26,623.5 30,623.3C34,623.1 41,622.7 45,622.5C49,622.3 55.9,621.8 60,621.8C64.1,621.8 70.5,622.2 75.4,622.5C80.3,622.8 93.6,621.6 96.5,624C99.4,626.4 99,638.5 96.8,640.6C94.6,642.7 84.9,639.8 80,639.5C75.1,639.2 64.7,638.9 60,638.6C55.3,638.3 49,638.1 45,637.6C41,637.1 34,635.3 30,634.5C26,633.7 17.8,632.1 15,631.5C12.2,630.9 9.8,630.8 9,630C8.2,629.2 7.9,626.4 8.7,625.6Z" fill="#34312a"/><path d="M8.7,625.6C9.5,624.8 12.2,624.3 15,624C17.8,623.7 26,623.5 30,623.3C34,623.1 41,622.7 45,622.5C49,622.3 55.9,621.8 60,621.8C64.1,621.8 70.5,622.2 75.4,622.5C80.3,622.8 93.6,621.6 96.5,624C99.4,626.4 99,638.5 96.8,640.6C94.6,642.7 84.9,639.8 80,639.5C75.1,639.2 64.7,638.9 60,638.6C55.3,638.3 49,638.1 45,637.6C41,637.1 34,635.3 30,634.5C26,633.7 17.8,632.1 15,631.5C12.2,630.9 9.8,630.8 9,630C8.2,629.2 7.9,626.4 8.7,625.6Z" fill="#000" opacity="0.5" filter="url(#spK)"/><path d="M8.7,625.6C9.5,624.8 12.2,624.3 15,624C17.8,623.7 26,623.5 30,623.3C34,623.1 41,622.7 45,622.5C49,622.3 55.9,621.8 60,621.8C64.1,621.8 70.5,622.2 75.4,622.5C80.3,622.8 93.6,621.6 96.5,624C99.4,626.4 99,638.5 96.8,640.6C94.6,642.7 84.9,639.8 80,639.5C75.1,639.2 64.7,638.9 60,638.6C55.3,638.3 49,638.1 45,637.6C41,637.1 34,635.3 30,634.5C26,633.7 17.8,632.1 15,631.5C12.2,630.9 9.8,630.8 9,630C8.2,629.2 7.9,626.4 8.7,625.6Z" fill="#fff" opacity="0.1" filter="url(#spW)"/><path d="M8.7,625.6C9.5,624.8 12.2,624.3 15,624C17.8,623.7 26,623.5 30,623.3C34,623.1 41,622.7 45,622.5C49,622.3 55.9,621.8 60,621.8C64.1,621.8 70.5,622.2 75.4,622.5C80.3,622.8 93.6,621.6 96.5,624C99.4,626.4 99,638.5 96.8,640.6C94.6,642.7 84.9,639.8 80,639.5C75.1,639.2 64.7,638.9 60,638.6C55.3,638.3 49,638.1 45,637.6C41,637.1 34,635.3 30,634.5C26,633.7 17.8,632.1 15,631.5C12.2,630.9 9.8,630.8 9,630C8.2,629.2 7.9,626.4 8.7,625.6Z" fill="#fff" opacity="0.55" filter="url(#spY)"/><path d="M8.7,625.6C9.5,624.8 12.2,624.3 15,624C17.8,623.7 26,623.5 30,623.3C34,623.1 41,622.7 45,622.5C49,622.3 55.9,621.8 60,621.8C64.1,621.8 70.5,622.2 75.4,622.5C80.3,622.8 93.6,621.6 96.5,624C99.4,626.4 99,638.5 96.8,640.6C94.6,642.7 84.9,639.8 80,639.5C75.1,639.2 64.7,638.9 60,638.6C55.3,638.3 49,638.1 45,637.6C41,637.1 34,635.3 30,634.5C26,633.7 17.8,632.1 15,631.5C12.2,630.9 9.8,630.8 9,630C8.2,629.2 7.9,626.4 8.7,625.6Z" fill="#fff" opacity="0.3" filter="url(#spG)"/>
<path d="M9,627 Q20,626 32,628 L30,636 Q20,634 9,632Z" fill="#7a7878" opacity="0.5"/>
<ellipse cx="81" cy="636.5" rx="3.2" ry="2.6" fill="#7ab0c4" opacity="0.8"/>
<path d="M103.8,629.3C105.2,627.6 111.5,627.5 113.6,627.8C115.7,628.1 117.4,630.9 119.6,631.6C121.8,632.3 127.4,633 130.2,633.1C133,633.2 138.1,632.1 140.7,632.3C143.3,632.5 147.2,633.9 149.8,634.6C152.4,635.3 157.3,637.4 160.3,637.6C163.3,637.8 169.2,636.4 172.4,636.1C175.6,635.8 182.1,635.4 184.5,635.4C186.9,635.4 189.6,634.8 190.5,636.1C191.4,637.4 192.1,643.2 191.3,645.2C190.5,647.2 187,649.8 184.5,651.2C182,652.6 175.6,654.5 172.4,655.7C169.2,656.9 163.9,659.2 160.3,660.2C156.7,661.2 149.2,662.6 145.2,663.3C141.2,664 133.8,665.3 130.2,665.5C126.6,665.7 120.9,665.5 118.1,664.8C115.3,664.1 110.8,661.8 109,660.2C107.2,658.6 105.3,655.3 104.5,652.7C103.7,650.1 103.4,643.7 103.3,640.6C103.2,637.5 102.4,631 103.8,629.3Z" fill="#767378"/><path d="M103.8,629.3C105.2,627.6 111.5,627.5 113.6,627.8C115.7,628.1 117.4,630.9 119.6,631.6C121.8,632.3 127.4,633 130.2,633.1C133,633.2 138.1,632.1 140.7,632.3C143.3,632.5 147.2,633.9 149.8,634.6C152.4,635.3 157.3,637.4 160.3,637.6C163.3,637.8 169.2,636.4 172.4,636.1C175.6,635.8 182.1,635.4 184.5,635.4C186.9,635.4 189.6,634.8 190.5,636.1C191.4,637.4 192.1,643.2 191.3,645.2C190.5,647.2 187,649.8 184.5,651.2C182,652.6 175.6,654.5 172.4,655.7C169.2,656.9 163.9,659.2 160.3,660.2C156.7,661.2 149.2,662.6 145.2,663.3C141.2,664 133.8,665.3 130.2,665.5C126.6,665.7 120.9,665.5 118.1,664.8C115.3,664.1 110.8,661.8 109,660.2C107.2,658.6 105.3,655.3 104.5,652.7C103.7,650.1 103.4,643.7 103.3,640.6C103.2,637.5 102.4,631 103.8,629.3Z" fill="#000" opacity="0.3" filter="url(#spK)"/><path d="M103.8,629.3C105.2,627.6 111.5,627.5 113.6,627.8C115.7,628.1 117.4,630.9 119.6,631.6C121.8,632.3 127.4,633 130.2,633.1C133,633.2 138.1,632.1 140.7,632.3C143.3,632.5 147.2,633.9 149.8,634.6C152.4,635.3 157.3,637.4 160.3,637.6C163.3,637.8 169.2,636.4 172.4,636.1C175.6,635.8 182.1,635.4 184.5,635.4C186.9,635.4 189.6,634.8 190.5,636.1C191.4,637.4 192.1,643.2 191.3,645.2C190.5,647.2 187,649.8 184.5,651.2C182,652.6 175.6,654.5 172.4,655.7C169.2,656.9 163.9,659.2 160.3,660.2C156.7,661.2 149.2,662.6 145.2,663.3C141.2,664 133.8,665.3 130.2,665.5C126.6,665.7 120.9,665.5 118.1,664.8C115.3,664.1 110.8,661.8 109,660.2C107.2,658.6 105.3,655.3 104.5,652.7C103.7,650.1 103.4,643.7 103.3,640.6C103.2,637.5 102.4,631 103.8,629.3Z" fill="#fff" opacity="0.18" filter="url(#spW)"/>
<path d="M103.8,629.3C105.2,627.6 111.5,627.5 113.6,627.8C115.7,628.1 117.4,630.9 119.6,631.6C121.8,632.3 127.4,633 130.2,633.1C133,633.2 138.1,632.1 140.7,632.3C143.3,632.5 147.2,633.9 149.8,634.6C152.4,635.3 157.3,637.4 160.3,637.6C163.3,637.8 169.2,636.4 172.4,636.1C175.6,635.8 182.1,635.4 184.5,635.4C186.9,635.4 189.7,635.8 190.5,636.1C191.3,636.4 192.5,637 190.5,637.6C188.5,638.2 179.4,639.6 175.4,640.6C171.4,641.6 165.3,643.8 160.3,645.2C155.3,646.6 142.7,650.2 137.7,651.2C132.7,652.2 126.8,653.5 122.6,652.7C118.4,651.9 108.6,646.8 106,645.2C103.4,643.6 103.6,642.7 103.3,640.6C103,638.5 102.4,631 103.8,629.3Z" fill="#2e2628"/><path d="M103.8,629.3C105.2,627.6 111.5,627.5 113.6,627.8C115.7,628.1 117.4,630.9 119.6,631.6C121.8,632.3 127.4,633 130.2,633.1C133,633.2 138.1,632.1 140.7,632.3C143.3,632.5 147.2,633.9 149.8,634.6C152.4,635.3 157.3,637.4 160.3,637.6C163.3,637.8 169.2,636.4 172.4,636.1C175.6,635.8 182.1,635.4 184.5,635.4C186.9,635.4 189.7,635.8 190.5,636.1C191.3,636.4 192.5,637 190.5,637.6C188.5,638.2 179.4,639.6 175.4,640.6C171.4,641.6 165.3,643.8 160.3,645.2C155.3,646.6 142.7,650.2 137.7,651.2C132.7,652.2 126.8,653.5 122.6,652.7C118.4,651.9 108.6,646.8 106,645.2C103.4,643.6 103.6,642.7 103.3,640.6C103,638.5 102.4,631 103.8,629.3Z" fill="#000" opacity="0.5" filter="url(#spK)"/><path d="M103.8,629.3C105.2,627.6 111.5,627.5 113.6,627.8C115.7,628.1 117.4,630.9 119.6,631.6C121.8,632.3 127.4,633 130.2,633.1C133,633.2 138.1,632.1 140.7,632.3C143.3,632.5 147.2,633.9 149.8,634.6C152.4,635.3 157.3,637.4 160.3,637.6C163.3,637.8 169.2,636.4 172.4,636.1C175.6,635.8 182.1,635.4 184.5,635.4C186.9,635.4 189.7,635.8 190.5,636.1C191.3,636.4 192.5,637 190.5,637.6C188.5,638.2 179.4,639.6 175.4,640.6C171.4,641.6 165.3,643.8 160.3,645.2C155.3,646.6 142.7,650.2 137.7,651.2C132.7,652.2 126.8,653.5 122.6,652.7C118.4,651.9 108.6,646.8 106,645.2C103.4,643.6 103.6,642.7 103.3,640.6C103,638.5 102.4,631 103.8,629.3Z" fill="#fff" opacity="0.1" filter="url(#spW)"/><path d="M103.8,629.3C105.2,627.6 111.5,627.5 113.6,627.8C115.7,628.1 117.4,630.9 119.6,631.6C121.8,632.3 127.4,633 130.2,633.1C133,633.2 138.1,632.1 140.7,632.3C143.3,632.5 147.2,633.9 149.8,634.6C152.4,635.3 157.3,637.4 160.3,637.6C163.3,637.8 169.2,636.4 172.4,636.1C175.6,635.8 182.1,635.4 184.5,635.4C186.9,635.4 189.7,635.8 190.5,636.1C191.3,636.4 192.5,637 190.5,637.6C188.5,638.2 179.4,639.6 175.4,640.6C171.4,641.6 165.3,643.8 160.3,645.2C155.3,646.6 142.7,650.2 137.7,651.2C132.7,652.2 126.8,653.5 122.6,652.7C118.4,651.9 108.6,646.8 106,645.2C103.4,643.6 103.6,642.7 103.3,640.6C103,638.5 102.4,631 103.8,629.3Z" fill="#fff" opacity="0.3" filter="url(#spR)"/>
<path d="M104,630C105.3,628.7 111.5,627.7 113.6,628C115.7,628.3 117.8,631.2 120,632C122.2,632.8 128.1,632.9 130,634C131.9,635.1 134.3,638.1 134,640C133.7,641.9 130.1,646.7 128,648C125.9,649.3 120.8,650.4 118,650C115.2,649.6 108.9,646.6 107,645C105.1,643.4 104.4,640 104,638C103.6,636 102.7,631.3 104,630Z" fill="#fff" opacity="0.9" filter="url(#spG)"/>
<path d="M104,630C105.3,628.7 111.5,627.7 113.6,628C115.7,628.3 117.8,631.2 120,632C122.2,632.8 128.1,632.9 130,634C131.9,635.1 134.3,638.1 134,640C133.7,641.9 130.1,646.7 128,648C125.9,649.3 120.8,650.4 118,650C115.2,649.6 108.9,646.6 107,645C105.1,643.4 104.4,640 104,638C103.6,636 102.7,631.3 104,630Z" fill="#fff" opacity="0.35" filter="url(#spY)"/>
<path d="M132,634C133.5,632.2 138.6,632.4 141,632.5C143.4,632.6 147.5,634.3 150,635C152.5,635.7 158.4,636.8 160,638C161.6,639.2 163.3,642.7 162,644C160.7,645.3 153.2,647.2 150,648C146.8,648.8 140.7,650.3 138,650C135.3,649.7 130.8,648.1 130,646C129.2,643.9 130.5,635.8 132,634Z" fill="#fff" opacity="0.6" filter="url(#spR)"/>
<path d="M195.8,641.5C197.2,639.8 204.7,636.8 206.6,635.7C208.5,634.6 208.6,632.9 209.9,633.2C211.2,633.5 214.1,637 216.5,638.2C218.9,639.4 225.1,641.5 228.2,642.3C231.3,643.1 237.1,644.1 239.8,644C242.5,643.9 245.9,642.4 248.1,641.5C250.3,640.6 254.9,638.2 256.4,637.3C257.9,636.4 257.9,635 259.7,634.8C261.5,634.6 266.9,635.4 269.6,635.7C272.3,636 278.3,635.4 279.6,637.3C280.9,639.2 280.9,647.5 279.6,649.8C278.3,652.1 272.7,653.8 269.6,654.8C266.5,655.8 260.4,656.4 256.4,657.2C252.4,658 244.2,660 239.8,660.6C235.4,661.2 227.2,661.7 223.2,661.4C219.2,661.1 213,659.2 209.9,658.1C206.8,657 201.9,654.4 200,653.1C198.1,651.8 196.4,649.6 195.8,648.1C195.2,646.6 194.4,643.2 195.8,641.5Z" fill="#6e6a70"/><path d="M195.8,641.5C197.2,639.8 204.7,636.8 206.6,635.7C208.5,634.6 208.6,632.9 209.9,633.2C211.2,633.5 214.1,637 216.5,638.2C218.9,639.4 225.1,641.5 228.2,642.3C231.3,643.1 237.1,644.1 239.8,644C242.5,643.9 245.9,642.4 248.1,641.5C250.3,640.6 254.9,638.2 256.4,637.3C257.9,636.4 257.9,635 259.7,634.8C261.5,634.6 266.9,635.4 269.6,635.7C272.3,636 278.3,635.4 279.6,637.3C280.9,639.2 280.9,647.5 279.6,649.8C278.3,652.1 272.7,653.8 269.6,654.8C266.5,655.8 260.4,656.4 256.4,657.2C252.4,658 244.2,660 239.8,660.6C235.4,661.2 227.2,661.7 223.2,661.4C219.2,661.1 213,659.2 209.9,658.1C206.8,657 201.9,654.4 200,653.1C198.1,651.8 196.4,649.6 195.8,648.1C195.2,646.6 194.4,643.2 195.8,641.5Z" fill="#000" opacity="0.3" filter="url(#spK)"/><path d="M195.8,641.5C197.2,639.8 204.7,636.8 206.6,635.7C208.5,634.6 208.6,632.9 209.9,633.2C211.2,633.5 214.1,637 216.5,638.2C218.9,639.4 225.1,641.5 228.2,642.3C231.3,643.1 237.1,644.1 239.8,644C242.5,643.9 245.9,642.4 248.1,641.5C250.3,640.6 254.9,638.2 256.4,637.3C257.9,636.4 257.9,635 259.7,634.8C261.5,634.6 266.9,635.4 269.6,635.7C272.3,636 278.3,635.4 279.6,637.3C280.9,639.2 280.9,647.5 279.6,649.8C278.3,652.1 272.7,653.8 269.6,654.8C266.5,655.8 260.4,656.4 256.4,657.2C252.4,658 244.2,660 239.8,660.6C235.4,661.2 227.2,661.7 223.2,661.4C219.2,661.1 213,659.2 209.9,658.1C206.8,657 201.9,654.4 200,653.1C198.1,651.8 196.4,649.6 195.8,648.1C195.2,646.6 194.4,643.2 195.8,641.5Z" fill="#fff" opacity="0.18" filter="url(#spW)"/>
<path d="M209.9,633.2C210.9,633.4 214.1,637 216.5,638.2C218.9,639.4 225.1,641.5 228.2,642.3C231.3,643.1 237.1,644.1 239.8,644C242.5,643.9 245.9,642.4 248.1,641.5C250.3,640.6 254.9,638.2 256.4,637.3C257.9,636.4 259,634.8 259.7,634.8C260.4,634.8 262.4,636.2 262,637C261.6,637.8 258.3,639.5 256.4,640.5C254.5,641.5 250.2,643.6 248,644.5C245.8,645.4 242.5,646.9 239.8,647C237.1,647.1 231.2,646.2 228,645.5C224.8,644.8 218.5,642.6 216,641.5C213.5,640.4 209.8,638.1 209,637C208.2,635.9 208.9,633 209.9,633.2Z" fill="#fff" opacity="0.8" filter="url(#spY)"/>
<path d="M209.9,633.2C210.9,633.4 214.1,637 216.5,638.2C218.9,639.4 225.1,641.5 228.2,642.3C231.3,643.1 237.1,644.1 239.8,644C242.5,643.9 245.9,642.4 248.1,641.5C250.3,640.6 254.9,638.2 256.4,637.3C257.9,636.4 259,634.8 259.7,634.8C260.4,634.8 262.4,636.2 262,637C261.6,637.8 258.3,639.5 256.4,640.5C254.5,641.5 250.2,643.6 248,644.5C245.8,645.4 242.5,646.9 239.8,647C237.1,647.1 231.2,646.2 228,645.5C224.8,644.8 218.5,642.6 216,641.5C213.5,640.4 209.8,638.1 209,637C208.2,635.9 208.9,633 209.9,633.2Z" fill="#fff" opacity="0.6" filter="url(#spP)"/>
<path d="M288,625.7C289.1,620.9 294.3,624.7 296.6,624.9C298.9,625.1 302.7,626.9 304.9,627.4C307.1,627.9 311,628.5 313.2,629C315.4,629.5 319.3,630.7 321.5,631.5C323.7,632.3 327.6,634.6 329.8,634.8C332,635 335.4,633.7 338.1,633.2C340.8,632.7 346.8,631.1 349.7,630.7C352.6,630.3 356.6,630.1 359.6,629.9C362.6,629.7 370.3,625.5 372.1,629C373.9,632.5 374.1,652.1 372.9,656.4C371.7,660.7 366.5,660.2 363,661.4C359.5,662.6 350.8,664.6 346.4,665.5C342,666.4 334.2,667.9 329.8,668C325.4,668.1 317.6,667.1 313.2,666.4C308.8,665.7 300,663.8 296.6,663C293.2,662.2 289.1,665.6 288,660.6C286.9,655.6 286.9,630.5 288,625.7Z" fill="#8c8986"/><path d="M288,625.7C289.1,620.9 294.3,624.7 296.6,624.9C298.9,625.1 302.7,626.9 304.9,627.4C307.1,627.9 311,628.5 313.2,629C315.4,629.5 319.3,630.7 321.5,631.5C323.7,632.3 327.6,634.6 329.8,634.8C332,635 335.4,633.7 338.1,633.2C340.8,632.7 346.8,631.1 349.7,630.7C352.6,630.3 356.6,630.1 359.6,629.9C362.6,629.7 370.3,625.5 372.1,629C373.9,632.5 374.1,652.1 372.9,656.4C371.7,660.7 366.5,660.2 363,661.4C359.5,662.6 350.8,664.6 346.4,665.5C342,666.4 334.2,667.9 329.8,668C325.4,668.1 317.6,667.1 313.2,666.4C308.8,665.7 300,663.8 296.6,663C293.2,662.2 289.1,665.6 288,660.6C286.9,655.6 286.9,630.5 288,625.7Z" fill="#000" opacity="0.3" filter="url(#spK)"/><path d="M288,625.7C289.1,620.9 294.3,624.7 296.6,624.9C298.9,625.1 302.7,626.9 304.9,627.4C307.1,627.9 311,628.5 313.2,629C315.4,629.5 319.3,630.7 321.5,631.5C323.7,632.3 327.6,634.6 329.8,634.8C332,635 335.4,633.7 338.1,633.2C340.8,632.7 346.8,631.1 349.7,630.7C352.6,630.3 356.6,630.1 359.6,629.9C362.6,629.7 370.3,625.5 372.1,629C373.9,632.5 374.1,652.1 372.9,656.4C371.7,660.7 366.5,660.2 363,661.4C359.5,662.6 350.8,664.6 346.4,665.5C342,666.4 334.2,667.9 329.8,668C325.4,668.1 317.6,667.1 313.2,666.4C308.8,665.7 300,663.8 296.6,663C293.2,662.2 289.1,665.6 288,660.6C286.9,655.6 286.9,630.5 288,625.7Z" fill="#fff" opacity="0.25" filter="url(#spW)"/>
<path d="M288,640C289.6,637.9 296.4,643.9 300,645C303.6,646.1 311,647.8 315,648.5C319,649.2 326,650.3 330,650.5C334,650.7 341,650.3 345,650C349,649.7 356.3,648.5 360,648C363.7,647.5 370.8,644.9 372.5,646C374.2,647.1 374.2,654.3 372.9,656.4C371.6,658.5 366.5,660.2 363,661.4C359.5,662.6 350.8,664.6 346.4,665.5C342,666.4 334.2,667.9 329.8,668C325.4,668.1 317.6,667.1 313.2,666.4C308.8,665.7 300,663.8 296.6,663C293.2,662.2 289.1,663.7 288,660.6C286.9,657.5 286.4,642.1 288,640Z" fill="#9c5e90"/><path d="M288,640C289.6,637.9 296.4,643.9 300,645C303.6,646.1 311,647.8 315,648.5C319,649.2 326,650.3 330,650.5C334,650.7 341,650.3 345,650C349,649.7 356.3,648.5 360,648C363.7,647.5 370.8,644.9 372.5,646C374.2,647.1 374.2,654.3 372.9,656.4C371.6,658.5 366.5,660.2 363,661.4C359.5,662.6 350.8,664.6 346.4,665.5C342,666.4 334.2,667.9 329.8,668C325.4,668.1 317.6,667.1 313.2,666.4C308.8,665.7 300,663.8 296.6,663C293.2,662.2 289.1,663.7 288,660.6C286.9,657.5 286.4,642.1 288,640Z" fill="#000" opacity="0.45" filter="url(#spK)"/><path d="M288,640C289.6,637.9 296.4,643.9 300,645C303.6,646.1 311,647.8 315,648.5C319,649.2 326,650.3 330,650.5C334,650.7 341,650.3 345,650C349,649.7 356.3,648.5 360,648C363.7,647.5 370.8,644.9 372.5,646C374.2,647.1 374.2,654.3 372.9,656.4C371.6,658.5 366.5,660.2 363,661.4C359.5,662.6 350.8,664.6 346.4,665.5C342,666.4 334.2,667.9 329.8,668C325.4,668.1 317.6,667.1 313.2,666.4C308.8,665.7 300,663.8 296.6,663C293.2,662.2 289.1,663.7 288,660.6C286.9,657.5 286.4,642.1 288,640Z" fill="#fff" opacity="0.35" filter="url(#spW)"/><path d="M288,640C289.6,637.9 296.4,643.9 300,645C303.6,646.1 311,647.8 315,648.5C319,649.2 326,650.3 330,650.5C334,650.7 341,650.3 345,650C349,649.7 356.3,648.5 360,648C363.7,647.5 370.8,644.9 372.5,646C374.2,647.1 374.2,654.3 372.9,656.4C371.6,658.5 366.5,660.2 363,661.4C359.5,662.6 350.8,664.6 346.4,665.5C342,666.4 334.2,667.9 329.8,668C325.4,668.1 317.6,667.1 313.2,666.4C308.8,665.7 300,663.8 296.6,663C293.2,662.2 289.1,663.7 288,660.6C286.9,657.5 286.4,642.1 288,640Z" fill="#fff" opacity="0.7" filter="url(#spP)"/>
<path d="M289,661 Q320,668 372,655" stroke="#c080b0" stroke-width="1.6" fill="none" opacity="0.6"/>
<path d="M290,647 Q310,650 330,651" stroke="#e8e0e8" stroke-width="1.4" fill="none" opacity="0.5" stroke-dasharray="2 2"/>
<path d="M289,643 L300,645 L303,650 L289,652Z" fill="#e8dce8" opacity="0.5"/>
<path d="M376.6,634.8C377.9,632.3 383.1,635.4 386.6,635.7C390.1,636 399.7,637.5 403.2,637.3C406.7,637.1 410.4,634.9 413.1,634C415.8,633.1 420,631 423.1,630.7C426.2,630.4 433.3,631.5 436.4,631.5C439.5,631.5 443.6,630.8 446.3,630.7C449,630.6 455,627.7 456.3,630.7C457.6,633.7 457.6,649.8 456.3,653.1C455,656.4 449,655.1 446.3,655.6C443.6,656.1 439.9,656.8 436.4,657.2C432.9,657.6 424.2,658.8 419.8,658.9C415.4,659 407.6,658.4 403.2,658.1C398.8,657.8 390.1,656.8 386.6,656.4C383.1,656 377.9,657.7 376.6,654.8C375.3,651.9 375.3,637.3 376.6,634.8Z" fill="#7c7078"/><path d="M376.6,634.8C377.9,632.3 383.1,635.4 386.6,635.7C390.1,636 399.7,637.5 403.2,637.3C406.7,637.1 410.4,634.9 413.1,634C415.8,633.1 420,631 423.1,630.7C426.2,630.4 433.3,631.5 436.4,631.5C439.5,631.5 443.6,630.8 446.3,630.7C449,630.6 455,627.7 456.3,630.7C457.6,633.7 457.6,649.8 456.3,653.1C455,656.4 449,655.1 446.3,655.6C443.6,656.1 439.9,656.8 436.4,657.2C432.9,657.6 424.2,658.8 419.8,658.9C415.4,659 407.6,658.4 403.2,658.1C398.8,657.8 390.1,656.8 386.6,656.4C383.1,656 377.9,657.7 376.6,654.8C375.3,651.9 375.3,637.3 376.6,634.8Z" fill="#000" opacity="0.32" filter="url(#spK)"/><path d="M376.6,634.8C377.9,632.3 383.1,635.4 386.6,635.7C390.1,636 399.7,637.5 403.2,637.3C406.7,637.1 410.4,634.9 413.1,634C415.8,633.1 420,631 423.1,630.7C426.2,630.4 433.3,631.5 436.4,631.5C439.5,631.5 443.6,630.8 446.3,630.7C449,630.6 455,627.7 456.3,630.7C457.6,633.7 457.6,649.8 456.3,653.1C455,656.4 449,655.1 446.3,655.6C443.6,656.1 439.9,656.8 436.4,657.2C432.9,657.6 424.2,658.8 419.8,658.9C415.4,659 407.6,658.4 403.2,658.1C398.8,657.8 390.1,656.8 386.6,656.4C383.1,656 377.9,657.7 376.6,654.8C375.3,651.9 375.3,637.3 376.6,634.8Z" fill="#fff" opacity="0.22" filter="url(#spW)"/><path d="M376.6,634.8C377.9,632.3 383.1,635.4 386.6,635.7C390.1,636 399.7,637.5 403.2,637.3C406.7,637.1 410.4,634.9 413.1,634C415.8,633.1 420,631 423.1,630.7C426.2,630.4 433.3,631.5 436.4,631.5C439.5,631.5 443.6,630.8 446.3,630.7C449,630.6 455,627.7 456.3,630.7C457.6,633.7 457.6,649.8 456.3,653.1C455,656.4 449,655.1 446.3,655.6C443.6,656.1 439.9,656.8 436.4,657.2C432.9,657.6 424.2,658.8 419.8,658.9C415.4,659 407.6,658.4 403.2,658.1C398.8,657.8 390.1,656.8 386.6,656.4C383.1,656 377.9,657.7 376.6,654.8C375.3,651.9 375.3,637.3 376.6,634.8Z" fill="#fff" opacity="0.35" filter="url(#spP)"/>
<path d="M400,638 Q412,631 425,630 Q438,628 446,632" stroke="#c4c45a" stroke-width="0.7" fill="none" opacity="0.75"/>
<path d="M405,636 Q418,633 432,627 Q440,630 448,628" stroke="#c4c45a" stroke-width="0.7" fill="none" opacity="0.75"/>
<path d="M410,640 Q420,636 430,635 Q440,633 450,636" stroke="#c4c45a" stroke-width="0.7" fill="none" opacity="0.75"/>
<path d="M415,634 Q425,628 435,630" stroke="#c4c45a" stroke-width="0.7" fill="none" opacity="0.75"/>
<path d="M398,642 Q408,637 418,638" stroke="#c4c45a" stroke-width="0.7" fill="none" opacity="0.75"/>
<path d="M464.1,634C465.8,631.3 472.7,634.6 476.6,634.8C480.5,635 488.8,635.6 493.2,635.7C497.6,635.8 505.4,635.8 509.8,635.7C514.2,635.6 523.3,635.1 526.4,634.8C529.5,634.5 531.2,633.1 533,633.2C534.8,633.3 536.9,634.9 539.6,635.7C542.3,636.5 549.1,638.8 552.9,639C556.7,639.2 565.8,635 567.8,637.3C569.8,639.6 569.8,653.9 567.8,656.4C565.8,658.9 558.4,656.5 552.9,656.4C547.4,656.3 532.1,655.7 526.4,655.6C520.7,655.5 514.2,655.7 509.8,655.6C505.4,655.5 497.6,654.9 493.2,654.8C488.8,654.7 480.5,654.8 476.6,654.8C472.7,654.8 465.8,657.6 464.1,654.8C462.4,652 462.4,636.7 464.1,634Z" fill="#747074"/><path d="M464.1,634C465.8,631.3 472.7,634.6 476.6,634.8C480.5,635 488.8,635.6 493.2,635.7C497.6,635.8 505.4,635.8 509.8,635.7C514.2,635.6 523.3,635.1 526.4,634.8C529.5,634.5 531.2,633.1 533,633.2C534.8,633.3 536.9,634.9 539.6,635.7C542.3,636.5 549.1,638.8 552.9,639C556.7,639.2 565.8,635 567.8,637.3C569.8,639.6 569.8,653.9 567.8,656.4C565.8,658.9 558.4,656.5 552.9,656.4C547.4,656.3 532.1,655.7 526.4,655.6C520.7,655.5 514.2,655.7 509.8,655.6C505.4,655.5 497.6,654.9 493.2,654.8C488.8,654.7 480.5,654.8 476.6,654.8C472.7,654.8 465.8,657.6 464.1,654.8C462.4,652 462.4,636.7 464.1,634Z" fill="#000" opacity="0.32" filter="url(#spK)"/><path d="M464.1,634C465.8,631.3 472.7,634.6 476.6,634.8C480.5,635 488.8,635.6 493.2,635.7C497.6,635.8 505.4,635.8 509.8,635.7C514.2,635.6 523.3,635.1 526.4,634.8C529.5,634.5 531.2,633.1 533,633.2C534.8,633.3 536.9,634.9 539.6,635.7C542.3,636.5 549.1,638.8 552.9,639C556.7,639.2 565.8,635 567.8,637.3C569.8,639.6 569.8,653.9 567.8,656.4C565.8,658.9 558.4,656.5 552.9,656.4C547.4,656.3 532.1,655.7 526.4,655.6C520.7,655.5 514.2,655.7 509.8,655.6C505.4,655.5 497.6,654.9 493.2,654.8C488.8,654.7 480.5,654.8 476.6,654.8C472.7,654.8 465.8,657.6 464.1,654.8C462.4,652 462.4,636.7 464.1,634Z" fill="#fff" opacity="0.2" filter="url(#spW)"/>
<path d="M464.1,634C465.8,631.3 473.1,634.6 476.6,634.8C480.1,635 488.5,634.1 490,635.5C491.5,636.9 488,642.4 488,645C488,647.6 491.5,653.5 490,654.8C488.5,656.1 480.1,654.8 476.6,654.8C473.1,654.8 465.8,657.6 464.1,654.8C462.4,652 462.4,636.7 464.1,634Z" fill="#9a8088"/><path d="M464.1,634C465.8,631.3 473.1,634.6 476.6,634.8C480.1,635 488.5,634.1 490,635.5C491.5,636.9 488,642.4 488,645C488,647.6 491.5,653.5 490,654.8C488.5,656.1 480.1,654.8 476.6,654.8C473.1,654.8 465.8,657.6 464.1,654.8C462.4,652 462.4,636.7 464.1,634Z" fill="#000" opacity="0.35" filter="url(#spK)"/><path d="M464.1,634C465.8,631.3 473.1,634.6 476.6,634.8C480.1,635 488.5,634.1 490,635.5C491.5,636.9 488,642.4 488,645C488,647.6 491.5,653.5 490,654.8C488.5,656.1 480.1,654.8 476.6,654.8C473.1,654.8 465.8,657.6 464.1,654.8C462.4,652 462.4,636.7 464.1,634Z" fill="#fff" opacity="0.4" filter="url(#spW)"/><path d="M464.1,634C465.8,631.3 473.1,634.6 476.6,634.8C480.1,635 488.5,634.1 490,635.5C491.5,636.9 488,642.4 488,645C488,647.6 491.5,653.5 490,654.8C488.5,656.1 480.1,654.8 476.6,654.8C473.1,654.8 465.8,657.6 464.1,654.8C462.4,652 462.4,636.7 464.1,634Z" fill="#fff" opacity="0.5" filter="url(#spP)"/>
<path d="M512,636 Q525,632.5 535,633.5 L537,636.5 Q525,637.5 512,637.5Z" fill="#c84040" opacity="0.7"/>
<path d="M576.3,625.6C577.3,623.6 580.9,624.2 583.3,624.1C585.7,624 591.1,624.3 594.2,624.9C597.3,625.5 603.9,627.6 606.6,628.7C609.3,629.8 611.9,632.9 614.4,633.4C616.9,633.9 622.7,633 625.2,632.6C627.7,632.2 630.9,630.5 633,630.3C635.1,630.1 638.5,630.9 640.8,631.1C643.1,631.3 648.6,630.8 650.1,631.8C651.6,632.8 651.7,636.2 651.7,638.8C651.7,641.4 651.1,648.2 650.1,651.3C649.1,654.4 646,660.2 643.9,662.1C641.8,664 637.5,664.6 634.6,665.2C631.7,665.8 625.8,666.4 622.1,666.8C618.4,667.2 610.7,668.4 606.6,668.4C602.5,668.4 594.6,667.6 591.1,666.8C587.6,666 582.2,664.2 580.2,662.1C578.2,660 576.9,654.4 576.3,651.3C575.7,648.2 575.5,642.2 575.5,638.8C575.5,635.4 575.3,627.6 576.3,625.6Z" fill="#c4a2b2"/><path d="M576.3,625.6C577.3,623.6 580.9,624.2 583.3,624.1C585.7,624 591.1,624.3 594.2,624.9C597.3,625.5 603.9,627.6 606.6,628.7C609.3,629.8 611.9,632.9 614.4,633.4C616.9,633.9 622.7,633 625.2,632.6C627.7,632.2 630.9,630.5 633,630.3C635.1,630.1 638.5,630.9 640.8,631.1C643.1,631.3 648.6,630.8 650.1,631.8C651.6,632.8 651.7,636.2 651.7,638.8C651.7,641.4 651.1,648.2 650.1,651.3C649.1,654.4 646,660.2 643.9,662.1C641.8,664 637.5,664.6 634.6,665.2C631.7,665.8 625.8,666.4 622.1,666.8C618.4,667.2 610.7,668.4 606.6,668.4C602.5,668.4 594.6,667.6 591.1,666.8C587.6,666 582.2,664.2 580.2,662.1C578.2,660 576.9,654.4 576.3,651.3C575.7,648.2 575.5,642.2 575.5,638.8C575.5,635.4 575.3,627.6 576.3,625.6Z" fill="#000" opacity="0.5" filter="url(#spK)"/><path d="M576.3,625.6C577.3,623.6 580.9,624.2 583.3,624.1C585.7,624 591.1,624.3 594.2,624.9C597.3,625.5 603.9,627.6 606.6,628.7C609.3,629.8 611.9,632.9 614.4,633.4C616.9,633.9 622.7,633 625.2,632.6C627.7,632.2 630.9,630.5 633,630.3C635.1,630.1 638.5,630.9 640.8,631.1C643.1,631.3 648.6,630.8 650.1,631.8C651.6,632.8 651.7,636.2 651.7,638.8C651.7,641.4 651.1,648.2 650.1,651.3C649.1,654.4 646,660.2 643.9,662.1C641.8,664 637.5,664.6 634.6,665.2C631.7,665.8 625.8,666.4 622.1,666.8C618.4,667.2 610.7,668.4 606.6,668.4C602.5,668.4 594.6,667.6 591.1,666.8C587.6,666 582.2,664.2 580.2,662.1C578.2,660 576.9,654.4 576.3,651.3C575.7,648.2 575.5,642.2 575.5,638.8C575.5,635.4 575.3,627.6 576.3,625.6Z" fill="#fff" opacity="0.55" filter="url(#spW)"/><path d="M576.3,625.6C577.3,623.6 580.9,624.2 583.3,624.1C585.7,624 591.1,624.3 594.2,624.9C597.3,625.5 603.9,627.6 606.6,628.7C609.3,629.8 611.9,632.9 614.4,633.4C616.9,633.9 622.7,633 625.2,632.6C627.7,632.2 630.9,630.5 633,630.3C635.1,630.1 638.5,630.9 640.8,631.1C643.1,631.3 648.6,630.8 650.1,631.8C651.6,632.8 651.7,636.2 651.7,638.8C651.7,641.4 651.1,648.2 650.1,651.3C649.1,654.4 646,660.2 643.9,662.1C641.8,664 637.5,664.6 634.6,665.2C631.7,665.8 625.8,666.4 622.1,666.8C618.4,667.2 610.7,668.4 606.6,668.4C602.5,668.4 594.6,667.6 591.1,666.8C587.6,666 582.2,664.2 580.2,662.1C578.2,660 576.9,654.4 576.3,651.3C575.7,648.2 575.5,642.2 575.5,638.8C575.5,635.4 575.3,627.6 576.3,625.6Z" fill="#fff" opacity="0.7" filter="url(#spP)"/>
<path d="M580,631 Q595,628 612,636 Q622,640 630,638" stroke="#2e2328" stroke-width="2.2" fill="none" opacity="0.55" stroke-linecap="round"/>
<path d="M586,641 Q605,640 620,646 Q632,648 646,643" stroke="#2e2328" stroke-width="2.0" fill="none" opacity="0.55" stroke-linecap="round"/>
<path d="M600,650 Q620,652 648,648" stroke="#2e2328" stroke-width="1.6" fill="none" opacity="0.55" stroke-linecap="round"/>
<path d="M579,637 Q590,636 600,640" stroke="#2e2328" stroke-width="1.2" fill="none" opacity="0.55" stroke-linecap="round"/>
<path d="M580,650 Q600,660 640,655 L640,662 Q610,668 585,663Z" fill="#d87898" opacity="0.45"/>
<ellipse cx="600" cy="657" rx="9" ry="4" fill="#8aa8d0" opacity="0.4"/>
<path d="M8.7,625.6C9.5,622 12.2,624.3 15,624C17.8,623.7 26,623.5 30,623.3C34,623.1 41,622.7 45,622.5C49,622.3 55.9,621.8 60,621.8C64.1,621.8 70.5,622.2 75.4,622.5C80.3,622.8 93.6,621.7 96.5,624C99.4,626.3 97.5,635.8 97.5,640C97.5,644.2 97.4,653.4 96.5,655.7C95.6,658 93.3,656.9 90.5,657.2C87.7,657.5 79.4,658 75.4,658C71.4,658 64.3,657.5 60.3,657.2C56.3,656.9 49.2,656.3 45.2,655.7C41.2,655.1 34.2,653.4 30.2,652.7C26.2,652 17.8,650.6 15,650.4C12.2,650.2 9.8,654.5 9,651.2C8.2,647.9 7.9,629.2 8.7,625.6Z" fill="none" stroke="#b8b4b8" stroke-width="0.6" opacity="0.45"/>
<path d="M103.8,629.3C105.2,627.6 111.5,627.5 113.6,627.8C115.7,628.1 117.4,630.9 119.6,631.6C121.8,632.3 127.4,633 130.2,633.1C133,633.2 138.1,632.1 140.7,632.3C143.3,632.5 147.2,633.9 149.8,634.6C152.4,635.3 157.3,637.4 160.3,637.6C163.3,637.8 169.2,636.4 172.4,636.1C175.6,635.8 182.1,635.4 184.5,635.4C186.9,635.4 189.6,634.8 190.5,636.1C191.4,637.4 192.1,643.2 191.3,645.2C190.5,647.2 187,649.8 184.5,651.2C182,652.6 175.6,654.5 172.4,655.7C169.2,656.9 163.9,659.2 160.3,660.2C156.7,661.2 149.2,662.6 145.2,663.3C141.2,664 133.8,665.3 130.2,665.5C126.6,665.7 120.9,665.5 118.1,664.8C115.3,664.1 110.8,661.8 109,660.2C107.2,658.6 105.3,655.3 104.5,652.7C103.7,650.1 103.4,643.7 103.3,640.6C103.2,637.5 102.4,631 103.8,629.3Z" fill="none" stroke="#b8b4b8" stroke-width="0.6" opacity="0.45"/>
<path d="M195.8,641.5C197.2,639.8 204.7,636.8 206.6,635.7C208.5,634.6 208.6,632.9 209.9,633.2C211.2,633.5 214.1,637 216.5,638.2C218.9,639.4 225.1,641.5 228.2,642.3C231.3,643.1 237.1,644.1 239.8,644C242.5,643.9 245.9,642.4 248.1,641.5C250.3,640.6 254.9,638.2 256.4,637.3C257.9,636.4 257.9,635 259.7,634.8C261.5,634.6 266.9,635.4 269.6,635.7C272.3,636 278.3,635.4 279.6,637.3C280.9,639.2 280.9,647.5 279.6,649.8C278.3,652.1 272.7,653.8 269.6,654.8C266.5,655.8 260.4,656.4 256.4,657.2C252.4,658 244.2,660 239.8,660.6C235.4,661.2 227.2,661.7 223.2,661.4C219.2,661.1 213,659.2 209.9,658.1C206.8,657 201.9,654.4 200,653.1C198.1,651.8 196.4,649.6 195.8,648.1C195.2,646.6 194.4,643.2 195.8,641.5Z" fill="none" stroke="#b8b4b8" stroke-width="0.6" opacity="0.45"/>
<path d="M376.6,634.8C377.9,632.3 383.1,635.4 386.6,635.7C390.1,636 399.7,637.5 403.2,637.3C406.7,637.1 410.4,634.9 413.1,634C415.8,633.1 420,631 423.1,630.7C426.2,630.4 433.3,631.5 436.4,631.5C439.5,631.5 443.6,630.8 446.3,630.7C449,630.6 455,627.7 456.3,630.7C457.6,633.7 457.6,649.8 456.3,653.1C455,656.4 449,655.1 446.3,655.6C443.6,656.1 439.9,656.8 436.4,657.2C432.9,657.6 424.2,658.8 419.8,658.9C415.4,659 407.6,658.4 403.2,658.1C398.8,657.8 390.1,656.8 386.6,656.4C383.1,656 377.9,657.7 376.6,654.8C375.3,651.9 375.3,637.3 376.6,634.8Z" fill="none" stroke="#b8b4b8" stroke-width="0.6" opacity="0.45"/>
<path d="M464.1,634C465.8,631.3 472.7,634.6 476.6,634.8C480.5,635 488.8,635.6 493.2,635.7C497.6,635.8 505.4,635.8 509.8,635.7C514.2,635.6 523.3,635.1 526.4,634.8C529.5,634.5 531.2,633.1 533,633.2C534.8,633.3 536.9,634.9 539.6,635.7C542.3,636.5 549.1,638.8 552.9,639C556.7,639.2 565.8,635 567.8,637.3C569.8,639.6 569.8,653.9 567.8,656.4C565.8,658.9 558.4,656.5 552.9,656.4C547.4,656.3 532.1,655.7 526.4,655.6C520.7,655.5 514.2,655.7 509.8,655.6C505.4,655.5 497.6,654.9 493.2,654.8C488.8,654.7 480.5,654.8 476.6,654.8C472.7,654.8 465.8,657.6 464.1,654.8C462.4,652 462.4,636.7 464.1,634Z" fill="none" stroke="#b8b4b8" stroke-width="0.6" opacity="0.45"/>
<text x="11.5" y="662.3" font-size="9" fill="#f4f4f4" text-anchor="middle" font-weight="bold" stroke="#f4f4f4" stroke-width="0.3">*</text>
<text x="109.2" y="668.4" font-size="9" fill="#f4f4f4" text-anchor="middle" font-weight="bold" stroke="#f4f4f4" stroke-width="0.3">*</text>
<text x="202" y="663.2" font-size="9" fill="#f4f4f4" text-anchor="middle" font-weight="bold" stroke="#f4f4f4" stroke-width="0.3">*</text>
<text x="295" y="671.5" font-size="9" fill="#f4f4f4" text-anchor="middle" font-weight="bold" stroke="#f4f4f4" stroke-width="0.3">*</text>
<text x="383.3" y="666.2" font-size="9" fill="#f4f4f4" text-anchor="middle" font-weight="bold" stroke="#f4f4f4" stroke-width="0.3">*</text>
<text x="475.3" y="666.2" font-size="9" fill="#f4f4f4" text-anchor="middle" font-weight="bold" stroke="#f4f4f4" stroke-width="0.3">*</text>
<text x="583.3" y="670.3" font-size="9" fill="#f4f4f4" text-anchor="middle" font-weight="bold" stroke="#f4f4f4" stroke-width="0.3">*</text>
<rect x="80" y="673.4" width="15.4" height="1.6" fill="#f0f0f0"/>
<rect x="169" y="673.4" width="12" height="1.6" fill="#f0f0f0"/>
<rect x="258.9" y="673.4" width="14.1" height="1.6" fill="#f0f0f0"/>
<rect x="360" y="673.4" width="12" height="1.6" fill="#f0f0f0"/>
<rect x="438.9" y="673.4" width="13.2" height="1.6" fill="#f0f0f0"/>
<rect x="550.4" y="673.4" width="11.6" height="1.6" fill="#f0f0f0"/>
<rect x="637.7" y="673.4" width="11.6" height="1.6" fill="#f0f0f0"/>
<text x="86.2" y="671.6" font-size="10.2" fill="#f0f0f0" text-anchor="middle" stroke="#f0f0f0" stroke-width="0.3">1mm</text>
<defs>
<linearGradient id="cbar" x1="0" y1="0" x2="0" y2="1">
 <stop offset="0" stop-color="#a8140e"/><stop offset="0.08" stop-color="#c83426"/>
 <stop offset="0.35" stop-color="#e06a52"/><stop offset="0.7" stop-color="#f0b8a8"/>
 <stop offset="0.9" stop-color="#f2e0da"/><stop offset="1" stop-color="#dedada"/>
</linearGradient></defs>
<text x="10" y="699.5" font-size="12.5" fill="#000" text-anchor="middle" font-weight="bold" stroke="#000" stroke-width="0.3">E</text>
<text x="34.5" y="716.7" font-size="10.8" fill="#111" text-anchor="end" font-style="italic" stroke="#111" stroke-width="0.3">MYH11</text>
<text x="37.2" y="778.2" font-size="10.8" fill="#111" text-anchor="end" font-style="italic" stroke="#111" stroke-width="0.3">CD14</text>
<text x="37.2" y="823.8" font-size="10.8" fill="#111" text-anchor="end" font-style="italic" stroke="#111" stroke-width="0.3">TRAC</text>
<text x="37.2" y="880.3" font-size="10.8" fill="#111" text-anchor="end" font-style="italic" stroke="#111" stroke-width="0.3">MZB1</text>
<path d="M39,702C40.2,700.8 61,699.2 63.3,698.9C65.6,698.6 82.4,696.9 84.5,696.8C86.6,696.7 103.6,697.6 105.6,697.8C107.5,698 122.6,698.6 123.5,700C124.4,701.4 124.4,724.9 123.5,726.3C122.6,727.7 107.5,728.3 105.6,728.5C103.6,728.7 86.6,729.6 84.5,729.5C82.4,729.4 65.6,727.7 63.3,727.4C61,727.1 40.2,724.5 39,723.2C37.8,721.9 37.8,703.2 39,702Z" fill="#f7f3f3"/><path d="M39,702C40.2,700.8 61,699.2 63.3,698.9C65.6,698.6 82.4,696.9 84.5,696.8C86.6,696.7 103.6,697.6 105.6,697.8C107.5,698 122.6,698.6 123.5,700C124.4,701.4 124.4,724.9 123.5,726.3C122.6,727.7 107.5,728.3 105.6,728.5C103.6,728.7 86.6,729.6 84.5,729.5C82.4,729.4 65.6,727.7 63.3,727.4C61,727.1 40.2,724.5 39,723.2C37.8,721.9 37.8,703.2 39,702Z" fill="#fff" opacity="0.6" filter="url(#spE)"/><path d="M39,702C40.2,700.8 61,699.2 63.3,698.9C65.6,698.6 82.4,696.9 84.5,696.8C86.6,696.7 103.6,697.6 105.6,697.8C107.5,698 122.6,698.6 123.5,700C124.4,701.4 124.4,724.9 123.5,726.3C122.6,727.7 107.5,728.3 105.6,728.5C103.6,728.7 86.6,729.6 84.5,729.5C82.4,729.4 65.6,727.7 63.3,727.4C61,727.1 40.2,724.5 39,723.2C37.8,721.9 37.8,703.2 39,702Z" fill="#fff" opacity="0.6" filter="url(#spS)"/>
<path d="M39,702C40.2,700.8 61,699.2 63.3,698.9C65.6,698.6 82.4,696.9 84.5,696.8C86.6,696.7 103.6,697.6 105.6,697.8C107.5,698 122.6,698.6 123.5,700C124.4,701.4 124.4,724.9 123.5,726.3C122.6,727.7 107.5,728.3 105.6,728.5C103.6,728.7 86.6,729.6 84.5,729.5C82.4,729.4 65.6,727.7 63.3,727.4C61,727.1 40.2,724.5 39,723.2C37.8,721.9 37.8,703.2 39,702Z" fill="#fff" opacity="0.35" filter="url(#spG2)"/>
<path d="M129,705.2C129.5,703.9 137.7,704.3 138.6,704.5C139.5,704.7 146,709.3 147,710C148,710.7 157.8,717.4 158.9,718C160.1,718.6 168.6,721.6 170,721.5C171.4,721.4 184.5,716.5 186,716C187.5,715.5 198.8,711.9 200,711.5C201.2,711.1 210,707.2 210.5,707.9C211,708.6 211.7,725 210.5,726.2C209.3,727.4 188.2,731.1 186,731.6C183.8,732.1 167.7,735.6 165.7,735.7C163.7,735.8 147.2,734.6 145.4,734.3C143.6,734 129.8,731.8 129,730.3C128.2,728.8 128.5,706.5 129,705.2Z" fill="#f7f3f3"/><path d="M129,705.2C129.5,703.9 137.7,704.3 138.6,704.5C139.5,704.7 146,709.3 147,710C148,710.7 157.8,717.4 158.9,718C160.1,718.6 168.6,721.6 170,721.5C171.4,721.4 184.5,716.5 186,716C187.5,715.5 198.8,711.9 200,711.5C201.2,711.1 210,707.2 210.5,707.9C211,708.6 211.7,725 210.5,726.2C209.3,727.4 188.2,731.1 186,731.6C183.8,732.1 167.7,735.6 165.7,735.7C163.7,735.8 147.2,734.6 145.4,734.3C143.6,734 129.8,731.8 129,730.3C128.2,728.8 128.5,706.5 129,705.2Z" fill="#fff" opacity="0.6" filter="url(#spE)"/><path d="M129,705.2C129.5,703.9 137.7,704.3 138.6,704.5C139.5,704.7 146,709.3 147,710C148,710.7 157.8,717.4 158.9,718C160.1,718.6 168.6,721.6 170,721.5C171.4,721.4 184.5,716.5 186,716C187.5,715.5 198.8,711.9 200,711.5C201.2,711.1 210,707.2 210.5,707.9C211,708.6 211.7,725 210.5,726.2C209.3,727.4 188.2,731.1 186,731.6C183.8,732.1 167.7,735.6 165.7,735.7C163.7,735.8 147.2,734.6 145.4,734.3C143.6,734 129.8,731.8 129,730.3C128.2,728.8 128.5,706.5 129,705.2Z" fill="#fff" opacity="0.6" filter="url(#spS)"/>
<path d="M129,705.2C129.5,703.9 137.7,704.3 138.6,704.5C139.5,704.7 146,709.3 147,710C148,710.7 157.8,717.4 158.9,718C160.1,718.6 168.6,721.6 170,721.5C171.4,721.4 184.5,716.5 186,716C187.5,715.5 198.8,711.9 200,711.5C201.2,711.1 210,707.2 210.5,707.9C211,708.6 211.7,725 210.5,726.2C209.3,727.4 188.2,731.1 186,731.6C183.8,732.1 167.7,735.6 165.7,735.7C163.7,735.8 147.2,734.6 145.4,734.3C143.6,734 129.8,731.8 129,730.3C128.2,728.8 128.5,706.5 129,705.2Z" fill="#fff" opacity="0.35" filter="url(#spG2)"/>
<path d="M217.5,711C217.7,710.6 220.2,708.2 221,708.5C221.8,708.8 232.7,716.3 234.4,717C236.1,717.7 252.8,721.7 254.8,721.8C256.8,721.9 271.8,720.3 273.8,719.8C275.8,719.3 294.4,711.5 295.5,711.6C296.6,711.8 296.4,722 295.5,722.8C294.6,723.6 279.8,727.8 277.8,728.2C275.8,728.6 257.2,731.7 254.8,731.6C252.4,731.5 232.3,726.2 230.4,725.5C228.5,724.8 218.1,717.4 217.5,716.7C216.9,716 217.3,711.4 217.5,711Z" fill="#f7f3f3"/><path d="M217.5,711C217.7,710.6 220.2,708.2 221,708.5C221.8,708.8 232.7,716.3 234.4,717C236.1,717.7 252.8,721.7 254.8,721.8C256.8,721.9 271.8,720.3 273.8,719.8C275.8,719.3 294.4,711.5 295.5,711.6C296.6,711.8 296.4,722 295.5,722.8C294.6,723.6 279.8,727.8 277.8,728.2C275.8,728.6 257.2,731.7 254.8,731.6C252.4,731.5 232.3,726.2 230.4,725.5C228.5,724.8 218.1,717.4 217.5,716.7C216.9,716 217.3,711.4 217.5,711Z" fill="#fff" opacity="0.6" filter="url(#spE)"/><path d="M217.5,711C217.7,710.6 220.2,708.2 221,708.5C221.8,708.8 232.7,716.3 234.4,717C236.1,717.7 252.8,721.7 254.8,721.8C256.8,721.9 271.8,720.3 273.8,719.8C275.8,719.3 294.4,711.5 295.5,711.6C296.6,711.8 296.4,722 295.5,722.8C294.6,723.6 279.8,727.8 277.8,728.2C275.8,728.6 257.2,731.7 254.8,731.6C252.4,731.5 232.3,726.2 230.4,725.5C228.5,724.8 218.1,717.4 217.5,716.7C216.9,716 217.3,711.4 217.5,711Z" fill="#fff" opacity="0.6" filter="url(#spS)"/>
<path d="M217.5,711C217.7,710.6 220.2,708.2 221,708.5C221.8,708.8 232.7,716.3 234.4,717C236.1,717.7 252.8,721.7 254.8,721.8C256.8,721.9 271.8,720.3 273.8,719.8C275.8,719.3 294.4,711.5 295.5,711.6C296.6,711.8 296.4,722 295.5,722.8C294.6,723.6 279.8,727.8 277.8,728.2C275.8,728.6 257.2,731.7 254.8,731.6C252.4,731.5 232.3,726.2 230.4,725.5C228.5,724.8 218.1,717.4 217.5,716.7C216.9,716 217.3,711.4 217.5,711Z" fill="#fff" opacity="0.35" filter="url(#spG2)"/>
<path d="M301.3,698.8C301.8,697.2 311.1,700.5 312.2,700.8C313.3,701.1 322.4,704.7 323.7,705.1C325,705.5 336.6,707.8 338,707.9C339.4,708 350.9,706.6 352.3,706.5C353.7,706.4 365.3,705.3 366.7,705.1C368.1,704.9 380.3,701.5 381,702.8C381.7,704.1 381.7,729.4 381,730.9C380.3,732.4 368.8,733.4 366.7,733.7C364.6,734 340.7,736.5 338,736.6C335.3,736.7 314,735.4 312.2,735.2C310.4,735 301.8,734.1 301.3,732.3C300.8,730.5 300.8,700.4 301.3,698.8Z" fill="#ecebeb"/><path d="M301.3,698.8C301.8,697.2 311.1,700.5 312.2,700.8C313.3,701.1 322.4,704.7 323.7,705.1C325,705.5 336.6,707.8 338,707.9C339.4,708 350.9,706.6 352.3,706.5C353.7,706.4 365.3,705.3 366.7,705.1C368.1,704.9 380.3,701.5 381,702.8C381.7,704.1 381.7,729.4 381,730.9C380.3,732.4 368.8,733.4 366.7,733.7C364.6,734 340.7,736.5 338,736.6C335.3,736.7 314,735.4 312.2,735.2C310.4,735 301.8,734.1 301.3,732.3C300.8,730.5 300.8,700.4 301.3,698.8Z" fill="#fff" opacity="0.6" filter="url(#spE)"/><path d="M301.3,698.8C301.8,697.2 311.1,700.5 312.2,700.8C313.3,701.1 322.4,704.7 323.7,705.1C325,705.5 336.6,707.8 338,707.9C339.4,708 350.9,706.6 352.3,706.5C353.7,706.4 365.3,705.3 366.7,705.1C368.1,704.9 380.3,701.5 381,702.8C381.7,704.1 381.7,729.4 381,730.9C380.3,732.4 368.8,733.4 366.7,733.7C364.6,734 340.7,736.5 338,736.6C335.3,736.7 314,735.4 312.2,735.2C310.4,735 301.8,734.1 301.3,732.3C300.8,730.5 300.8,700.4 301.3,698.8Z" fill="#fff" opacity="0.6" filter="url(#spS)"/>
<path d="M301.3,698.8C301.8,697.2 311.1,700.5 312.2,700.8C313.3,701.1 322.4,704.7 323.7,705.1C325,705.5 336.6,707.8 338,707.9C339.4,708 350.9,706.6 352.3,706.5C353.7,706.4 365.3,705.3 366.7,705.1C368.1,704.9 380.3,701.5 381,702.8C381.7,704.1 381.7,729.4 381,730.9C380.3,732.4 368.8,733.4 366.7,733.7C364.6,734 340.7,736.5 338,736.6C335.3,736.7 314,735.4 312.2,735.2C310.4,735 301.8,734.1 301.3,732.3C300.8,730.5 300.8,700.4 301.3,698.8Z" fill="#fff" opacity="0.35" filter="url(#spG2)"/>
<path d="M386.1,710.8C387,710.2 402.3,712.1 403.9,712.2C405.5,712.3 416.8,713.8 418.2,713.7C419.6,713.6 431.2,709.8 432.6,709.4C434,709 445.5,705.4 446.9,705.1C448.3,704.8 460.5,702.7 461.2,703.6C461.9,704.5 462.1,721.1 461.2,722.3C460.3,723.4 445.9,726.2 444,726.6C442.1,727 426,729.3 424,729.4C422,729.5 405.8,728.8 403.9,728.6C402,728.4 387,726 386.1,725.1C385.2,724.2 385.2,711.4 386.1,710.8Z" fill="#ecebeb"/><path d="M386.1,710.8C387,710.2 402.3,712.1 403.9,712.2C405.5,712.3 416.8,713.8 418.2,713.7C419.6,713.6 431.2,709.8 432.6,709.4C434,709 445.5,705.4 446.9,705.1C448.3,704.8 460.5,702.7 461.2,703.6C461.9,704.5 462.1,721.1 461.2,722.3C460.3,723.4 445.9,726.2 444,726.6C442.1,727 426,729.3 424,729.4C422,729.5 405.8,728.8 403.9,728.6C402,728.4 387,726 386.1,725.1C385.2,724.2 385.2,711.4 386.1,710.8Z" fill="#fff" opacity="0.6" filter="url(#spE)"/><path d="M386.1,710.8C387,710.2 402.3,712.1 403.9,712.2C405.5,712.3 416.8,713.8 418.2,713.7C419.6,713.6 431.2,709.8 432.6,709.4C434,709 445.5,705.4 446.9,705.1C448.3,704.8 460.5,702.7 461.2,703.6C461.9,704.5 462.1,721.1 461.2,722.3C460.3,723.4 445.9,726.2 444,726.6C442.1,727 426,729.3 424,729.4C422,729.5 405.8,728.8 403.9,728.6C402,728.4 387,726 386.1,725.1C385.2,724.2 385.2,711.4 386.1,710.8Z" fill="#fff" opacity="0.6" filter="url(#spS)"/>
<path d="M386.1,710.8C387,710.2 402.3,712.1 403.9,712.2C405.5,712.3 416.8,713.8 418.2,713.7C419.6,713.6 431.2,709.8 432.6,709.4C434,709 445.5,705.4 446.9,705.1C448.3,704.8 460.5,702.7 461.2,703.6C461.9,704.5 462.1,721.1 461.2,722.3C460.3,723.4 445.9,726.2 444,726.6C442.1,727 426,729.3 424,729.4C422,729.5 405.8,728.8 403.9,728.6C402,728.4 387,726 386.1,725.1C385.2,724.2 385.2,711.4 386.1,710.8Z" fill="#fff" opacity="0.35" filter="url(#spG2)"/>
<path d="M465.5,709.5C466.8,708.7 487.8,708.2 490.6,708C493.4,707.8 518.4,706.4 521.2,706.4C524,706.4 543.6,706.8 545.7,707C547.8,707.2 563.2,709.9 564.1,711C565,712.1 565.5,728.6 564.1,729.4C562.7,730.2 539.4,728.1 536.5,727.9C533.6,727.7 509.4,726.5 505.9,726.3C502.3,726.1 467.5,724.1 465.5,723.3C463.5,722.5 464.2,710.3 465.5,709.5Z" fill="#ecebeb"/><path d="M465.5,709.5C466.8,708.7 487.8,708.2 490.6,708C493.4,707.8 518.4,706.4 521.2,706.4C524,706.4 543.6,706.8 545.7,707C547.8,707.2 563.2,709.9 564.1,711C565,712.1 565.5,728.6 564.1,729.4C562.7,730.2 539.4,728.1 536.5,727.9C533.6,727.7 509.4,726.5 505.9,726.3C502.3,726.1 467.5,724.1 465.5,723.3C463.5,722.5 464.2,710.3 465.5,709.5Z" fill="#fff" opacity="0.6" filter="url(#spE)"/><path d="M465.5,709.5C466.8,708.7 487.8,708.2 490.6,708C493.4,707.8 518.4,706.4 521.2,706.4C524,706.4 543.6,706.8 545.7,707C547.8,707.2 563.2,709.9 564.1,711C565,712.1 565.5,728.6 564.1,729.4C562.7,730.2 539.4,728.1 536.5,727.9C533.6,727.7 509.4,726.5 505.9,726.3C502.3,726.1 467.5,724.1 465.5,723.3C463.5,722.5 464.2,710.3 465.5,709.5Z" fill="#fff" opacity="0.6" filter="url(#spS)"/>
<path d="M465.5,709.5C466.8,708.7 487.8,708.2 490.6,708C493.4,707.8 518.4,706.4 521.2,706.4C524,706.4 543.6,706.8 545.7,707C547.8,707.2 563.2,709.9 564.1,711C565,712.1 565.5,728.6 564.1,729.4C562.7,730.2 539.4,728.1 536.5,727.9C533.6,727.7 509.4,726.5 505.9,726.3C502.3,726.1 467.5,724.1 465.5,723.3C463.5,722.5 464.2,710.3 465.5,709.5Z" fill="#fff" opacity="0.35" filter="url(#spG2)"/>
<path d="M569.3,699.3C570,698.7 581.4,698.6 583.3,698.8C585.2,699 604.2,702.4 606.5,702.8C608.8,703.2 628.1,706.1 629.8,706.3C631.5,706.5 639.7,705.4 640.2,706.3C640.7,707.2 640.7,723.5 640.2,724.9C639.7,726.3 631.5,733.5 629.8,734.2C628.1,734.9 608.8,738.7 606.5,738.8C604.2,738.9 585.1,737 583.3,736.5C581.5,736 571.2,729.7 570.5,728.4C569.8,727.1 569.4,712.4 569.3,710.9C569.2,709.4 568.6,699.9 569.3,699.3Z" fill="#ecebeb"/><path d="M569.3,699.3C570,698.7 581.4,698.6 583.3,698.8C585.2,699 604.2,702.4 606.5,702.8C608.8,703.2 628.1,706.1 629.8,706.3C631.5,706.5 639.7,705.4 640.2,706.3C640.7,707.2 640.7,723.5 640.2,724.9C639.7,726.3 631.5,733.5 629.8,734.2C628.1,734.9 608.8,738.7 606.5,738.8C604.2,738.9 585.1,737 583.3,736.5C581.5,736 571.2,729.7 570.5,728.4C569.8,727.1 569.4,712.4 569.3,710.9C569.2,709.4 568.6,699.9 569.3,699.3Z" fill="#fff" opacity="0.6" filter="url(#spE)"/><path d="M569.3,699.3C570,698.7 581.4,698.6 583.3,698.8C585.2,699 604.2,702.4 606.5,702.8C608.8,703.2 628.1,706.1 629.8,706.3C631.5,706.5 639.7,705.4 640.2,706.3C640.7,707.2 640.7,723.5 640.2,724.9C639.7,726.3 631.5,733.5 629.8,734.2C628.1,734.9 608.8,738.7 606.5,738.8C604.2,738.9 585.1,737 583.3,736.5C581.5,736 571.2,729.7 570.5,728.4C569.8,727.1 569.4,712.4 569.3,710.9C569.2,709.4 568.6,699.9 569.3,699.3Z" fill="#fff" opacity="0.6" filter="url(#spS)"/>
<path d="M569.3,699.3C570,698.7 581.4,698.6 583.3,698.8C585.2,699 604.2,702.4 606.5,702.8C608.8,703.2 628.1,706.1 629.8,706.3C631.5,706.5 639.7,705.4 640.2,706.3C640.7,707.2 640.7,723.5 640.2,724.9C639.7,726.3 631.5,733.5 629.8,734.2C628.1,734.9 608.8,738.7 606.5,738.8C604.2,738.9 585.1,737 583.3,736.5C581.5,736 571.2,729.7 570.5,728.4C569.8,727.1 569.4,712.4 569.3,710.9C569.2,709.4 568.6,699.9 569.3,699.3Z" fill="#fff" opacity="0.35" filter="url(#spG2)"/>
<path d="M39,705.2C40.2,704.4 61.2,707.5 63.3,707.8C65.4,708.1 78.6,711.4 80.2,711.6C81.8,711.8 92.8,712.4 95,712.4C97.2,712.4 122.1,711.8 123.5,712.6C124.9,713.4 124.4,727.7 123.5,728.5C122.6,729.3 107.5,729 105.6,729C103.6,729 86.6,729.6 84.5,729.5C82.4,729.4 65.6,727.3 63.3,727C61,726.7 40.2,724.3 39,723.2C37.8,722.1 37.8,706 39,705.2Z" fill="#de8a72"/><path d="M39,705.2C40.2,704.4 61.2,707.5 63.3,707.8C65.4,708.1 78.6,711.4 80.2,711.6C81.8,711.8 92.8,712.4 95,712.4C97.2,712.4 122.1,711.8 123.5,712.6C124.9,713.4 124.4,727.7 123.5,728.5C122.6,729.3 107.5,729 105.6,729C103.6,729 86.6,729.6 84.5,729.5C82.4,729.4 65.6,727.3 63.3,727C61,726.7 40.2,724.3 39,723.2C37.8,722.1 37.8,706 39,705.2Z" fill="#fff" opacity="0.5" filter="url(#spE)"/><path d="M39,705.2C40.2,704.4 61.2,707.5 63.3,707.8C65.4,708.1 78.6,711.4 80.2,711.6C81.8,711.8 92.8,712.4 95,712.4C97.2,712.4 122.1,711.8 123.5,712.6C124.9,713.4 124.4,727.7 123.5,728.5C122.6,729.3 107.5,729 105.6,729C103.6,729 86.6,729.6 84.5,729.5C82.4,729.4 65.6,727.3 63.3,727C61,726.7 40.2,724.3 39,723.2C37.8,722.1 37.8,706 39,705.2Z" fill="#fff" opacity="0.5" filter="url(#spS)"/><path d="M39,705.2C40.2,704.4 61.2,707.5 63.3,707.8C65.4,708.1 78.6,711.4 80.2,711.6C81.8,711.8 92.8,712.4 95,712.4C97.2,712.4 122.1,711.8 123.5,712.6C124.9,713.4 124.4,727.7 123.5,728.5C122.6,729.3 107.5,729 105.6,729C103.6,729 86.6,729.6 84.5,729.5C82.4,729.4 65.6,727.3 63.3,727C61,726.7 40.2,724.3 39,723.2C37.8,722.1 37.8,706 39,705.2Z" fill="#fff" opacity="0.5" filter="url(#spB)"/>
<path d="M129,715.4C129.8,715 143.5,721.5 145,722C146.5,722.5 157.6,725.4 158.9,725.5C160.2,725.6 170.6,724.9 172,724.5C173.4,724.1 184.1,718.8 186,718.1C187.9,717.4 209.3,709.5 210.5,709.9C211.7,710.3 211.7,725.1 210.5,726.2C209.3,727.3 188.2,731.1 186,731.6C183.8,732.1 167.7,735.6 165.7,735.7C163.7,735.8 147.2,734.6 145.4,734.3C143.6,734 129.8,731.2 129,730.3C128.2,729.4 128.2,715.8 129,715.4Z" fill="#eba996"/><path d="M129,715.4C129.8,715 143.5,721.5 145,722C146.5,722.5 157.6,725.4 158.9,725.5C160.2,725.6 170.6,724.9 172,724.5C173.4,724.1 184.1,718.8 186,718.1C187.9,717.4 209.3,709.5 210.5,709.9C211.7,710.3 211.7,725.1 210.5,726.2C209.3,727.3 188.2,731.1 186,731.6C183.8,732.1 167.7,735.6 165.7,735.7C163.7,735.8 147.2,734.6 145.4,734.3C143.6,734 129.8,731.2 129,730.3C128.2,729.4 128.2,715.8 129,715.4Z" fill="#fff" opacity="0.55" filter="url(#spE)"/><path d="M129,715.4C129.8,715 143.5,721.5 145,722C146.5,722.5 157.6,725.4 158.9,725.5C160.2,725.6 170.6,724.9 172,724.5C173.4,724.1 184.1,718.8 186,718.1C187.9,717.4 209.3,709.5 210.5,709.9C211.7,710.3 211.7,725.1 210.5,726.2C209.3,727.3 188.2,731.1 186,731.6C183.8,732.1 167.7,735.6 165.7,735.7C163.7,735.8 147.2,734.6 145.4,734.3C143.6,734 129.8,731.2 129,730.3C128.2,729.4 128.2,715.8 129,715.4Z" fill="#fff" opacity="0.55" filter="url(#spS)"/><path d="M129,715.4C129.8,715 143.5,721.5 145,722C146.5,722.5 157.6,725.4 158.9,725.5C160.2,725.6 170.6,724.9 172,724.5C173.4,724.1 184.1,718.8 186,718.1C187.9,717.4 209.3,709.5 210.5,709.9C211.7,710.3 211.7,725.1 210.5,726.2C209.3,727.3 188.2,731.1 186,731.6C183.8,732.1 167.7,735.6 165.7,735.7C163.7,735.8 147.2,734.6 145.4,734.3C143.6,734 129.8,731.2 129,730.3C128.2,729.4 128.2,715.8 129,715.4Z" fill="#fff" opacity="0.3" filter="url(#spB)"/>
<path d="M217.5,711C217.7,710.6 220.2,708.2 221,708.5C221.8,708.8 232.7,716.3 234.4,717C236.1,717.7 252.8,721.7 254.8,721.8C256.8,721.9 271.8,720.3 273.8,719.8C275.8,719.3 294.4,711.5 295.5,711.6C296.6,711.8 296.4,722 295.5,722.8C294.6,723.6 279.8,727.8 277.8,728.2C275.8,728.6 257.2,731.7 254.8,731.6C252.4,731.5 232.3,726.2 230.4,725.5C228.5,724.8 218.1,717.4 217.5,716.7C216.9,716 217.3,711.4 217.5,711Z" fill="#f0baa8" opacity="0.55"/>
<path d="M221,709.5 Q240,721 255,722.8 Q275,722 295,712.6" stroke="#d86a50" stroke-width="1.3" fill="none" opacity="0.75"/>
<circle cx="276.5" cy="716" r="2.3" fill="none" stroke="#d07060" stroke-width="1"/>
<circle cx="140.6" cy="710.6" r="2.2" fill="none" stroke="#c86050" stroke-width="1.1"/>
<circle cx="156.2" cy="716.7" r="0.9" fill="#888"/>
<path d="M301.3,698.8C301.8,698.2 311.1,700.5 312.2,700.8C313.3,701.1 322.4,704.7 323.7,705.1C325,705.5 336.6,707.8 338,707.9C339.4,708 350.9,706.6 352.3,706.5C353.7,706.4 365.3,705.3 366.7,705.1C368.1,704.9 380.3,702.2 381,702.8C381.7,703.4 381.7,715.8 381,716.5C380.3,717.2 368.8,717.4 366.7,717.5C364.6,717.6 340.3,719.5 338,719.4C335.7,719.3 321.8,716.4 320,716C318.2,715.6 302.2,713.1 301.3,712.2C300.4,711.3 300.8,699.4 301.3,698.8Z" fill="#dc6244"/><path d="M301.3,698.8C301.8,698.2 311.1,700.5 312.2,700.8C313.3,701.1 322.4,704.7 323.7,705.1C325,705.5 336.6,707.8 338,707.9C339.4,708 350.9,706.6 352.3,706.5C353.7,706.4 365.3,705.3 366.7,705.1C368.1,704.9 380.3,702.2 381,702.8C381.7,703.4 381.7,715.8 381,716.5C380.3,717.2 368.8,717.4 366.7,717.5C364.6,717.6 340.3,719.5 338,719.4C335.7,719.3 321.8,716.4 320,716C318.2,715.6 302.2,713.1 301.3,712.2C300.4,711.3 300.8,699.4 301.3,698.8Z" fill="#fff" opacity="0.4" filter="url(#spE)"/><path d="M301.3,698.8C301.8,698.2 311.1,700.5 312.2,700.8C313.3,701.1 322.4,704.7 323.7,705.1C325,705.5 336.6,707.8 338,707.9C339.4,708 350.9,706.6 352.3,706.5C353.7,706.4 365.3,705.3 366.7,705.1C368.1,704.9 380.3,702.2 381,702.8C381.7,703.4 381.7,715.8 381,716.5C380.3,717.2 368.8,717.4 366.7,717.5C364.6,717.6 340.3,719.5 338,719.4C335.7,719.3 321.8,716.4 320,716C318.2,715.6 302.2,713.1 301.3,712.2C300.4,711.3 300.8,699.4 301.3,698.8Z" fill="#fff" opacity="0.4" filter="url(#spS)"/><path d="M301.3,698.8C301.8,698.2 311.1,700.5 312.2,700.8C313.3,701.1 322.4,704.7 323.7,705.1C325,705.5 336.6,707.8 338,707.9C339.4,708 350.9,706.6 352.3,706.5C353.7,706.4 365.3,705.3 366.7,705.1C368.1,704.9 380.3,702.2 381,702.8C381.7,703.4 381.7,715.8 381,716.5C380.3,717.2 368.8,717.4 366.7,717.5C364.6,717.6 340.3,719.5 338,719.4C335.7,719.3 321.8,716.4 320,716C318.2,715.6 302.2,713.1 301.3,712.2C300.4,711.3 300.8,699.4 301.3,698.8Z" fill="#fff" opacity="0.9" filter="url(#spB)"/>
<path d="M386.1,714C387,713.7 402.3,715.8 403.9,716C405.5,716.2 416.8,718.1 418.2,718C419.6,717.9 431.2,714.4 432.6,714C434,713.6 445.5,710.3 446.9,710C448.3,709.7 460.5,708 461.2,708.5C461.9,709 462.1,718.3 461.2,719C460.3,719.7 445.9,722.7 444,723C442.1,723.3 426,725.4 424,725.5C422,725.6 405.8,725.2 403.9,725C402,724.8 387,722.5 386.1,722C385.2,721.5 385.2,714.3 386.1,714Z" fill="#e8927c"/><path d="M386.1,714C387,713.7 402.3,715.8 403.9,716C405.5,716.2 416.8,718.1 418.2,718C419.6,717.9 431.2,714.4 432.6,714C434,713.6 445.5,710.3 446.9,710C448.3,709.7 460.5,708 461.2,708.5C461.9,709 462.1,718.3 461.2,719C460.3,719.7 445.9,722.7 444,723C442.1,723.3 426,725.4 424,725.5C422,725.6 405.8,725.2 403.9,725C402,724.8 387,722.5 386.1,722C385.2,721.5 385.2,714.3 386.1,714Z" fill="#fff" opacity="0.5" filter="url(#spE)"/><path d="M386.1,714C387,713.7 402.3,715.8 403.9,716C405.5,716.2 416.8,718.1 418.2,718C419.6,717.9 431.2,714.4 432.6,714C434,713.6 445.5,710.3 446.9,710C448.3,709.7 460.5,708 461.2,708.5C461.9,709 462.1,718.3 461.2,719C460.3,719.7 445.9,722.7 444,723C442.1,723.3 426,725.4 424,725.5C422,725.6 405.8,725.2 403.9,725C402,724.8 387,722.5 386.1,722C385.2,721.5 385.2,714.3 386.1,714Z" fill="#fff" opacity="0.5" filter="url(#spS)"/>
<path d="M386.1,710.8C387,710.2 402.3,712.1 403.9,712.2C405.5,712.3 416.8,713.8 418.2,713.7C419.6,713.6 431.2,709.8 432.6,709.4C434,709 445.5,705.4 446.9,705.1C448.3,704.8 460.5,702.7 461.2,703.6C461.9,704.5 462.1,721.1 461.2,722.3C460.3,723.4 445.9,726.2 444,726.6C442.1,727 426,729.3 424,729.4C422,729.5 405.8,728.8 403.9,728.6C402,728.4 387,726 386.1,725.1C385.2,724.2 385.2,711.4 386.1,710.8Z" fill="#fff" opacity="0.5" filter="url(#spRS)"/>
<path d="M465.5,709.5C466.8,708.7 487.8,708.2 490.6,708C493.4,707.8 518.4,706.4 521.2,706.4C524,706.4 543.6,706.8 545.7,707C547.8,707.2 563.2,709.9 564.1,711C565,712.1 565.5,728.6 564.1,729.4C562.7,730.2 539.4,728.1 536.5,727.9C533.6,727.7 509.4,726.5 505.9,726.3C502.3,726.1 467.5,724.1 465.5,723.3C463.5,722.5 464.2,710.3 465.5,709.5Z" fill="#f2c6b8" opacity="0.25"/>
<path d="M465.5,709.5C466.8,708.7 487.8,708.2 490.6,708C493.4,707.8 518.4,706.4 521.2,706.4C524,706.4 543.6,706.8 545.7,707C547.8,707.2 563.2,709.9 564.1,711C565,712.1 565.5,728.6 564.1,729.4C562.7,730.2 539.4,728.1 536.5,727.9C533.6,727.7 509.4,726.5 505.9,726.3C502.3,726.1 467.5,724.1 465.5,723.3C463.5,722.5 464.2,710.3 465.5,709.5Z" fill="#fff" opacity="0.75" filter="url(#spRS)"/>
<path d="M39,761.5C40.2,760.3 61,758.7 63.3,758.4C65.6,758.1 82.4,756.4 84.5,756.3C86.6,756.2 103.6,757.1 105.6,757.3C107.5,757.5 122.6,758.1 123.5,759.5C124.4,760.9 124.4,784.4 123.5,785.8C122.6,787.2 107.5,787.8 105.6,788C103.6,788.2 86.6,789.1 84.5,789C82.4,788.9 65.6,787.2 63.3,786.9C61,786.6 40.2,784 39,782.7C37.8,781.4 37.8,762.7 39,761.5Z" fill="#ecebeb"/><path d="M39,761.5C40.2,760.3 61,758.7 63.3,758.4C65.6,758.1 82.4,756.4 84.5,756.3C86.6,756.2 103.6,757.1 105.6,757.3C107.5,757.5 122.6,758.1 123.5,759.5C124.4,760.9 124.4,784.4 123.5,785.8C122.6,787.2 107.5,787.8 105.6,788C103.6,788.2 86.6,789.1 84.5,789C82.4,788.9 65.6,787.2 63.3,786.9C61,786.6 40.2,784 39,782.7C37.8,781.4 37.8,762.7 39,761.5Z" fill="#fff" opacity="0.6" filter="url(#spE)"/><path d="M39,761.5C40.2,760.3 61,758.7 63.3,758.4C65.6,758.1 82.4,756.4 84.5,756.3C86.6,756.2 103.6,757.1 105.6,757.3C107.5,757.5 122.6,758.1 123.5,759.5C124.4,760.9 124.4,784.4 123.5,785.8C122.6,787.2 107.5,787.8 105.6,788C103.6,788.2 86.6,789.1 84.5,789C82.4,788.9 65.6,787.2 63.3,786.9C61,786.6 40.2,784 39,782.7C37.8,781.4 37.8,762.7 39,761.5Z" fill="#fff" opacity="0.6" filter="url(#spS)"/>
<path d="M39,761.5C40.2,760.3 61,758.7 63.3,758.4C65.6,758.1 82.4,756.4 84.5,756.3C86.6,756.2 103.6,757.1 105.6,757.3C107.5,757.5 122.6,758.1 123.5,759.5C124.4,760.9 124.4,784.4 123.5,785.8C122.6,787.2 107.5,787.8 105.6,788C103.6,788.2 86.6,789.1 84.5,789C82.4,788.9 65.6,787.2 63.3,786.9C61,786.6 40.2,784 39,782.7C37.8,781.4 37.8,762.7 39,761.5Z" fill="#fff" opacity="0.35" filter="url(#spG2)"/>
<path d="M129,758.7C129.5,757.4 137.7,757.8 138.6,758C139.5,758.2 146,762.8 147,763.5C148,764.2 157.8,770.9 158.9,771.5C160.1,772.1 168.6,775.1 170,775C171.4,774.9 184.5,770 186,769.5C187.5,769 198.8,765.4 200,765C201.2,764.6 210,760.7 210.5,761.4C211,762.1 211.7,778.5 210.5,779.7C209.3,780.9 188.2,784.6 186,785.1C183.8,785.6 167.7,789.1 165.7,789.2C163.7,789.3 147.2,788.1 145.4,787.8C143.6,787.5 129.8,785.3 129,783.8C128.2,782.3 128.5,760 129,758.7Z" fill="#ecebeb"/><path d="M129,758.7C129.5,757.4 137.7,757.8 138.6,758C139.5,758.2 146,762.8 147,763.5C148,764.2 157.8,770.9 158.9,771.5C160.1,772.1 168.6,775.1 170,775C171.4,774.9 184.5,770 186,769.5C187.5,769 198.8,765.4 200,765C201.2,764.6 210,760.7 210.5,761.4C211,762.1 211.7,778.5 210.5,779.7C209.3,780.9 188.2,784.6 186,785.1C183.8,785.6 167.7,789.1 165.7,789.2C163.7,789.3 147.2,788.1 145.4,787.8C143.6,787.5 129.8,785.3 129,783.8C128.2,782.3 128.5,760 129,758.7Z" fill="#fff" opacity="0.6" filter="url(#spE)"/><path d="M129,758.7C129.5,757.4 137.7,757.8 138.6,758C139.5,758.2 146,762.8 147,763.5C148,764.2 157.8,770.9 158.9,771.5C160.1,772.1 168.6,775.1 170,775C171.4,774.9 184.5,770 186,769.5C187.5,769 198.8,765.4 200,765C201.2,764.6 210,760.7 210.5,761.4C211,762.1 211.7,778.5 210.5,779.7C209.3,780.9 188.2,784.6 186,785.1C183.8,785.6 167.7,789.1 165.7,789.2C163.7,789.3 147.2,788.1 145.4,787.8C143.6,787.5 129.8,785.3 129,783.8C128.2,782.3 128.5,760 129,758.7Z" fill="#fff" opacity="0.6" filter="url(#spS)"/>
<path d="M129,758.7C129.5,757.4 137.7,757.8 138.6,758C139.5,758.2 146,762.8 147,763.5C148,764.2 157.8,770.9 158.9,771.5C160.1,772.1 168.6,775.1 170,775C171.4,774.9 184.5,770 186,769.5C187.5,769 198.8,765.4 200,765C201.2,764.6 210,760.7 210.5,761.4C211,762.1 211.7,778.5 210.5,779.7C209.3,780.9 188.2,784.6 186,785.1C183.8,785.6 167.7,789.1 165.7,789.2C163.7,789.3 147.2,788.1 145.4,787.8C143.6,787.5 129.8,785.3 129,783.8C128.2,782.3 128.5,760 129,758.7Z" fill="#fff" opacity="0.35" filter="url(#spG2)"/>
<path d="M217.5,764.5C217.7,764.1 220.2,761.7 221,762C221.8,762.3 232.7,769.8 234.4,770.5C236.1,771.2 252.8,775.2 254.8,775.3C256.8,775.4 271.8,773.8 273.8,773.3C275.8,772.8 294.4,765 295.5,765.1C296.6,765.2 296.4,775.5 295.5,776.3C294.6,777.1 279.8,781.3 277.8,781.7C275.8,782.1 257.2,785.2 254.8,785.1C252.4,785 232.3,779.7 230.4,779C228.5,778.3 218.1,770.9 217.5,770.2C216.9,769.5 217.3,764.9 217.5,764.5Z" fill="#ecebeb"/><path d="M217.5,764.5C217.7,764.1 220.2,761.7 221,762C221.8,762.3 232.7,769.8 234.4,770.5C236.1,771.2 252.8,775.2 254.8,775.3C256.8,775.4 271.8,773.8 273.8,773.3C275.8,772.8 294.4,765 295.5,765.1C296.6,765.2 296.4,775.5 295.5,776.3C294.6,777.1 279.8,781.3 277.8,781.7C275.8,782.1 257.2,785.2 254.8,785.1C252.4,785 232.3,779.7 230.4,779C228.5,778.3 218.1,770.9 217.5,770.2C216.9,769.5 217.3,764.9 217.5,764.5Z" fill="#fff" opacity="0.6" filter="url(#spE)"/><path d="M217.5,764.5C217.7,764.1 220.2,761.7 221,762C221.8,762.3 232.7,769.8 234.4,770.5C236.1,771.2 252.8,775.2 254.8,775.3C256.8,775.4 271.8,773.8 273.8,773.3C275.8,772.8 294.4,765 295.5,765.1C296.6,765.2 296.4,775.5 295.5,776.3C294.6,777.1 279.8,781.3 277.8,781.7C275.8,782.1 257.2,785.2 254.8,785.1C252.4,785 232.3,779.7 230.4,779C228.5,778.3 218.1,770.9 217.5,770.2C216.9,769.5 217.3,764.9 217.5,764.5Z" fill="#fff" opacity="0.6" filter="url(#spS)"/>
<path d="M217.5,764.5C217.7,764.1 220.2,761.7 221,762C221.8,762.3 232.7,769.8 234.4,770.5C236.1,771.2 252.8,775.2 254.8,775.3C256.8,775.4 271.8,773.8 273.8,773.3C275.8,772.8 294.4,765 295.5,765.1C296.6,765.2 296.4,775.5 295.5,776.3C294.6,777.1 279.8,781.3 277.8,781.7C275.8,782.1 257.2,785.2 254.8,785.1C252.4,785 232.3,779.7 230.4,779C228.5,778.3 218.1,770.9 217.5,770.2C216.9,769.5 217.3,764.9 217.5,764.5Z" fill="#fff" opacity="0.35" filter="url(#spG2)"/>
<path d="M301.3,752.3C301.8,750.7 311.1,754 312.2,754.3C313.3,754.6 322.4,758.2 323.7,758.6C325,759 336.6,761.3 338,761.4C339.4,761.5 350.9,760.1 352.3,760C353.7,759.9 365.3,758.8 366.7,758.6C368.1,758.4 380.3,755 381,756.3C381.7,757.6 381.7,782.9 381,784.4C380.3,785.9 368.8,786.9 366.7,787.2C364.6,787.5 340.7,790 338,790.1C335.3,790.2 314,788.9 312.2,788.7C310.4,788.5 301.8,787.6 301.3,785.8C300.8,784 300.8,753.9 301.3,752.3Z" fill="#ecebeb"/><path d="M301.3,752.3C301.8,750.7 311.1,754 312.2,754.3C313.3,754.6 322.4,758.2 323.7,758.6C325,759 336.6,761.3 338,761.4C339.4,761.5 350.9,760.1 352.3,760C353.7,759.9 365.3,758.8 366.7,758.6C368.1,758.4 380.3,755 381,756.3C381.7,757.6 381.7,782.9 381,784.4C380.3,785.9 368.8,786.9 366.7,787.2C364.6,787.5 340.7,790 338,790.1C335.3,790.2 314,788.9 312.2,788.7C310.4,788.5 301.8,787.6 301.3,785.8C300.8,784 300.8,753.9 301.3,752.3Z" fill="#fff" opacity="0.6" filter="url(#spE)"/><path d="M301.3,752.3C301.8,750.7 311.1,754 312.2,754.3C313.3,754.6 322.4,758.2 323.7,758.6C325,759 336.6,761.3 338,761.4C339.4,761.5 350.9,760.1 352.3,760C353.7,759.9 365.3,758.8 366.7,758.6C368.1,758.4 380.3,755 381,756.3C381.7,757.6 381.7,782.9 381,784.4C380.3,785.9 368.8,786.9 366.7,787.2C364.6,787.5 340.7,790 338,790.1C335.3,790.2 314,788.9 312.2,788.7C310.4,788.5 301.8,787.6 301.3,785.8C300.8,784 300.8,753.9 301.3,752.3Z" fill="#fff" opacity="0.6" filter="url(#spS)"/>
<path d="M301.3,752.3C301.8,750.7 311.1,754 312.2,754.3C313.3,754.6 322.4,758.2 323.7,758.6C325,759 336.6,761.3 338,761.4C339.4,761.5 350.9,760.1 352.3,760C353.7,759.9 365.3,758.8 366.7,758.6C368.1,758.4 380.3,755 381,756.3C381.7,757.6 381.7,782.9 381,784.4C380.3,785.9 368.8,786.9 366.7,787.2C364.6,787.5 340.7,790 338,790.1C335.3,790.2 314,788.9 312.2,788.7C310.4,788.5 301.8,787.6 301.3,785.8C300.8,784 300.8,753.9 301.3,752.3Z" fill="#fff" opacity="0.35" filter="url(#spG2)"/>
<path d="M386.1,764.3C387,763.7 402.3,765.6 403.9,765.7C405.5,765.8 416.8,767.3 418.2,767.2C419.6,767.1 431.2,763.3 432.6,762.9C434,762.5 445.5,758.9 446.9,758.6C448.3,758.3 460.5,756.2 461.2,757.1C461.9,758 462.1,774.6 461.2,775.8C460.3,776.9 445.9,779.7 444,780.1C442.1,780.5 426,782.8 424,782.9C422,783 405.8,782.3 403.9,782.1C402,781.9 387,779.5 386.1,778.6C385.2,777.7 385.2,764.9 386.1,764.3Z" fill="#ecebeb"/><path d="M386.1,764.3C387,763.7 402.3,765.6 403.9,765.7C405.5,765.8 416.8,767.3 418.2,767.2C419.6,767.1 431.2,763.3 432.6,762.9C434,762.5 445.5,758.9 446.9,758.6C448.3,758.3 460.5,756.2 461.2,757.1C461.9,758 462.1,774.6 461.2,775.8C460.3,776.9 445.9,779.7 444,780.1C442.1,780.5 426,782.8 424,782.9C422,783 405.8,782.3 403.9,782.1C402,781.9 387,779.5 386.1,778.6C385.2,777.7 385.2,764.9 386.1,764.3Z" fill="#fff" opacity="0.6" filter="url(#spE)"/><path d="M386.1,764.3C387,763.7 402.3,765.6 403.9,765.7C405.5,765.8 416.8,767.3 418.2,767.2C419.6,767.1 431.2,763.3 432.6,762.9C434,762.5 445.5,758.9 446.9,758.6C448.3,758.3 460.5,756.2 461.2,757.1C461.9,758 462.1,774.6 461.2,775.8C460.3,776.9 445.9,779.7 444,780.1C442.1,780.5 426,782.8 424,782.9C422,783 405.8,782.3 403.9,782.1C402,781.9 387,779.5 386.1,778.6C385.2,777.7 385.2,764.9 386.1,764.3Z" fill="#fff" opacity="0.6" filter="url(#spS)"/>
<path d="M386.1,764.3C387,763.7 402.3,765.6 403.9,765.7C405.5,765.8 416.8,767.3 418.2,767.2C419.6,767.1 431.2,763.3 432.6,762.9C434,762.5 445.5,758.9 446.9,758.6C448.3,758.3 460.5,756.2 461.2,757.1C461.9,758 462.1,774.6 461.2,775.8C460.3,776.9 445.9,779.7 444,780.1C442.1,780.5 426,782.8 424,782.9C422,783 405.8,782.3 403.9,782.1C402,781.9 387,779.5 386.1,778.6C385.2,777.7 385.2,764.9 386.1,764.3Z" fill="#fff" opacity="0.35" filter="url(#spG2)"/>
<path d="M465.5,763C466.8,762.2 487.8,761.7 490.6,761.5C493.4,761.3 518.4,759.9 521.2,759.9C524,759.9 543.6,760.3 545.7,760.5C547.8,760.7 563.2,763.4 564.1,764.5C565,765.6 565.5,782.1 564.1,782.9C562.7,783.7 539.4,781.6 536.5,781.4C533.6,781.2 509.4,780 505.9,779.8C502.3,779.6 467.5,777.6 465.5,776.8C463.5,776 464.2,763.8 465.5,763Z" fill="#ecebeb"/><path d="M465.5,763C466.8,762.2 487.8,761.7 490.6,761.5C493.4,761.3 518.4,759.9 521.2,759.9C524,759.9 543.6,760.3 545.7,760.5C547.8,760.7 563.2,763.4 564.1,764.5C565,765.6 565.5,782.1 564.1,782.9C562.7,783.7 539.4,781.6 536.5,781.4C533.6,781.2 509.4,780 505.9,779.8C502.3,779.6 467.5,777.6 465.5,776.8C463.5,776 464.2,763.8 465.5,763Z" fill="#fff" opacity="0.6" filter="url(#spE)"/><path d="M465.5,763C466.8,762.2 487.8,761.7 490.6,761.5C493.4,761.3 518.4,759.9 521.2,759.9C524,759.9 543.6,760.3 545.7,760.5C547.8,760.7 563.2,763.4 564.1,764.5C565,765.6 565.5,782.1 564.1,782.9C562.7,783.7 539.4,781.6 536.5,781.4C533.6,781.2 509.4,780 505.9,779.8C502.3,779.6 467.5,777.6 465.5,776.8C463.5,776 464.2,763.8 465.5,763Z" fill="#fff" opacity="0.6" filter="url(#spS)"/>
<path d="M465.5,763C466.8,762.2 487.8,761.7 490.6,761.5C493.4,761.3 518.4,759.9 521.2,759.9C524,759.9 543.6,760.3 545.7,760.5C547.8,760.7 563.2,763.4 564.1,764.5C565,765.6 565.5,782.1 564.1,782.9C562.7,783.7 539.4,781.6 536.5,781.4C533.6,781.2 509.4,780 505.9,779.8C502.3,779.6 467.5,777.6 465.5,776.8C463.5,776 464.2,763.8 465.5,763Z" fill="#fff" opacity="0.35" filter="url(#spG2)"/>
<path d="M569.3,752.8C570,752.2 581.4,752.1 583.3,752.3C585.2,752.5 604.2,755.9 606.5,756.3C608.8,756.7 628.1,759.6 629.8,759.8C631.5,760 639.7,758.9 640.2,759.8C640.7,760.7 640.7,777 640.2,778.4C639.7,779.8 631.5,787 629.8,787.7C628.1,788.4 608.8,792.2 606.5,792.3C604.2,792.4 585.1,790.5 583.3,790C581.5,789.5 571.2,783.2 570.5,781.9C569.8,780.6 569.4,765.9 569.3,764.4C569.2,762.9 568.6,753.4 569.3,752.8Z" fill="#ecebeb"/><path d="M569.3,752.8C570,752.2 581.4,752.1 583.3,752.3C585.2,752.5 604.2,755.9 606.5,756.3C608.8,756.7 628.1,759.6 629.8,759.8C631.5,760 639.7,758.9 640.2,759.8C640.7,760.7 640.7,777 640.2,778.4C639.7,779.8 631.5,787 629.8,787.7C628.1,788.4 608.8,792.2 606.5,792.3C604.2,792.4 585.1,790.5 583.3,790C581.5,789.5 571.2,783.2 570.5,781.9C569.8,780.6 569.4,765.9 569.3,764.4C569.2,762.9 568.6,753.4 569.3,752.8Z" fill="#fff" opacity="0.6" filter="url(#spE)"/><path d="M569.3,752.8C570,752.2 581.4,752.1 583.3,752.3C585.2,752.5 604.2,755.9 606.5,756.3C608.8,756.7 628.1,759.6 629.8,759.8C631.5,760 639.7,758.9 640.2,759.8C640.7,760.7 640.7,777 640.2,778.4C639.7,779.8 631.5,787 629.8,787.7C628.1,788.4 608.8,792.2 606.5,792.3C604.2,792.4 585.1,790.5 583.3,790C581.5,789.5 571.2,783.2 570.5,781.9C569.8,780.6 569.4,765.9 569.3,764.4C569.2,762.9 568.6,753.4 569.3,752.8Z" fill="#fff" opacity="0.6" filter="url(#spS)"/>
<path d="M569.3,752.8C570,752.2 581.4,752.1 583.3,752.3C585.2,752.5 604.2,755.9 606.5,756.3C608.8,756.7 628.1,759.6 629.8,759.8C631.5,760 639.7,758.9 640.2,759.8C640.7,760.7 640.7,777 640.2,778.4C639.7,779.8 631.5,787 629.8,787.7C628.1,788.4 608.8,792.2 606.5,792.3C604.2,792.4 585.1,790.5 583.3,790C581.5,789.5 571.2,783.2 570.5,781.9C569.8,780.6 569.4,765.9 569.3,764.4C569.2,762.9 568.6,753.4 569.3,752.8Z" fill="#fff" opacity="0.35" filter="url(#spG2)"/>
<path d="M301.3,767.5C302.2,767 318.2,771.2 320,771.5C321.8,771.8 335.7,774 338,774C340.3,774 364.6,771.7 366.7,771.5C368.8,771.3 380.3,769.1 381,769.5C381.7,769.9 381.7,779.7 381,780.4C380.3,781.1 368.8,782.9 366.7,783.2C364.6,783.5 340.7,786 338,786.1C335.3,786.2 314,784.9 312.2,784.7C310.4,784.5 301.8,782.7 301.3,781.8C300.8,780.9 300.4,768 301.3,767.5Z" fill="#fff" opacity="0.85" filter="url(#spRS)"/>
<path d="M301.3,752.3C301.8,750.7 311.1,754 312.2,754.3C313.3,754.6 322.4,758.2 323.7,758.6C325,759 336.6,761.3 338,761.4C339.4,761.5 350.9,760.1 352.3,760C353.7,759.9 365.3,758.8 366.7,758.6C368.1,758.4 380.3,755 381,756.3C381.7,757.6 381.7,782.9 381,784.4C380.3,785.9 368.8,786.9 366.7,787.2C364.6,787.5 340.7,790 338,790.1C335.3,790.2 314,788.9 312.2,788.7C310.4,788.5 301.8,787.6 301.3,785.8C300.8,784 300.8,753.9 301.3,752.3Z" fill="#fff" opacity="0.4" filter="url(#spRR)"/>
<path d="M465.5,763C466.8,762.2 487.8,761.7 490.6,761.5C493.4,761.3 518.4,759.9 521.2,759.9C524,759.9 543.6,760.3 545.7,760.5C547.8,760.7 563.2,763.4 564.1,764.5C565,765.6 565.5,782.1 564.1,782.9C562.7,783.7 539.4,781.6 536.5,781.4C533.6,781.2 509.4,780 505.9,779.8C502.3,779.6 467.5,777.6 465.5,776.8C463.5,776 464.2,763.8 465.5,763Z" fill="#fff" opacity="0.6" filter="url(#spRS)"/>
<path d="M386.1,764.3C387,763.7 402.3,765.6 403.9,765.7C405.5,765.8 416.8,767.3 418.2,767.2C419.6,767.1 431.2,763.3 432.6,762.9C434,762.5 445.5,758.9 446.9,758.6C448.3,758.3 460.5,756.2 461.2,757.1C461.9,758 462.1,774.6 461.2,775.8C460.3,776.9 445.9,779.7 444,780.1C442.1,780.5 426,782.8 424,782.9C422,783 405.8,782.3 403.9,782.1C402,781.9 387,779.5 386.1,778.6C385.2,777.7 385.2,764.9 386.1,764.3Z" fill="#fff" opacity="0.3" filter="url(#spRR)"/>
<path d="M569.3,765.5C570,764.8 583.1,768.2 585,768.5C586.9,768.8 604.5,771.4 606.5,771.5C608.5,771.6 623.3,771.7 625,771.5C626.7,771.3 639.4,767.2 640.2,767.5C641,767.8 640.7,777.4 640.2,778.4C639.7,779.4 631.5,787 629.8,787.7C628.1,788.4 608.8,792.2 606.5,792.3C604.2,792.4 585.1,790.5 583.3,790C581.5,789.5 571.2,783.1 570.5,781.9C569.8,780.7 568.6,766.2 569.3,765.5Z" fill="#eeb4a2"/><path d="M569.3,765.5C570,764.8 583.1,768.2 585,768.5C586.9,768.8 604.5,771.4 606.5,771.5C608.5,771.6 623.3,771.7 625,771.5C626.7,771.3 639.4,767.2 640.2,767.5C641,767.8 640.7,777.4 640.2,778.4C639.7,779.4 631.5,787 629.8,787.7C628.1,788.4 608.8,792.2 606.5,792.3C604.2,792.4 585.1,790.5 583.3,790C581.5,789.5 571.2,783.1 570.5,781.9C569.8,780.7 568.6,766.2 569.3,765.5Z" fill="#fff" opacity="0.45" filter="url(#spE)"/><path d="M569.3,765.5C570,764.8 583.1,768.2 585,768.5C586.9,768.8 604.5,771.4 606.5,771.5C608.5,771.6 623.3,771.7 625,771.5C626.7,771.3 639.4,767.2 640.2,767.5C641,767.8 640.7,777.4 640.2,778.4C639.7,779.4 631.5,787 629.8,787.7C628.1,788.4 608.8,792.2 606.5,792.3C604.2,792.4 585.1,790.5 583.3,790C581.5,789.5 571.2,783.1 570.5,781.9C569.8,780.7 568.6,766.2 569.3,765.5Z" fill="#fff" opacity="0.45" filter="url(#spS)"/><path d="M569.3,765.5C570,764.8 583.1,768.2 585,768.5C586.9,768.8 604.5,771.4 606.5,771.5C608.5,771.6 623.3,771.7 625,771.5C626.7,771.3 639.4,767.2 640.2,767.5C641,767.8 640.7,777.4 640.2,778.4C639.7,779.4 631.5,787 629.8,787.7C628.1,788.4 608.8,792.2 606.5,792.3C604.2,792.4 585.1,790.5 583.3,790C581.5,789.5 571.2,783.1 570.5,781.9C569.8,780.7 568.6,766.2 569.3,765.5Z" fill="#fff" opacity="0.45" filter="url(#spB)"/>
<path d="M569.3,752.8C570,752.2 581.4,752.1 583.3,752.3C585.2,752.5 604.2,755.9 606.5,756.3C608.8,756.7 628.1,759.6 629.8,759.8C631.5,760 639.7,758.9 640.2,759.8C640.7,760.7 640.7,777 640.2,778.4C639.7,779.8 631.5,787 629.8,787.7C628.1,788.4 608.8,792.2 606.5,792.3C604.2,792.4 585.1,790.5 583.3,790C581.5,789.5 571.2,783.2 570.5,781.9C569.8,780.6 569.4,765.9 569.3,764.4C569.2,762.9 568.6,753.4 569.3,752.8Z" fill="#fff" opacity="0.55" filter="url(#spRS)"/>
<path d="M39,812.5C40.2,811.3 61,809.7 63.3,809.4C65.6,809.1 82.4,807.4 84.5,807.3C86.6,807.2 103.6,808.1 105.6,808.3C107.5,808.5 122.6,809.1 123.5,810.5C124.4,811.9 124.4,835.4 123.5,836.8C122.6,838.2 107.5,838.8 105.6,839C103.6,839.2 86.6,840.1 84.5,840C82.4,839.9 65.6,838.2 63.3,837.9C61,837.6 40.2,835 39,833.7C37.8,832.4 37.8,813.7 39,812.5Z" fill="#ecebeb"/><path d="M39,812.5C40.2,811.3 61,809.7 63.3,809.4C65.6,809.1 82.4,807.4 84.5,807.3C86.6,807.2 103.6,808.1 105.6,808.3C107.5,808.5 122.6,809.1 123.5,810.5C124.4,811.9 124.4,835.4 123.5,836.8C122.6,838.2 107.5,838.8 105.6,839C103.6,839.2 86.6,840.1 84.5,840C82.4,839.9 65.6,838.2 63.3,837.9C61,837.6 40.2,835 39,833.7C37.8,832.4 37.8,813.7 39,812.5Z" fill="#fff" opacity="0.6" filter="url(#spE)"/><path d="M39,812.5C40.2,811.3 61,809.7 63.3,809.4C65.6,809.1 82.4,807.4 84.5,807.3C86.6,807.2 103.6,808.1 105.6,808.3C107.5,808.5 122.6,809.1 123.5,810.5C124.4,811.9 124.4,835.4 123.5,836.8C122.6,838.2 107.5,838.8 105.6,839C103.6,839.2 86.6,840.1 84.5,840C82.4,839.9 65.6,838.2 63.3,837.9C61,837.6 40.2,835 39,833.7C37.8,832.4 37.8,813.7 39,812.5Z" fill="#fff" opacity="0.6" filter="url(#spS)"/>
<path d="M39,812.5C40.2,811.3 61,809.7 63.3,809.4C65.6,809.1 82.4,807.4 84.5,807.3C86.6,807.2 103.6,808.1 105.6,808.3C107.5,808.5 122.6,809.1 123.5,810.5C124.4,811.9 124.4,835.4 123.5,836.8C122.6,838.2 107.5,838.8 105.6,839C103.6,839.2 86.6,840.1 84.5,840C82.4,839.9 65.6,838.2 63.3,837.9C61,837.6 40.2,835 39,833.7C37.8,832.4 37.8,813.7 39,812.5Z" fill="#fff" opacity="0.35" filter="url(#spG2)"/>
<path d="M129,809.7C129.5,808.4 137.7,808.8 138.6,809C139.5,809.2 146,813.8 147,814.5C148,815.2 157.8,821.9 158.9,822.5C160.1,823.1 168.6,826.1 170,826C171.4,825.9 184.5,821 186,820.5C187.5,820 198.8,816.4 200,816C201.2,815.6 210,811.7 210.5,812.4C211,813.1 211.7,829.5 210.5,830.7C209.3,831.9 188.2,835.6 186,836.1C183.8,836.6 167.7,840.1 165.7,840.2C163.7,840.3 147.2,839.1 145.4,838.8C143.6,838.5 129.8,836.3 129,834.8C128.2,833.3 128.5,811 129,809.7Z" fill="#ecebeb"/><path d="M129,809.7C129.5,808.4 137.7,808.8 138.6,809C139.5,809.2 146,813.8 147,814.5C148,815.2 157.8,821.9 158.9,822.5C160.1,823.1 168.6,826.1 170,826C171.4,825.9 184.5,821 186,820.5C187.5,820 198.8,816.4 200,816C201.2,815.6 210,811.7 210.5,812.4C211,813.1 211.7,829.5 210.5,830.7C209.3,831.9 188.2,835.6 186,836.1C183.8,836.6 167.7,840.1 165.7,840.2C163.7,840.3 147.2,839.1 145.4,838.8C143.6,838.5 129.8,836.3 129,834.8C128.2,833.3 128.5,811 129,809.7Z" fill="#fff" opacity="0.6" filter="url(#spE)"/><path d="M129,809.7C129.5,808.4 137.7,808.8 138.6,809C139.5,809.2 146,813.8 147,814.5C148,815.2 157.8,821.9 158.9,822.5C160.1,823.1 168.6,826.1 170,826C171.4,825.9 184.5,821 186,820.5C187.5,820 198.8,816.4 200,816C201.2,815.6 210,811.7 210.5,812.4C211,813.1 211.7,829.5 210.5,830.7C209.3,831.9 188.2,835.6 186,836.1C183.8,836.6 167.7,840.1 165.7,840.2C163.7,840.3 147.2,839.1 145.4,838.8C143.6,838.5 129.8,836.3 129,834.8C128.2,833.3 128.5,811 129,809.7Z" fill="#fff" opacity="0.6" filter="url(#spS)"/>
<path d="M129,809.7C129.5,808.4 137.7,808.8 138.6,809C139.5,809.2 146,813.8 147,814.5C148,815.2 157.8,821.9 158.9,822.5C160.1,823.1 168.6,826.1 170,826C171.4,825.9 184.5,821 186,820.5C187.5,820 198.8,816.4 200,816C201.2,815.6 210,811.7 210.5,812.4C211,813.1 211.7,829.5 210.5,830.7C209.3,831.9 188.2,835.6 186,836.1C183.8,836.6 167.7,840.1 165.7,840.2C163.7,840.3 147.2,839.1 145.4,838.8C143.6,838.5 129.8,836.3 129,834.8C128.2,833.3 128.5,811 129,809.7Z" fill="#fff" opacity="0.35" filter="url(#spG2)"/>
<path d="M217.5,815.5C217.7,815.1 220.2,812.7 221,813C221.8,813.3 232.7,820.8 234.4,821.5C236.1,822.2 252.8,826.2 254.8,826.3C256.8,826.4 271.8,824.8 273.8,824.3C275.8,823.8 294.4,816 295.5,816.1C296.6,816.2 296.4,826.5 295.5,827.3C294.6,828.1 279.8,832.3 277.8,832.7C275.8,833.1 257.2,836.2 254.8,836.1C252.4,836 232.3,830.7 230.4,830C228.5,829.3 218.1,821.9 217.5,821.2C216.9,820.5 217.3,815.9 217.5,815.5Z" fill="#ecebeb"/><path d="M217.5,815.5C217.7,815.1 220.2,812.7 221,813C221.8,813.3 232.7,820.8 234.4,821.5C236.1,822.2 252.8,826.2 254.8,826.3C256.8,826.4 271.8,824.8 273.8,824.3C275.8,823.8 294.4,816 295.5,816.1C296.6,816.2 296.4,826.5 295.5,827.3C294.6,828.1 279.8,832.3 277.8,832.7C275.8,833.1 257.2,836.2 254.8,836.1C252.4,836 232.3,830.7 230.4,830C228.5,829.3 218.1,821.9 217.5,821.2C216.9,820.5 217.3,815.9 217.5,815.5Z" fill="#fff" opacity="0.6" filter="url(#spE)"/><path d="M217.5,815.5C217.7,815.1 220.2,812.7 221,813C221.8,813.3 232.7,820.8 234.4,821.5C236.1,822.2 252.8,826.2 254.8,826.3C256.8,826.4 271.8,824.8 273.8,824.3C275.8,823.8 294.4,816 295.5,816.1C296.6,816.2 296.4,826.5 295.5,827.3C294.6,828.1 279.8,832.3 277.8,832.7C275.8,833.1 257.2,836.2 254.8,836.1C252.4,836 232.3,830.7 230.4,830C228.5,829.3 218.1,821.9 217.5,821.2C216.9,820.5 217.3,815.9 217.5,815.5Z" fill="#fff" opacity="0.6" filter="url(#spS)"/>
<path d="M217.5,815.5C217.7,815.1 220.2,812.7 221,813C221.8,813.3 232.7,820.8 234.4,821.5C236.1,822.2 252.8,826.2 254.8,826.3C256.8,826.4 271.8,824.8 273.8,824.3C275.8,823.8 294.4,816 295.5,816.1C296.6,816.2 296.4,826.5 295.5,827.3C294.6,828.1 279.8,832.3 277.8,832.7C275.8,833.1 257.2,836.2 254.8,836.1C252.4,836 232.3,830.7 230.4,830C228.5,829.3 218.1,821.9 217.5,821.2C216.9,820.5 217.3,815.9 217.5,815.5Z" fill="#fff" opacity="0.35" filter="url(#spG2)"/>
<path d="M301.3,803.3C301.8,801.7 311.1,805 312.2,805.3C313.3,805.6 322.4,809.2 323.7,809.6C325,810 336.6,812.3 338,812.4C339.4,812.5 350.9,811.1 352.3,811C353.7,810.9 365.3,809.8 366.7,809.6C368.1,809.4 380.3,806 381,807.3C381.7,808.6 381.7,833.9 381,835.4C380.3,836.9 368.8,837.9 366.7,838.2C364.6,838.5 340.7,841 338,841.1C335.3,841.2 314,839.9 312.2,839.7C310.4,839.5 301.8,838.6 301.3,836.8C300.8,835 300.8,804.9 301.3,803.3Z" fill="#ecebeb"/><path d="M301.3,803.3C301.8,801.7 311.1,805 312.2,805.3C313.3,805.6 322.4,809.2 323.7,809.6C325,810 336.6,812.3 338,812.4C339.4,812.5 350.9,811.1 352.3,811C353.7,810.9 365.3,809.8 366.7,809.6C368.1,809.4 380.3,806 381,807.3C381.7,808.6 381.7,833.9 381,835.4C380.3,836.9 368.8,837.9 366.7,838.2C364.6,838.5 340.7,841 338,841.1C335.3,841.2 314,839.9 312.2,839.7C310.4,839.5 301.8,838.6 301.3,836.8C300.8,835 300.8,804.9 301.3,803.3Z" fill="#fff" opacity="0.6" filter="url(#spE)"/><path d="M301.3,803.3C301.8,801.7 311.1,805 312.2,805.3C313.3,805.6 322.4,809.2 323.7,809.6C325,810 336.6,812.3 338,812.4C339.4,812.5 350.9,811.1 352.3,811C353.7,810.9 365.3,809.8 366.7,809.6C368.1,809.4 380.3,806 381,807.3C381.7,808.6 381.7,833.9 381,835.4C380.3,836.9 368.8,837.9 366.7,838.2C364.6,838.5 340.7,841 338,841.1C335.3,841.2 314,839.9 312.2,839.7C310.4,839.5 301.8,838.6 301.3,836.8C300.8,835 300.8,804.9 301.3,803.3Z" fill="#fff" opacity="0.6" filter="url(#spS)"/>
<path d="M301.3,803.3C301.8,801.7 311.1,805 312.2,805.3C313.3,805.6 322.4,809.2 323.7,809.6C325,810 336.6,812.3 338,812.4C339.4,812.5 350.9,811.1 352.3,811C353.7,810.9 365.3,809.8 366.7,809.6C368.1,809.4 380.3,806 381,807.3C381.7,808.6 381.7,833.9 381,835.4C380.3,836.9 368.8,837.9 366.7,838.2C364.6,838.5 340.7,841 338,841.1C335.3,841.2 314,839.9 312.2,839.7C310.4,839.5 301.8,838.6 301.3,836.8C300.8,835 300.8,804.9 301.3,803.3Z" fill="#fff" opacity="0.35" filter="url(#spG2)"/>
<path d="M386.1,815.3C387,814.7 402.3,816.6 403.9,816.7C405.5,816.8 416.8,818.3 418.2,818.2C419.6,818.1 431.2,814.3 432.6,813.9C434,813.5 445.5,809.9 446.9,809.6C448.3,809.3 460.5,807.2 461.2,808.1C461.9,809 462.1,825.6 461.2,826.8C460.3,827.9 445.9,830.7 444,831.1C442.1,831.5 426,833.8 424,833.9C422,834 405.8,833.3 403.9,833.1C402,832.9 387,830.5 386.1,829.6C385.2,828.7 385.2,815.9 386.1,815.3Z" fill="#ecebeb"/><path d="M386.1,815.3C387,814.7 402.3,816.6 403.9,816.7C405.5,816.8 416.8,818.3 418.2,818.2C419.6,818.1 431.2,814.3 432.6,813.9C434,813.5 445.5,809.9 446.9,809.6C448.3,809.3 460.5,807.2 461.2,808.1C461.9,809 462.1,825.6 461.2,826.8C460.3,827.9 445.9,830.7 444,831.1C442.1,831.5 426,833.8 424,833.9C422,834 405.8,833.3 403.9,833.1C402,832.9 387,830.5 386.1,829.6C385.2,828.7 385.2,815.9 386.1,815.3Z" fill="#fff" opacity="0.6" filter="url(#spE)"/><path d="M386.1,815.3C387,814.7 402.3,816.6 403.9,816.7C405.5,816.8 416.8,818.3 418.2,818.2C419.6,818.1 431.2,814.3 432.6,813.9C434,813.5 445.5,809.9 446.9,809.6C448.3,809.3 460.5,807.2 461.2,808.1C461.9,809 462.1,825.6 461.2,826.8C460.3,827.9 445.9,830.7 444,831.1C442.1,831.5 426,833.8 424,833.9C422,834 405.8,833.3 403.9,833.1C402,832.9 387,830.5 386.1,829.6C385.2,828.7 385.2,815.9 386.1,815.3Z" fill="#fff" opacity="0.6" filter="url(#spS)"/>
<path d="M386.1,815.3C387,814.7 402.3,816.6 403.9,816.7C405.5,816.8 416.8,818.3 418.2,818.2C419.6,818.1 431.2,814.3 432.6,813.9C434,813.5 445.5,809.9 446.9,809.6C448.3,809.3 460.5,807.2 461.2,808.1C461.9,809 462.1,825.6 461.2,826.8C460.3,827.9 445.9,830.7 444,831.1C442.1,831.5 426,833.8 424,833.9C422,834 405.8,833.3 403.9,833.1C402,832.9 387,830.5 386.1,829.6C385.2,828.7 385.2,815.9 386.1,815.3Z" fill="#fff" opacity="0.35" filter="url(#spG2)"/>
<path d="M465.5,814C466.8,813.2 487.8,812.7 490.6,812.5C493.4,812.3 518.4,810.9 521.2,810.9C524,810.9 543.6,811.3 545.7,811.5C547.8,811.7 563.2,814.4 564.1,815.5C565,816.6 565.5,833.1 564.1,833.9C562.7,834.7 539.4,832.6 536.5,832.4C533.6,832.2 509.4,831 505.9,830.8C502.3,830.6 467.5,828.6 465.5,827.8C463.5,827 464.2,814.8 465.5,814Z" fill="#ecebeb"/><path d="M465.5,814C466.8,813.2 487.8,812.7 490.6,812.5C493.4,812.3 518.4,810.9 521.2,810.9C524,810.9 543.6,811.3 545.7,811.5C547.8,811.7 563.2,814.4 564.1,815.5C565,816.6 565.5,833.1 564.1,833.9C562.7,834.7 539.4,832.6 536.5,832.4C533.6,832.2 509.4,831 505.9,830.8C502.3,830.6 467.5,828.6 465.5,827.8C463.5,827 464.2,814.8 465.5,814Z" fill="#fff" opacity="0.6" filter="url(#spE)"/><path d="M465.5,814C466.8,813.2 487.8,812.7 490.6,812.5C493.4,812.3 518.4,810.9 521.2,810.9C524,810.9 543.6,811.3 545.7,811.5C547.8,811.7 563.2,814.4 564.1,815.5C565,816.6 565.5,833.1 564.1,833.9C562.7,834.7 539.4,832.6 536.5,832.4C533.6,832.2 509.4,831 505.9,830.8C502.3,830.6 467.5,828.6 465.5,827.8C463.5,827 464.2,814.8 465.5,814Z" fill="#fff" opacity="0.6" filter="url(#spS)"/>
<path d="M465.5,814C466.8,813.2 487.8,812.7 490.6,812.5C493.4,812.3 518.4,810.9 521.2,810.9C524,810.9 543.6,811.3 545.7,811.5C547.8,811.7 563.2,814.4 564.1,815.5C565,816.6 565.5,833.1 564.1,833.9C562.7,834.7 539.4,832.6 536.5,832.4C533.6,832.2 509.4,831 505.9,830.8C502.3,830.6 467.5,828.6 465.5,827.8C463.5,827 464.2,814.8 465.5,814Z" fill="#fff" opacity="0.35" filter="url(#spG2)"/>
<path d="M569.3,803.8C570,803.2 581.4,803.1 583.3,803.3C585.2,803.5 604.2,806.9 606.5,807.3C608.8,807.7 628.1,810.6 629.8,810.8C631.5,811 639.7,809.9 640.2,810.8C640.7,811.7 640.7,828 640.2,829.4C639.7,830.8 631.5,838 629.8,838.7C628.1,839.4 608.8,843.2 606.5,843.3C604.2,843.4 585.1,841.5 583.3,841C581.5,840.5 571.2,834.2 570.5,832.9C569.8,831.6 569.4,816.9 569.3,815.4C569.2,813.9 568.6,804.4 569.3,803.8Z" fill="#ecebeb"/><path d="M569.3,803.8C570,803.2 581.4,803.1 583.3,803.3C585.2,803.5 604.2,806.9 606.5,807.3C608.8,807.7 628.1,810.6 629.8,810.8C631.5,811 639.7,809.9 640.2,810.8C640.7,811.7 640.7,828 640.2,829.4C639.7,830.8 631.5,838 629.8,838.7C628.1,839.4 608.8,843.2 606.5,843.3C604.2,843.4 585.1,841.5 583.3,841C581.5,840.5 571.2,834.2 570.5,832.9C569.8,831.6 569.4,816.9 569.3,815.4C569.2,813.9 568.6,804.4 569.3,803.8Z" fill="#fff" opacity="0.6" filter="url(#spE)"/><path d="M569.3,803.8C570,803.2 581.4,803.1 583.3,803.3C585.2,803.5 604.2,806.9 606.5,807.3C608.8,807.7 628.1,810.6 629.8,810.8C631.5,811 639.7,809.9 640.2,810.8C640.7,811.7 640.7,828 640.2,829.4C639.7,830.8 631.5,838 629.8,838.7C628.1,839.4 608.8,843.2 606.5,843.3C604.2,843.4 585.1,841.5 583.3,841C581.5,840.5 571.2,834.2 570.5,832.9C569.8,831.6 569.4,816.9 569.3,815.4C569.2,813.9 568.6,804.4 569.3,803.8Z" fill="#fff" opacity="0.6" filter="url(#spS)"/>
<path d="M569.3,803.8C570,803.2 581.4,803.1 583.3,803.3C585.2,803.5 604.2,806.9 606.5,807.3C608.8,807.7 628.1,810.6 629.8,810.8C631.5,811 639.7,809.9 640.2,810.8C640.7,811.7 640.7,828 640.2,829.4C639.7,830.8 631.5,838 629.8,838.7C628.1,839.4 608.8,843.2 606.5,843.3C604.2,843.4 585.1,841.5 583.3,841C581.5,840.5 571.2,834.2 570.5,832.9C569.8,831.6 569.4,816.9 569.3,815.4C569.2,813.9 568.6,804.4 569.3,803.8Z" fill="#fff" opacity="0.35" filter="url(#spG2)"/>
<path d="M301.3,803.3C301.8,801.7 311.1,805 312.2,805.3C313.3,805.6 322.4,809.2 323.7,809.6C325,810 336.6,812.3 338,812.4C339.4,812.5 350.9,811.1 352.3,811C353.7,810.9 365.3,809.8 366.7,809.6C368.1,809.4 380.3,806 381,807.3C381.7,808.6 381.7,833.9 381,835.4C380.3,836.9 368.8,837.9 366.7,838.2C364.6,838.5 340.7,841 338,841.1C335.3,841.2 314,839.9 312.2,839.7C310.4,839.5 301.8,838.6 301.3,836.8C300.8,835 300.8,804.9 301.3,803.3Z" fill="#fff" opacity="0.3" filter="url(#spRR)"/>
<path d="M569.3,816.5C570,815.8 583.1,819.2 585,819.5C586.9,819.8 604.5,822.4 606.5,822.5C608.5,822.6 623.3,822.7 625,822.5C626.7,822.3 639.4,818.2 640.2,818.5C641,818.8 640.7,828.4 640.2,829.4C639.7,830.4 631.5,838 629.8,838.7C628.1,839.4 608.8,843.2 606.5,843.3C604.2,843.4 585.1,841.5 583.3,841C581.5,840.5 571.2,834.1 570.5,832.9C569.8,831.7 568.6,817.2 569.3,816.5Z" fill="#fff" opacity="0.4" filter="url(#spRS)"/>
<path d="M569.3,803.8C570,803.2 581.4,803.1 583.3,803.3C585.2,803.5 604.2,806.9 606.5,807.3C608.8,807.7 628.1,810.6 629.8,810.8C631.5,811 639.7,809.9 640.2,810.8C640.7,811.7 640.7,828 640.2,829.4C639.7,830.8 631.5,838 629.8,838.7C628.1,839.4 608.8,843.2 606.5,843.3C604.2,843.4 585.1,841.5 583.3,841C581.5,840.5 571.2,834.2 570.5,832.9C569.8,831.6 569.4,816.9 569.3,815.4C569.2,813.9 568.6,804.4 569.3,803.8Z" fill="#fff" opacity="0.2" filter="url(#spRR)"/>
<path d="M39,867C40.2,865.8 61,864.2 63.3,863.9C65.6,863.6 82.4,861.9 84.5,861.8C86.6,861.7 103.6,862.6 105.6,862.8C107.5,863 122.6,863.6 123.5,865C124.4,866.4 124.4,889.9 123.5,891.3C122.6,892.7 107.5,893.3 105.6,893.5C103.6,893.7 86.6,894.6 84.5,894.5C82.4,894.4 65.6,892.7 63.3,892.4C61,892.1 40.2,889.5 39,888.2C37.8,886.9 37.8,868.2 39,867Z" fill="#ecebeb"/><path d="M39,867C40.2,865.8 61,864.2 63.3,863.9C65.6,863.6 82.4,861.9 84.5,861.8C86.6,861.7 103.6,862.6 105.6,862.8C107.5,863 122.6,863.6 123.5,865C124.4,866.4 124.4,889.9 123.5,891.3C122.6,892.7 107.5,893.3 105.6,893.5C103.6,893.7 86.6,894.6 84.5,894.5C82.4,894.4 65.6,892.7 63.3,892.4C61,892.1 40.2,889.5 39,888.2C37.8,886.9 37.8,868.2 39,867Z" fill="#fff" opacity="0.6" filter="url(#spE)"/><path d="M39,867C40.2,865.8 61,864.2 63.3,863.9C65.6,863.6 82.4,861.9 84.5,861.8C86.6,861.7 103.6,862.6 105.6,862.8C107.5,863 122.6,863.6 123.5,865C124.4,866.4 124.4,889.9 123.5,891.3C122.6,892.7 107.5,893.3 105.6,893.5C103.6,893.7 86.6,894.6 84.5,894.5C82.4,894.4 65.6,892.7 63.3,892.4C61,892.1 40.2,889.5 39,888.2C37.8,886.9 37.8,868.2 39,867Z" fill="#fff" opacity="0.6" filter="url(#spS)"/>
<path d="M39,867C40.2,865.8 61,864.2 63.3,863.9C65.6,863.6 82.4,861.9 84.5,861.8C86.6,861.7 103.6,862.6 105.6,862.8C107.5,863 122.6,863.6 123.5,865C124.4,866.4 124.4,889.9 123.5,891.3C122.6,892.7 107.5,893.3 105.6,893.5C103.6,893.7 86.6,894.6 84.5,894.5C82.4,894.4 65.6,892.7 63.3,892.4C61,892.1 40.2,889.5 39,888.2C37.8,886.9 37.8,868.2 39,867Z" fill="#fff" opacity="0.35" filter="url(#spG2)"/>
<path d="M129,864.7C129.5,863.4 137.7,863.8 138.6,864C139.5,864.2 146,868.8 147,869.5C148,870.2 157.8,876.9 158.9,877.5C160.1,878.1 168.6,881.1 170,881C171.4,880.9 184.5,876 186,875.5C187.5,875 198.8,871.4 200,871C201.2,870.6 210,866.7 210.5,867.4C211,868.1 211.7,884.5 210.5,885.7C209.3,886.9 188.2,890.6 186,891.1C183.8,891.6 167.7,895.1 165.7,895.2C163.7,895.3 147.2,894.1 145.4,893.8C143.6,893.5 129.8,891.3 129,889.8C128.2,888.3 128.5,866 129,864.7Z" fill="#ecebeb"/><path d="M129,864.7C129.5,863.4 137.7,863.8 138.6,864C139.5,864.2 146,868.8 147,869.5C148,870.2 157.8,876.9 158.9,877.5C160.1,878.1 168.6,881.1 170,881C171.4,880.9 184.5,876 186,875.5C187.5,875 198.8,871.4 200,871C201.2,870.6 210,866.7 210.5,867.4C211,868.1 211.7,884.5 210.5,885.7C209.3,886.9 188.2,890.6 186,891.1C183.8,891.6 167.7,895.1 165.7,895.2C163.7,895.3 147.2,894.1 145.4,893.8C143.6,893.5 129.8,891.3 129,889.8C128.2,888.3 128.5,866 129,864.7Z" fill="#fff" opacity="0.6" filter="url(#spE)"/><path d="M129,864.7C129.5,863.4 137.7,863.8 138.6,864C139.5,864.2 146,868.8 147,869.5C148,870.2 157.8,876.9 158.9,877.5C160.1,878.1 168.6,881.1 170,881C171.4,880.9 184.5,876 186,875.5C187.5,875 198.8,871.4 200,871C201.2,870.6 210,866.7 210.5,867.4C211,868.1 211.7,884.5 210.5,885.7C209.3,886.9 188.2,890.6 186,891.1C183.8,891.6 167.7,895.1 165.7,895.2C163.7,895.3 147.2,894.1 145.4,893.8C143.6,893.5 129.8,891.3 129,889.8C128.2,888.3 128.5,866 129,864.7Z" fill="#fff" opacity="0.6" filter="url(#spS)"/>
<path d="M129,864.7C129.5,863.4 137.7,863.8 138.6,864C139.5,864.2 146,868.8 147,869.5C148,870.2 157.8,876.9 158.9,877.5C160.1,878.1 168.6,881.1 170,881C171.4,880.9 184.5,876 186,875.5C187.5,875 198.8,871.4 200,871C201.2,870.6 210,866.7 210.5,867.4C211,868.1 211.7,884.5 210.5,885.7C209.3,886.9 188.2,890.6 186,891.1C183.8,891.6 167.7,895.1 165.7,895.2C163.7,895.3 147.2,894.1 145.4,893.8C143.6,893.5 129.8,891.3 129,889.8C128.2,888.3 128.5,866 129,864.7Z" fill="#fff" opacity="0.35" filter="url(#spG2)"/>
<path d="M217.5,870.5C217.7,870.1 220.2,867.7 221,868C221.8,868.3 232.7,875.8 234.4,876.5C236.1,877.2 252.8,881.2 254.8,881.3C256.8,881.4 271.8,879.8 273.8,879.3C275.8,878.8 294.4,871 295.5,871.1C296.6,871.2 296.4,881.5 295.5,882.3C294.6,883.1 279.8,887.3 277.8,887.7C275.8,888.1 257.2,891.2 254.8,891.1C252.4,891 232.3,885.7 230.4,885C228.5,884.3 218.1,876.9 217.5,876.2C216.9,875.5 217.3,870.9 217.5,870.5Z" fill="#ecebeb"/><path d="M217.5,870.5C217.7,870.1 220.2,867.7 221,868C221.8,868.3 232.7,875.8 234.4,876.5C236.1,877.2 252.8,881.2 254.8,881.3C256.8,881.4 271.8,879.8 273.8,879.3C275.8,878.8 294.4,871 295.5,871.1C296.6,871.2 296.4,881.5 295.5,882.3C294.6,883.1 279.8,887.3 277.8,887.7C275.8,888.1 257.2,891.2 254.8,891.1C252.4,891 232.3,885.7 230.4,885C228.5,884.3 218.1,876.9 217.5,876.2C216.9,875.5 217.3,870.9 217.5,870.5Z" fill="#fff" opacity="0.6" filter="url(#spE)"/><path d="M217.5,870.5C217.7,870.1 220.2,867.7 221,868C221.8,868.3 232.7,875.8 234.4,876.5C236.1,877.2 252.8,881.2 254.8,881.3C256.8,881.4 271.8,879.8 273.8,879.3C275.8,878.8 294.4,871 295.5,871.1C296.6,871.2 296.4,881.5 295.5,882.3C294.6,883.1 279.8,887.3 277.8,887.7C275.8,888.1 257.2,891.2 254.8,891.1C252.4,891 232.3,885.7 230.4,885C228.5,884.3 218.1,876.9 217.5,876.2C216.9,875.5 217.3,870.9 217.5,870.5Z" fill="#fff" opacity="0.6" filter="url(#spS)"/>
<path d="M217.5,870.5C217.7,870.1 220.2,867.7 221,868C221.8,868.3 232.7,875.8 234.4,876.5C236.1,877.2 252.8,881.2 254.8,881.3C256.8,881.4 271.8,879.8 273.8,879.3C275.8,878.8 294.4,871 295.5,871.1C296.6,871.2 296.4,881.5 295.5,882.3C294.6,883.1 279.8,887.3 277.8,887.7C275.8,888.1 257.2,891.2 254.8,891.1C252.4,891 232.3,885.7 230.4,885C228.5,884.3 218.1,876.9 217.5,876.2C216.9,875.5 217.3,870.9 217.5,870.5Z" fill="#fff" opacity="0.35" filter="url(#spG2)"/>
<path d="M301.3,858.3C301.8,856.7 311.1,860 312.2,860.3C313.3,860.6 322.4,864.2 323.7,864.6C325,865 336.6,867.3 338,867.4C339.4,867.5 350.9,866.1 352.3,866C353.7,865.9 365.3,864.8 366.7,864.6C368.1,864.4 380.3,861 381,862.3C381.7,863.6 381.7,888.9 381,890.4C380.3,891.9 368.8,892.9 366.7,893.2C364.6,893.5 340.7,896 338,896.1C335.3,896.2 314,894.9 312.2,894.7C310.4,894.5 301.8,893.6 301.3,891.8C300.8,890 300.8,859.9 301.3,858.3Z" fill="#ecebeb"/><path d="M301.3,858.3C301.8,856.7 311.1,860 312.2,860.3C313.3,860.6 322.4,864.2 323.7,864.6C325,865 336.6,867.3 338,867.4C339.4,867.5 350.9,866.1 352.3,866C353.7,865.9 365.3,864.8 366.7,864.6C368.1,864.4 380.3,861 381,862.3C381.7,863.6 381.7,888.9 381,890.4C380.3,891.9 368.8,892.9 366.7,893.2C364.6,893.5 340.7,896 338,896.1C335.3,896.2 314,894.9 312.2,894.7C310.4,894.5 301.8,893.6 301.3,891.8C300.8,890 300.8,859.9 301.3,858.3Z" fill="#fff" opacity="0.6" filter="url(#spE)"/><path d="M301.3,858.3C301.8,856.7 311.1,860 312.2,860.3C313.3,860.6 322.4,864.2 323.7,864.6C325,865 336.6,867.3 338,867.4C339.4,867.5 350.9,866.1 352.3,866C353.7,865.9 365.3,864.8 366.7,864.6C368.1,864.4 380.3,861 381,862.3C381.7,863.6 381.7,888.9 381,890.4C380.3,891.9 368.8,892.9 366.7,893.2C364.6,893.5 340.7,896 338,896.1C335.3,896.2 314,894.9 312.2,894.7C310.4,894.5 301.8,893.6 301.3,891.8C300.8,890 300.8,859.9 301.3,858.3Z" fill="#fff" opacity="0.6" filter="url(#spS)"/>
<path d="M301.3,858.3C301.8,856.7 311.1,860 312.2,860.3C313.3,860.6 322.4,864.2 323.7,864.6C325,865 336.6,867.3 338,867.4C339.4,867.5 350.9,866.1 352.3,866C353.7,865.9 365.3,864.8 366.7,864.6C368.1,864.4 380.3,861 381,862.3C381.7,863.6 381.7,888.9 381,890.4C380.3,891.9 368.8,892.9 366.7,893.2C364.6,893.5 340.7,896 338,896.1C335.3,896.2 314,894.9 312.2,894.7C310.4,894.5 301.8,893.6 301.3,891.8C300.8,890 300.8,859.9 301.3,858.3Z" fill="#fff" opacity="0.35" filter="url(#spG2)"/>
<path d="M386.1,870.3C387,869.7 402.3,871.6 403.9,871.7C405.5,871.8 416.8,873.3 418.2,873.2C419.6,873.1 431.2,869.3 432.6,868.9C434,868.5 445.5,864.9 446.9,864.6C448.3,864.3 460.5,862.2 461.2,863.1C461.9,864 462.1,880.6 461.2,881.8C460.3,882.9 445.9,885.7 444,886.1C442.1,886.5 426,888.8 424,888.9C422,889 405.8,888.3 403.9,888.1C402,887.9 387,885.5 386.1,884.6C385.2,883.7 385.2,870.9 386.1,870.3Z" fill="#ecebeb"/><path d="M386.1,870.3C387,869.7 402.3,871.6 403.9,871.7C405.5,871.8 416.8,873.3 418.2,873.2C419.6,873.1 431.2,869.3 432.6,868.9C434,868.5 445.5,864.9 446.9,864.6C448.3,864.3 460.5,862.2 461.2,863.1C461.9,864 462.1,880.6 461.2,881.8C460.3,882.9 445.9,885.7 444,886.1C442.1,886.5 426,888.8 424,888.9C422,889 405.8,888.3 403.9,888.1C402,887.9 387,885.5 386.1,884.6C385.2,883.7 385.2,870.9 386.1,870.3Z" fill="#fff" opacity="0.6" filter="url(#spE)"/><path d="M386.1,870.3C387,869.7 402.3,871.6 403.9,871.7C405.5,871.8 416.8,873.3 418.2,873.2C419.6,873.1 431.2,869.3 432.6,868.9C434,868.5 445.5,864.9 446.9,864.6C448.3,864.3 460.5,862.2 461.2,863.1C461.9,864 462.1,880.6 461.2,881.8C460.3,882.9 445.9,885.7 444,886.1C442.1,886.5 426,888.8 424,888.9C422,889 405.8,888.3 403.9,888.1C402,887.9 387,885.5 386.1,884.6C385.2,883.7 385.2,870.9 386.1,870.3Z" fill="#fff" opacity="0.6" filter="url(#spS)"/>
<path d="M386.1,870.3C387,869.7 402.3,871.6 403.9,871.7C405.5,871.8 416.8,873.3 418.2,873.2C419.6,873.1 431.2,869.3 432.6,868.9C434,868.5 445.5,864.9 446.9,864.6C448.3,864.3 460.5,862.2 461.2,863.1C461.9,864 462.1,880.6 461.2,881.8C460.3,882.9 445.9,885.7 444,886.1C442.1,886.5 426,888.8 424,888.9C422,889 405.8,888.3 403.9,888.1C402,887.9 387,885.5 386.1,884.6C385.2,883.7 385.2,870.9 386.1,870.3Z" fill="#fff" opacity="0.35" filter="url(#spG2)"/>
<path d="M465.5,869C466.8,868.2 487.8,867.7 490.6,867.5C493.4,867.3 518.4,865.9 521.2,865.9C524,865.9 543.6,866.3 545.7,866.5C547.8,866.7 563.2,869.4 564.1,870.5C565,871.6 565.5,888.1 564.1,888.9C562.7,889.7 539.4,887.6 536.5,887.4C533.6,887.2 509.4,886 505.9,885.8C502.3,885.6 467.5,883.6 465.5,882.8C463.5,882 464.2,869.8 465.5,869Z" fill="#ecebeb"/><path d="M465.5,869C466.8,868.2 487.8,867.7 490.6,867.5C493.4,867.3 518.4,865.9 521.2,865.9C524,865.9 543.6,866.3 545.7,866.5C547.8,866.7 563.2,869.4 564.1,870.5C565,871.6 565.5,888.1 564.1,888.9C562.7,889.7 539.4,887.6 536.5,887.4C533.6,887.2 509.4,886 505.9,885.8C502.3,885.6 467.5,883.6 465.5,882.8C463.5,882 464.2,869.8 465.5,869Z" fill="#fff" opacity="0.6" filter="url(#spE)"/><path d="M465.5,869C466.8,868.2 487.8,867.7 490.6,867.5C493.4,867.3 518.4,865.9 521.2,865.9C524,865.9 543.6,866.3 545.7,866.5C547.8,866.7 563.2,869.4 564.1,870.5C565,871.6 565.5,888.1 564.1,888.9C562.7,889.7 539.4,887.6 536.5,887.4C533.6,887.2 509.4,886 505.9,885.8C502.3,885.6 467.5,883.6 465.5,882.8C463.5,882 464.2,869.8 465.5,869Z" fill="#fff" opacity="0.6" filter="url(#spS)"/>
<path d="M465.5,869C466.8,868.2 487.8,867.7 490.6,867.5C493.4,867.3 518.4,865.9 521.2,865.9C524,865.9 543.6,866.3 545.7,866.5C547.8,866.7 563.2,869.4 564.1,870.5C565,871.6 565.5,888.1 564.1,888.9C562.7,889.7 539.4,887.6 536.5,887.4C533.6,887.2 509.4,886 505.9,885.8C502.3,885.6 467.5,883.6 465.5,882.8C463.5,882 464.2,869.8 465.5,869Z" fill="#fff" opacity="0.35" filter="url(#spG2)"/>
<path d="M569.3,858.8C570,858.2 581.4,858.1 583.3,858.3C585.2,858.5 604.2,861.9 606.5,862.3C608.8,862.7 628.1,865.6 629.8,865.8C631.5,866 639.7,864.9 640.2,865.8C640.7,866.7 640.7,883 640.2,884.4C639.7,885.8 631.5,893 629.8,893.7C628.1,894.4 608.8,898.2 606.5,898.3C604.2,898.4 585.1,896.5 583.3,896C581.5,895.5 571.2,889.2 570.5,887.9C569.8,886.6 569.4,871.9 569.3,870.4C569.2,868.9 568.6,859.4 569.3,858.8Z" fill="#ecebeb"/><path d="M569.3,858.8C570,858.2 581.4,858.1 583.3,858.3C585.2,858.5 604.2,861.9 606.5,862.3C608.8,862.7 628.1,865.6 629.8,865.8C631.5,866 639.7,864.9 640.2,865.8C640.7,866.7 640.7,883 640.2,884.4C639.7,885.8 631.5,893 629.8,893.7C628.1,894.4 608.8,898.2 606.5,898.3C604.2,898.4 585.1,896.5 583.3,896C581.5,895.5 571.2,889.2 570.5,887.9C569.8,886.6 569.4,871.9 569.3,870.4C569.2,868.9 568.6,859.4 569.3,858.8Z" fill="#fff" opacity="0.6" filter="url(#spE)"/><path d="M569.3,858.8C570,858.2 581.4,858.1 583.3,858.3C585.2,858.5 604.2,861.9 606.5,862.3C608.8,862.7 628.1,865.6 629.8,865.8C631.5,866 639.7,864.9 640.2,865.8C640.7,866.7 640.7,883 640.2,884.4C639.7,885.8 631.5,893 629.8,893.7C628.1,894.4 608.8,898.2 606.5,898.3C604.2,898.4 585.1,896.5 583.3,896C581.5,895.5 571.2,889.2 570.5,887.9C569.8,886.6 569.4,871.9 569.3,870.4C569.2,868.9 568.6,859.4 569.3,858.8Z" fill="#fff" opacity="0.6" filter="url(#spS)"/>
<path d="M569.3,858.8C570,858.2 581.4,858.1 583.3,858.3C585.2,858.5 604.2,861.9 606.5,862.3C608.8,862.7 628.1,865.6 629.8,865.8C631.5,866 639.7,864.9 640.2,865.8C640.7,866.7 640.7,883 640.2,884.4C639.7,885.8 631.5,893 629.8,893.7C628.1,894.4 608.8,898.2 606.5,898.3C604.2,898.4 585.1,896.5 583.3,896C581.5,895.5 571.2,889.2 570.5,887.9C569.8,886.6 569.4,871.9 569.3,870.4C569.2,868.9 568.6,859.4 569.3,858.8Z" fill="#fff" opacity="0.35" filter="url(#spG2)"/>
<path d="M301.3,877.5C302.2,877 318.2,881.2 320,881.5C321.8,881.8 335.7,884 338,884C340.3,884 364.6,881.7 366.7,881.5C368.8,881.3 380.3,879.1 381,879.5C381.7,879.9 381.7,889.7 381,890.4C380.3,891.1 368.8,892.9 366.7,893.2C364.6,893.5 340.7,896 338,896.1C335.3,896.2 314,894.9 312.2,894.7C310.4,894.5 301.8,892.7 301.3,891.8C300.8,890.9 300.4,878 301.3,877.5Z" fill="#fff" opacity="0.4" filter="url(#spRR)"/>
<ellipse cx="318" cy="888.5" rx="5" ry="1.8" fill="#d86048" opacity="0.55"/>
<ellipse cx="345" cy="888.5" rx="4" ry="1.8" fill="#d86048" opacity="0.55"/>
<ellipse cx="362" cy="888.5" rx="8" ry="1.8" fill="#d86048" opacity="0.55"/>
<path d="M569.3,858.8C570,858.2 581.4,858.1 583.3,858.3C585.2,858.5 604.2,861.9 606.5,862.3C608.8,862.7 628.1,865.6 629.8,865.8C631.5,866 639.7,864.9 640.2,865.8C640.7,866.7 640.7,883 640.2,884.4C639.7,885.8 631.5,893 629.8,893.7C628.1,894.4 608.8,898.2 606.5,898.3C604.2,898.4 585.1,896.5 583.3,896C581.5,895.5 571.2,889.2 570.5,887.9C569.8,886.6 569.4,871.9 569.3,870.4C569.2,868.9 568.6,859.4 569.3,858.8Z" fill="#fff" opacity="0.2" filter="url(#spRR)"/>
<ellipse cx="588" cy="888.5" rx="7" ry="2.2" fill="#d86048" opacity="0.6"/>
<path d="M600,875.5 Q615,873.5 630,877.5" stroke="#e09080" stroke-width="1.2" fill="none" opacity="0.6"/>
<rect x="105" y="743.2" width="16.4" height="1.6" fill="#111"/>
<rect x="189.6" y="743.2" width="12.1" height="1.6" fill="#111"/>
<rect x="276.2" y="743.2" width="11.5" height="1.6" fill="#111"/>
<rect x="368" y="743.2" width="11" height="1.6" fill="#111"/>
<rect x="443.5" y="743.2" width="12" height="1.6" fill="#111"/>
<rect x="546.3" y="743.2" width="11.1" height="1.6" fill="#111"/>
<rect x="626.3" y="743.2" width="10.7" height="1.6" fill="#111"/>
<text x="111" y="741.8" font-size="10.4" fill="#111" text-anchor="middle" stroke="#111" stroke-width="0.3">1mm</text>
<rect x="647.2" y="703.4" width="7.4" height="36.4" fill="url(#cbar)"/>
<text x="656.6" y="708.3" font-size="10" fill="#333" stroke="#333" stroke-width="0.3">3</text>
<text x="656.6" y="719.7" font-size="10" fill="#333" stroke="#333" stroke-width="0.3">2</text>
<text x="656.6" y="731.1" font-size="10" fill="#333" stroke="#333" stroke-width="0.3">1</text>
<text x="656.6" y="742.5" font-size="10" fill="#333" stroke="#333" stroke-width="0.3">0</text>
<rect x="647.2" y="753.3" width="7.4" height="36.4" fill="url(#cbar)"/>
<text x="656.6" y="758.2" font-size="10" fill="#333" stroke="#333" stroke-width="0.3">3</text>
<text x="656.6" y="769.6" font-size="10" fill="#333" stroke="#333" stroke-width="0.3">2</text>
<text x="656.6" y="781" font-size="10" fill="#333" stroke="#333" stroke-width="0.3">1</text>
<text x="656.6" y="792.4" font-size="10" fill="#333" stroke="#333" stroke-width="0.3">0</text>
<rect x="647.2" y="804" width="7.4" height="36.4" fill="url(#cbar)"/>
<text x="656.6" y="808.9" font-size="10" fill="#333" stroke="#333" stroke-width="0.3">3</text>
<text x="656.6" y="820.3" font-size="10" fill="#333" stroke="#333" stroke-width="0.3">2</text>
<text x="656.6" y="831.7" font-size="10" fill="#333" stroke="#333" stroke-width="0.3">1</text>
<text x="656.6" y="843.1" font-size="10" fill="#333" stroke="#333" stroke-width="0.3">0</text>
<rect x="647.2" y="859.4" width="7.4" height="36.4" fill="url(#cbar)"/>
<text x="656.6" y="864.3" font-size="10" fill="#333" stroke="#333" stroke-width="0.3">3</text>
<text x="656.6" y="875.7" font-size="10" fill="#333" stroke="#333" stroke-width="0.3">2</text>
<text x="656.6" y="887.1" font-size="10" fill="#333" stroke="#333" stroke-width="0.3">1</text>
<text x="656.6" y="898.5" font-size="10" fill="#333" stroke="#333" stroke-width="0.3">0</text>
</svg>
</body></html>
